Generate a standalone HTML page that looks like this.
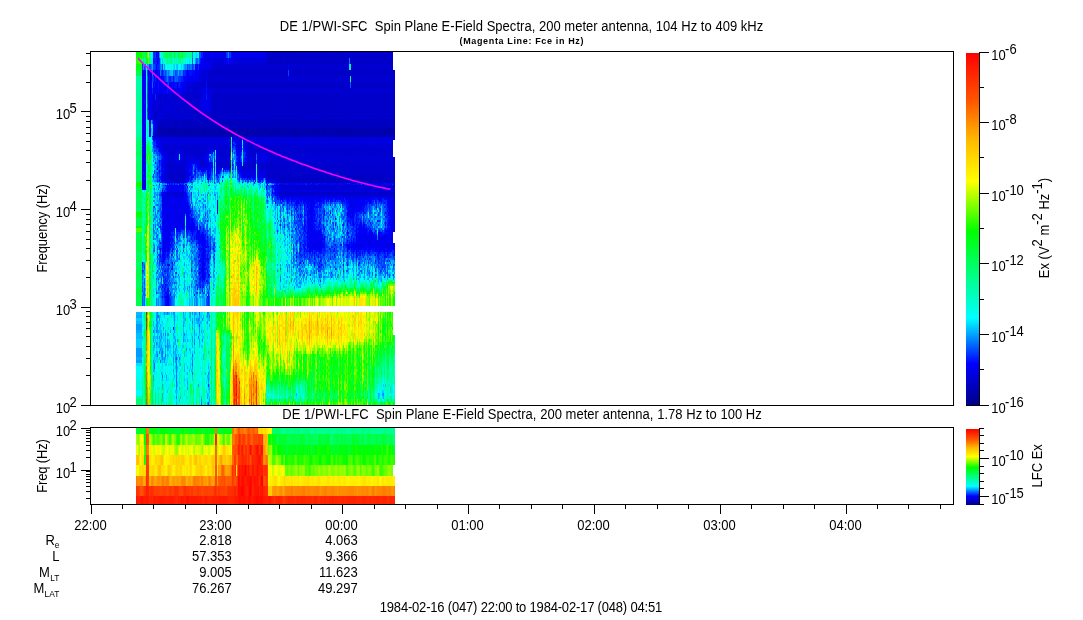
<!DOCTYPE html>
<html lang="en"><head><meta charset="utf-8"><title>DE 1/PWI Spin Plane E-Field Spectra</title>
<style>html,body{margin:0;padding:0;background:#fff;}body{width:1083px;height:620px;overflow:hidden;}</style>
</head><body>
<svg width="1083" height="620" viewBox="0 0 1083 620" style="display:block">
<rect x="0" y="0" width="1083" height="620" fill="#fff"/>
<g shape-rendering="crispEdges" fill="none" stroke-width="1" transform="translate(.5 0)">
<path stroke="#0000ad" d="M158 128v8M159 132v5M160 128v4M161 128v4M161 136v1M162 132v4M163 132v4M164 132v4M166 136v1M167 128v8M168 128v4M168 136v1M169 128v4M170 128v9M172 128v4M173 128v8M174 128v4M175 128v8M176 128v4M176 136v1M177 128v4M178 132v5M180 136v1M181 128v9M182 128v4M182 136v1M183 136v1M184 128v9M185 128v9M186 136v1M187 132v5M188 132v5M189 128v8M190 128v8M191 128v4M192 128v8M193 132v4M194 128v4M195 128v9M196 136v1M197 128v4M197 136v1M198 136v1M199 132v5M200 128v4M200 136v1M202 128v4M203 128v9M204 128v9M205 132v5M206 132v4M207 136v1M208 128v4M209 128v4M211 128v4M212 128v9M213 136v1M214 128v9M215 132v5M216 136v1M217 128v8M218 128v8M219 128v4M220 132v5M221 128v9M222 132v4M223 128v9M224 128v9M225 128v9M226 132v5M227 128v4M227 136v1M228 128v8M229 128v4M230 132v5M232 128v4M233 128v8M234 128v9M235 132v5M236 128v9M237 132v4M238 132v5M239 128v9M240 136v1M241 136v1M242 128v9M243 132v4M245 128v8M246 128v8M247 128v9M248 132v5M249 132v5M250 128v9M251 128v4M252 128v4M252 136v1M253 128v9M254 128v4M256 132v4M257 128v4M258 132v4M259 128v4M259 136v1M260 136v1M262 132v5M263 132v4M264 128v4M265 128v4M265 136v1M266 128v9M267 128v4M268 132v4M269 128v4M270 132v5M271 132v4M272 128v8M273 132v5M274 128v4M274 136v1M275 128v9M276 132v5M277 128v8M278 128v4M278 136v1M279 128v4M280 132v5M282 132v5M283 128v8M284 128v8M285 132v4M286 128v4M287 128v4M287 136v1M289 128v4M290 132v4M291 128v4M291 136v1M292 128v9M293 128v9M294 128v9M295 132v5M296 132v5M297 132v4M298 128v9M299 132v4M300 136v1M301 132v4M302 132v4M305 128v9M306 128v8M307 128v4M308 128v4M308 136v1M309 128v4M310 132v4M311 128v4M311 136v1M312 128v8M313 128v4M314 128v4M314 136v1M315 128v8M316 128v4M316 136v1M317 136v1M318 128v9M319 132v4M320 136v1M321 128v4M321 136v1M322 128v4M322 136v1M323 128v4M324 128v8M325 128v8M326 128v4M327 136v1M328 132v5M329 128v4M329 136v1M331 136v1M332 132v5M333 128v4M334 136v1M335 128v9M336 128v8M337 132v5M338 128v9M339 132v5M340 128v9M341 128v8M342 128v8M343 128v9M344 132v4M345 132v4M346 132v5M347 128v8M348 128v4M349 128v4M350 128v8M351 132v5M352 128v4M352 136v1M353 132v4M354 132v5M355 136v1M356 128v4M357 128v4M358 128v9M359 132v4M360 128v8M361 128v9M362 136v1M364 128v9M365 132v4M366 128v4M366 136v1M367 132v4M368 128v8M370 136v1M372 132v4M373 132v4M374 128v9M375 136v1M376 128v4M376 136v1M377 132v4M378 136v1M379 132v4M380 128v4M381 136v1M382 128v9M383 132v4M384 128v4M385 128v8M386 128v4M386 136v1M387 128v9M388 128v4M389 128v4M390 128v9M391 128v4M391 136v1M392 128v9M393 128v8M394 132v5"/>
<path stroke="#0000b6" d="M157 132v5M158 136v1M159 128v4M160 132v5M161 132v4M162 128v4M162 136v1M163 128v4M163 136v1M164 128v4M164 136v1M165 128v9M166 128v8M167 136v1M168 132v4M169 132v5M171 128v9M172 132v5M173 136v1M174 132v5M175 136v1M176 132v4M177 132v5M178 128v4M179 128v9M180 128v8M182 132v4M183 128v8M186 128v8M187 128v4M188 128v4M189 136v1M190 136v1M191 132v5M192 136v1M193 128v4M193 136v1M194 132v5M196 128v8M197 132v4M198 128v8M199 128v4M200 132v4M201 128v9M202 132v5M205 128v4M206 128v4M206 136v1M207 128v8M208 132v5M209 132v5M210 128v9M211 132v5M213 128v8M215 128v4M216 128v8M217 136v1M218 136v1M219 132v5M220 128v4M222 128v4M222 136v1M226 128v4M227 132v4M228 136v1M229 132v5M230 128v4M231 128v9M232 132v5M233 136v1M235 128v4M237 128v4M237 136v1M238 128v4M240 119v1M240 128v8M241 128v8M243 128v4M243 136v1M244 128v9M245 136v1M246 136v1M248 128v4M249 128v4M251 132v5M252 132v4M254 132v5M255 128v9M256 128v4M256 136v1M257 132v5M258 128v4M258 136v1M259 132v4M260 128v8M261 128v9M262 128v4M263 128v4M263 136v1M264 132v5M265 132v4M267 132v5M268 128v4M268 136v1M269 132v5M270 128v4M271 128v4M271 136v1M272 136v1M273 128v4M274 132v4M275 119v1M276 128v4M277 136v1M278 132v4M279 132v5M280 128v4M281 128v9M282 128v4M283 136v1M284 136v1M285 128v4M285 136v1M286 132v5M287 132v4M288 128v9M289 132v5M290 128v4M290 136v1M291 132v4M295 128v4M296 128v4M297 128v4M297 136v1M299 128v4M299 136v1M300 128v8M301 128v4M301 136v1M302 128v4M302 136v1M303 128v9M304 128v9M306 136v1M307 132v5M308 132v4M309 132v5M310 128v4M310 136v1M311 132v4M312 136v1M313 132v5M314 132v4M315 136v1M316 132v4M317 128v8M319 128v4M319 136v1M320 128v8M321 132v4M322 132v4M323 132v5M324 136v1M325 136v1M326 132v5M327 128v8M328 128v4M329 119v1M329 132v4M330 128v9M331 128v8M332 128v4M333 132v5M334 128v8M336 136v1M337 128v4M339 128v4M341 136v1M342 136v1M344 128v4M344 136v1M345 128v4M345 136v1M346 128v4M347 136v1M348 132v5M349 132v5M350 136v1M351 128v4M352 132v4M353 128v4M353 136v1M354 128v4M355 128v8M356 132v5M357 132v5M359 128v4M359 136v1M360 136v1M362 128v8M363 128v9M365 128v4M365 136v1M366 132v4M367 128v4M367 136v1M368 136v1M369 128v9M370 128v8M371 128v9M372 128v4M372 136v1M373 128v4M373 136v1M375 128v8M376 132v4M377 128v4M377 136v1M378 128v8M379 128v4M379 136v1M380 132v5M381 128v8M383 128v4M383 136v1M384 132v5M385 136v1M386 132v4M388 119v1M388 132v5M389 132v5M391 132v4M393 119v1M393 136v1M394 128v4"/>
<path stroke="#0000bf" d="M156 136v1M157 128v4M158 124v4M159 124v4M160 124v4M161 119v1M161 124v4M163 119v9M164 124v4M165 119v5M166 124v4M167 124v4M168 120v8M169 119v9M170 176v2M172 120v4M172 176v2M173 119v9M174 120v8M175 119v9M176 120v8M177 120v8M178 119v9M179 119v1M179 124v4M180 119v1M181 124v4M182 120v8M183 120v8M184 119v9M185 119v9M186 120v8M187 119v9M188 119v1M188 124v4M189 119v9M190 119v9M191 120v8M192 124v4M193 119v9M194 120v8M195 119v1M195 124v4M196 119v9M197 120v8M198 119v9M199 119v9M200 119v9M201 119v9M202 120v8M203 119v9M204 120v8M205 119v9M206 119v9M207 120v8M208 120v8M209 120v8M210 119v9M211 119v9M212 119v9M213 119v1M213 124v4M214 119v9M215 119v9M216 119v9M217 119v9M218 120v8M219 119v9M220 119v9M221 119v9M222 119v9M223 119v9M224 119v9M225 119v9M226 119v9M227 119v9M228 119v9M229 119v9M230 119v9M231 119v9M232 120v8M233 119v9M234 119v9M235 119v5M236 119v9M237 119v9M238 119v9M239 119v9M240 120v8M241 119v9M242 119v9M243 119v9M244 120v8M245 119v9M246 120v8M247 119v9M248 119v9M249 120v8M250 119v9M251 119v9M252 119v9M253 119v9M254 120v8M255 70v6M255 119v9M256 120v8M257 119v9M258 119v9M259 119v9M260 119v9M261 120v8M262 119v9M263 120v8M264 119v9M265 119v9M266 119v9M267 119v9M268 120v8M269 58v6M269 119v9M270 124v4M271 119v9M272 119v9M273 119v9M274 119v9M275 120v8M276 119v9M277 119v9M278 119v9M279 119v9M280 58v6M280 119v9M281 119v9M281 180v2M282 119v9M282 178v4M283 119v9M283 176v7M284 119v9M284 178v2M285 120v8M285 182v1M286 119v9M286 182v1M287 58v6M287 119v9M287 180v2M288 120v8M288 180v3M289 119v9M289 180v2M290 119v9M290 178v4M291 119v9M291 178v4M292 119v9M292 176v2M293 119v9M293 180v2M294 119v9M294 176v2M295 119v9M295 180v3M296 119v9M297 119v9M297 182v1M298 119v9M299 119v9M299 182v1M300 119v9M300 178v2M301 119v9M301 182v1M302 119v9M303 119v9M303 176v4M303 182v1M304 120v8M304 180v3M305 119v9M305 178v2M306 119v9M306 178v2M307 119v9M308 119v9M308 176v2M309 119v9M310 119v9M310 178v4M311 120v8M312 119v9M312 178v2M313 119v9M313 176v4M314 119v9M314 182v1M315 119v9M315 182v1M316 119v9M316 182v1M317 120v8M317 176v2M318 119v9M318 178v2M318 182v1M319 119v9M320 119v9M320 176v2M320 182v1M321 119v9M321 176v4M322 94v6M322 119v9M322 178v2M323 119v9M323 178v2M323 182v1M324 119v9M325 119v9M325 180v3M326 119v9M327 119v9M327 176v2M328 119v9M328 176v2M328 180v2M329 58v6M329 120v8M329 182v1M330 119v9M330 176v2M330 180v2M331 119v9M331 178v5M332 119v9M332 180v3M333 119v9M333 176v2M334 120v8M334 180v3M335 119v9M335 182v1M336 119v9M336 176v2M337 119v9M337 180v3M338 119v9M338 182v1M339 119v9M339 178v2M339 182v1M340 119v9M341 119v9M341 176v2M342 58v6M342 119v9M343 119v9M343 178v2M344 119v9M344 180v2M345 119v9M345 180v2M346 120v8M346 176v2M346 180v2M347 120v8M347 176v2M348 58v6M348 119v9M348 176v6M349 70v6M349 119v9M349 182v1M350 124v4M350 178v4M351 119v9M351 176v2M352 119v9M353 119v9M353 180v2M354 119v9M354 176v2M355 119v9M355 182v1M356 120v8M356 178v5M357 119v9M358 119v9M358 176v2M358 182v1M359 119v9M359 176v2M359 182v1M360 119v9M360 176v4M360 182v1M361 119v9M361 176v2M361 180v2M362 119v9M362 176v4M363 119v9M363 180v2M364 119v9M364 176v2M364 182v1M365 119v9M365 180v2M366 119v9M366 178v2M367 119v9M367 178v2M367 182v1M368 119v9M368 176v2M369 119v9M369 180v3M370 119v9M370 176v2M370 180v3M371 119v9M371 176v2M372 119v9M372 176v2M373 119v9M373 178v2M374 120v8M374 176v4M375 119v9M375 176v4M376 120v8M376 176v2M377 119v9M377 180v3M378 119v9M378 176v2M379 120v8M379 178v2M380 119v9M380 182v1M381 119v9M381 178v4M382 119v9M382 178v2M382 182v1M383 119v9M384 119v9M384 180v2M385 94v6M385 119v9M386 119v9M386 182v1M387 119v9M387 180v2M388 120v8M388 178v4M389 119v9M390 119v9M391 119v9M391 176v4M391 182v1M392 119v9M393 120v8M393 180v3M394 119v5"/>
<path stroke="#0000c8" d="M154 136v1M155 112v6M155 136v1M156 112v6M156 119v1M156 132v4M157 119v5M158 94v6M158 119v5M159 119v5M160 100v4M160 119v5M161 108v4M161 120v4M162 120v8M164 119v5M165 124v4M166 94v10M166 112v4M166 119v5M167 116v2M167 119v5M168 116v2M168 119v1M168 162v2M168 168v2M168 174v6M169 172v8M170 112v4M170 119v9M170 162v2M170 174v2M170 178v2M171 108v10M171 120v8M171 164v6M171 174v6M172 94v6M172 119v1M172 124v4M172 170v4M172 178v2M173 170v2M173 174v4M174 108v4M174 119v1M174 168v4M174 174v4M175 94v10M175 174v6M176 94v6M176 119v1M176 166v2M176 174v6M177 94v6M177 108v4M177 119v1M177 174v6M178 174v6M179 108v4M179 120v4M179 168v4M179 174v6M180 94v6M180 120v8M180 170v2M180 174v6M181 108v8M181 119v5M181 170v2M181 174v6M182 94v6M182 119v1M182 172v8M183 119v1M183 162v4M183 174v6M184 108v10M186 104v8M186 119v1M187 94v10M188 94v6M188 120v4M189 94v6M189 112v6M190 112v6M191 94v6M191 116v2M191 119v1M192 94v6M192 112v6M192 119v5M192 145v1M194 112v6M194 119v1M195 94v6M195 112v6M195 120v4M196 108v10M197 94v6M197 119v1M198 94v10M198 112v6M199 112v6M202 116v2M202 119v1M203 82v6M203 116v2M204 82v6M204 116v2M204 119v1M205 82v6M207 82v6M207 119v1M208 82v6M208 116v2M208 119v1M209 116v2M209 119v1M210 82v6M210 116v2M211 70v6M211 82v6M211 116v2M212 70v6M212 82v6M212 112v6M213 70v6M213 82v6M213 94v24M213 120v4M214 70v6M214 82v6M214 94v24M215 70v6M215 82v6M215 94v24M216 70v6M216 82v6M216 94v24M217 70v6M217 82v6M217 94v24M218 70v6M218 82v6M218 94v24M218 119v1M219 70v6M219 82v6M219 94v24M219 164v2M220 70v6M220 82v6M220 94v10M220 108v10M221 70v6M221 82v6M221 94v24M222 70v6M222 82v6M222 94v24M222 162v2M223 70v6M223 82v6M223 94v24M223 164v2M224 70v6M224 82v6M224 94v24M224 162v4M225 70v6M225 82v6M225 94v24M225 162v2M226 70v6M226 82v6M226 94v24M226 162v2M227 70v6M227 82v6M227 94v24M228 70v6M228 82v6M228 94v24M228 164v2M229 70v6M229 82v6M229 94v24M230 70v6M230 82v6M230 94v24M231 70v6M231 82v6M231 94v24M232 70v6M232 82v6M232 94v24M232 119v1M233 70v6M233 82v6M233 94v22M234 70v6M234 82v6M234 94v22M235 70v6M235 82v6M235 94v22M235 124v4M236 70v6M236 82v6M236 94v24M237 70v6M237 82v6M237 94v24M238 70v6M238 82v6M238 94v24M239 70v6M239 82v6M239 94v24M240 70v6M240 82v6M240 94v14M240 112v6M241 70v6M241 82v6M241 94v24M242 70v6M242 82v6M242 94v24M243 70v6M243 82v6M243 94v24M243 166v2M244 70v6M244 82v6M244 94v22M244 119v1M245 70v6M245 82v6M245 94v24M246 70v6M246 82v6M246 94v24M246 119v1M247 70v6M247 82v6M247 94v24M248 70v6M248 82v6M248 94v24M249 70v6M249 82v6M249 94v24M249 119v1M250 70v6M250 82v6M250 94v24M250 162v4M251 70v6M251 82v6M251 94v24M251 164v2M252 70v6M252 82v6M252 94v22M252 162v4M253 70v6M253 82v6M253 94v24M253 162v2M254 70v6M254 82v6M254 94v24M254 119v1M254 162v2M254 166v2M255 82v6M255 94v24M256 70v6M256 82v6M256 94v24M256 119v1M257 70v6M257 82v6M257 94v24M258 70v6M258 82v6M258 94v24M258 162v2M259 70v6M259 82v6M259 94v22M260 70v6M260 82v6M260 94v24M261 70v6M261 82v6M261 94v24M261 119v1M262 70v6M262 82v6M262 94v22M263 70v6M263 82v6M263 94v24M263 119v1M264 70v6M264 82v6M264 94v24M264 145v1M264 166v2M265 70v6M265 82v6M265 94v24M266 58v6M266 70v6M266 82v6M266 94v24M266 174v4M267 52v12M267 70v6M267 82v6M267 94v24M267 162v4M267 174v4M268 52v12M268 70v6M268 82v6M268 94v24M268 119v1M268 174v4M269 52v6M269 70v6M269 82v6M269 94v24M269 164v4M269 172v6M270 52v12M270 70v6M270 82v6M270 94v24M270 119v5M270 168v4M270 174v2M271 58v6M271 70v6M271 82v36M271 162v2M271 166v4M271 174v4M272 58v6M272 70v6M272 82v6M272 94v24M272 164v2M272 174v4M273 52v12M273 70v6M273 82v6M273 94v24M273 174v4M274 52v12M274 70v6M274 82v6M274 94v14M274 112v6M274 164v2M274 170v2M274 174v4M275 52v12M275 70v6M275 82v6M275 94v24M275 162v2M275 166v4M275 172v6M276 52v12M276 70v6M276 82v6M276 94v22M276 170v2M276 174v6M277 52v12M277 70v6M277 82v6M277 94v24M277 166v2M277 174v6M278 52v12M278 70v6M278 82v6M278 94v24M278 150v2M278 162v2M278 166v2M278 174v8M279 52v12M279 70v6M279 82v6M279 94v14M279 112v6M279 170v2M279 174v8M280 52v6M280 70v6M280 82v6M280 94v24M280 164v2M280 174v9M281 52v12M281 70v6M281 82v36M281 166v2M281 170v2M281 174v6M281 182v1M282 52v12M282 70v6M282 82v6M282 94v24M282 168v10M282 182v1M283 52v12M283 70v6M283 82v6M283 94v24M283 164v6M283 174v2M284 52v12M284 70v6M284 82v6M284 94v24M284 172v6M284 180v3M284 192v2M285 58v6M285 70v6M285 82v6M285 94v24M285 119v1M285 166v2M285 174v8M285 192v2M286 52v12M286 70v6M286 82v6M286 94v24M286 162v2M286 168v2M286 172v10M286 192v2M287 52v6M287 70v6M287 82v6M287 94v24M287 164v4M287 170v2M287 174v6M287 182v1M288 52v12M288 82v6M288 94v24M288 119v1M288 164v2M288 174v6M288 192v2M289 52v12M289 70v6M289 82v6M289 94v24M289 174v6M289 182v1M289 192v2M290 52v24M290 82v6M290 94v24M290 162v16M290 182v1M290 192v2M291 52v12M291 70v6M291 82v6M291 94v24M291 162v2M291 166v12M291 182v1M291 192v2M292 52v12M292 70v6M292 82v6M292 94v24M292 164v2M292 172v4M292 178v5M292 192v2M293 52v12M293 70v6M293 82v6M293 94v24M293 162v2M293 166v2M293 172v8M293 182v1M293 192v2M294 52v12M294 70v6M294 82v6M294 94v24M294 162v4M294 168v2M294 172v4M294 178v5M294 192v2M295 52v12M295 70v6M295 82v6M295 94v24M295 172v8M296 52v12M296 70v6M296 82v6M296 94v24M296 172v2M296 176v7M296 192v2M297 58v6M297 70v6M297 82v6M297 94v24M297 166v2M297 174v8M298 58v6M298 70v6M298 82v6M298 94v24M298 168v2M298 174v9M299 52v12M299 70v6M299 82v6M299 94v24M299 166v4M299 174v8M299 192v2M300 52v12M300 70v6M300 82v6M300 94v24M300 162v6M300 172v6M300 180v3M301 52v12M301 70v6M301 82v6M301 94v24M301 170v12M301 192v2M302 52v12M302 70v6M302 82v6M302 94v24M302 162v2M302 170v13M303 52v12M303 70v6M303 82v6M303 94v24M303 164v2M303 168v2M303 172v4M303 180v2M304 52v12M304 70v6M304 82v6M304 94v6M304 104v14M304 119v1M304 162v2M304 168v2M304 174v6M305 58v6M305 70v6M305 82v6M305 94v24M305 164v2M305 174v4M305 180v3M306 52v12M306 70v6M306 82v6M306 94v24M306 170v2M306 176v2M306 180v3M306 192v2M307 52v12M307 70v6M307 82v6M307 94v24M307 164v2M307 174v9M307 192v2M308 52v12M308 70v6M308 82v6M308 94v24M308 162v4M308 168v2M308 172v4M308 178v5M309 52v12M309 70v6M309 82v6M309 94v22M309 162v2M309 168v2M309 174v9M310 52v12M310 70v6M310 82v6M310 94v24M310 166v2M310 174v4M310 182v1M311 58v6M311 70v6M311 82v6M311 94v22M311 119v1M311 174v9M311 192v2M312 52v12M312 70v6M312 82v6M312 94v24M312 162v2M312 166v2M312 170v2M312 174v4M312 180v3M312 192v2M313 52v12M313 70v6M313 82v6M313 94v24M313 168v2M313 174v2M313 180v3M313 192v2M314 58v6M314 70v6M314 82v6M314 94v22M314 174v8M315 52v12M315 70v6M315 82v6M315 94v22M315 162v10M315 174v8M315 192v2M316 58v6M316 70v6M316 82v6M316 94v24M316 164v4M316 174v8M317 52v12M317 70v6M317 82v6M317 94v24M317 119v1M317 168v2M317 174v2M317 178v5M317 192v2M318 52v12M318 70v6M318 82v6M318 94v24M318 168v2M318 172v6M318 180v2M319 52v24M319 82v6M319 94v24M319 162v4M319 168v2M319 172v11M319 192v2M320 52v12M320 70v6M320 82v6M320 94v24M320 162v2M320 166v2M320 170v2M320 174v2M320 178v4M321 52v12M321 70v6M321 82v6M321 94v24M321 162v2M321 174v2M321 180v3M321 192v2M322 52v12M322 70v6M322 82v6M322 104v14M322 166v2M322 174v4M322 180v3M323 58v6M323 70v6M323 82v6M323 94v24M323 166v4M323 172v6M323 180v2M323 192v2M324 52v12M324 70v6M324 82v6M324 94v24M324 164v2M324 172v11M325 52v12M325 70v6M325 82v6M325 94v24M325 168v4M325 174v6M326 52v12M326 70v6M326 82v6M326 94v24M326 162v2M326 166v6M326 176v7M327 52v12M327 70v6M327 82v6M327 94v24M327 166v4M327 172v4M327 178v5M327 192v2M328 52v12M328 70v6M328 82v6M328 94v24M328 162v2M328 168v4M328 174v2M328 178v2M328 182v1M328 192v2M329 52v6M329 70v6M329 82v36M329 162v2M329 172v10M329 192v2M330 58v6M330 70v6M330 82v6M330 94v24M330 166v2M330 172v4M330 178v2M330 182v1M330 192v2M331 52v12M331 70v6M331 82v6M331 94v24M331 164v6M331 174v4M332 52v12M332 70v6M332 82v30M332 116v2M332 174v6M332 192v2M333 58v6M333 70v6M333 82v6M333 94v14M333 112v6M333 150v2M333 174v2M333 178v5M334 52v12M334 70v6M334 82v6M334 94v24M334 119v1M334 166v2M334 174v6M334 192v2M335 58v6M335 70v6M335 82v6M335 94v24M335 162v2M335 174v8M335 192v2M336 52v12M336 70v6M336 82v6M336 94v24M336 162v2M336 168v4M336 174v2M336 178v5M336 192v2M337 52v12M337 70v6M337 82v6M337 94v24M337 164v8M337 174v6M338 52v12M338 70v6M338 82v6M338 94v24M338 174v8M338 192v2M339 52v12M339 70v6M339 82v6M339 94v22M339 162v2M339 168v2M339 174v4M339 180v2M340 52v12M340 70v6M340 82v6M340 94v24M340 166v2M340 170v2M340 174v9M341 52v12M341 70v6M341 82v6M341 94v24M341 172v4M341 178v5M342 70v6M342 82v6M342 94v14M342 112v6M342 145v1M342 168v4M342 174v9M343 52v12M343 70v6M343 82v6M343 94v24M343 162v2M343 170v2M343 174v4M343 180v3M343 192v2M344 58v6M344 70v6M344 82v6M344 94v24M344 162v2M344 172v8M344 182v1M344 192v2M345 58v6M345 70v6M345 82v6M345 94v24M345 166v2M345 174v6M345 182v1M346 52v12M346 70v6M346 82v6M346 94v24M346 119v1M346 168v2M346 174v2M346 178v2M346 182v1M346 192v2M347 52v12M347 70v6M347 82v6M347 94v24M347 119v1M347 145v1M347 174v2M347 178v5M347 192v2M348 52v6M348 70v6M348 82v6M348 94v24M348 168v2M348 174v2M348 182v1M348 192v2M349 82v6M349 94v24M349 162v2M349 168v2M349 174v8M349 192v2M350 52v12M350 70v6M350 94v24M350 119v5M350 162v2M350 166v2M350 170v2M350 174v4M350 182v1M351 52v12M351 70v6M351 82v6M351 94v10M351 108v10M351 166v2M351 174v2M351 178v5M351 192v2M352 52v12M352 70v6M352 82v6M352 94v14M352 112v6M352 168v2M352 174v9M352 185v1M352 192v2M353 52v12M353 70v6M353 82v6M353 94v6M353 104v14M353 164v6M353 176v4M353 182v1M354 52v12M354 70v6M354 82v6M354 94v24M354 174v2M354 178v5M354 192v2M355 58v6M355 70v6M355 82v6M355 94v22M355 170v2M355 174v8M355 192v2M356 58v6M356 70v6M356 82v6M356 94v24M356 119v1M356 162v2M356 168v2M356 174v4M357 58v18M357 82v6M357 94v24M357 168v15M357 192v2M358 52v12M358 70v6M358 82v6M358 94v24M358 166v2M358 170v2M358 174v2M358 178v4M358 192v2M359 58v6M359 70v6M359 82v6M359 94v24M359 166v2M359 170v2M359 174v2M359 178v4M359 192v2M360 52v12M360 70v6M360 82v6M360 94v24M360 168v2M360 174v2M360 180v2M360 192v2M361 58v6M361 70v6M361 82v6M361 94v24M361 166v2M361 172v4M361 178v2M361 182v1M362 52v12M362 70v6M362 82v6M362 94v24M362 162v2M362 174v2M362 180v3M362 192v2M363 58v6M363 70v6M363 82v6M363 94v24M363 162v2M363 166v2M363 172v8M363 182v1M363 192v2M364 52v12M364 70v6M364 82v6M364 94v6M364 104v14M364 164v2M364 174v2M364 178v4M364 192v2M365 58v6M365 70v6M365 82v6M365 94v24M365 174v6M365 182v1M365 192v2M366 58v6M366 70v6M366 82v6M366 94v24M366 172v6M366 180v3M366 192v2M367 58v6M367 70v6M367 82v6M367 94v24M367 148v2M367 164v2M367 168v10M367 180v2M367 192v2M368 52v12M368 70v6M368 82v6M368 94v24M368 162v2M368 170v2M368 174v2M368 178v5M368 192v2M369 52v12M369 70v6M369 82v6M369 94v24M369 170v2M369 174v6M369 192v2M370 58v6M370 70v6M370 82v6M370 94v24M370 162v2M370 170v2M370 174v2M370 178v2M370 192v2M371 52v12M371 70v6M371 82v6M371 94v6M371 104v14M371 166v2M371 174v2M371 178v5M371 192v2M372 52v12M372 70v6M372 82v6M372 94v6M372 104v14M372 170v2M372 174v2M372 178v5M372 192v2M373 52v12M373 70v6M373 82v6M373 94v24M373 162v2M373 174v4M373 180v3M373 192v2M374 52v12M374 70v6M374 82v6M374 94v24M374 119v1M374 174v2M374 180v3M374 192v2M375 58v6M375 70v6M375 82v6M375 94v24M375 166v2M375 174v2M375 180v3M375 192v2M376 52v12M376 70v6M376 82v6M376 94v18M376 116v2M376 119v1M376 162v6M376 172v4M376 178v5M376 192v2M377 52v12M377 70v6M377 82v6M377 94v24M377 174v6M377 192v2M378 52v12M378 70v6M378 82v6M378 94v24M378 172v4M378 178v5M379 52v12M379 70v6M379 82v6M379 94v24M379 119v1M379 168v2M379 174v4M379 180v3M380 58v6M380 70v6M380 82v6M380 94v24M380 162v2M380 172v10M380 192v2M381 52v12M381 70v6M381 82v6M381 94v24M381 164v2M381 170v2M381 174v4M381 182v1M381 192v2M382 58v6M382 70v6M382 82v6M382 94v6M382 104v14M382 170v8M382 180v2M382 192v2M383 58v6M383 70v6M383 82v6M383 94v24M383 162v2M383 170v13M383 185v1M383 192v2M384 52v12M384 70v6M384 82v6M384 94v24M384 162v2M384 172v8M384 182v1M384 192v2M385 52v12M385 70v6M385 82v6M385 100v18M385 164v4M385 174v9M386 52v12M386 70v6M386 82v6M386 94v24M386 162v2M386 166v2M386 174v8M386 192v2M387 52v12M387 70v6M387 82v6M387 94v24M387 172v8M387 182v1M388 52v24M388 82v6M388 94v24M388 162v2M388 166v6M388 174v4M388 182v1M389 52v12M389 70v6M389 82v6M389 94v24M389 164v2M389 168v4M389 174v9M389 192v2M390 52v12M390 70v6M390 82v6M390 94v24M390 162v2M390 174v9M390 192v2M391 52v12M391 70v6M391 82v6M391 94v24M391 168v4M391 174v2M391 180v2M391 192v2M392 58v6M392 70v6M392 82v6M392 94v24M392 174v9M392 192v2M393 70v6M393 82v6M393 94v18M393 116v2M393 174v6M394 70v6M394 82v6M394 94v24M394 124v4M394 164v2M394 170v13M394 192v2"/>
<path stroke="#0000d1" d="M153 108v4M153 136v1M154 100v18M155 108v4M155 119v1M155 132v4M156 94v18M156 120v4M156 128v4M157 100v8M157 112v6M157 124v4M158 104v8M159 94v6M159 108v4M160 94v6M160 104v14M161 104v4M162 94v6M162 112v6M162 119v1M163 94v14M163 145v3M164 100v4M164 112v6M164 145v3M165 94v10M165 112v6M165 145v5M166 116v2M166 145v5M166 176v2M167 108v8M167 146v8M167 162v18M168 100v8M168 112v4M168 145v11M168 164v4M168 170v4M168 180v3M169 100v8M169 112v6M169 145v13M169 162v10M169 180v2M170 100v12M170 116v2M170 145v11M170 158v4M170 164v10M170 180v2M171 94v6M171 104v4M171 119v1M171 145v11M171 158v2M171 162v2M171 170v4M171 180v2M172 108v4M172 145v11M172 162v8M172 174v2M172 180v2M173 94v24M173 145v15M173 162v8M173 172v2M173 178v4M174 94v6M174 104v4M174 112v6M174 145v5M174 162v6M174 172v2M174 178v4M175 112v6M175 145v5M175 162v12M175 180v3M176 100v18M176 145v3M176 164v2M176 168v6M176 180v2M177 104v4M177 112v6M177 145v5M177 164v10M177 180v2M178 100v18M178 145v3M178 166v8M178 180v2M179 104v4M179 145v3M179 164v4M179 172v2M179 180v2M180 100v18M180 146v4M180 164v6M180 172v2M180 180v3M181 94v6M181 116v2M181 145v3M181 162v8M181 172v2M181 180v2M182 100v18M182 145v7M182 162v10M182 180v2M183 94v6M183 104v8M183 145v13M183 166v8M183 180v3M184 104v4M184 145v11M184 162v8M184 172v8M185 100v18M185 145v9M185 162v2M185 174v4M186 94v10M186 112v6M186 145v9M187 104v14M187 145v11M188 88v6M188 100v18M188 145v13M189 88v6M189 104v8M189 145v11M190 88v24M190 145v11M191 100v16M191 145v11M192 82v12M192 104v8M192 146v10M193 88v31M193 145v11M194 82v18M194 104v8M194 145v11M195 82v6M195 100v12M195 145v11M196 82v26M196 145v11M197 82v12M197 100v18M197 145v13M198 82v6M198 104v8M198 145v13M199 82v30M199 145v11M200 108v10M200 145v13M201 82v6M201 112v6M201 145v11M201 164v2M202 82v6M202 112v4M202 146v10M202 158v2M202 162v4M203 76v6M203 145v1M203 148v10M203 160v8M204 112v4M204 145v9M204 162v2M205 76v6M205 116v2M205 145v3M205 150v2M206 116v2M206 145v5M207 76v6M207 116v2M207 145v3M208 70v12M208 112v4M208 146v2M209 70v18M209 112v4M209 145v3M210 70v12M210 112v4M210 145v3M211 76v6M211 94v6M211 108v8M211 145v1M212 64v6M212 76v6M212 88v24M212 145v1M213 64v6M213 76v6M213 88v6M213 145v3M214 64v6M214 76v6M214 88v6M214 145v3M215 64v6M215 76v6M215 88v6M215 145v3M216 64v6M216 76v6M216 88v6M216 145v3M217 64v6M217 76v6M217 88v6M217 145v3M217 164v2M218 64v6M218 76v6M218 88v6M218 118v1M218 145v15M218 162v6M219 64v6M219 76v6M219 88v6M219 118v1M219 145v13M219 160v4M219 166v2M220 64v6M220 76v6M220 88v6M220 104v4M220 145v3M220 150v6M220 158v2M220 162v6M221 64v6M221 76v6M221 88v6M221 145v11M221 158v2M221 162v6M222 64v6M222 76v6M222 88v6M222 145v13M222 164v4M223 64v6M223 76v6M223 88v6M223 145v9M223 156v8M223 166v2M224 64v6M224 76v6M224 88v6M224 145v3M224 152v4M224 158v2M224 166v2M225 64v6M225 76v6M225 88v6M225 145v1M225 148v10M225 164v4M226 64v6M226 76v6M226 88v6M226 145v13M226 160v2M226 164v4M227 64v6M227 76v6M227 88v6M227 145v11M227 162v6M228 76v6M228 88v6M228 145v13M228 160v4M228 166v2M229 64v6M229 76v6M229 88v6M230 64v6M230 76v6M230 88v6M231 64v6M231 76v6M231 88v6M232 64v6M232 76v6M232 88v6M233 64v6M233 76v6M233 88v6M233 116v2M234 64v6M234 76v6M234 88v6M234 116v2M235 64v6M235 76v6M235 88v6M235 116v2M236 64v6M236 76v6M236 88v6M237 64v6M237 76v6M237 88v6M238 64v6M238 76v6M238 88v6M238 145v3M239 64v6M239 76v6M239 88v6M239 145v1M240 64v6M240 76v6M240 88v6M240 108v4M241 64v6M241 76v6M241 88v6M242 64v6M242 76v6M242 88v6M243 64v6M243 76v6M243 88v6M243 168v2M244 64v6M244 76v6M244 88v6M244 116v2M244 166v4M245 64v6M245 76v6M245 88v6M245 166v4M246 64v6M246 76v6M246 88v6M246 166v2M247 64v6M247 76v6M247 88v6M247 162v8M248 64v6M248 76v6M248 88v6M248 145v13M248 160v8M249 64v6M249 76v6M249 88v6M249 145v5M249 152v2M249 160v10M250 64v6M250 76v6M250 88v6M250 145v11M250 158v4M250 166v2M251 64v6M251 76v6M251 88v6M251 145v11M251 160v4M251 166v4M252 64v6M252 76v6M252 88v6M252 116v2M252 145v7M252 154v8M252 166v4M253 64v6M253 76v6M253 88v6M253 140v2M253 145v17M253 164v6M254 64v6M254 76v6M254 88v6M254 145v13M254 164v2M254 168v2M255 64v6M255 76v6M255 88v6M255 118v1M255 145v15M255 162v6M256 64v6M256 76v6M256 88v6M256 146v6M257 64v6M257 76v6M257 88v6M257 145v11M257 160v10M258 64v6M258 76v6M258 88v6M258 145v15M258 164v6M259 64v6M259 76v6M259 88v6M259 116v2M259 145v5M259 162v8M260 64v6M260 76v6M260 88v6M260 145v5M260 162v8M261 64v6M261 76v6M261 88v6M261 145v5M261 164v4M262 64v6M262 76v6M262 88v6M262 116v2M262 145v3M262 166v4M263 64v6M263 76v6M263 88v6M263 145v3M263 164v6M264 64v6M264 76v6M264 88v6M264 146v2M264 164v2M264 168v2M265 64v6M265 76v6M265 88v6M265 145v1M265 166v4M266 52v6M266 64v6M266 76v6M266 88v6M266 145v1M266 148v8M266 160v14M267 64v6M267 76v6M267 88v6M267 145v17M267 166v8M267 178v2M268 64v6M268 76v6M268 88v6M268 145v11M268 160v14M269 64v6M269 76v6M269 88v6M269 145v15M269 162v2M269 168v4M270 64v6M270 76v6M270 88v6M270 118v1M270 145v11M270 160v8M270 172v2M270 176v2M271 52v6M271 64v6M271 76v6M271 145v17M271 164v2M271 170v4M272 52v6M272 64v6M272 76v6M272 88v6M272 145v9M272 158v6M272 166v8M272 178v2M273 64v6M273 76v6M273 88v6M273 145v11M273 162v12M273 178v2M274 64v6M274 76v6M274 88v6M274 108v4M274 145v19M274 166v4M274 172v2M274 178v2M275 64v6M275 76v6M275 88v6M275 145v1M275 148v6M275 156v2M275 164v2M275 170v2M275 178v2M276 64v6M276 76v6M276 88v6M276 116v2M276 145v1M276 148v4M276 154v2M276 158v2M276 162v8M276 172v2M276 180v2M277 64v6M277 76v6M277 88v6M277 145v21M277 168v6M277 180v3M278 64v6M278 76v6M278 88v6M278 146v4M278 152v10M278 164v2M278 168v6M278 182v1M279 64v6M279 76v6M279 88v6M279 108v4M279 145v11M279 158v2M279 162v8M279 172v2M279 182v1M280 64v6M280 76v6M280 88v6M280 146v12M280 160v4M280 166v8M280 185v3M280 192v4M281 64v6M281 76v6M281 145v13M281 162v4M281 168v2M281 172v2M281 185v3M281 192v4M282 64v6M282 76v6M282 88v6M282 144v12M282 160v8M282 185v5M282 192v4M283 64v6M283 76v6M283 88v6M283 142v2M283 145v11M283 158v6M283 170v4M283 185v1M283 192v4M284 64v6M284 76v6M284 88v6M284 145v3M284 150v4M284 156v4M284 162v10M284 185v3M284 194v2M285 52v6M285 64v6M285 76v6M285 88v6M285 145v9M285 156v2M285 162v4M285 168v6M285 185v3M285 194v2M286 64v6M286 76v6M286 88v6M286 145v11M286 158v2M286 164v4M286 170v2M286 185v3M286 194v2M287 64v6M287 76v6M287 88v6M287 145v11M287 160v4M287 168v2M287 172v2M287 186v2M287 192v4M288 88v6M288 145v11M288 162v2M288 166v8M288 185v3M288 194v2M289 64v6M289 76v6M289 88v6M289 145v13M289 162v12M289 185v3M290 76v6M290 88v6M290 145v11M290 160v2M290 185v3M291 64v6M291 76v6M291 88v6M291 145v11M291 164v2M291 185v3M291 194v2M292 64v6M292 76v6M292 88v6M292 118v1M292 145v13M292 162v2M292 166v6M292 185v3M292 194v2M293 64v6M293 76v6M293 88v6M293 145v13M293 160v2M293 164v2M293 168v4M293 185v3M293 194v2M294 64v6M294 76v6M294 88v6M294 145v11M294 158v4M294 166v2M294 170v2M294 185v3M295 64v6M295 76v6M295 88v6M295 145v27M295 185v5M295 192v4M296 64v6M296 76v6M296 88v6M296 145v13M296 162v10M296 174v2M296 185v5M296 194v2M297 52v6M297 64v6M297 76v6M297 88v6M297 118v1M297 146v10M297 162v4M297 168v6M297 185v3M297 192v4M298 52v6M298 64v6M298 76v6M298 88v6M298 145v11M298 160v8M298 170v4M298 185v3M298 192v4M299 64v6M299 76v6M299 88v6M299 146v8M299 162v4M299 170v4M299 185v3M299 194v2M300 64v6M300 76v6M300 88v6M300 145v15M300 168v4M300 185v5M300 192v4M301 64v6M301 76v6M301 88v6M301 145v9M301 158v12M301 185v3M301 194v2M302 64v6M302 76v6M302 88v6M302 145v11M302 158v4M302 164v6M302 185v3M302 192v4M303 64v6M303 76v6M303 88v6M303 145v11M303 158v2M303 162v2M303 166v2M303 170v2M303 185v1M303 192v4M304 64v6M304 76v6M304 88v6M304 100v4M304 145v11M304 164v4M304 170v4M304 185v3M304 192v2M305 52v6M305 64v6M305 76v6M305 88v6M305 145v11M305 160v4M305 166v8M305 185v3M305 192v4M306 64v6M306 76v6M306 88v6M306 145v9M306 156v4M306 162v8M306 172v4M306 186v2M306 194v2M307 64v6M307 76v6M307 88v6M307 145v15M307 162v2M307 166v8M307 185v3M307 194v2M308 64v6M308 76v6M308 88v6M308 145v11M308 166v2M308 170v2M308 186v2M308 192v4M309 64v6M309 76v6M309 88v6M309 116v2M309 146v10M309 160v2M309 164v4M309 170v4M309 185v3M309 192v4M310 64v6M310 76v6M310 88v6M310 118v1M310 145v9M310 156v2M310 160v6M310 168v6M310 185v3M310 192v4M311 52v6M311 64v6M311 76v6M311 88v6M311 116v2M311 145v15M311 162v12M311 185v1M311 194v2M312 64v6M312 76v6M312 88v6M312 118v1M312 145v11M312 160v2M312 164v2M312 168v2M312 172v2M312 185v3M312 194v2M313 64v6M313 76v6M313 88v6M313 145v11M313 158v2M313 162v6M313 170v4M313 185v3M313 194v2M314 52v6M314 64v6M314 76v6M314 88v6M314 116v2M314 145v11M314 158v2M314 162v12M314 185v3M314 192v2M315 64v6M315 76v6M315 88v6M315 116v2M315 145v11M315 160v2M315 172v2M315 185v3M316 52v6M316 64v6M316 76v6M316 88v6M316 145v11M316 160v4M316 168v6M316 185v3M316 192v4M317 64v6M317 76v6M317 88v6M317 145v9M317 160v8M317 170v4M317 185v3M317 194v2M318 64v6M318 76v6M318 88v6M318 145v11M318 160v8M318 170v2M318 185v3M318 192v4M319 76v6M319 88v6M319 146v2M319 150v6M319 160v2M319 166v2M319 170v2M319 185v3M319 194v2M320 64v6M320 76v6M320 88v6M320 145v9M320 156v2M320 164v2M320 168v2M320 172v2M320 185v5M320 192v4M321 64v6M321 76v6M321 88v6M321 145v9M321 156v4M321 164v10M321 185v3M321 194v2M322 64v6M322 76v6M322 88v6M322 100v4M322 145v13M322 160v6M322 168v6M322 185v3M322 192v4M323 52v6M323 64v6M323 76v6M323 88v6M323 145v21M323 170v2M323 185v3M323 194v2M324 64v6M324 76v6M324 88v6M324 146v10M324 162v2M324 166v6M324 185v3M324 192v4M325 64v6M325 76v6M325 88v6M325 118v1M325 146v10M325 162v6M325 172v2M325 185v3M325 192v4M326 64v6M326 76v6M326 88v6M326 145v11M326 158v4M326 164v2M326 172v4M326 185v3M326 192v4M327 64v6M327 76v6M327 88v6M327 145v9M327 162v4M327 170v2M327 185v3M327 194v2M328 64v6M328 76v6M328 88v6M328 145v1M328 148v6M328 158v2M328 164v4M328 172v2M328 185v3M328 194v2M329 64v6M329 76v6M329 145v5M329 152v6M329 160v2M329 164v8M329 185v3M329 194v2M330 52v6M330 64v6M330 76v6M330 88v6M330 145v21M330 168v4M330 185v3M330 194v2M331 64v6M331 76v6M331 88v6M331 145v15M331 162v2M331 170v4M331 185v3M331 192v4M332 64v6M332 76v6M332 112v4M332 145v7M332 154v2M332 158v2M332 162v12M332 185v3M333 52v6M333 64v6M333 76v6M333 88v6M333 108v4M333 146v4M333 152v2M333 156v2M333 162v12M333 185v3M333 192v4M334 64v6M334 76v6M334 88v6M334 145v11M334 158v2M334 162v4M334 168v6M334 185v3M334 194v2M335 52v6M335 64v6M335 76v6M335 88v6M335 145v13M335 164v10M335 185v3M335 194v2M336 64v6M336 76v6M336 88v6M336 145v11M336 158v2M336 164v4M336 172v2M336 185v3M336 194v2M337 64v6M337 76v6M337 88v6M337 145v13M337 160v4M337 172v2M337 185v3M337 192v4M338 64v6M338 76v6M338 88v6M338 145v11M338 160v14M338 185v3M338 194v2M339 64v6M339 76v6M339 88v6M339 116v2M339 145v11M339 158v2M339 164v4M339 170v4M339 185v3M339 192v4M340 64v6M340 76v6M340 88v6M340 145v11M340 158v2M340 162v4M340 168v2M340 172v2M340 186v2M340 192v4M341 64v6M341 76v6M341 88v6M341 146v10M341 162v10M341 185v3M341 192v4M342 52v6M342 64v6M342 76v6M342 88v6M342 108v4M342 146v6M342 154v4M342 162v6M342 172v2M342 185v3M342 192v4M343 64v6M343 76v6M343 88v6M343 118v1M343 145v11M343 158v4M343 164v6M343 172v2M343 185v3M343 194v2M344 52v6M344 64v6M344 76v6M344 88v6M344 145v7M344 154v2M344 158v2M344 164v8M344 185v3M344 194v2M345 52v6M345 64v6M345 76v6M345 88v6M345 118v1M345 145v11M345 162v4M345 168v6M345 185v1M345 192v4M346 64v6M346 76v6M346 88v6M346 145v11M346 160v8M346 170v4M346 185v3M346 194v2M347 64v6M347 76v6M347 88v6M347 146v12M347 160v14M347 185v3M347 194v2M348 64v6M348 76v6M348 88v6M348 145v23M348 170v4M348 185v1M348 194v2M349 76v6M349 88v6M349 146v10M349 164v4M349 170v4M349 185v3M349 194v2M350 88v6M350 145v13M350 160v2M350 164v2M350 168v2M350 172v2M350 185v3M350 192v4M351 64v6M351 76v6M351 88v6M351 104v4M351 145v13M351 162v4M351 168v6M351 185v3M351 194v2M352 64v6M352 76v6M352 88v6M352 108v4M352 145v13M352 160v8M352 170v4M352 186v2M352 194v2M353 64v6M353 76v6M353 88v6M353 100v4M353 145v11M353 162v2M353 170v6M353 185v3M353 192v4M354 64v6M354 76v6M354 88v6M354 146v8M354 156v2M354 162v12M354 185v3M354 194v2M355 52v6M355 64v6M355 76v6M355 88v6M355 116v2M355 145v15M355 162v8M355 172v2M355 185v3M356 52v6M356 64v6M356 76v6M356 88v6M356 145v17M356 164v4M356 170v4M356 185v3M356 192v4M357 52v6M357 76v6M357 88v6M357 145v11M357 158v2M357 162v6M357 185v3M357 194v2M358 64v6M358 76v6M358 88v6M358 146v10M358 160v6M358 168v2M358 172v2M358 185v3M358 194v2M359 52v6M359 64v6M359 76v6M359 88v6M359 140v2M359 146v12M359 162v4M359 168v2M359 172v2M359 185v1M359 194v2M360 64v6M360 76v6M360 88v6M360 145v11M360 158v2M360 162v6M360 170v4M360 185v3M361 52v6M361 64v6M361 76v6M361 88v6M361 145v9M361 162v4M361 168v4M361 185v3M361 192v2M362 64v6M362 76v6M362 88v6M362 145v15M362 164v10M362 185v3M362 194v2M363 52v6M363 64v6M363 76v6M363 88v6M363 145v9M363 156v6M363 164v2M363 168v4M363 185v1M363 194v2M364 64v6M364 76v6M364 88v6M364 100v4M364 118v1M364 145v15M364 162v2M364 166v8M364 185v3M364 194v2M365 52v6M365 64v6M365 76v6M365 88v6M365 145v5M365 152v4M365 162v12M365 185v3M366 52v6M366 64v6M366 76v6M366 88v6M366 145v13M366 162v10M366 185v3M367 52v6M367 64v6M367 76v6M367 88v6M367 145v3M367 150v6M367 160v4M367 166v2M367 185v3M367 194v2M368 64v6M368 76v6M368 88v6M368 146v10M368 164v6M368 172v2M368 185v3M368 194v2M369 64v6M369 76v6M369 88v6M369 146v10M369 162v8M369 172v2M369 185v3M369 194v2M370 52v6M370 64v6M370 76v6M370 88v6M370 145v11M370 158v2M370 164v6M370 172v2M370 185v3M370 194v2M371 64v6M371 76v6M371 88v6M371 100v4M371 145v13M371 162v4M371 168v6M371 185v3M371 194v2M372 64v6M372 76v6M372 88v6M372 100v4M372 145v25M372 172v2M372 185v1M372 194v2M373 64v6M373 76v6M373 88v6M373 145v11M373 160v2M373 164v10M373 185v3M373 194v2M374 64v6M374 76v6M374 88v6M374 145v11M374 158v2M374 162v12M374 185v3M374 194v2M375 52v6M375 64v6M375 76v6M375 88v6M375 145v15M375 162v4M375 168v6M375 185v3M376 64v6M376 76v6M376 88v6M376 112v4M376 145v17M376 168v4M376 185v3M376 194v2M377 64v6M377 76v6M377 88v6M377 145v9M377 158v2M377 162v12M377 185v1M377 194v2M378 64v6M378 76v6M378 88v6M378 145v13M378 162v10M378 185v3M378 192v4M379 64v6M379 76v6M379 88v6M379 146v10M379 158v10M379 170v4M379 185v3M379 192v4M379 236v2M380 52v6M380 64v6M380 76v6M380 88v6M380 118v1M380 145v1M380 148v8M380 158v2M380 164v8M380 185v3M381 64v6M381 76v6M381 88v6M381 145v19M381 166v4M381 172v2M381 185v5M381 194v2M382 52v6M382 64v6M382 76v6M382 88v6M382 100v4M382 145v15M382 162v8M382 185v1M382 194v2M383 52v6M383 64v6M383 76v6M383 88v6M383 145v11M383 158v2M383 164v6M383 186v2M383 194v2M384 64v6M384 76v6M384 88v6M384 145v13M384 164v8M384 185v3M385 64v6M385 76v6M385 88v6M385 146v10M385 162v2M385 168v6M385 185v3M385 192v4M386 64v6M386 76v6M386 88v6M386 145v13M386 164v2M386 168v6M386 185v3M386 194v2M387 64v6M387 76v6M387 88v6M387 145v9M387 156v4M387 162v10M387 185v3M387 192v4M388 76v6M388 88v6M388 145v11M388 158v4M388 164v2M388 172v2M388 185v3M388 192v4M389 64v6M389 76v6M389 88v6M389 145v11M389 162v2M389 166v2M389 172v2M389 185v3M389 194v2M390 64v6M390 76v6M390 88v6M390 145v15M390 164v10M390 185v5M390 194v2M391 64v6M391 76v6M391 88v6M391 145v9M391 156v4M391 162v6M391 172v2M391 185v3M391 194v2M392 52v6M392 64v6M392 76v6M392 88v6M392 145v29M392 185v3M392 194v2M393 76v6M393 88v6M393 112v4M393 158v16M393 185v3M393 192v4M394 76v6M394 88v6M394 118v1M394 157v3M394 162v2M394 166v4M394 185v3M394 194v2"/>
<path stroke="#0000da" d="M145 118v1M148 108v4M149 88v6M149 116v2M150 70v6M150 112v4M150 119v1M152 108v4M152 116v2M153 94v6M153 104v4M153 112v6M153 119v1M153 132v4M154 94v6M154 119v1M154 132v4M155 104v4M155 128v4M157 118v1M158 100v4M158 112v6M159 104v4M159 112v6M161 94v10M161 116v2M161 145v1M162 100v12M162 137v3M162 142v6M162 150v2M163 108v11M163 137v3M163 142v2M163 148v2M164 104v4M164 137v3M164 148v4M164 210v2M165 104v8M165 118v1M165 140v2M165 144v1M165 150v2M165 164v4M165 174v6M165 196v2M166 104v4M166 118v1M166 140v2M166 150v6M166 162v14M166 194v2M167 94v6M167 104v4M167 137v3M167 145v1M167 154v8M167 180v2M167 192v4M168 94v6M168 108v4M168 118v1M168 137v3M168 142v3M168 156v6M168 192v4M169 94v6M169 108v4M169 118v1M169 158v4M169 182v1M169 192v4M170 94v6M170 142v3M170 156v2M170 182v1M170 192v4M171 100v4M171 144v1M171 156v2M171 160v2M171 182v1M171 192v4M172 104v4M172 112v7M172 140v2M172 156v6M172 182v1M172 192v4M173 118v1M173 137v5M173 144v1M173 160v2M173 182v1M173 192v4M174 118v1M174 140v5M174 150v12M174 182v1M174 192v6M175 104v4M175 118v1M175 137v8M175 150v6M175 192v4M176 140v2M176 148v4M176 162v2M176 182v1M176 192v4M177 100v4M177 118v1M177 137v3M177 142v2M177 150v2M177 162v2M177 182v1M177 194v2M177 226v2M178 94v6M178 118v1M178 142v3M178 148v4M178 164v2M178 182v1M178 192v4M179 94v10M179 112v7M179 137v3M179 148v2M179 162v2M179 182v1M179 192v6M180 118v1M180 137v7M180 145v1M180 150v2M180 162v2M180 192v4M181 104v4M181 137v5M181 148v8M181 160v2M181 182v1M181 192v4M182 152v10M182 182v1M182 192v4M183 100v4M183 112v7M183 137v8M183 158v4M183 192v4M184 100v4M184 118v1M184 137v7M184 156v6M184 170v2M184 180v2M185 94v6M185 140v5M185 154v8M185 164v10M185 178v2M186 88v6M186 137v5M186 154v10M186 176v2M187 88v6M187 118v1M187 140v5M187 156v4M187 164v2M188 82v6M188 137v8M189 82v6M189 100v4M189 118v1M189 140v2M189 144v1M189 156v2M190 82v6M190 118v1M190 137v3M190 156v2M191 82v12M191 140v2M191 156v4M192 100v4M192 137v3M192 142v3M192 156v2M193 82v6M193 140v5M193 156v2M194 100v4M194 118v1M194 137v5M194 144v1M194 156v2M195 88v6M195 118v1M195 140v5M195 156v4M196 118v1M196 137v5M196 156v2M197 118v1M197 140v5M197 158v2M198 88v6M198 137v3M198 142v3M198 158v2M198 162v2M199 118v1M199 144v1M199 156v4M200 82v18M200 104v4M200 144v1M200 158v2M200 162v4M201 70v12M201 88v12M201 108v4M201 118v1M201 137v5M201 156v8M201 166v2M202 70v12M202 88v6M202 108v4M202 142v4M202 156v2M202 160v2M202 166v2M203 70v6M203 112v4M203 118v1M203 137v5M203 144v1M203 146v2M203 158v2M204 70v12M204 142v3M204 154v2M204 160v2M204 164v4M205 70v6M205 88v6M205 112v4M205 118v1M205 137v5M205 144v1M205 148v2M205 152v2M205 162v4M206 70v6M206 112v4M206 137v5M206 144v1M206 150v4M207 70v6M207 112v4M207 118v1M207 137v7M207 148v2M208 88v6M208 118v1M208 140v4M208 145v1M208 148v2M209 88v6M209 118v1M209 137v3M209 148v2M210 88v12M210 104v8M210 118v1M210 137v7M210 148v2M211 64v6M211 88v6M211 100v8M211 144v1M211 146v2M212 118v1M212 137v3M212 144v1M212 146v4M213 58v6M213 118v1M213 137v8M214 58v6M214 144v1M215 58v6M215 118v1M215 137v5M215 144v1M215 148v2M216 58v6M216 118v1M216 140v4M216 148v2M216 152v2M216 166v2M217 58v6M217 118v1M217 137v3M217 142v2M217 148v8M217 162v2M217 166v2M218 58v6M218 140v2M218 144v1M218 160v2M218 168v2M219 58v6M219 144v1M219 158v2M220 58v6M220 118v1M220 137v5M220 148v2M220 156v2M220 160v2M221 58v6M221 118v1M221 142v3M221 156v2M221 160v2M222 58v6M222 118v1M222 137v8M222 158v4M223 58v6M223 118v1M223 140v4M223 154v2M224 118v1M224 144v1M224 148v4M224 156v2M224 160v2M225 137v5M225 144v1M225 146v2M225 158v4M226 118v1M226 142v2M226 158v2M227 118v1M227 156v6M228 64v6M228 118v1M228 140v2M228 144v1M228 158v2M229 118v1M229 144v2M229 162v6M230 118v1M231 118v1M232 118v1M233 118v1M233 144v1M234 58v6M234 118v1M235 58v6M236 58v6M236 118v1M237 58v6M237 118v1M237 145v3M238 58v6M238 118v1M238 142v3M238 148v2M239 58v6M239 118v1M239 140v2M239 144v1M239 146v2M240 58v6M240 118v1M240 140v2M240 145v3M241 58v6M242 58v6M242 118v1M242 166v4M243 58v6M243 118v1M243 164v2M243 170v4M243 176v2M244 58v6M244 118v1M244 170v2M245 58v6M245 118v1M245 164v2M245 170v2M246 58v6M246 118v1M246 145v1M246 162v4M246 168v4M247 58v6M247 118v1M247 142v8M247 170v4M248 58v6M248 118v1M248 142v2M248 158v2M248 168v4M249 58v6M249 118v1M249 140v5M249 150v2M249 154v6M249 170v2M250 58v6M250 118v1M250 142v3M250 156v2M250 168v6M251 58v6M251 118v1M251 156v4M251 170v4M252 58v6M252 137v3M252 144v1M252 152v2M252 170v4M253 58v6M253 118v1M253 142v2M253 170v2M254 58v6M254 118v1M254 140v4M254 158v4M255 58v6M255 140v4M255 160v2M255 168v4M256 58v6M256 118v1M256 142v2M256 145v1M257 58v6M257 118v1M257 142v2M257 156v4M257 170v2M258 58v6M258 118v1M258 137v7M258 160v2M258 170v2M259 58v6M259 118v1M259 137v3M259 144v1M259 150v12M259 170v2M260 58v6M260 118v1M260 137v3M260 144v1M260 150v6M260 160v2M260 170v2M261 58v6M261 118v1M261 137v3M261 142v2M261 150v2M261 162v2M261 168v4M262 58v6M262 118v1M262 137v3M262 148v4M262 162v4M262 170v2M263 58v6M263 118v1M263 142v3M263 148v4M263 162v2M263 170v2M264 58v6M264 118v1M264 140v5M264 148v6M264 162v2M264 170v2M265 58v6M265 118v1M265 146v6M265 162v4M265 170v2M266 118v1M266 140v2M266 146v2M266 156v4M266 178v2M267 118v1M267 144v1M268 118v1M268 137v3M268 142v3M268 156v4M268 178v2M269 137v8M269 160v2M269 178v2M270 156v4M270 178v2M271 118v1M271 137v5M271 178v2M272 118v1M272 142v3M272 154v4M272 180v2M273 118v1M273 137v5M273 156v6M274 118v1M274 140v5M274 180v2M275 118v1M275 137v8M275 146v2M275 154v2M275 158v4M275 180v3M276 118v1M276 140v5M276 146v2M276 152v2M276 156v2M276 160v2M276 182v1M277 118v1M277 140v5M278 118v1M278 140v2M278 145v1M278 188v2M278 192v2M279 118v1M279 142v2M279 156v2M279 160v2M279 185v3M279 192v2M280 118v1M280 137v5M280 144v2M280 158v2M280 188v4M281 118v1M281 137v3M281 158v4M281 188v2M282 118v1M282 137v3M282 156v4M282 190v2M283 118v1M283 140v2M283 144v1M283 156v2M283 186v4M284 118v1M284 148v2M284 154v2M284 160v2M284 188v4M285 118v1M285 137v3M285 144v1M285 154v2M285 158v4M285 188v2M286 118v1M286 137v3M286 142v3M286 156v2M286 160v2M286 188v2M287 142v3M287 156v4M287 185v1M287 188v4M288 156v6M288 188v2M289 118v1M289 137v5M289 144v1M289 158v4M289 188v4M289 194v2M290 118v1M290 140v2M290 156v4M290 188v2M290 194v2M291 118v1M291 144v1M291 156v6M291 188v4M292 137v3M292 142v3M292 158v4M292 188v2M293 137v3M293 158v2M293 188v2M294 118v1M294 137v3M294 142v3M294 156v2M294 188v4M294 194v2M295 118v1M295 137v8M296 118v1M296 137v8M296 158v4M297 137v7M297 145v1M297 156v6M297 188v4M298 118v1M298 137v7M298 156v4M298 188v4M298 196v2M299 118v1M299 137v3M299 144v2M299 154v8M299 188v2M300 118v1M300 142v2M300 160v2M300 190v2M301 118v1M301 154v4M301 188v2M302 118v1M302 140v2M302 156v2M302 188v4M303 118v1M303 137v7M303 156v2M303 160v2M303 186v4M304 118v1M304 140v4M304 156v6M304 188v2M304 194v4M305 118v1M305 140v2M305 156v4M305 188v2M306 118v1M306 142v3M306 154v2M306 160v2M306 185v1M306 188v4M307 118v1M307 137v8M307 160v2M307 188v4M308 118v1M308 156v6M308 185v1M308 188v2M309 118v1M309 145v1M309 156v4M309 188v2M310 137v5M310 154v2M310 158v2M310 188v2M310 210v2M311 137v5M311 160v2M311 186v4M312 140v4M312 156v4M312 184v1M312 188v2M313 118v1M313 144v1M313 156v2M313 160v2M313 188v2M314 118v1M314 140v2M314 156v2M314 160v2M314 188v2M314 194v2M315 118v1M315 137v3M315 142v2M315 156v4M315 188v2M315 194v2M316 118v1M316 140v2M316 144v1M316 156v4M316 188v4M317 137v7M317 154v6M317 188v2M318 137v3M318 156v4M318 188v4M319 118v1M319 137v3M319 144v2M319 148v2M319 156v4M319 188v4M320 118v1M320 140v2M320 154v2M320 158v4M321 118v1M321 140v4M321 154v2M321 160v2M321 188v2M322 118v1M322 140v2M322 144v1M322 158v2M322 188v4M323 118v1M323 140v4M323 188v4M323 196v2M324 118v1M324 137v5M324 145v1M324 156v6M324 188v2M325 137v3M325 142v2M325 145v1M325 156v6M325 188v2M326 118v1M326 142v3M326 156v2M326 188v4M327 118v1M327 154v8M327 188v2M328 118v1M328 137v8M328 146v2M328 154v4M328 160v2M328 188v2M329 118v1M329 140v4M329 150v2M329 158v2M329 188v4M330 118v1M330 142v3M330 188v4M331 118v1M331 137v3M331 142v3M331 160v2M331 188v4M332 118v1M332 152v2M332 156v2M332 160v2M332 188v4M332 194v2M333 118v1M333 140v6M333 154v2M333 158v4M333 188v2M334 118v1M334 137v5M334 144v1M334 156v2M334 160v2M334 188v2M335 118v1M335 158v4M335 188v2M336 118v1M336 137v5M336 156v2M336 160v2M336 188v4M337 140v5M337 158v2M337 183v1M337 188v4M338 118v1M338 144v1M338 156v4M338 188v2M339 118v1M339 137v5M339 156v2M339 160v2M339 188v2M340 144v1M340 156v2M340 160v2M340 183v1M340 185v1M340 188v4M341 118v1M341 142v2M341 145v1M341 156v6M341 188v2M342 137v7M342 152v2M342 158v4M342 188v2M343 140v2M343 144v1M343 156v2M343 188v4M344 118v1M344 137v5M344 144v1M344 152v2M344 156v2M344 160v2M344 188v2M345 137v3M345 142v3M345 156v6M345 186v4M346 137v7M346 156v4M346 188v4M347 137v3M347 142v3M347 158v2M347 188v2M348 118v1M348 186v6M348 196v2M349 142v2M349 145v1M349 156v6M349 188v2M350 118v1M350 140v2M350 144v1M350 158v2M350 188v4M351 118v1M351 137v7M351 158v4M351 188v4M352 118v1M352 137v7M352 158v2M352 188v4M353 118v1M353 137v3M353 142v2M353 156v6M353 188v4M354 118v1M354 137v5M354 145v1M354 154v2M354 158v4M354 188v4M355 142v2M355 160v2M355 188v2M355 194v2M356 118v1M356 140v5M356 188v4M357 118v1M357 137v5M357 156v2M357 160v2M357 188v4M358 137v9M358 156v4M358 188v2M359 118v1M359 145v1M359 158v4M359 186v4M360 118v1M360 137v3M360 142v2M360 156v2M360 160v2M360 188v2M360 194v2M361 118v1M361 137v3M361 154v8M361 188v2M361 194v2M362 118v1M362 140v4M362 160v2M362 188v4M363 118v1M363 140v5M363 154v2M363 186v4M364 137v3M364 142v3M364 160v2M364 188v4M365 118v1M365 144v1M365 150v2M365 156v6M365 188v4M365 194v2M366 137v8M366 158v4M366 188v4M366 194v2M367 118v1M367 140v2M367 144v1M367 156v4M367 188v2M368 118v1M368 142v2M368 145v1M368 156v6M368 188v4M368 196v2M369 118v1M369 142v2M369 145v1M369 156v6M369 188v4M369 242v2M370 137v3M370 142v2M370 156v2M370 160v2M370 188v2M371 118v1M371 158v4M371 188v2M372 118v1M372 137v3M372 186v4M372 196v2M372 238v2M373 118v1M373 142v3M373 156v4M373 188v2M374 118v1M374 140v2M374 144v1M374 156v2M374 160v2M374 188v2M375 118v1M375 137v7M375 160v2M375 188v2M375 194v2M376 118v1M376 137v3M376 188v4M377 118v1M377 142v3M377 154v4M377 160v2M377 186v4M378 118v1M378 137v7M378 158v4M378 188v4M379 118v1M379 145v1M379 156v2M379 188v2M380 137v3M380 142v3M380 146v2M380 156v2M380 160v2M380 188v4M380 194v2M381 118v1M381 190v2M382 118v1M382 140v5M382 160v2M382 186v4M383 118v1M383 140v5M383 156v2M383 160v2M383 188v4M384 118v1M384 158v4M384 188v4M384 194v2M385 118v1M385 144v2M385 156v6M385 188v4M386 118v1M386 142v2M386 158v4M386 188v2M387 142v2M387 154v2M387 160v2M387 188v4M388 118v1M388 137v5M388 144v1M388 156v2M388 188v2M389 118v1M389 137v3M389 156v6M389 188v2M390 118v1M390 137v3M390 160v2M390 190v2M390 196v2M391 118v1M391 154v2M391 160v2M391 188v2M391 196v2M392 118v1M392 142v2M392 188v2M392 212v2M393 157v1M393 188v4M394 137v3M394 160v2M394 188v4M394 210v2"/>
<path stroke="#0000e3" d="M143 116v2M143 162v2M144 145v1M144 152v2M144 160v2M144 168v2M144 180v3M144 185v1M144 188v2M145 156v2M145 185v3M148 76v6M148 100v8M148 112v4M148 118v2M149 70v6M149 82v6M149 112v4M150 76v6M150 104v8M150 116v3M151 70v6M151 88v12M151 112v8M152 94v6M152 104v4M152 112v4M152 119v1M153 88v6M153 118v1M154 118v1M154 120v4M155 100v4M155 120v4M156 118v1M156 124v4M157 108v4M158 118v1M158 137v3M159 137v3M159 144v2M160 118v1M160 137v5M160 145v1M161 112v4M161 118v1M161 137v7M161 146v6M162 118v1M162 140v2M162 148v2M162 164v2M162 174v4M162 190v2M162 194v2M162 216v2M163 140v2M163 144v1M163 150v2M163 176v2M163 194v4M163 222v2M163 240v2M163 252v2M164 88v12M164 108v4M164 118v1M164 140v5M164 152v2M164 160v4M164 174v6M164 194v4M164 206v2M164 246v2M165 137v3M165 142v2M165 152v4M165 162v2M165 168v6M165 192v4M165 202v2M165 230v2M165 240v2M166 108v4M166 137v3M166 142v3M166 156v6M166 178v4M166 192v2M166 198v4M167 140v5M167 182v1M167 196v2M167 214v6M167 240v4M167 296v2M168 140v2M168 188v2M168 196v2M168 204v2M168 212v2M168 228v4M168 238v4M168 244v2M169 88v6M169 137v8M169 196v2M169 202v6M169 216v2M169 224v2M170 118v1M170 137v5M170 196v2M171 137v7M171 212v2M171 218v2M171 222v2M172 88v6M172 100v4M172 137v3M172 142v3M172 196v2M172 206v2M173 142v2M173 185v1M173 214v2M174 100v4M174 137v3M174 204v2M174 208v4M174 220v2M175 88v6M175 108v4M175 156v6M175 196v2M175 204v2M176 118v1M176 137v3M176 142v3M176 152v10M176 185v1M176 196v2M176 202v2M176 214v4M177 140v2M177 144v1M177 154v2M177 192v2M177 196v2M177 200v2M177 210v2M177 216v2M177 220v2M178 88v6M178 137v5M178 152v2M178 162v2M178 196v2M178 208v2M179 140v5M179 150v4M179 160v2M179 185v1M179 198v2M179 206v4M179 212v2M180 152v4M180 160v2M180 185v1M180 216v2M181 118v1M181 142v3M181 156v4M181 185v1M181 196v2M182 118v1M182 137v5M182 144v1M182 190v2M182 206v2M183 88v6M183 185v1M183 196v2M183 220v2M184 88v12M184 144v1M184 182v1M184 192v4M184 202v2M185 88v6M185 118v1M185 137v3M185 180v3M185 194v2M185 204v2M186 82v6M186 118v1M186 142v3M186 164v12M186 224v2M187 82v6M187 137v3M187 160v4M187 170v2M187 174v6M187 202v2M187 212v2M188 118v1M188 158v6M188 170v2M188 174v2M189 137v3M189 142v2M189 158v4M190 140v5M190 158v2M191 118v1M191 137v3M191 142v3M191 228v2M192 118v1M192 140v2M193 137v3M193 222v2M194 142v2M194 158v2M195 137v3M196 142v3M196 158v2M197 137v3M197 160v6M198 118v1M198 140v2M198 160v2M199 137v7M199 160v6M199 236v2M200 70v6M200 100v4M200 118v1M200 137v7M200 160v2M200 166v2M201 100v8M201 142v3M202 94v6M202 104v4M202 118v1M202 137v5M202 238v2M202 260v2M202 270v2M203 88v6M203 108v4M203 142v2M204 88v16M204 108v4M204 118v1M204 137v5M204 156v4M205 58v6M205 94v10M205 108v4M205 142v2M205 154v8M205 166v2M206 108v4M206 118v1M206 142v2M206 162v6M207 58v6M207 88v12M207 108v4M207 144v1M207 150v6M207 162v2M207 178v2M208 52v12M208 108v4M208 137v3M208 144v1M208 150v2M208 154v2M208 176v2M209 58v6M209 94v18M209 140v4M210 100v4M210 144v1M210 150v2M211 58v6M211 118v1M211 137v7M211 148v2M212 58v6M212 140v4M213 148v2M214 118v1M214 137v7M214 148v2M214 164v4M215 142v2M216 137v3M216 144v1M216 150v2M216 158v2M216 162v4M217 140v2M217 144v1M217 156v6M217 168v2M218 137v3M218 142v2M219 137v7M219 168v2M220 142v3M221 137v5M223 137v3M223 144v1M224 58v6M224 137v7M225 58v6M225 118v1M225 142v2M226 137v5M226 144v1M227 137v8M228 137v3M228 142v2M229 137v7M229 146v6M229 158v2M230 137v3M231 58v6M232 58v6M232 137v3M232 142v2M233 58v6M233 137v3M235 118v1M237 137v5M238 137v5M238 150v4M238 168v2M239 137v3M239 142v2M239 148v4M239 162v2M240 137v3M240 142v3M240 166v2M241 118v1M241 145v1M242 52v6M242 170v6M243 137v5M243 174v2M244 137v3M244 145v1M244 164v2M244 172v2M244 176v2M245 137v3M245 144v1M245 146v2M245 162v2M245 172v6M246 137v7M246 146v6M246 172v2M247 137v5M247 150v12M247 174v4M248 137v5M248 144v1M248 172v6M249 137v3M249 172v2M250 137v5M250 176v2M251 137v8M251 174v4M252 118v1M252 140v4M252 174v2M253 137v3M253 144v1M253 172v4M254 52v6M254 137v3M254 144v1M254 170v2M254 174v4M255 137v3M255 144v1M255 172v4M256 137v5M256 144v1M257 137v5M257 144v1M257 172v4M258 144v1M258 172v4M259 140v4M259 172v4M260 140v4M260 156v4M260 172v4M261 140v2M261 144v1M261 152v4M261 158v2M261 172v4M262 140v5M262 152v2M262 172v6M263 137v5M263 152v4M263 172v2M264 137v3M264 172v6M265 137v8M265 152v2M265 172v4M266 137v3M266 142v3M266 180v2M267 137v7M268 140v2M268 180v2M269 118v1M269 180v2M270 137v7M271 142v3M271 180v2M272 137v5M272 182v1M273 142v2M273 180v2M274 137v3M274 182v1M274 185v1M276 137v3M277 137v3M278 137v3M278 142v3M279 137v5M279 188v4M279 194v2M280 142v2M281 140v5M281 190v2M282 140v4M282 183v1M282 196v2M283 137v3M283 190v2M283 196v2M284 137v8M285 140v4M285 190v2M285 196v2M286 140v2M286 190v2M286 196v2M287 118v1M287 137v5M287 196v2M288 118v1M288 137v8M288 190v2M288 196v2M289 142v2M289 196v2M290 137v3M290 142v3M290 190v2M291 137v7M291 183v1M292 140v2M292 190v2M293 118v1M293 140v5M293 190v2M294 140v2M294 196v2M295 184v1M295 190v2M295 196v2M296 190v2M296 196v2M296 256v2M297 144v1M298 144v1M298 202v2M299 140v4M299 190v2M299 252v2M300 137v5M300 144v1M300 196v2M300 214v2M301 137v8M301 190v2M301 196v2M302 137v3M302 142v3M303 144v1M303 190v2M304 137v3M304 144v1M304 190v2M305 137v3M305 142v3M305 190v2M306 137v5M307 196v2M308 137v8M308 190v2M309 137v8M309 190v2M309 228v2M310 142v3M310 190v2M310 196v6M310 204v4M310 234v2M310 250v2M311 118v1M311 142v3M311 190v2M311 196v2M311 212v2M312 137v3M312 144v1M312 190v2M312 196v2M312 238v2M312 244v2M313 137v7M313 190v2M313 198v2M314 137v3M314 142v3M314 190v2M314 196v2M314 232v2M314 240v2M314 246v2M315 140v2M315 144v1M315 190v2M315 244v2M316 137v3M316 142v2M316 196v2M316 246v2M317 118v1M317 144v1M317 190v2M317 196v2M318 118v1M318 140v5M318 196v2M318 230v2M318 238v2M318 242v2M319 140v4M319 184v1M319 196v4M319 246v2M320 137v3M320 142v3M320 190v2M320 196v2M320 244v2M321 137v3M321 144v1M321 183v1M321 190v2M321 196v2M321 234v2M321 246v2M322 137v3M322 142v2M322 196v2M323 137v3M323 144v1M324 142v3M324 184v1M324 190v2M324 196v2M325 140v2M325 144v1M325 190v2M325 196v2M326 137v5M326 196v2M327 137v8M327 190v2M327 196v2M328 190v2M329 137v3M329 144v1M329 196v2M330 137v5M330 184v1M330 196v2M331 140v2M332 137v8M333 137v3M333 190v2M334 142v2M334 184v1M334 190v2M334 196v2M335 137v8M335 190v2M335 196v2M336 142v3M336 196v2M337 118v1M337 137v3M337 196v2M338 137v7M338 190v2M339 142v3M339 190v2M339 196v2M340 118v1M340 137v7M340 184v1M340 196v2M341 137v5M341 144v1M341 190v2M342 118v1M342 144v1M342 190v2M342 196v2M343 137v3M343 142v2M344 142v2M344 190v2M344 196v2M345 140v2M345 190v2M345 196v2M346 118v1M346 144v1M346 196v2M347 118v1M347 140v2M347 190v2M347 196v2M347 232v2M348 137v8M349 52v6M349 118v1M349 137v5M349 144v1M349 190v2M350 137v3M350 142v2M350 196v2M351 144v1M351 196v2M352 144v1M352 196v2M352 206v2M353 140v2M353 144v1M353 196v4M353 206v2M354 142v3M354 196v2M355 118v1M355 137v5M355 144v1M355 190v2M355 196v2M355 204v2M356 137v3M356 240v2M356 246v2M357 142v3M357 196v2M358 118v1M358 190v2M358 196v2M358 202v2M358 244v2M359 137v3M359 142v3M359 190v2M359 196v2M360 140v2M360 144v1M360 190v2M361 140v5M361 190v2M361 196v2M361 234v2M362 137v3M362 144v1M362 196v2M362 240v2M363 137v3M363 184v1M363 190v2M363 196v2M363 224v4M363 236v2M364 140v2M364 196v2M365 137v7M365 196v2M366 118v1M366 196v2M366 234v2M367 137v3M367 142v2M367 190v2M367 196v2M368 137v5M368 144v1M368 246v2M369 137v5M369 144v1M369 236v2M370 118v1M370 140v2M370 144v1M370 190v2M370 196v2M370 244v2M371 137v7M371 190v2M371 240v2M372 140v5M372 190v2M373 137v5M373 190v2M373 196v2M374 137v3M374 142v2M374 190v2M375 144v1M375 190v2M375 196v2M376 140v5M376 183v1M377 137v5M377 190v2M377 196v2M378 144v1M378 184v1M378 196v2M378 236v2M378 244v2M379 137v8M379 190v2M379 196v2M379 234v2M379 242v2M380 140v2M380 196v2M380 238v2M381 137v8M381 196v2M381 242v2M382 137v3M382 190v2M382 196v2M382 236v2M383 137v3M383 196v2M383 238v2M383 242v2M384 137v8M384 196v2M384 236v6M384 244v2M385 137v7M385 196v2M385 242v2M385 246v2M386 137v5M386 144v1M386 190v2M386 196v2M387 118v1M387 137v5M387 144v1M387 196v2M387 236v2M387 246v2M388 142v2M388 190v2M388 196v4M389 140v5M389 190v2M389 196v2M390 140v5M390 183v1M391 137v8M391 190v2M391 206v2M391 228v2M392 137v5M392 144v1M392 190v2M392 196v2M392 202v4M392 210v2M392 220v4M393 118v1M393 137v3M393 196v2M393 200v2M393 216v2M393 244v2M394 196v6M394 212v2M394 216v2M394 228v2M394 244v4"/>
<path stroke="#0000ec" d="M142 70v6M142 82v6M142 136v1M142 162v2M142 168v6M142 182v1M142 184v4M143 94v10M143 108v8M143 118v6M143 128v8M143 137v3M143 146v2M143 156v2M143 185v1M143 188v2M144 70v6M144 124v4M144 136v1M144 140v2M144 146v2M144 156v4M144 170v2M144 174v4M144 183v1M144 186v2M145 94v6M145 108v4M145 119v1M145 128v4M145 140v2M145 144v1M145 162v8M145 178v4M145 183v2M148 82v18M148 116v2M149 94v10M149 108v4M149 118v2M149 128v9M150 100v4M150 120v12M151 76v6M151 108v4M152 100v4M153 100v4M153 120v4M153 128v4M154 76v6M154 128v4M155 118v1M155 124v4M156 70v6M156 82v12M157 70v6M157 88v12M157 137v3M157 142v2M158 52v6M158 140v2M158 144v1M159 70v12M159 118v1M159 140v2M159 146v2M160 82v12M160 146v2M160 182v1M161 88v6M161 144v1M162 82v6M162 152v2M162 166v6M162 178v2M162 198v2M162 206v2M162 222v2M162 254v2M163 82v6M163 152v2M163 164v2M163 178v2M163 200v8M163 212v4M163 220v2M163 224v2M163 230v2M163 236v4M163 246v2M163 250v2M163 254v4M164 154v2M164 164v2M164 168v6M164 192v2M164 198v6M164 208v2M164 212v4M164 218v2M164 222v2M164 228v4M164 250v2M164 288v2M165 156v6M165 180v2M165 198v4M165 208v2M165 212v8M165 222v2M165 228v2M165 234v2M165 238v2M165 242v4M166 88v6M166 185v1M166 196v2M166 202v2M166 206v2M166 210v8M166 220v2M166 224v2M166 230v2M167 100v4M167 118v1M167 183v1M167 185v1M167 198v8M167 208v2M167 212v2M167 222v6M167 230v4M167 238v2M167 244v4M167 298v8M168 185v3M168 198v2M168 206v6M168 216v8M168 226v2M168 232v4M168 242v2M168 246v4M168 296v10M169 200v2M169 208v4M169 218v4M169 234v4M169 244v2M170 88v6M170 198v4M170 212v4M170 218v2M170 222v4M171 118v1M171 185v1M171 190v2M171 196v4M171 204v4M171 210v2M171 214v4M171 224v4M172 185v1M172 200v2M172 204v2M172 208v4M172 216v4M172 226v2M172 250v2M173 88v6M173 188v4M173 196v6M173 204v4M173 212v2M173 220v2M173 226v2M174 186v2M174 198v6M174 212v8M174 222v6M175 185v3M175 206v2M175 210v2M175 214v2M175 220v6M176 186v4M176 200v2M176 204v10M176 218v10M177 82v12M177 152v2M177 156v6M177 185v1M177 188v2M177 198v2M177 202v6M177 212v4M177 218v2M177 222v4M178 154v2M178 190v2M178 200v2M178 204v4M178 218v2M179 88v6M179 183v1M179 202v4M179 210v2M179 216v14M180 88v6M180 144v1M180 196v4M180 210v6M180 218v6M181 100v4M181 200v6M181 212v6M181 220v2M181 226v2M182 88v6M182 142v2M182 196v6M182 204v2M182 208v10M182 220v2M182 226v2M183 82v6M183 188v4M183 202v2M183 210v2M183 214v6M183 222v6M184 204v2M184 210v10M184 224v2M185 82v6M185 190v4M185 202v2M185 206v8M186 178v2M186 204v2M186 208v2M186 214v4M186 222v2M187 166v4M187 172v2M187 208v2M187 214v12M188 76v6M188 164v2M188 176v2M188 208v8M188 218v4M189 162v6M189 218v2M189 224v2M190 160v2M191 168v2M191 172v2M191 224v2M191 230v2M192 76v6M192 158v2M192 226v6M193 158v2M195 160v4M196 70v6M196 160v4M197 76v6M197 230v2M198 76v6M198 164v2M198 234v2M198 238v2M199 64v18M199 166v2M199 230v2M200 76v6M200 272v2M201 64v6M201 168v4M202 64v6M202 100v4M202 168v2M202 232v2M202 240v2M202 252v6M202 262v4M202 272v6M203 52v12M203 100v4M203 168v4M203 238v8M203 250v2M203 254v2M203 260v4M203 266v8M204 58v6M204 104v4M204 168v2M204 244v2M205 52v6M205 64v6M205 104v4M206 52v18M206 76v6M206 100v4M206 154v8M207 52v6M207 64v6M207 100v8M207 160v2M207 164v6M208 64v6M208 94v14M208 152v2M208 156v10M209 52v6M209 64v6M209 144v1M209 150v4M209 162v2M210 58v12M210 152v2M210 168v2M212 150v2M214 150v2M215 52v6M216 154v2M216 160v2M216 168v2M217 52v6M217 200v4M217 206v2M217 212v2M218 170v2M219 52v6M220 168v2M221 52v6M222 52v6M223 52v6M223 168v2M227 58v6M227 168v2M229 58v6M229 152v6M229 160v2M230 140v4M232 140v2M234 52v6M234 137v5M235 52v6M235 137v3M236 52v6M236 137v5M236 145v3M237 142v3M237 152v2M237 162v2M238 52v6M238 154v2M238 162v2M239 158v4M239 164v2M240 52v6M240 148v2M240 164v2M240 170v2M241 52v6M241 137v7M241 146v2M241 164v8M243 52v6M243 162v2M244 52v6M244 146v2M244 162v2M244 174v2M245 52v6M245 140v2M245 145v1M246 52v6M246 144v1M246 152v2M246 160v2M246 174v4M247 52v6M248 52v6M249 174v4M250 52v6M250 174v2M252 176v2M253 52v6M253 176v2M254 172v2M255 52v6M255 176v2M256 52v6M257 52v6M257 176v2M258 52v6M258 176v2M259 52v6M259 176v2M260 52v6M260 176v2M261 52v6M261 156v2M261 160v2M261 176v2M262 154v2M263 52v6M263 156v4M263 174v4M264 52v6M264 156v6M265 160v2M265 176v2M267 180v2M269 182v1M270 144v1M270 180v2M272 192v2M273 144v1M275 186v4M276 183v1M276 192v2M277 185v3M277 192v2M277 196v2M278 185v3M278 194v2M279 144v1M280 196v2M281 196v2M282 184v1M283 184v1M284 183v2M284 196v2M286 183v1M287 184v1M287 202v2M288 64v6M290 196v2M291 196v4M292 196v2M293 184v1M293 196v2M294 200v2M296 184v1M296 198v2M297 183v1M297 196v2M297 200v4M299 183v1M299 196v2M300 184v1M301 198v2M302 196v2M303 196v4M304 220v2M304 226v2M305 196v6M306 196v2M307 184v1M307 212v4M307 230v2M307 234v4M307 246v2M308 196v6M308 214v2M309 196v2M309 200v2M309 224v4M309 236v2M309 242v2M309 246v4M310 202v2M310 208v2M310 214v2M310 218v4M310 226v4M310 232v2M310 238v2M310 244v2M311 206v6M311 216v2M311 226v6M311 236v6M311 248v2M312 183v1M312 198v2M312 202v2M312 206v2M312 212v2M312 216v2M312 220v2M312 224v2M312 228v10M312 240v4M312 246v2M313 184v1M313 196v2M313 200v4M313 208v2M313 214v2M313 242v4M314 198v2M314 202v4M314 238v2M314 242v4M314 248v2M315 196v2M315 236v2M315 240v4M315 248v2M316 183v1M316 232v2M316 242v4M316 248v2M317 232v2M317 238v2M318 236v2M318 244v2M318 248v2M319 200v2M319 238v4M319 244v2M319 248v2M320 198v2M320 206v2M320 240v4M320 246v2M320 260v2M321 238v2M321 242v4M322 183v2M323 183v1M324 240v2M327 183v2M328 183v1M328 196v2M330 212v2M331 196v2M332 196v4M333 196v2M336 183v1M338 196v2M341 184v1M341 196v2M342 183v1M343 196v2M345 198v2M346 184v1M347 184v1M347 212v2M348 184v1M348 198v2M348 202v2M348 214v2M348 248v2M349 184v1M349 196v2M350 184v1M350 198v8M351 184v1M351 200v2M351 204v6M352 183v1M352 198v2M352 202v2M352 208v8M353 200v4M353 212v2M353 218v2M353 244v2M354 200v8M354 244v2M356 196v2M356 200v4M356 206v4M356 238v2M356 242v4M356 250v4M357 200v2M357 244v4M358 198v4M358 210v2M358 246v2M358 250v2M359 198v2M359 206v4M359 236v2M359 246v2M360 196v8M360 222v4M360 232v2M360 236v2M360 240v2M360 244v4M361 202v2M361 230v4M361 236v12M362 200v2M362 244v2M363 183v1M363 198v2M363 202v2M363 210v2M363 230v2M363 238v4M363 244v4M364 198v2M364 226v2M364 232v2M364 240v2M364 244v2M365 198v2M365 236v4M365 244v2M366 232v2M366 238v4M366 244v2M367 244v2M368 240v4M368 248v2M369 232v2M369 238v4M369 244v2M370 200v2M370 234v10M371 144v1M371 183v1M371 196v2M371 232v2M371 242v2M371 246v2M372 240v2M373 236v2M373 240v4M374 196v2M375 184v1M375 236v12M376 184v1M376 196v2M376 234v6M376 242v2M376 246v2M377 240v2M377 244v2M377 250v2M378 198v2M378 240v4M379 184v1M379 200v2M379 232v2M379 238v2M379 248v2M380 183v1M380 236v2M380 244v2M380 250v2M381 183v1M381 238v2M381 244v2M382 238v2M383 183v1M383 236v2M383 240v2M384 250v2M385 236v6M385 244v2M386 246v2M387 184v1M387 198v4M387 240v6M387 248v2M388 183v1M388 236v12M389 220v2M389 238v6M389 246v2M390 198v4M390 204v2M390 212v2M390 216v2M390 224v2M390 230v4M390 236v6M390 246v2M391 198v2M391 202v2M391 212v2M391 216v4M391 222v6M391 234v2M391 238v2M391 244v2M392 206v4M392 214v2M392 218v2M392 224v2M392 228v4M392 236v2M393 183v1M393 202v4M393 208v4M393 214v2M393 218v6M393 226v4M393 243v1M393 246v2M394 183v1M394 202v4M394 214v2M394 218v6M394 230v2"/>
<path stroke="#0000f4" d="M142 76v6M142 88v12M142 104v8M142 116v3M142 120v4M142 137v5M142 152v10M142 164v4M142 180v2M142 183v1M142 188v2M143 70v24M143 104v4M143 136v1M143 140v6M143 154v2M143 160v2M143 164v4M143 176v2M143 180v5M143 186v2M144 88v12M144 118v2M144 128v8M144 137v3M144 142v3M144 148v4M144 154v2M144 162v2M144 166v2M144 172v2M144 184v1M145 70v24M145 100v8M145 112v4M145 124v4M145 132v4M145 137v3M145 145v5M145 152v4M145 158v2M145 170v2M145 176v2M145 182v1M145 188v2M148 70v6M149 104v4M149 120v8M150 82v18M150 132v5M151 100v8M152 136v1M153 82v6M153 137v3M154 137v3M155 82v12M156 76v6M156 137v7M157 140v2M157 145v1M158 76v6M158 88v6M158 145v3M159 82v12M159 100v4M159 142v2M159 150v2M159 170v2M160 142v3M160 148v2M160 248v4M160 256v2M161 76v12M161 152v2M161 164v2M161 178v2M162 88v6M162 154v2M162 158v6M162 172v2M162 180v3M162 196v2M162 200v6M162 208v2M162 220v2M162 228v2M162 232v4M162 240v2M162 248v2M163 88v6M163 154v4M163 160v4M163 166v2M163 172v4M163 180v2M163 192v2M163 198v2M163 208v4M163 218v2M163 228v2M163 234v2M163 242v4M163 260v2M164 82v6M164 156v4M164 166v2M164 180v2M164 204v2M164 216v2M164 220v2M164 224v4M164 232v4M164 238v8M164 248v2M164 258v2M165 82v6M165 182v1M165 204v4M165 210v2M165 224v4M165 232v2M165 236v2M165 248v4M165 296v2M166 182v1M166 204v2M166 218v2M166 222v2M166 226v4M166 234v12M166 250v2M167 186v4M167 206v2M167 210v2M167 220v2M167 228v2M167 234v4M167 248v2M167 254v2M167 290v2M168 88v6M168 190v2M168 200v4M168 214v2M168 224v2M168 236v2M168 250v2M168 254v2M168 264v2M168 292v4M169 184v8M169 198v2M169 212v4M169 222v2M169 226v8M169 238v2M169 242v2M169 264v2M170 82v6M170 185v1M170 188v4M170 202v4M170 208v4M170 216v2M170 220v2M170 226v6M171 88v6M171 184v1M171 186v4M171 200v4M171 208v2M171 220v2M171 228v2M172 186v6M172 198v2M172 202v2M172 212v4M172 220v2M172 224v2M172 228v4M172 240v2M173 82v6M173 202v2M173 208v4M173 216v4M173 222v4M174 88v6M174 183v1M174 188v2M174 206v2M174 228v4M175 188v2M175 198v2M175 202v2M175 208v2M175 212v2M175 216v4M175 226v2M176 190v2M176 198v2M176 236v2M177 186v2M177 190v2M177 208v2M177 228v2M178 156v2M178 160v2M178 185v3M178 198v2M178 210v2M178 214v4M178 220v4M178 226v2M179 186v2M179 190v2M179 200v2M179 214v2M180 156v4M180 200v10M180 226v2M181 186v2M181 190v2M181 198v2M181 206v6M181 218v2M181 222v4M182 82v6M182 185v3M182 202v2M182 218v2M182 222v4M183 186v2M183 198v2M183 204v6M183 212v2M184 76v12M184 206v4M184 222v2M184 226v2M185 184v1M185 200v2M186 76v6M186 180v2M186 184v2M186 196v2M186 202v2M186 206v2M186 210v4M186 220v2M186 226v4M187 70v6M187 196v2M187 204v4M187 210v2M187 226v2M188 168v2M188 172v2M188 180v2M188 206v2M188 216v2M188 224v2M189 76v6M189 172v4M189 212v2M189 226v2M190 76v6M190 162v2M190 172v4M190 224v6M191 76v6M191 162v2M191 166v2M191 170v2M191 178v2M191 220v2M191 226v2M192 160v4M192 220v6M192 234v2M193 76v6M193 160v2M193 226v4M194 70v6M194 160v4M194 170v2M194 224v2M194 228v2M195 64v18M195 164v2M196 76v6M196 234v6M197 70v6M197 166v2M197 228v2M197 236v2M198 70v6M198 166v2M198 236v2M199 232v4M199 238v2M199 260v2M199 272v2M200 236v4M200 286v2M201 236v2M201 240v2M201 244v2M201 248v2M201 268v2M202 58v6M202 234v2M202 242v2M202 246v4M202 258v2M202 268v2M202 278v2M203 64v6M203 94v6M203 104v4M203 236v2M203 246v4M203 252v2M203 256v4M203 264v2M203 274v6M204 64v6M204 240v4M204 254v2M204 278v2M205 168v4M205 246v2M205 250v2M206 104v4M206 168v2M207 156v2M207 236v2M207 240v2M207 244v2M208 166v2M208 170v6M208 262v2M208 274v2M208 294v2M209 166v4M210 52v6M210 166v2M211 150v2M211 162v2M212 52v6M212 152v2M212 166v2M213 52v6M214 52v6M214 170v2M214 244v2M216 52v6M216 156v2M217 170v2M217 204v2M217 208v4M218 52v6M218 172v2M220 52v6M221 168v2M223 170v2M224 52v6M225 52v6M225 168v2M226 58v6M228 168v2M229 168v2M230 58v6M230 145v5M230 162v6M232 52v6M232 144v1M233 52v6M234 145v1M235 145v1M236 142v3M236 148v4M237 52v6M237 148v4M238 160v2M238 164v4M239 52v6M239 152v6M239 166v6M240 150v2M240 154v2M240 162v2M240 168v2M241 144v1M241 148v2M242 176v2M242 182v1M243 144v4M244 140v4M245 142v2M245 148v4M245 154v2M246 154v2M246 158v2M247 178v2M249 52v6M250 178v2M251 52v6M252 52v6M259 178v2M260 178v2M262 52v6M262 156v6M262 178v2M263 160v2M264 154v2M265 52v6M265 154v6M267 182v1M267 184v1M270 182v1M273 182v1M275 185v1M275 190v4M275 202v2M276 185v1M277 183v1M277 188v2M278 190v2M279 184v1M279 196v2M280 184v1M280 198v2M284 198v2M288 76v6M288 183v1M288 198v2M293 183v1M293 198v2M295 183v1M295 202v2M296 200v2M296 252v2M298 183v2M299 198v2M300 198v4M300 244v2M301 184v1M302 183v1M302 198v2M303 183v2M303 200v2M304 183v2M304 200v6M304 208v2M304 222v2M304 228v4M304 250v2M306 183v1M307 183v1M307 198v10M307 210v2M307 216v2M307 220v4M307 232v2M307 238v2M307 244v2M308 183v1M308 202v8M308 212v2M308 218v2M308 224v2M308 228v2M308 232v2M308 244v2M309 198v2M309 212v2M309 220v4M309 230v4M309 238v2M309 244v2M309 250v2M310 184v1M310 212v2M310 216v2M310 222v4M310 230v2M310 236v2M310 240v4M310 246v2M311 184v1M311 200v6M311 214v2M311 218v8M311 232v4M311 242v6M312 200v2M312 204v2M312 210v2M312 214v2M312 218v2M312 222v2M313 226v2M313 230v12M314 183v1M314 212v2M314 218v2M314 236v2M315 198v2M315 232v4M315 238v2M315 246v2M316 198v2M316 206v2M316 234v8M317 234v4M317 240v10M318 183v2M318 240v2M318 246v2M318 256v2M319 222v2M319 230v2M319 234v4M319 242v2M319 250v2M320 184v1M320 200v2M320 222v2M320 230v10M320 248v2M321 184v1M321 236v2M321 240v2M323 238v2M323 244v4M324 210v4M324 238v2M324 244v4M325 184v1M326 183v1M327 198v2M328 184v1M329 184v1M330 183v1M330 198v2M331 183v1M332 200v2M333 183v1M335 198v2M337 184v1M338 183v2M339 198v2M340 198v2M342 184v1M343 183v1M343 198v2M344 184v1M345 184v1M346 183v1M346 198v4M348 183v1M348 208v4M348 220v2M348 236v2M348 246v2M349 198v2M349 204v2M350 206v4M350 212v6M351 198v2M351 202v2M351 212v2M351 244v6M352 184v1M352 200v2M352 204v2M352 216v2M353 204v2M353 208v4M353 224v2M353 240v2M353 246v4M354 183v1M354 198v2M354 210v2M354 246v2M355 184v1M355 198v6M355 206v2M355 246v4M356 184v1M356 198v2M356 214v2M356 224v2M356 228v6M356 236v2M356 248v2M356 254v2M357 183v1M357 198v2M357 202v2M357 206v2M358 204v6M358 228v2M358 232v2M358 236v6M359 183v1M359 200v6M359 210v2M359 226v10M359 240v6M359 248v2M360 204v4M360 226v6M360 234v2M360 238v2M360 242v2M360 248v2M361 198v2M361 204v2M361 228v2M361 248v2M362 183v1M362 202v2M362 228v2M362 234v6M362 242v2M362 246v2M363 200v2M363 204v6M363 222v2M363 228v2M363 232v4M363 242v2M364 200v2M364 204v2M364 234v4M364 242v2M364 246v2M365 228v2M365 232v4M365 240v4M365 246v2M366 183v1M366 198v2M366 202v2M366 236v2M366 242v2M367 184v1M367 198v2M367 236v8M367 246v2M368 198v2M368 234v6M368 244v2M369 183v1M369 196v4M369 202v2M369 246v2M370 184v1M370 246v4M371 184v1M371 200v2M371 234v6M371 244v2M372 183v1M372 198v2M372 232v4M372 242v2M372 246v2M373 183v2M373 244v4M374 183v2M374 238v10M375 183v1M375 248v2M375 254v2M376 240v2M376 244v2M376 248v2M377 183v1M377 242v2M377 246v2M378 183v1M378 234v2M378 238v2M378 246v4M378 252v2M379 240v2M379 244v4M380 198v2M380 232v2M380 240v4M380 246v4M381 184v1M381 236v2M381 240v2M381 246v4M382 183v1M382 240v10M383 184v1M383 244v6M384 184v1M384 234v2M384 242v2M384 246v2M385 183v1M385 198v2M385 230v2M386 236v10M386 250v2M387 183v1M387 204v2M387 210v2M387 228v2M387 234v2M387 238v2M387 250v4M388 184v1M388 200v2M388 204v2M388 212v2M388 226v2M388 232v4M388 248v4M389 198v8M389 210v2M389 214v2M389 222v2M389 234v4M389 244v2M390 202v2M390 206v6M390 214v2M390 218v2M390 228v2M390 234v2M390 242v4M390 248v2M391 183v2M391 200v2M391 204v2M391 208v4M391 214v2M391 220v2M391 230v4M391 236v2M391 240v4M392 183v1M392 198v4M392 216v2M392 226v2M392 232v2M392 238v6M392 246v2M393 184v1M393 198v2M393 206v2M393 212v2M393 230v2M394 206v4M394 224v4M394 243v1M394 248v8"/>
<path stroke="#0000fd" d="M142 100v4M142 112v4M142 119v1M142 124v12M142 144v1M142 146v6M142 174v6M143 124v4M143 150v2M143 158v2M143 168v4M143 174v2M143 178v2M144 76v12M144 104v14M144 120v4M144 164v2M145 116v2M145 120v4M145 142v2M145 150v2M145 172v4M151 82v6M152 118v1M153 70v6M153 124v4M154 88v6M154 124v4M154 145v1M155 70v6M155 137v3M156 52v6M156 64v6M156 145v1M157 58v6M157 76v12M157 144v1M157 146v2M158 142v2M159 148v2M159 160v2M160 76v6M160 150v2M161 168v2M161 174v4M161 180v2M162 192v2M162 210v6M162 224v2M162 250v2M162 256v2M162 286v2M162 296v2M163 158v2M163 170v2M163 226v2M163 232v2M163 248v2M163 258v2M164 182v1M164 236v2M164 254v2M165 88v6M165 220v2M165 246v2M165 252v2M165 256v2M165 284v2M165 292v2M166 82v6M166 188v2M166 208v2M166 232v2M166 246v2M166 296v10M167 190v2M167 250v2M167 264v2M167 274v2M167 294v2M168 288v2M169 82v6M169 183v1M169 240v2M169 248v2M170 186v2M170 206v2M170 232v4M170 238v4M170 244v2M170 294v2M171 82v6M171 183v1M171 230v2M171 236v2M171 242v2M171 254v2M172 222v2M172 234v2M172 238v2M172 248v2M172 262v2M173 186v2M173 228v2M174 184v2M174 190v2M174 232v2M175 190v2M175 200v2M176 88v6M176 228v2M177 230v2M177 234v2M178 158v2M178 188v2M178 202v2M178 212v2M178 224v2M178 228v2M179 184v1M179 188v2M179 230v2M180 186v6M180 224v2M180 228v2M181 82v12M181 188v2M182 188v2M182 228v2M183 200v2M183 228v2M184 196v6M184 220v2M184 228v2M185 196v4M186 194v2M186 218v2M187 76v6M187 186v2M187 228v2M188 70v6M188 166v2M188 178v2M188 222v2M188 226v4M189 168v2M189 206v2M189 216v2M189 220v4M189 228v2M190 164v4M190 210v2M190 218v2M190 222v2M191 160v2M191 164v2M191 176v2M191 214v2M191 218v2M192 70v6M192 166v2M192 176v2M192 218v2M192 232v2M193 162v2M193 224v2M193 230v2M194 76v6M194 226v2M194 238v2M195 168v4M196 64v6M197 64v6M197 226v2M197 232v2M197 238v2M198 168v4M198 230v4M198 240v2M198 256v2M199 168v2M199 240v4M199 248v2M199 254v2M199 268v2M200 64v6M200 168v2M200 226v2M200 240v2M200 250v2M200 258v4M200 264v2M200 278v2M201 58v6M201 234v2M201 238v2M201 242v2M201 254v2M201 262v2M201 266v2M201 270v2M202 170v2M202 236v2M202 244v2M202 266v2M202 280v2M202 290v2M203 234v2M204 52v6M204 170v2M204 236v4M204 248v6M204 256v4M204 262v4M204 268v2M204 272v6M205 234v2M205 240v2M205 244v2M205 258v4M206 246v2M207 158v2M207 170v6M207 254v2M207 258v2M207 270v2M208 168v2M208 178v2M208 246v2M208 258v2M208 276v2M209 164v2M209 170v2M209 174v2M209 274v2M210 162v4M210 172v2M211 52v6M211 164v2M212 162v4M212 168v2M213 248v2M214 162v2M214 168v2M216 170v6M217 172v2M219 172v2M224 168v2M230 150v2M231 52v6M232 145v1M232 150v2M233 140v2M235 140v2M236 162v2M237 154v2M237 158v2M237 164v6M238 156v2M238 172v2M240 172v2M241 150v2M241 162v2M241 172v4M243 142v2M243 148v4M244 144v1M245 158v2M253 178v2M254 178v2M254 182v1M255 180v2M258 178v2M258 182v1M260 180v2M266 182v1M271 182v1M272 186v2M272 190v2M273 186v2M274 188v2M275 194v2M276 184v1M276 186v6M276 194v2M277 184v1M277 190v2M277 194v2M281 183v2M281 198v2M282 198v4M285 184v1M286 198v2M287 198v4M288 184v1M289 183v2M290 183v2M291 184v1M291 200v4M292 183v2M292 198v2M294 183v2M294 198v2M295 198v2M295 228v2M296 202v4M298 198v4M299 238v2M300 204v2M300 216v2M300 250v2M300 254v2M301 183v1M301 200v2M303 202v2M303 262v2M304 198v2M304 206v2M304 214v2M304 234v2M304 246v4M304 254v2M305 224v2M305 244v2M306 198v2M306 202v2M306 250v2M307 240v4M308 184v1M308 210v2M308 220v4M308 226v2M308 230v2M308 236v4M308 242v2M308 246v2M309 183v1M309 208v4M309 218v2M309 234v2M309 240v2M310 248v2M310 252v2M311 198v2M312 208v2M312 226v2M312 248v6M313 183v1M313 204v4M313 210v2M313 220v4M313 246v4M314 184v1M314 200v2M314 210v2M314 214v2M314 220v2M314 224v2M314 228v4M314 234v2M314 252v4M314 262v2M315 220v2M315 230v2M316 200v2M316 230v2M316 250v2M316 254v2M317 198v4M318 198v4M318 232v4M319 202v4M319 220v2M319 232v2M319 262v2M319 266v2M320 183v1M320 250v2M321 200v2M321 248v2M321 252v2M322 198v2M322 236v4M322 242v6M323 198v6M324 198v2M324 228v2M324 236v2M324 242v2M326 184v1M328 198v4M329 183v1M330 200v2M331 184v1M331 198v2M333 184v1M334 183v1M334 248v2M334 254v2M335 184v1M335 200v2M335 218v2M336 184v1M336 198v2M337 198v2M339 184v1M341 200v2M341 244v2M342 198v2M343 184v1M343 200v2M343 242v2M344 183v1M344 200v2M345 183v1M346 244v2M347 198v2M347 208v2M347 214v2M347 222v4M347 230v2M347 240v2M347 244v8M347 264v2M348 200v2M348 206v2M348 212v2M348 216v2M348 232v2M348 244v2M349 200v4M349 206v6M349 214v2M349 242v8M350 183v1M350 210v2M350 222v2M350 246v2M351 183v1M351 210v2M351 216v2M351 236v2M351 240v4M352 220v4M352 244v4M353 183v1M353 214v4M353 222v2M353 238v2M353 242v2M353 250v2M354 208v2M354 242v2M354 248v2M355 208v4M355 244v2M356 204v2M356 210v2M356 218v4M356 226v2M356 234v2M356 256v2M357 204v2M357 208v4M357 228v2M357 234v4M357 240v4M357 248v2M358 242v2M358 248v2M359 238v2M359 252v2M360 208v2M361 183v1M361 200v2M361 206v4M361 222v6M362 184v1M362 198v2M362 204v2M362 230v4M362 252v2M363 248v2M364 183v1M364 202v2M364 212v2M364 224v2M364 228v4M364 238v2M364 248v6M365 202v2M365 230v2M365 248v2M366 184v1M366 200v2M366 204v2M366 228v4M366 246v4M367 234v2M367 250v2M368 183v2M368 200v2M368 228v2M368 250v4M369 200v2M369 230v2M369 234v2M369 248v2M370 183v1M370 198v2M370 202v2M370 230v4M371 198v2M371 230v2M372 184v1M372 236v2M372 244v2M373 234v2M373 238v2M373 248v2M374 198v2M374 236v2M375 198v4M375 234v2M375 250v2M377 248v2M378 232v2M379 183v1M379 198v2M379 250v2M380 184v1M381 200v2M381 232v2M382 184v1M382 234v2M383 250v2M384 198v2M384 248v2M384 252v2M385 212v2M385 224v2M385 232v4M385 250v2M386 183v2M386 230v2M386 234v2M387 202v2M387 206v2M387 230v2M388 202v2M388 206v4M388 214v2M388 222v4M388 230v2M389 183v2M389 206v4M389 212v2M389 224v2M389 228v6M389 248v4M390 184v1M390 220v4M390 226v2M390 250v2M391 246v6M392 234v2M392 244v2M392 248v2M393 224v2M393 248v2M394 184v1"/>
<path stroke="#000eff" d="M142 142v2M142 262v2M143 148v2M143 152v2M144 100v4M144 178v2M145 136v1M145 160v2M149 76v6M153 58v6M154 70v6M154 82v6M154 140v2M156 146v2M157 52v6M157 168v2M158 58v6M158 70v6M158 82v6M158 150v2M159 162v2M159 172v2M159 176v2M159 180v2M160 152v2M160 176v2M160 226v2M160 242v2M161 154v2M161 160v4M161 166v2M161 170v2M161 194v2M162 70v12M162 156v2M162 226v2M162 230v2M162 236v4M162 242v2M162 246v2M162 252v2M162 260v6M163 76v6M163 168v2M163 216v2M163 276v2M163 280v2M164 190v2M164 252v2M164 256v2M164 260v2M164 270v2M164 282v2M164 296v2M165 185v1M165 254v2M165 270v2M165 278v2M165 286v2M165 298v8M166 248v2M166 292v4M167 88v6M167 252v2M167 256v2M167 288v2M167 292v2M168 252v2M168 290v2M169 246v2M169 250v2M170 246v2M171 234v2M171 238v2M171 244v2M171 268v2M172 82v6M172 266v4M173 76v6M173 230v2M174 82v6M175 82v6M176 82v6M176 230v2M177 238v2M178 82v6M178 183v1M178 230v2M180 82v6M180 184v1M180 230v2M181 183v1M182 184v1M183 76v6M183 183v1M183 236v2M184 185v1M185 76v6M185 188v2M186 70v6M186 192v2M186 198v4M186 230v2M187 180v2M187 198v4M187 232v4M188 204v2M188 230v2M189 70v6M189 170v2M189 176v4M189 208v4M189 214v2M190 70v6M190 168v4M190 212v2M190 220v2M190 230v2M191 70v6M191 174v2M191 182v1M191 222v2M191 238v2M192 168v2M193 70v6M193 176v2M193 218v2M194 220v4M194 236v2M194 294v2M195 172v2M195 228v4M196 164v4M196 226v4M196 232v2M196 242v4M197 168v2M197 234v2M197 288v2M198 242v2M198 248v2M199 244v4M199 274v2M199 278v2M200 58v6M200 228v2M200 234v2M200 242v2M200 246v4M200 268v2M200 276v2M200 280v2M201 250v4M201 256v6M201 272v6M202 172v2M202 250v2M202 286v2M203 228v2M203 232v2M204 246v2M204 266v2M204 270v2M204 280v2M205 242v2M205 252v6M205 262v4M205 268v2M205 272v6M206 82v12M206 242v2M206 258v2M206 268v2M206 280v2M207 176v2M207 242v2M207 246v2M207 256v2M207 260v2M207 272v2M207 296v2M208 250v4M208 260v2M208 266v2M209 176v2M210 170v2M210 248v2M210 256v2M211 152v2M211 166v2M212 170v2M213 150v2M214 152v2M214 158v4M219 170v2M220 170v2M225 170v2M226 168v2M228 58v6M230 160v2M232 146v2M232 164v2M232 168v2M233 145v1M235 142v2M235 146v2M236 152v4M238 158v2M238 170v2M239 172v2M240 152v2M240 156v2M240 160v2M240 174v2M241 176v2M242 178v2M243 160v2M244 148v4M244 158v2M245 156v2M245 160v2M246 156v2M249 178v2M256 152v2M259 180v2M261 178v2M266 186v4M268 182v1M272 185v1M272 196v2M273 185v1M273 192v2M274 192v2M277 198v2M278 198v2M279 183v1M280 183v1M280 200v2M280 224v2M281 202v2M283 183v1M283 198v2M284 226v2M285 183v1M287 183v1M288 200v2M289 198v4M290 198v2M291 212v2M292 200v2M293 200v2M294 204v4M294 216v2M295 208v2M296 183v1M296 208v2M297 184v1M297 198v2M297 204v4M298 216v2M299 184v1M299 200v4M300 183v1M300 208v2M300 232v2M300 242v2M300 246v4M300 262v2M301 202v2M301 248v2M303 232v2M303 244v4M304 210v2M304 218v2M304 224v2M304 240v4M305 184v1M305 204v2M305 214v2M305 220v2M305 230v2M305 242v2M305 248v2M306 200v2M306 206v4M306 226v2M306 232v2M306 236v2M307 218v2M307 224v6M307 248v4M308 216v2M308 234v2M308 240v2M308 250v2M309 184v1M309 202v6M309 214v4M309 252v2M309 256v2M310 183v1M311 250v2M313 212v2M313 216v4M313 224v2M313 228v2M314 206v2M314 216v2M314 226v2M314 256v4M314 264v2M315 183v2M315 200v4M315 206v2M315 214v2M315 224v2M315 228v2M315 250v2M316 184v1M316 202v2M316 218v4M316 226v2M317 183v1M317 204v4M317 214v4M317 226v2M317 230v2M317 250v2M318 206v2M318 224v2M318 228v2M318 250v2M319 216v2M319 224v4M319 252v2M320 202v4M320 210v2M320 218v2M320 228v2M320 252v2M321 198v2M321 202v2M321 232v2M321 250v2M321 264v2M322 200v2M322 234v2M322 240v2M323 184v1M323 218v2M323 224v4M323 242v2M323 254v2M324 183v1M324 214v2M324 248v4M325 183v1M325 198v2M326 198v6M329 198v2M329 248v2M330 250v2M331 200v2M332 183v2M333 250v2M334 198v2M335 183v1M335 224v2M335 244v2M337 200v2M338 198v2M339 183v1M340 244v2M341 183v1M341 198v2M342 200v4M343 254v2M343 264v2M346 202v2M346 206v2M347 200v6M347 220v2M347 234v2M349 212v2M349 216v2M350 218v4M350 242v2M351 214v2M351 218v2M351 250v2M352 218v2M352 224v2M352 242v2M352 248v4M353 184v1M353 220v2M353 228v2M353 252v2M354 184v1M354 212v4M354 224v2M354 250v2M355 183v1M355 212v2M355 222v2M355 230v2M355 234v2M355 242v2M356 183v1M356 212v2M356 216v2M356 258v2M357 184v1M357 214v2M357 218v2M357 222v4M357 232v2M357 238v2M357 250v2M358 184v1M358 214v2M358 218v4M358 224v4M358 230v2M358 234v2M358 254v2M359 184v1M359 224v2M359 262v2M360 183v2M360 210v2M360 220v2M360 250v6M361 210v4M362 206v4M362 226v2M362 248v4M363 214v2M364 206v2M365 184v1M365 200v2M365 250v2M367 200v4M367 228v6M367 248v2M368 232v2M369 184v1M369 220v2M369 250v4M369 258v2M370 222v2M370 228v2M370 250v2M371 202v2M371 248v2M372 248v4M373 198v2M373 250v2M374 232v4M374 248v4M375 230v2M375 260v2M376 198v6M376 206v2M376 250v2M377 198v2M377 254v2M378 250v2M378 254v4M379 230v2M379 252v2M379 258v2M380 200v2M380 234v2M381 198v2M381 202v2M381 234v2M381 250v2M382 198v2M382 250v2M383 234v2M384 183v1M384 202v2M384 256v4M385 184v1M385 216v2M385 222v2M385 228v2M385 248v2M385 254v4M386 198v2M386 232v2M386 248v2M386 256v2M387 224v2M387 232v2M387 254v2M387 260v2M388 218v4M388 228v2M388 252v2M389 216v4M389 260v2M393 254v2"/>
<path stroke="#0020ff" d="M142 270v2M143 172v2M152 88v6M153 140v2M153 144v1M154 52v12M154 142v2M154 150v2M154 206v2M155 58v6M155 76v6M155 94v6M155 140v2M155 162v2M156 58v6M156 144v1M157 64v6M157 172v2M158 64v6M158 148v2M159 58v6M159 152v4M159 164v4M159 174v2M159 184v1M159 248v2M159 260v2M160 160v2M160 170v2M160 178v2M160 252v4M161 158v2M161 172v2M161 192v2M161 212v2M161 216v2M161 228v2M161 258v4M161 278v2M161 288v2M162 218v2M162 244v2M162 258v2M162 292v2M163 182v1M163 262v2M163 274v2M163 284v2M163 290v2M164 76v6M164 262v2M164 290v2M164 294v2M165 188v2M165 258v2M165 264v2M165 268v2M165 280v2M165 288v4M165 294v2M166 186v2M166 190v2M166 254v2M166 280v2M166 284v2M167 82v6M167 184v1M167 268v4M167 284v2M168 183v1M168 256v4M168 266v6M168 276v2M168 282v2M169 76v6M169 252v2M169 296v10M170 76v6M170 183v1M170 236v2M170 248v2M170 292v2M171 232v2M171 240v2M171 246v2M172 183v2M172 232v2M172 242v6M173 234v2M173 238v4M173 244v2M173 248v2M173 276v2M173 327v3M174 234v2M174 242v2M176 183v2M176 272v2M177 183v1M177 232v2M179 82v6M179 232v2M181 76v6M181 184v1M181 228v2M182 76v6M183 70v6M183 184v1M184 186v6M185 70v6M185 186v2M186 182v1M187 182v1M187 194v2M187 230v2M188 202v2M190 180v2M190 204v2M190 216v2M190 234v2M191 192v2M191 210v2M191 216v2M191 232v2M191 236v2M191 242v2M192 164v2M192 172v4M192 178v2M192 182v1M192 240v2M193 220v2M193 232v2M194 174v2M194 230v6M195 166v2M195 174v2M195 226v2M195 234v4M196 230v2M196 284v2M197 224v2M197 242v2M198 262v2M199 226v2M199 250v4M199 264v4M199 280v6M200 232v2M200 244v2M200 252v6M200 266v2M200 270v2M200 282v4M201 52v6M201 232v2M201 246v2M201 264v2M201 278v2M202 52v6M202 284v2M203 174v2M203 226v2M203 230v2M203 280v8M204 234v2M204 260v2M205 230v2M205 236v4M205 248v2M205 270v2M206 94v6M206 240v2M206 250v2M206 260v2M206 266v2M207 220v2M207 230v2M207 238v2M207 250v2M207 262v4M207 268v2M207 280v4M208 244v2M208 248v2M208 272v2M208 296v10M209 172v2M209 250v2M210 174v2M210 178v2M210 242v6M214 154v2M214 172v2M214 250v2M214 254v2M214 258v2M217 174v4M218 176v2M222 176v2M229 52v6M229 170v2M230 144v1M230 152v4M232 162v2M234 142v2M235 166v2M236 158v2M237 156v2M237 160v2M237 170v2M239 174v6M240 158v2M240 176v2M243 154v2M243 158v2M244 152v2M244 160v2M244 178v2M245 152v2M248 178v2M252 178v2M253 180v2M255 178v2M258 180v2M259 182v1M262 180v2M266 183v1M267 185v1M267 196v2M272 188v2M274 186v2M274 190v2M274 194v2M275 183v1M276 196v2M277 204v2M278 183v1M278 196v2M283 200v2M283 204v2M285 198v2M286 184v1M286 200v2M287 212v2M288 202v2M289 204v2M291 210v2M291 214v2M292 204v2M293 248v2M294 218v2M294 222v2M295 200v2M295 204v2M296 206v2M296 210v2M296 230v2M296 242v4M296 260v2M297 210v2M297 214v2M298 208v2M298 214v2M298 220v2M298 226v2M299 220v2M299 230v2M299 248v2M299 262v2M300 202v2M300 206v2M300 220v2M301 216v4M301 236v2M301 242v2M301 256v2M302 184v1M302 200v2M302 204v2M302 214v2M302 224v6M302 234v2M302 254v2M302 260v2M303 226v4M303 240v2M304 212v2M304 216v2M304 236v4M304 244v2M304 252v2M305 202v2M305 210v4M305 218v2M305 222v2M305 226v4M305 232v2M305 236v6M305 256v2M306 204v2M306 210v2M306 214v2M306 228v2M306 240v2M306 244v2M307 254v2M308 248v2M311 183v1M311 254v4M312 254v2M313 250v2M314 222v2M314 250v2M315 208v6M315 216v2M315 226v2M315 252v2M316 210v4M316 252v2M317 184v1M317 202v2M317 208v6M318 226v2M318 252v4M318 266v2M318 270v2M319 183v1M319 206v4M319 214v2M320 214v2M320 256v2M321 204v2M321 228v4M321 258v2M322 248v2M323 216v2M323 234v2M323 240v2M323 248v6M323 266v2M324 200v4M324 254v2M325 250v2M326 246v2M327 200v2M330 202v4M330 238v2M330 248v2M330 258v2M331 246v2M332 246v2M333 198v2M333 228v2M334 200v2M334 238v4M334 250v2M335 262v2M335 268v2M339 200v2M342 204v2M342 236v2M343 224v2M343 232v2M343 244v4M344 198v2M344 202v2M344 244v2M345 202v2M345 244v2M346 204v2M346 242v2M346 246v2M347 183v1M347 206v2M347 216v2M347 226v2M347 242v2M347 254v4M348 204v2M348 218v2M349 218v4M349 240v2M349 252v2M350 224v2M350 244v2M351 220v2M351 224v2M351 228v2M351 238v2M351 252v2M352 228v2M352 232v4M352 252v2M353 226v2M353 254v4M354 216v2M354 222v2M354 230v2M354 238v4M355 226v2M355 238v4M355 250v2M356 222v2M357 212v2M357 216v2M357 230v2M357 252v6M358 183v1M358 264v2M359 212v2M359 218v2M359 222v2M359 250v2M359 254v2M360 212v2M360 218v2M361 220v2M362 210v2M362 254v2M363 212v2M363 218v4M363 250v2M363 256v2M364 184v1M364 222v2M364 254v2M365 204v2M365 208v2M365 212v2M365 224v4M366 206v2M366 210v2M366 224v4M367 183v1M369 204v2M369 208v2M369 212v2M369 226v2M369 254v2M371 204v2M372 200v4M373 200v2M375 202v2M376 204v2M376 252v2M377 184v1M377 220v2M377 256v2M378 200v2M378 214v2M378 220v2M378 258v6M379 220v2M380 208v2M380 252v2M382 200v2M382 230v4M382 252v2M382 266v2M383 198v6M383 232v2M383 252v2M384 206v2M384 230v4M384 254v2M384 260v4M385 200v4M385 206v2M385 252v2M386 212v2M386 216v2M387 208v2M387 214v4M387 220v2M387 226v2M388 210v2M388 216v2M388 254v2M389 226v2M389 252v2M390 252v2M392 252v2M393 250v2"/>
<path stroke="#0032ff" d="M142 64v6M142 145v1M144 266v2M144 282v2M147 108v4M153 52v6M153 76v6M153 146v2M153 174v2M154 144v1M154 146v2M154 172v2M155 64v6M155 142v2M155 145v3M155 150v2M156 148v2M157 148v2M157 166v2M157 174v2M157 180v2M157 228v2M157 256v2M158 210v2M159 64v6M159 178v2M159 254v4M159 262v2M160 162v4M160 194v2M160 208v2M160 216v2M160 220v2M160 224v2M160 228v2M160 258v4M161 70v6M161 182v1M161 232v2M161 248v2M161 256v2M161 262v2M161 266v2M161 284v2M162 188v2M162 272v2M162 290v2M163 185v1M163 268v2M163 286v2M164 276v2M164 280v2M164 286v2M164 292v2M164 298v8M165 76v6M165 190v2M165 262v2M165 276v2M165 282v2M166 256v2M166 270v2M166 290v2M167 262v2M167 272v2M167 276v6M167 286v2M168 260v2M168 286v2M169 280v2M169 290v2M170 184v1M170 242v2M170 298v8M172 236v2M172 254v2M172 264v2M173 183v2M173 232v2M174 262v2M174 282v2M174 296v2M175 183v1M176 232v2M176 246v2M177 184v1M177 236v2M178 76v6M179 76v6M180 76v6M180 232v2M181 230v2M182 183v1M184 70v6M184 230v2M185 185v1M186 188v2M186 232v2M187 240v2M188 196v6M189 230v4M189 240v2M190 176v4M190 208v2M190 232v2M191 180v2M191 268v4M192 64v6M192 170v2M192 206v10M192 236v4M193 234v4M193 240v2M194 166v2M194 218v2M195 176v4M195 220v2M195 224v2M195 232v2M195 238v2M196 222v2M196 240v2M196 280v2M197 174v4M197 240v2M197 286v2M197 292v2M198 64v6M198 174v2M198 244v2M198 254v2M198 272v2M199 170v2M199 224v2M199 256v2M199 262v2M199 270v2M200 230v2M200 262v2M200 274v2M201 174v2M201 230v2M201 280v2M202 174v2M202 228v4M202 282v2M202 288v2M203 172v2M204 230v2M205 206v2M205 214v2M205 266v2M205 278v2M206 244v2M206 254v4M206 272v4M207 248v2M207 252v2M207 266v2M207 276v4M208 180v2M208 242v2M208 254v2M208 280v4M208 292v2M208 384v3M209 258v2M209 286v2M210 158v2M210 176v2M210 238v2M211 154v2M211 160v2M211 168v4M212 172v2M213 256v2M214 174v4M214 182v1M217 178v2M218 180v2M226 52v6M227 170v2M230 168v2M232 148v2M233 146v2M234 152v2M235 144v1M235 148v2M235 168v2M236 160v2M236 164v2M241 152v2M243 152v2M243 156v2M243 178v2M244 154v4M245 178v4M246 178v2M248 180v2M251 178v2M256 160v2M262 182v1M265 178v2M267 183v1M268 183v1M269 194v2M271 186v2M271 194v2M272 194v2M272 198v2M273 183v1M273 188v2M273 194v2M274 184v1M275 184v1M275 196v2M275 200v2M277 230v2M278 184v1M278 200v2M279 198v2M280 202v2M283 208v2M284 200v2M287 208v2M289 202v2M290 200v2M291 236v2M292 202v2M292 230v2M293 244v2M293 252v2M293 256v2M294 210v4M296 212v2M296 216v2M296 222v2M296 240v2M296 248v2M297 218v2M298 204v2M298 224v2M298 228v2M299 204v2M299 218v2M299 236v2M299 240v2M300 210v2M300 222v4M300 238v2M300 256v2M301 204v2M301 212v4M301 220v6M301 228v2M301 234v2M301 254v2M302 202v2M302 216v2M302 240v2M302 244v2M303 230v2M303 236v4M303 248v2M303 252v2M304 232v2M304 256v4M305 183v1M305 206v4M305 250v4M306 184v1M306 212v2M306 220v6M306 230v2M306 238v2M306 242v2M306 248v2M306 252v2M307 208v2M307 252v2M307 256v2M308 258v2M309 254v2M309 258v4M310 254v2M310 258v2M310 274v2M313 252v2M314 208v2M315 204v2M315 218v2M315 258v2M316 208v2M316 222v4M316 228v2M317 222v2M317 228v2M317 254v4M318 204v2M318 264v2M319 210v2M319 276v2M320 220v2M320 224v4M320 254v2M320 258v2M320 264v4M320 280v2M321 206v2M321 214v2M321 224v2M321 260v2M322 202v2M322 210v2M322 250v4M322 264v2M323 208v4M323 214v2M323 228v2M323 232v2M323 236v2M324 230v2M324 252v2M324 258v2M325 236v2M325 244v6M325 262v2M326 244v2M327 236v2M327 246v2M327 250v2M328 242v2M328 258v2M330 210v2M330 220v2M330 254v4M331 272v2M332 214v2M332 256v2M333 200v2M333 240v2M334 244v2M334 256v2M335 204v2M335 222v2M335 256v2M336 246v2M337 250v2M340 200v2M341 202v2M342 224v2M343 202v2M343 216v2M343 222v2M343 250v4M343 260v2M343 270v2M344 204v2M344 248v2M345 200v2M345 246v2M346 214v2M346 218v2M346 256v2M347 210v2M347 218v2M347 252v2M348 226v4M348 240v2M348 250v2M349 183v1M349 222v2M349 236v2M350 230v2M350 238v2M350 248v4M351 222v2M351 254v2M352 230v2M352 236v2M352 240v2M352 258v2M353 230v6M354 218v4M354 226v2M354 234v4M355 216v6M355 224v2M355 228v2M355 232v2M355 236v2M355 252v2M356 260v2M357 220v2M357 226v2M358 212v2M358 216v2M358 222v2M358 252v2M358 258v2M359 256v4M361 250v4M362 224v2M364 208v4M365 206v2M365 210v2M365 220v2M365 258v2M366 208v2M366 250v2M367 208v2M367 222v2M367 226v2M367 252v4M368 202v2M368 226v2M368 230v2M368 262v2M369 206v2M369 228v2M370 252v4M371 224v2M371 250v4M372 204v2M372 252v2M373 202v2M373 252v2M374 228v2M374 254v2M375 232v2M375 262v2M375 270v2M376 208v2M376 230v4M377 252v2M378 202v2M378 224v2M378 230v2M378 266v2M379 208v2M379 254v2M379 262v2M380 210v2M380 254v2M380 270v2M381 252v4M381 258v6M381 270v2M382 256v2M383 254v2M383 260v2M383 266v2M384 200v2M384 214v2M384 228v2M384 268v2M385 220v2M385 266v2M386 200v6M386 208v2M386 214v2M386 222v2M386 228v2M387 212v2M387 218v2M387 222v2M387 256v2M387 266v2M387 272v2M388 256v2M389 256v2M390 256v2M392 184v1M392 250v2M393 252v2M393 256v2M394 258v2"/>
<path stroke="#0043ff" d="M142 264v2M142 272v2M142 286v2M144 64v6M144 280v2M144 288v2M144 292v2M147 70v6M147 94v6M147 118v1M149 64v6M152 76v6M153 64v6M153 142v2M153 145v1M153 176v2M154 64v6M154 170v2M154 250v2M155 52v6M155 144v1M156 150v4M156 292v2M157 152v4M157 158v2M157 164v2M157 178v2M157 248v2M157 252v2M157 260v2M157 270v2M158 160v2M158 166v2M158 170v4M158 254v2M158 278v2M159 168v2M159 194v2M159 226v2M159 240v4M159 246v2M159 258v2M159 264v2M160 172v2M160 214v2M160 246v2M160 286v2M161 156v2M161 196v2M161 200v2M161 204v2M161 214v2M161 226v2M161 230v2M161 234v2M161 242v4M161 254v2M161 280v2M162 64v6M162 268v4M162 274v2M162 284v2M162 288v2M162 294v2M162 298v8M163 70v6M163 188v2M163 266v2M163 278v2M163 294v4M164 185v1M164 264v2M164 272v2M164 278v2M164 284v2M165 70v6M165 186v2M165 272v2M166 252v2M166 258v2M166 276v4M166 282v2M166 286v2M167 258v2M168 76v12M168 262v2M168 272v4M168 278v2M169 256v2M169 274v2M169 284v2M169 294v2M170 270v2M170 282v2M171 76v6M171 250v2M171 262v2M171 296v2M172 76v6M172 252v2M172 274v2M173 246v2M174 76v6M174 236v2M174 240v2M174 246v2M175 70v6M175 184v1M175 272v2M176 234v2M176 250v2M176 357v3M177 242v2M177 248v4M177 256v2M178 232v2M179 234v2M179 238v2M179 258v2M180 183v1M180 234v2M183 230v6M183 244v4M183 250v2M184 232v4M186 190v2M186 234v4M187 64v6M187 190v4M188 232v2M189 180v2M189 202v4M189 234v2M190 214v2M190 238v2M191 194v2M191 198v2M191 202v2M191 212v2M191 234v2M192 216v2M192 252v2M193 164v2M193 174v2M193 214v2M193 238v2M194 164v2M194 168v2M194 172v2M194 216v2M194 258v2M195 218v2M195 222v2M195 274v2M196 168v2M196 172v2M196 216v2M196 252v2M196 258v2M196 262v2M196 276v2M196 292v2M197 170v4M197 222v2M197 252v2M197 264v2M197 284v2M198 246v2M198 260v2M198 276v2M198 282v2M199 52v12M199 228v2M199 276v2M199 286v2M200 170v6M200 292v2M201 284v2M203 224v2M204 172v2M204 228v2M204 232v2M204 282v2M204 290v4M205 220v2M205 232v2M205 282v2M206 232v2M206 236v4M206 252v2M206 262v4M206 276v2M207 216v2M207 224v2M207 232v4M207 274v2M207 292v2M207 298v8M208 182v1M208 236v6M208 256v2M208 264v2M208 268v4M208 290v2M209 156v2M209 178v2M209 246v4M209 254v4M209 270v2M209 276v2M209 282v2M209 288v2M209 296v2M210 156v2M210 160v2M210 236v2M210 240v2M210 250v2M211 174v2M212 160v2M212 178v2M213 242v6M214 156v2M214 238v2M214 262v2M216 176v2M220 172v2M222 180v2M227 52v6M230 52v6M230 156v2M230 170v2M232 158v4M232 166v2M233 142v2M233 164v4M234 144v1M234 146v2M236 156v2M237 174v2M239 180v2M241 154v2M241 160v2M241 178v2M242 137v3M247 180v3M251 180v2M254 183v1M256 162v2M257 178v2M263 178v2M266 185v1M267 192v2M267 200v2M268 185v1M269 186v4M270 186v2M271 185v1M272 200v2M274 183v1M274 198v2M275 198v2M276 198v4M277 202v2M279 202v2M280 206v2M280 210v4M280 216v2M280 220v2M284 202v2M284 224v2M285 200v2M287 204v4M287 210v2M287 224v2M288 70v6M289 208v2M289 234v2M290 204v2M291 204v4M292 236v2M293 202v4M293 246v2M293 250v2M293 260v2M293 266v2M294 202v2M294 220v2M295 222v2M296 220v2M296 226v4M296 232v2M296 254v2M297 222v4M297 234v2M297 240v2M297 256v2M297 266v2M298 206v2M298 210v2M298 234v2M299 214v2M299 224v4M299 232v2M299 250v2M299 254v6M299 264v2M299 274v2M300 212v2M300 228v4M300 234v4M300 240v2M300 252v2M300 260v2M301 206v4M301 238v2M301 244v4M301 250v2M301 260v2M301 270v2M302 222v2M302 232v2M302 242v2M302 248v2M303 234v2M303 242v2M303 250v2M303 254v4M303 274v2M305 216v2M305 234v2M305 246v2M306 216v2M306 234v2M306 246v2M306 254v4M308 252v2M310 260v4M312 256v2M312 260v2M313 254v2M314 266v2M314 272v2M315 222v2M316 204v2M316 216v2M316 260v2M316 272v2M317 218v4M317 224v2M317 262v2M318 202v2M318 214v4M318 222v2M318 258v4M318 268v2M319 212v2M319 218v2M319 228v2M319 254v4M319 264v2M319 270v2M320 208v2M320 216v2M320 262v2M320 268v4M321 208v2M321 216v4M321 226v2M321 256v2M321 262v2M321 266v4M322 212v2M322 256v2M323 206v2M323 212v2M323 220v2M323 230v2M323 256v2M324 208v2M324 234v2M325 200v2M325 242v2M325 252v2M325 264v2M326 250v2M327 220v2M327 238v2M327 254v2M327 260v2M328 202v2M328 216v2M328 246v2M329 240v2M330 252v2M330 266v2M331 202v2M331 250v2M331 276v2M332 208v2M332 222v2M332 250v4M333 222v4M333 244v4M333 258v2M334 202v2M334 236v2M335 246v2M335 250v4M336 200v2M336 248v6M336 268v2M337 226v2M337 254v2M338 200v2M339 202v2M339 238v2M340 248v2M340 254v2M341 214v2M342 218v2M342 230v2M343 204v2M343 210v2M343 226v2M343 248v2M343 258v2M344 214v4M344 236v4M344 242v2M344 246v2M344 250v2M345 204v2M345 210v2M345 220v2M345 228v2M345 250v2M346 208v2M346 212v2M346 232v2M346 238v4M346 248v2M347 238v2M347 260v4M347 270v2M348 222v4M348 234v2M348 238v2M348 242v2M348 252v6M349 226v2M350 240v2M351 230v2M351 234v2M351 256v2M352 226v2M352 238v2M352 256v2M353 236v2M353 258v4M354 228v2M354 232v2M354 252v2M355 214v2M359 220v2M360 214v2M360 256v2M361 184v1M361 216v4M361 270v2M363 216v2M363 252v4M364 262v2M365 183v1M365 252v2M367 204v4M367 258v2M368 206v2M370 206v2M370 210v2M370 224v2M370 258v2M371 212v2M371 228v2M372 222v2M372 226v4M373 204v2M373 232v2M374 204v2M374 252v2M375 206v2M375 216v2M375 252v2M375 268v2M375 274v2M376 266v2M377 258v2M378 204v2M379 202v2M379 256v2M380 202v4M380 230v2M380 272v2M381 264v2M382 202v2M382 268v2M383 204v2M383 256v2M383 262v4M384 212v2M384 222v2M384 264v4M384 276v2M385 204v2M385 210v2M385 226v2M385 270v2M386 206v2M386 210v2M386 218v2M386 252v4M387 270v2M388 264v2M389 254v2M389 276v2M390 262v2M391 256v2M392 254v2M393 264v4M393 274v2M394 256v2"/>
<path stroke="#0055ff" d="M142 290v2M142 296v10M143 270v2M144 268v2M144 278v2M144 284v2M144 290v2M144 294v12M147 82v12M147 100v4M147 112v6M150 64v6M152 120v4M152 137v3M153 185v1M153 224v2M153 228v2M154 148v2M154 152v2M154 218v2M154 246v4M155 148v2M156 176v2M156 236v2M156 278v2M157 150v2M157 162v2M157 176v2M157 204v2M157 212v2M157 234v2M157 246v2M158 152v4M158 162v2M158 168v2M158 176v2M158 180v2M158 288v2M159 156v4M159 198v2M159 286v2M160 154v4M160 166v4M160 174v2M160 180v2M160 192v2M160 204v4M160 210v4M160 270v2M161 210v2M161 218v2M161 236v4M161 246v2M161 268v2M161 272v2M161 282v2M161 296v2M163 190v2M163 270v2M163 288v2M163 292v2M163 298v8M164 186v2M164 266v4M165 183v1M165 260v2M165 274v2M166 76v6M166 260v2M166 266v4M166 272v2M166 288v2M167 282v2M168 284v2M169 276v2M170 250v2M170 296v2M171 256v2M171 260v2M171 298v8M172 282v2M173 236v2M173 242v2M173 256v2M175 276v2M176 70v12M176 242v2M176 254v2M178 234v2M178 240v2M179 236v2M179 240v2M182 230v4M184 183v1M184 236v2M186 186v2M187 188v2M187 236v4M188 192v2M189 64v6M189 190v2M189 196v2M189 200v2M190 206v2M190 236v2M190 240v2M191 186v2M191 196v2M191 200v2M191 208v2M191 256v2M191 284v2M192 58v6M192 246v2M192 260v2M193 64v6M193 242v2M194 176v2M194 212v2M194 240v2M194 246v2M194 250v2M194 270v2M195 210v2M195 240v2M195 258v2M195 268v4M195 286v2M196 58v6M196 220v2M196 224v2M196 264v4M196 272v2M197 220v2M197 246v2M197 250v2M197 270v2M197 278v2M198 214v2M198 250v4M198 258v2M198 264v2M198 268v4M198 284v4M199 210v2M199 216v2M199 312v3M199 324v3M200 52v6M200 288v4M201 172v2M201 176v2M201 222v2M201 226v4M201 282v2M201 286v2M202 224v2M203 204v2M203 292v2M204 222v2M204 284v2M205 172v4M205 280v2M206 170v4M206 234v2M206 248v2M206 270v2M206 278v2M206 282v2M206 286v2M206 294v2M206 298v8M207 226v4M207 284v2M207 288v2M208 230v2M208 278v2M208 402v3M209 160v2M209 234v2M209 238v6M209 260v2M209 266v2M209 278v2M209 298v8M210 252v4M211 172v2M211 176v2M212 156v4M212 174v2M213 250v2M214 180v2M214 242v2M214 246v2M217 182v1M218 174v2M219 174v2M219 183v1M221 170v2M226 170v2M230 158v2M232 152v2M232 172v2M233 148v2M234 148v2M235 150v4M235 162v2M237 172v2M238 178v2M241 158v2M257 180v2M260 183v1M261 180v2M266 194v2M267 186v6M268 188v2M268 192v2M270 185v1M272 183v1M274 196v2M274 200v2M277 200v2M278 202v2M279 200v2M279 204v2M280 208v2M282 202v6M284 204v2M284 218v4M286 202v4M286 208v2M287 216v2M288 226v2M289 206v2M289 212v2M290 202v2M291 208v2M291 226v2M291 230v2M292 206v2M293 258v2M294 208v2M294 214v2M295 206v2M295 220v2M295 224v2M295 238v2M295 242v2M296 236v2M296 258v2M297 212v2M297 216v2M297 220v2M297 232v2M297 250v4M297 264v2M298 212v2M298 222v2M298 256v2M299 212v2M299 216v2M299 222v2M299 242v2M299 246v2M299 268v4M300 218v2M300 226v2M300 258v2M300 268v2M300 274v2M301 230v4M301 240v2M301 252v2M301 258v2M302 208v4M302 246v2M302 250v4M302 256v2M302 266v2M304 260v2M304 264v2M304 274v2M305 258v2M306 218v2M306 272v2M307 258v2M308 254v2M311 252v2M311 258v4M311 264v2M312 258v2M313 262v2M314 260v2M315 254v4M315 260v4M316 214v2M316 256v2M316 262v2M317 264v2M318 210v2M318 262v2M319 260v2M320 212v2M321 212v2M321 220v2M321 254v2M322 224v6M322 232v2M322 254v2M323 204v2M324 204v2M324 220v2M324 226v2M324 256v2M324 262v2M325 240v2M325 260v2M326 212v2M326 220v2M326 242v2M326 252v2M327 204v2M327 224v2M327 244v2M327 248v2M327 252v2M328 212v2M328 218v2M328 234v2M328 248v6M328 260v2M329 200v2M329 214v2M329 238v2M329 252v2M330 226v2M331 244v2M331 248v2M331 252v2M332 202v2M332 210v2M332 248v2M332 274v2M333 226v2M333 242v2M333 248v2M334 246v2M334 266v2M335 202v2M335 232v2M335 248v2M336 202v2M336 210v2M336 240v2M336 244v2M337 244v4M338 250v2M339 240v2M339 246v2M340 202v2M340 206v2M340 242v2M340 246v2M340 250v2M340 260v2M340 266v2M341 216v2M341 246v2M342 206v2M342 250v2M343 218v2M343 228v2M343 240v2M343 266v4M344 208v6M344 240v2M345 206v4M345 212v4M345 242v2M346 216v2M346 220v2M346 224v2M346 234v4M346 250v2M346 262v2M347 228v2M349 224v2M349 228v6M349 238v2M349 256v2M350 82v6M350 226v2M350 232v2M350 254v2M351 226v2M351 258v2M352 260v2M354 254v4M355 254v4M356 262v4M358 262v2M359 214v4M359 260v2M359 264v2M360 216v2M360 258v2M361 254v2M361 258v2M362 212v2M362 256v2M362 260v2M364 216v6M365 222v2M366 212v2M366 218v2M366 252v2M367 256v2M367 270v2M368 204v2M368 218v8M368 254v4M368 260v2M369 210v2M369 214v2M370 204v2M370 208v2M370 212v4M370 226v2M371 208v2M371 216v2M371 222v2M371 226v2M371 254v2M371 260v2M372 230v2M372 254v2M372 272v4M374 200v2M374 230v2M375 256v4M376 226v2M376 254v8M377 200v2M377 264v2M378 212v2M378 228v2M378 264v2M379 206v2M379 212v2M379 228v2M379 266v4M380 220v2M380 256v10M381 228v4M381 256v2M381 266v4M382 254v2M382 260v2M382 264v2M383 208v2M383 218v2M383 230v2M383 258v2M383 270v2M384 218v2M385 208v2M385 218v2M385 258v2M385 264v2M385 274v2M386 224v2M387 274v2M388 258v2M389 274v2M390 254v2M391 252v2M392 256v2M393 258v2M394 260v2M394 264v2"/>
<path stroke="#0066ff" d="M142 266v4M142 276v4M142 282v2M142 288v2M143 292v4M144 264v2M144 272v4M144 286v2M145 64v6M147 76v6M147 104v4M152 82v6M153 206v2M153 210v2M153 220v2M153 230v2M153 238v2M153 250v2M154 188v2M154 363v6M155 226v2M156 168v2M156 172v4M156 185v1M156 216v2M156 232v2M156 272v2M156 318v3M157 224v2M157 236v2M157 250v2M157 262v2M157 354v3M158 164v2M158 174v2M158 188v2M158 246v2M158 258v2M159 183v1M159 185v1M159 208v2M159 218v2M159 222v2M159 244v2M159 266v4M159 276v2M159 351v3M160 158v2M160 196v2M160 230v2M160 244v2M160 274v2M160 360v3M161 198v2M161 206v2M161 222v2M161 240v2M161 250v2M161 264v2M161 274v4M161 286v2M161 292v2M162 183v1M162 185v1M162 351v6M162 375v3M163 186v2M163 272v2M163 282v2M164 70v6M164 188v2M164 274v2M165 354v3M166 70v6M166 183v1M166 262v4M167 260v2M167 266v2M168 184v1M169 254v2M169 258v2M169 268v2M169 272v2M169 278v2M169 282v2M170 260v4M170 266v2M170 272v2M170 276v2M170 284v2M171 248v2M171 258v2M171 264v4M171 280v2M171 284v4M171 292v2M172 272v2M172 288v2M172 296v10M173 70v6M173 252v2M174 238v2M174 248v2M174 292v2M175 76v6M175 286v2M176 252v2M176 282v2M176 288v2M176 363v3M176 378v6M177 70v12M177 240v2M177 252v2M177 258v2M178 236v2M178 274v2M179 70v6M179 357v3M180 70v6M184 244v2M185 183v1M186 183v1M186 244v2M188 234v2M189 194v2M189 238v2M189 286v2M190 182v1M191 240v2M191 250v2M191 260v6M192 186v2M192 204v2M192 242v2M192 262v2M192 354v3M192 363v3M192 372v3M193 170v2M193 210v2M193 278v2M194 178v2M195 214v2M195 256v2M195 260v6M195 280v2M195 284v2M195 288v2M196 170v2M196 212v2M196 246v2M196 254v4M196 260v2M196 274v2M196 282v2M197 58v6M197 254v4M197 260v2M197 276v2M198 176v2M198 194v2M198 266v2M198 274v2M198 278v2M199 172v2M199 214v2M199 258v2M199 288v2M199 292v2M201 288v2M202 226v2M202 292v2M203 206v2M203 220v2M204 226v2M204 286v4M205 212v2M206 226v4M207 194v2M207 210v4M208 185v1M209 228v2M209 244v2M209 252v2M209 262v2M210 228v2M210 258v2M210 276v2M211 158v2M211 236v2M212 154v2M212 238v2M212 248v2M213 258v4M213 272v2M214 178v2M214 248v2M214 260v2M214 266v2M216 178v2M217 180v2M218 178v2M223 172v2M223 176v2M228 170v2M233 168v2M235 164v2M237 176v4M238 174v2M242 180v2M243 180v2M250 180v2M256 154v4M263 180v2M265 180v2M267 202v2M267 206v2M268 186v2M268 194v2M269 196v2M271 192v2M272 202v2M273 196v2M276 202v2M277 218v2M277 232v2M278 220v2M280 214v2M280 226v4M280 268v2M280 278v4M281 200v2M283 216v6M284 222v2M287 218v2M287 226v2M287 236v2M287 270v2M288 206v4M288 228v2M289 222v2M289 228v2M291 220v2M291 244v2M291 260v2M292 210v2M292 214v2M292 228v2M293 224v4M293 230v2M293 238v2M294 224v2M294 248v2M294 258v4M295 210v2M295 214v2M295 264v2M296 234v2M296 250v2M297 208v2M297 228v2M297 236v2M297 242v2M297 254v2M298 230v2M298 238v4M298 254v2M298 264v2M299 206v6M299 244v2M300 272v2M301 210v2M301 226v2M301 262v4M302 206v2M302 220v2M302 230v2M302 236v4M302 258v2M302 272v2M303 204v2M303 216v2M303 270v2M305 254v2M306 258v4M306 276v2M308 256v2M308 264v2M309 262v2M310 256v2M311 262v2M313 256v6M314 270v2M315 264v2M316 270v2M317 252v2M317 268v2M318 212v2M318 218v4M319 268v2M319 274v2M320 274v2M321 210v2M321 274v4M322 204v6M322 216v2M322 258v2M323 258v4M323 264v2M323 268v4M323 276v2M324 260v2M324 276v2M325 202v2M325 226v2M325 232v2M325 238v2M325 254v2M325 266v2M326 204v2M326 214v2M326 218v2M326 248v2M326 256v2M326 272v2M327 212v2M327 216v2M327 230v2M327 240v4M327 256v2M328 210v2M328 232v2M328 256v2M329 228v2M329 234v2M329 246v2M329 250v2M329 256v4M330 222v2M330 234v2M330 240v2M330 274v2M331 228v2M331 242v2M331 256v4M332 204v2M332 242v2M332 258v2M332 262v2M333 218v2M333 236v2M333 252v2M333 256v2M334 206v2M334 230v2M334 242v2M334 252v2M334 258v2M335 216v2M335 254v2M335 258v2M336 222v2M337 208v2M337 228v2M337 252v2M338 242v2M338 246v2M338 256v4M339 244v2M339 248v2M340 252v2M340 272v2M341 248v2M342 210v2M342 214v2M342 254v2M343 206v2M343 236v4M343 256v2M343 272v2M344 206v2M344 222v4M344 252v2M345 248v2M346 210v2M346 222v2M346 254v2M346 270v2M347 258v2M348 258v2M348 262v4M349 250v2M349 254v2M350 228v2M350 236v2M353 264v2M358 256v2M358 274v2M359 272v2M360 260v4M360 270v2M361 256v2M362 214v2M362 222v2M364 260v2M365 214v2M365 218v2M366 216v2M366 220v2M366 254v2M367 210v2M367 268v2M368 264v4M368 272v2M369 222v4M369 270v6M370 218v2M370 262v2M371 206v2M371 210v2M371 258v2M371 264v2M372 216v2M372 220v2M372 264v2M373 228v4M374 202v2M374 208v2M374 212v2M374 216v2M374 226v2M374 262v2M375 276v2M376 222v2M376 262v2M376 274v2M377 202v2M377 260v2M378 206v2M379 210v2M379 214v2M379 260v2M379 272v2M380 216v2M380 228v2M380 266v2M382 206v2M382 212v2M382 258v2M382 262v2M383 206v2M383 210v2M384 204v2M384 208v4M385 214v2M385 268v2M385 272v2M386 220v2M386 226v2M386 260v2M386 272v2M387 264v2M387 268v2M388 260v2M391 254v2M392 258v2M393 268v2"/>
<path stroke="#0078ff" d="M142 284v2M143 264v4M143 272v2M144 270v2M151 64v6M152 70v6M153 148v2M153 152v2M153 160v2M153 178v2M153 226v2M153 232v2M153 236v2M153 330v3M154 156v2M154 196v2M154 200v2M154 230v2M155 158v2M155 176v2M155 208v2M155 212v4M155 224v2M156 162v2M156 180v2M156 204v2M156 290v2M156 298v8M156 330v3M156 342v3M157 156v2M157 160v2M157 182v1M157 194v2M157 210v2M157 220v2M157 258v2M157 272v2M157 276v2M157 315v3M158 178v2M158 204v2M158 222v4M158 244v2M158 268v2M158 282v2M158 315v3M159 186v2M159 192v2M159 196v2M159 200v2M159 206v2M159 210v2M159 220v2M159 252v2M159 272v4M160 64v12M160 198v6M160 262v4M160 276v2M160 282v4M160 292v6M161 202v2M161 220v2M161 252v2M161 290v2M161 294v2M161 298v8M162 357v3M163 183v1M163 264v2M165 266v2M165 333v3M167 76v6M167 312v3M168 70v6M168 280v2M169 262v2M170 252v2M170 258v2M170 268v2M170 288v2M171 252v2M171 278v2M171 290v2M172 256v2M172 260v2M172 270v2M172 278v2M173 250v2M173 260v2M173 264v2M173 288v2M173 294v2M173 298v8M174 244v2M174 250v2M174 254v2M174 264v2M175 260v2M175 282v2M175 357v3M176 238v2M176 366v12M176 384v6M176 396v3M177 260v2M178 184v1M179 254v4M180 240v2M181 232v2M182 70v6M184 246v2M184 333v3M187 288v2M188 64v6M188 194v2M188 240v2M189 198v2M190 64v6M190 188v2M190 194v2M190 242v4M191 64v6M191 248v2M191 258v2M191 266v2M191 276v2M191 286v2M192 180v2M192 244v2M192 250v2M192 270v2M192 274v2M192 321v3M192 360v3M193 168v2M193 180v2M193 212v2M193 216v2M193 246v2M193 254v2M194 214v2M194 242v2M194 256v2M194 260v2M194 264v2M194 280v2M194 286v2M194 342v3M195 216v2M195 242v2M195 248v2M195 254v2M195 266v2M195 292v2M195 296v2M196 176v2M196 248v2M196 296v10M197 218v2M197 244v2M197 280v2M198 172v2M198 280v2M198 336v3M199 174v2M199 200v2M199 222v2M200 220v4M201 224v2M201 402v3M202 180v2M202 218v2M202 222v2M202 296v2M203 176v2M203 198v2M203 218v2M203 294v2M204 200v2M204 216v2M204 220v2M204 224v2M205 284v2M206 230v2M207 214v2M207 312v3M208 220v2M209 185v1M209 210v2M209 236v2M209 264v2M209 284v2M209 292v2M209 315v3M210 180v2M210 220v2M210 230v6M210 272v2M211 178v2M211 246v2M212 182v1M212 240v2M212 246v2M213 252v2M213 288v2M214 183v1M214 264v2M215 194v2M219 178v2M219 182v1M220 174v4M224 170v2M229 172v2M229 176v2M232 154v2M232 176v2M233 160v2M233 174v2M234 150v2M234 158v2M235 156v2M235 170v2M235 176v2M238 176v2M238 180v2M248 182v1M250 182v1M252 180v2M256 158v2M260 182v1M261 182v1M266 200v2M267 194v2M269 185v1M269 192v2M270 190v2M271 183v1M271 188v4M273 190v2M273 200v2M275 204v2M277 214v2M277 270v2M280 222v2M280 276v2M283 202v2M283 210v2M284 228v2M284 232v4M286 206v2M286 264v2M287 266v4M288 204v2M288 222v4M289 266v2M291 216v2M291 222v4M291 234v2M291 252v4M291 262v2M291 280v2M292 222v2M292 262v2M293 206v4M293 254v2M293 264v2M294 226v2M294 234v2M294 250v2M294 254v2M294 264v2M295 218v2M295 230v2M295 234v4M295 254v2M296 214v2M296 238v2M296 246v2M296 268v4M296 276v2M296 280v2M297 226v2M297 238v2M297 258v2M298 218v2M298 232v2M298 258v2M299 260v2M299 282v2M303 220v2M303 224v2M303 278v2M304 262v2M304 266v2M304 272v2M306 262v2M306 268v2M306 278v2M308 262v2M310 278v2M311 270v2M312 262v2M314 280v2M316 258v2M316 264v2M316 268v2M317 258v2M318 208v2M320 276v2M321 222v2M322 218v4M322 268v2M323 222v2M323 262v2M324 216v4M324 232v2M324 268v2M324 272v2M325 214v2M325 230v2M325 234v2M325 256v2M326 208v2M326 222v4M326 232v2M326 236v2M326 240v2M326 258v2M326 262v2M327 202v2M327 234v2M327 264v2M328 204v2M328 208v2M328 244v2M328 254v2M328 264v2M329 202v2M329 242v2M329 260v2M329 264v2M330 230v4M330 246v2M330 268v2M331 216v2M331 254v2M332 228v4M332 244v2M332 254v2M333 208v2M333 216v2M333 254v2M334 204v2M334 228v2M335 206v2M335 226v2M335 242v2M335 260v2M335 264v4M335 274v2M336 206v2M336 218v2M336 230v2M336 242v2M336 254v2M337 202v2M337 242v2M337 276v2M338 274v2M339 218v2M339 242v2M339 254v2M339 266v2M340 228v2M341 236v6M341 262v2M342 216v2M342 256v2M343 262v2M343 276v2M344 220v2M344 230v6M345 238v4M346 226v2M346 258v2M347 236v2M348 260v2M348 268v2M349 58v6M350 234v2M350 252v2M351 232v2M352 254v2M355 258v2M356 270v2M357 274v2M359 268v2M361 214v2M361 260v4M361 272v2M362 220v2M363 264v2M364 256v4M364 264v2M364 270v4M365 254v2M366 214v2M366 262v2M367 218v2M367 224v2M367 266v2M368 208v2M369 216v2M369 256v2M370 216v2M370 256v2M370 260v2M372 208v2M372 212v2M372 256v2M372 262v2M373 254v2M374 218v2M374 264v4M375 204v2M375 208v2M375 212v2M375 224v2M375 228v2M376 264v2M376 270v2M377 214v4M377 222v2M377 226v2M377 236v4M378 268v4M379 222v4M379 264v2M380 268v2M381 204v2M381 272v2M382 210v2M382 222v2M382 272v2M383 212v2M383 224v2M384 224v2M384 270v2M385 260v2M387 258v2M388 268v2M390 258v2M391 258v2M391 264v2"/>
<path stroke="#008aff" d="M142 274v2M142 280v2M142 294v2M143 262v2M143 290v2M143 298v8M144 262v2M145 294v2M152 142v2M153 150v2M153 156v2M153 200v2M153 208v2M153 214v2M153 244v2M153 339v3M153 360v3M154 166v2M154 180v2M154 192v4M154 232v2M154 244v2M155 152v2M155 166v2M155 170v6M155 180v2M155 216v4M155 228v2M155 232v2M155 238v2M156 154v2M156 164v4M156 170v2M156 234v2M156 282v2M156 324v3M157 192v2M157 196v2M157 200v2M157 222v2M157 238v4M157 266v2M157 292v2M157 312v3M157 321v3M157 327v3M158 156v4M158 182v1M158 202v2M158 226v2M158 262v4M158 270v2M158 286v2M158 292v2M158 298v8M159 182v1M159 214v2M159 238v2M159 284v2M159 288v2M159 318v3M159 336v3M160 190v2M160 218v2M160 339v3M160 348v3M161 185v1M161 208v2M161 224v2M161 336v3M161 351v6M162 186v2M162 266v2M162 348v3M164 183v2M164 312v3M164 357v3M165 184v1M165 345v3M167 339v9M169 260v2M169 266v2M169 286v4M170 264v2M170 274v2M170 280v2M170 286v2M171 270v2M171 274v2M171 282v2M171 288v2M171 294v2M172 280v2M172 284v2M172 290v2M173 268v2M173 280v2M173 296v2M173 312v3M173 345v3M173 357v3M174 70v6M174 270v2M174 294v2M174 315v9M175 248v2M175 288v2M175 339v3M176 240v2M176 256v2M176 260v2M176 345v3M176 360v3M177 254v2M178 258v2M178 286v2M179 244v2M180 244v2M181 70v6M183 238v2M183 248v2M183 324v3M183 339v3M184 184v1M184 264v2M184 272v2M184 276v2M184 284v2M184 290v2M185 64v6M185 214v2M186 348v3M187 242v2M188 185v1M188 238v2M189 182v1M189 186v2M189 236v2M190 196v2M190 246v2M191 244v2M191 254v2M192 52v6M192 183v1M192 202v2M192 268v2M192 276v2M192 282v2M192 312v3M193 166v2M193 178v2M193 250v4M194 64v6M194 206v2M194 210v2M194 244v2M194 248v2M194 254v2M194 272v2M194 282v2M194 290v2M194 298v8M194 330v3M194 339v3M195 202v2M195 244v4M195 250v2M195 282v2M195 290v2M196 174v2M196 210v2M196 214v2M196 218v2M196 294v2M196 318v3M197 216v2M197 258v2M197 262v2M197 282v2M197 298v8M198 192v2M198 210v2M198 216v4M198 318v3M199 178v2M199 208v2M199 212v2M199 220v2M199 315v3M199 327v6M200 176v2M200 200v2M200 224v2M200 296v2M201 178v2M201 183v1M201 290v2M201 399v3M202 202v2M202 339v3M203 194v2M203 208v2M203 214v2M203 296v2M204 218v2M204 298v8M205 182v1M205 200v2M205 204v2M205 208v2M205 216v2M206 224v2M207 222v2M207 290v2M207 315v3M208 192v2M208 218v2M208 234v2M208 284v2M208 288v2M208 312v3M208 372v3M208 378v3M209 268v2M209 280v2M210 182v1M210 210v2M211 156v2M211 238v2M211 248v2M211 252v2M212 176v2M212 234v4M213 238v4M213 254v2M213 270v2M213 274v4M213 284v2M214 194v2M214 240v2M214 256v2M214 270v2M215 246v2M219 176v2M221 172v2M222 170v2M226 172v2M228 52v6M230 172v2M232 170v2M233 170v2M234 154v4M235 154v2M235 160v2M246 180v2M253 183v3M264 178v2M264 184v1M265 182v1M266 184v1M266 190v4M267 198v2M269 190v2M271 196v4M275 206v4M275 222v2M277 222v2M279 224v2M280 204v2M280 218v2M280 232v2M280 264v2M281 220v2M282 210v2M282 222v2M282 226v2M283 206v2M283 226v2M284 240v2M285 202v4M287 214v2M287 230v2M287 276v2M288 212v2M289 230v2M289 264v2M291 218v2M291 238v4M291 258v2M291 268v4M291 278v2M292 234v2M292 240v2M293 210v2M293 220v2M293 232v2M293 236v2M293 240v2M293 262v2M293 272v2M294 236v2M294 246v2M294 278v2M294 286v2M295 232v2M295 244v2M295 272v2M296 264v2M297 230v2M297 262v2M298 236v2M298 252v2M298 260v2M298 268v4M299 228v2M299 272v2M300 266v2M300 282v2M301 278v2M302 212v2M302 218v2M302 264v2M302 270v2M302 276v2M303 208v2M303 258v4M303 264v2M303 276v2M305 268v4M307 270v4M308 260v2M311 272v2M312 272v2M312 282v2M313 264v2M313 268v6M314 276v2M316 266v2M317 260v2M318 274v2M319 258v2M319 272v2M320 272v2M321 272v2M322 214v2M322 230v2M322 262v2M322 266v2M323 278v2M325 210v2M325 258v2M326 238v2M326 254v2M327 214v2M327 258v2M328 214v2M328 274v2M329 222v2M329 254v2M329 272v2M330 214v4M330 236v2M330 244v2M331 206v2M331 238v4M331 260v4M331 274v2M332 212v2M332 224v4M332 260v2M333 202v2M333 230v2M333 264v4M334 232v4M334 260v2M335 238v4M335 272v2M336 224v2M336 232v2M336 238v2M336 258v6M337 214v2M337 240v2M337 248v2M337 258v4M338 202v2M338 238v2M338 244v2M338 262v2M339 204v2M339 208v2M339 216v2M339 220v2M339 226v4M339 252v2M340 204v2M340 256v4M340 264v2M341 212v2M341 220v2M341 242v2M342 208v2M342 246v2M343 230v2M343 274v2M344 218v2M344 258v4M345 216v4M345 230v2M345 234v2M345 252v2M346 228v2M346 252v2M346 264v2M347 266v4M348 230v2M348 272v2M349 234v2M349 258v2M352 268v2M353 262v2M353 266v2M353 270v2M353 274v2M356 268v2M356 278v2M358 260v2M358 266v4M358 278v2M360 264v4M361 266v2M362 258v2M363 258v2M364 214v2M364 268v2M364 276v2M365 256v2M365 260v2M366 256v2M366 260v2M367 212v2M367 216v2M367 220v2M367 274v2M368 210v2M368 258v2M369 218v2M369 260v4M371 220v2M372 206v2M372 214v2M372 224v2M372 258v4M372 266v2M373 218v2M373 222v4M373 256v6M374 206v2M374 220v2M374 224v2M374 256v2M375 222v2M375 226v2M376 224v2M376 228v2M377 204v4M377 210v2M377 224v2M377 262v2M377 266v2M378 216v4M378 272v2M379 216v4M379 274v2M380 206v2M380 212v2M380 218v2M380 274v2M381 278v4M382 204v2M382 208v2M382 214v4M382 226v4M383 214v2M383 226v2M383 274v2M383 393v3M384 220v2M384 272v2M386 262v4M388 262v2M388 274v2M389 258v2M389 264v6M392 270v2M393 276v2M394 268v2M394 272v2"/>
<path stroke="#009bff" d="M136 324v6M136 348v9M136 360v3M137 324v6M137 348v9M137 360v3M138 324v6M138 348v9M138 360v3M139 324v6M139 348v9M139 360v3M140 324v6M140 348v9M140 360v3M141 324v6M141 348v9M141 360v3M143 64v6M143 274v2M143 282v2M143 288v2M143 296v2M145 288v2M152 150v2M152 176v2M153 196v2M153 218v2M153 248v2M153 252v2M153 336v3M153 375v3M154 158v2M154 176v2M154 190v2M154 208v2M154 216v2M154 234v2M154 238v2M154 345v3M155 154v2M155 160v2M155 192v2M155 196v2M155 210v2M155 222v2M156 178v2M156 184v1M156 194v2M156 214v2M156 264v2M156 280v2M156 284v2M156 288v2M156 315v3M156 351v3M157 170v2M157 218v2M157 230v2M157 242v2M157 254v2M157 324v3M157 330v3M157 336v3M158 208v2M158 234v2M158 240v2M158 248v2M158 274v2M158 280v2M158 290v2M158 330v3M159 52v6M159 204v2M159 250v2M159 292v2M159 296v2M159 342v6M160 222v2M160 232v2M160 240v2M160 268v2M160 272v2M160 298v8M161 64v6M161 190v2M161 333v3M161 345v3M162 184v1M162 276v2M163 184v1M163 327v3M163 333v3M164 64v6M164 360v3M166 274v2M166 375v3M167 70v6M167 333v3M167 348v3M168 333v3M168 345v3M169 70v6M169 270v2M169 292v2M170 256v2M170 278v2M170 290v2M170 330v3M173 258v2M173 270v6M173 278v2M173 282v2M173 333v3M173 351v3M173 360v3M173 369v3M174 258v4M174 268v2M174 278v2M174 284v2M174 288v2M174 298v8M174 312v3M174 330v3M174 336v3M175 244v2M175 274v2M175 280v2M175 290v2M175 348v3M175 360v3M176 258v2M176 268v2M176 354v3M177 264v2M177 339v3M178 242v2M179 252v2M179 276v6M180 238v2M180 250v2M180 363v3M181 240v2M182 234v2M182 252v2M183 312v3M183 336v3M184 64v6M184 240v2M184 286v2M185 318v3M186 64v6M187 185v1M187 286v2M187 381v3M187 387v3M188 182v1M189 192v2M189 244v2M189 254v2M189 288v2M190 185v1M190 192v2M190 198v2M190 202v2M190 250v2M190 258v2M190 312v3M191 184v1M191 272v2M191 282v2M191 290v2M192 184v1M192 248v2M192 266v2M192 280v2M192 327v3M192 336v6M192 357v3M192 366v3M193 258v4M193 276v2M193 288v2M193 292v2M194 180v2M194 208v2M194 252v2M194 274v2M194 312v6M194 333v3M194 351v3M195 58v6M195 208v2M195 252v2M195 272v2M195 276v4M195 312v3M196 200v4M196 268v4M196 278v2M197 178v4M197 198v2M197 204v2M197 212v4M197 294v2M197 321v3M198 58v6M198 178v2M198 182v1M198 190v2M198 206v2M198 384v3M199 176v2M199 290v2M199 294v4M199 318v3M199 339v3M200 206v2M201 194v2M201 330v3M202 294v2M202 318v3M203 216v2M203 222v2M203 288v2M205 176v2M205 196v2M205 210v2M205 218v2M205 222v2M205 228v2M205 294v2M206 174v4M206 218v4M206 284v2M206 290v2M206 296v2M207 196v2M207 286v2M207 321v3M207 396v3M207 402v3M208 375v3M208 381v3M209 154v2M209 212v2M209 272v2M209 290v2M209 294v2M209 399v3M210 194v2M210 218v2M210 226v2M210 262v2M211 240v2M211 244v2M211 264v2M212 180v2M212 242v2M213 154v2M213 230v2M214 236v2M214 252v2M214 274v4M215 160v2M215 174v2M215 183v1M215 220v2M215 242v2M215 250v2M216 180v2M217 196v2M219 246v2M227 172v2M232 156v2M233 152v2M233 158v2M233 176v2M235 158v2M235 174v2M240 178v2M241 156v2M242 145v1M242 148v2M249 180v2M253 182v1M257 182v1M260 186v2M264 185v1M268 200v2M272 184v1M275 212v2M276 204v2M277 208v6M277 216v2M277 224v2M277 264v2M281 208v2M282 224v2M282 228v2M283 232v2M285 238v2M285 244v2M286 212v2M286 220v2M287 244v2M287 250v2M288 210v2M288 218v4M289 214v2M289 226v2M289 236v2M289 246v2M289 252v2M289 276v2M290 206v4M291 248v2M291 256v2M291 266v2M292 218v2M292 226v2M292 232v2M292 242v2M293 214v2M293 222v2M293 234v2M294 230v2M294 238v6M294 262v2M295 216v2M295 226v2M295 240v2M295 248v2M295 260v2M295 274v2M296 218v2M296 224v2M296 266v2M296 272v2M296 278v2M296 284v2M297 246v4M297 260v2M297 272v2M297 284v2M298 262v2M298 286v2M299 234v2M299 266v2M300 264v2M300 270v2M300 276v2M300 280v2M300 286v2M301 266v2M301 282v2M303 266v4M303 280v2M304 276v2M305 264v2M306 270v2M307 274v2M310 270v2M311 280v2M312 266v2M312 278v2M314 278v2M315 266v6M318 272v2M318 280v2M319 284v2M320 278v2M322 222v2M322 260v2M322 270v2M323 272v2M324 222v4M324 264v4M324 270v2M325 204v4M325 220v2M325 276v2M326 206v2M326 210v2M326 226v6M326 264v2M327 222v2M327 266v2M327 276v2M328 206v2M328 240v2M329 210v2M329 226v2M329 236v2M329 244v2M329 262v2M329 266v2M330 228v2M330 242v2M330 272v2M331 224v4M331 230v6M332 264v2M332 270v2M332 276v2M333 210v2M333 214v2M333 234v2M333 260v4M335 234v4M335 276v2M336 278v2M337 212v2M337 232v2M337 238v2M337 262v2M337 266v2M338 248v2M338 260v2M339 210v2M339 224v2M339 250v2M339 258v2M339 268v2M340 216v2M340 230v2M340 270v2M341 234v2M341 250v2M342 228v2M342 248v2M342 252v2M342 264v2M343 220v2M344 254v4M344 280v2M345 222v2M345 254v4M346 230v2M350 256v2M350 260v4M353 278v2M354 258v4M355 260v2M356 266v2M357 258v2M358 272v2M359 266v2M359 270v2M360 276v2M362 262v2M362 272v2M363 260v2M363 266v2M364 274v2M364 278v2M366 222v2M366 258v2M366 264v2M367 214v2M368 270v2M368 278v2M369 276v2M370 220v2M371 214v2M371 256v2M372 268v2M373 214v2M373 262v2M375 218v2M375 264v4M376 210v2M376 216v2M376 268v2M378 222v2M379 204v2M379 270v2M382 220v2M382 393v3M383 220v2M383 268v2M384 226v2M386 258v2M387 262v2M387 276v4M390 260v2M390 274v2M392 268v2M392 274v2M393 262v2M393 270v2M393 278v2M394 262v2"/>
<path stroke="#00adff" d="M136 315v3M136 330v3M136 357v3M137 315v3M137 330v3M137 357v3M138 315v3M138 330v3M138 357v3M139 315v3M139 330v3M139 357v3M140 315v3M140 330v3M140 357v3M141 315v3M141 330v3M141 357v3M142 292v2M143 268v2M143 276v4M143 284v4M147 64v6M147 119v1M148 64v6M151 120v4M152 64v6M152 144v1M152 148v2M153 154v2M153 234v2M153 242v2M153 262v2M153 348v3M153 369v3M153 378v3M154 164v2M154 185v1M154 260v2M154 327v6M154 342v3M154 369v3M155 178v2M155 194v2M155 204v2M156 160v2M156 188v2M156 220v2M156 230v2M156 238v2M156 274v2M156 312v3M156 321v3M156 327v3M156 354v3M157 198v2M157 214v4M157 264v2M157 278v2M157 298v8M157 342v3M157 351v3M158 185v3M158 194v2M158 200v2M158 206v2M158 212v2M158 216v2M158 230v4M158 266v2M158 276v2M158 296v2M159 202v2M159 212v2M159 224v2M159 290v2M159 315v3M160 58v6M160 188v2M160 324v3M160 333v3M161 188v2M161 348v3M161 372v3M162 378v3M162 384v3M162 393v6M163 357v3M165 330v3M165 339v3M165 348v6M165 357v3M166 184v1M166 312v3M167 354v3M168 312v3M168 348v3M169 342v6M171 272v2M172 258v2M172 292v2M173 348v3M173 363v3M174 252v2M174 324v6M174 342v3M174 375v3M175 242v2M175 266v4M175 294v2M175 342v3M175 351v6M176 244v2M176 276v2M176 284v2M176 348v3M176 393v3M176 402v3M177 244v2M177 276v2M177 366v3M178 70v6M178 238v2M178 244v4M178 354v3M179 284v2M179 290v2M183 242v2M183 288v2M183 315v3M183 321v3M183 330v6M184 242v2M184 252v2M184 262v2M184 274v2M184 280v4M184 288v2M184 369v3M186 242v2M186 250v2M187 183v1M187 254v2M187 339v3M188 188v2M188 236v2M188 256v2M189 183v1M189 248v2M189 256v2M189 260v2M189 290v2M189 294v2M189 298v8M189 315v3M189 348v3M190 252v2M190 315v6M191 206v2M191 246v2M191 252v2M191 292v2M191 296v2M191 369v3M192 256v2M192 264v2M192 286v2M192 298v8M192 318v3M192 324v3M192 345v3M193 172v2M193 208v2M193 244v2M193 248v2M193 262v2M193 266v2M193 270v4M193 284v4M193 290v2M194 266v2M194 276v2M194 288v2M194 318v3M195 204v4M195 294v2M195 298v8M196 208v2M196 286v6M197 183v1M197 248v2M197 266v2M197 290v2M197 318v3M198 222v4M198 228v2M198 321v3M199 204v2M199 333v3M199 342v3M200 298v8M201 180v2M201 292v2M201 296v2M202 198v2M202 206v2M202 220v2M202 298v8M203 178v2M203 200v2M203 298v8M203 315v3M204 296v2M205 178v4M205 194v2M206 212v2M206 288v2M206 292v2M207 182v1M207 198v6M207 206v2M207 375v3M207 393v3M208 183v1M208 214v2M208 286v2M208 366v3M209 158v2M209 180v2M209 208v2M209 216v2M209 230v4M209 318v3M209 324v3M209 387v3M210 268v2M211 180v2M211 276v2M212 192v2M212 244v2M213 152v2M213 156v2M213 206v2M213 262v4M213 268v2M213 282v2M214 192v2M214 212v2M214 228v2M214 232v2M214 280v2M214 284v2M215 178v2M215 186v4M215 198v2M215 216v2M215 228v4M216 182v1M216 185v1M216 272v2M217 192v4M218 182v1M219 180v2M219 196v2M223 174v2M224 172v2M225 172v2M229 174v2M233 150v2M233 156v2M233 162v2M235 172v2M239 182v2M243 182v1M244 180v2M247 183v1M247 185v1M254 180v2M258 184v1M259 184v2M259 188v2M264 188v2M265 186v2M266 202v2M270 188v2M270 192v2M271 184v1M272 204v2M273 184v1M274 216v2M277 228v2M277 238v2M278 204v2M278 230v2M279 210v2M280 230v2M280 246v2M280 266v2M280 274v2M280 288v2M281 210v2M281 214v2M282 208v2M283 224v2M283 230v2M284 274v2M285 224v2M285 234v2M286 210v2M286 224v2M286 252v2M286 280v4M287 222v2M287 234v2M287 254v2M288 216v2M288 264v2M289 210v2M289 232v2M289 238v2M289 242v2M289 268v4M289 282v2M291 228v2M291 242v2M291 246v2M291 272v4M292 212v2M292 216v2M292 274v2M293 242v2M294 280v2M294 288v2M295 212v2M295 246v2M295 250v2M295 256v2M295 278v2M295 282v2M296 262v2M296 393v3M297 276v2M298 242v2M298 278v2M299 280v2M299 286v2M300 284v2M301 272v4M301 280v2M302 262v2M303 206v2M303 212v2M303 218v2M305 278v2M309 274v2M310 264v2M310 272v2M312 268v2M312 274v2M313 266v2M314 274v2M316 276v2M319 278v2M320 286v2M323 282v2M324 278v2M325 218v2M325 228v2M326 216v2M326 234v2M326 266v4M326 276v2M327 206v4M327 232v2M328 236v2M328 262v2M328 272v2M328 276v2M329 204v2M329 220v2M330 206v2M330 218v2M330 224v2M330 262v2M330 270v2M330 276v2M331 204v2M331 210v2M331 236v2M331 266v2M331 270v2M332 206v2M332 216v4M332 240v2M332 272v2M333 206v2M333 212v2M333 238v2M333 268v2M333 274v2M334 210v2M334 214v4M334 220v2M335 228v2M336 234v2M336 256v2M336 266v2M336 270v2M337 204v2M337 230v2M337 234v2M337 264v2M337 270v2M337 274v2M338 206v2M338 240v2M338 254v2M338 276v2M339 230v2M339 262v4M340 236v2M340 274v2M341 218v2M341 258v2M342 226v2M342 232v2M342 240v2M343 212v4M343 278v2M345 224v4M347 272v2M348 270v2M350 258v2M352 262v2M353 272v2M354 262v2M355 262v2M356 276v2M359 276v2M360 274v2M362 218v2M362 270v2M363 268v2M363 276v2M365 216v2M367 260v4M367 272v2M367 278v2M368 268v2M370 264v2M370 272v2M371 276v2M372 210v2M373 206v2M374 214v2M376 212v2M376 218v2M377 218v2M378 274v2M378 280v2M378 393v6M379 278v2M380 222v6M380 276v2M381 216v2M381 274v2M382 218v2M382 270v2M382 274v2M383 216v2M383 228v2M383 396v3M384 216v2M385 276v2M388 266v2M389 262v2M389 272v2M390 268v2M391 260v2M392 260v4M393 260v2M394 266v2M394 276v2"/>
<path stroke="#00beff" d="M136 312v3M136 321v3M136 333v6M137 312v3M137 321v3M137 333v6M138 312v3M138 321v3M138 333v6M139 312v3M139 321v3M139 333v6M140 312v3M140 321v3M140 333v6M141 312v3M141 321v3M141 333v6M142 336v3M143 280v2M151 128v4M152 132v4M152 146v2M152 180v2M153 158v2M153 164v2M153 188v2M153 246v2M153 276v2M153 321v6M153 345v3M153 351v3M153 363v6M154 154v2M154 174v2M154 178v2M154 186v2M154 202v2M154 214v2M154 224v4M154 333v6M154 357v3M155 164v2M155 168v2M155 182v2M155 202v2M155 339v3M156 192v2M156 202v2M156 224v2M156 228v2M156 240v2M156 244v2M156 262v2M156 276v2M156 286v2M156 336v3M156 345v3M157 186v2M157 190v2M157 318v3M157 333v3M158 192v2M158 218v2M158 238v2M158 256v2M158 272v2M158 321v3M158 345v3M159 190v2M159 216v2M159 278v2M159 282v2M159 294v2M159 298v8M159 321v3M159 327v6M159 339v3M159 357v3M160 186v2M160 288v4M160 327v6M160 342v6M161 186v2M161 330v3M161 357v3M162 321v3M162 360v3M162 387v3M162 399v3M163 339v3M163 351v3M165 312v3M165 336v3M165 342v3M166 345v3M166 378v3M167 390v3M169 312v3M169 339v3M170 70v6M170 254v2M170 345v3M171 70v6M171 312v3M171 354v3M172 276v2M172 294v2M173 262v2M173 266v2M173 336v3M173 342v3M173 354v3M174 276v2M174 280v2M174 290v2M174 351v3M175 234v2M175 366v3M175 390v3M176 248v2M176 266v2M176 270v2M176 274v2M176 280v2M176 286v2M176 290v4M176 296v2M176 390v3M177 64v6M177 357v3M177 384v3M178 250v2M178 268v2M178 276v2M179 246v4M179 282v2M179 288v2M179 360v6M179 387v3M179 399v3M180 236v2M180 354v3M180 396v3M181 236v2M182 244v2M182 345v3M183 256v2M183 272v6M183 327v3M183 345v3M184 238v2M184 318v6M184 339v3M184 351v6M184 366v3M184 378v3M185 226v2M185 288v2M185 312v3M185 339v3M186 240v2M186 248v2M186 252v4M186 264v2M186 333v3M187 252v2M187 258v2M187 274v2M187 366v3M187 372v3M187 384v3M188 183v1M188 290v2M189 242v2M189 258v2M189 292v2M189 312v3M189 369v3M190 183v1M190 186v2M190 200v2M190 351v3M190 366v3M191 183v1M191 188v2M191 274v2M191 280v2M192 258v2M192 342v3M192 351v3M192 369v3M192 375v3M193 192v2M193 256v2M193 296v2M194 185v1M194 262v2M194 268v2M194 292v2M194 321v9M194 336v3M194 348v3M195 180v2M195 196v2M196 198v2M196 250v2M196 312v3M196 333v3M197 196v2M197 202v2M197 272v2M198 180v2M198 200v2M198 226v2M198 288v2M199 321v3M199 345v3M200 212v4M200 218v2M200 315v3M200 321v3M201 210v2M201 315v3M201 321v3M201 345v3M201 396v3M202 176v2M202 204v2M202 208v4M203 330v3M203 354v6M204 212v2M205 198v2M205 296v10M205 372v3M206 214v2M206 315v3M207 180v2M207 192v2M207 204v2M207 218v2M208 216v2M208 232v2M208 315v6M208 351v3M208 387v3M208 393v3M209 184v1M209 369v6M209 384v3M209 390v3M209 396v3M210 224v2M210 260v2M210 264v2M210 366v3M211 242v2M212 222v2M212 226v2M212 230v2M212 250v4M213 198v2M213 214v2M213 234v2M213 266v2M213 286v2M214 214v2M214 230v2M215 176v2M215 182v1M215 196v2M215 218v2M215 226v2M215 232v2M215 248v2M217 198v2M219 232v2M225 174v2M230 176v2M232 174v2M233 172v2M234 168v2M237 180v2M242 183v1M248 186v2M255 183v1M259 183v1M260 184v1M262 185v3M264 183v1M265 183v1M265 185v1M266 196v4M268 190v2M268 202v2M269 183v1M270 194v2M273 210v2M274 208v2M274 222v2M274 232v2M275 214v2M275 218v2M276 206v2M276 220v2M276 230v2M277 206v2M277 226v2M277 254v2M279 216v2M280 238v2M280 270v2M280 286v2M281 206v2M281 218v2M281 224v2M283 212v4M283 228v2M283 286v2M284 230v2M284 244v2M284 290v2M285 206v2M285 212v2M285 220v2M286 260v2M287 220v2M287 248v2M287 260v4M288 230v2M289 224v2M289 272v2M291 264v2M292 208v2M292 220v2M292 248v2M292 256v4M292 270v2M292 278v2M292 284v2M293 228v2M293 268v2M293 274v2M293 280v2M294 228v2M294 252v2M294 256v2M294 266v2M295 258v2M295 266v2M296 274v2M296 282v2M297 244v2M297 270v2M298 282v2M299 276v4M301 268v2M302 268v2M303 214v2M303 222v2M304 282v2M305 260v2M305 272v2M306 264v2M307 264v2M308 266v2M308 272v4M312 276v2M313 274v4M314 282v2M315 272v2M315 276v2M316 274v2M317 266v2M317 278v2M318 276v2M320 282v4M321 270v2M323 274v2M323 280v2M324 206v2M324 280v2M325 208v2M325 212v2M325 216v2M325 222v4M325 268v2M325 272v4M326 260v2M327 218v2M328 220v2M328 224v6M328 268v4M329 218v2M329 224v2M329 276v2M330 278v2M331 208v2M332 220v2M332 266v2M333 220v2M333 278v2M334 208v2M334 218v2M334 222v2M334 270v2M334 274v2M335 208v2M335 220v2M336 204v2M336 208v2M336 212v2M336 226v4M336 264v2M337 210v2M337 224v2M337 236v2M337 268v2M338 252v2M338 264v4M339 222v2M339 232v4M340 212v4M340 226v2M340 238v2M341 260v2M341 266v4M342 212v2M342 234v2M342 276v2M343 208v2M343 234v2M344 226v4M344 270v4M344 276v2M346 260v2M346 272v2M346 276v2M347 276v2M349 262v4M349 268v2M350 264v2M356 274v2M357 260v2M359 274v2M361 268v2M362 216v2M362 264v2M362 268v2M365 262v2M365 266v2M366 272v2M368 274v2M369 268v2M369 280v2M370 266v2M370 276v2M371 218v2M371 262v2M372 218v2M372 270v2M372 276v4M373 220v2M373 226v2M373 264v2M374 222v2M374 258v4M375 272v2M375 280v2M376 220v2M376 272v2M377 212v2M377 228v2M377 234v2M378 208v2M378 276v4M379 226v2M379 276v2M379 393v3M380 214v2M380 278v4M381 224v2M381 276v2M382 224v2M383 222v2M384 274v2M385 384v3M386 266v6M388 276v2M390 272v2M390 387v3M394 270v2"/>
<path stroke="#00d0ff" d="M136 318v3M136 339v9M137 318v3M137 339v9M138 318v3M138 339v9M139 318v3M139 339v9M140 318v3M140 339v9M141 318v3M141 339v9M142 354v3M145 290v2M152 140v2M153 180v2M153 212v2M153 216v2M153 254v2M153 270v2M153 274v2M153 290v2M153 294v2M153 381v6M154 162v2M154 168v2M154 210v2M154 220v2M154 242v2M154 254v2M154 258v2M154 354v3M154 360v3M155 156v2M155 198v2M155 220v2M155 288v2M155 336v3M155 354v3M155 360v3M156 156v4M156 182v1M156 198v4M156 254v2M156 258v2M156 266v2M156 294v2M156 348v3M156 357v3M157 206v4M157 244v2M157 280v2M157 290v2M157 339v3M157 345v3M157 357v6M158 198v2M158 214v2M158 236v2M158 242v2M158 260v2M158 312v3M158 324v3M158 333v3M159 232v2M159 348v3M160 184v1M160 238v2M160 266v2M160 278v4M160 312v6M160 336v3M160 351v3M161 184v1M161 270v2M161 339v6M161 360v3M162 58v6M162 336v3M162 342v3M162 363v3M162 372v3M163 312v3M163 360v3M164 315v3M165 363v3M165 372v3M166 363v3M167 318v3M167 336v3M167 351v3M167 357v3M168 327v3M168 339v6M168 354v3M169 351v3M170 327v3M170 348v6M171 276v2M171 315v3M171 363v3M172 70v6M172 286v2M173 286v2M173 292v2M173 315v3M173 372v3M173 378v3M174 64v6M174 256v2M174 266v2M174 286v2M174 333v3M174 354v3M174 384v3M175 262v2M175 327v3M175 336v3M176 64v6M176 399v3M177 246v2M177 282v2M177 315v6M177 351v3M177 369v3M177 381v3M177 390v3M178 254v2M178 262v2M178 278v2M178 284v2M178 288v2M178 360v3M179 242v2M179 266v2M179 270v4M179 372v3M179 381v3M180 242v2M180 246v2M180 260v2M180 357v3M181 64v6M182 236v2M183 64v6M183 268v2M183 318v3M184 256v4M184 278v2M184 292v2M184 315v3M184 336v3M184 363v3M184 393v3M185 270v2M185 280v2M185 286v2M186 238v2M186 246v2M186 266v2M186 272v2M186 330v3M186 354v3M187 244v2M187 268v2M187 282v2M187 378v3M188 190v2M188 264v2M189 284v2M189 296v2M189 324v6M190 256v2M190 274v2M190 298v8M190 339v3M190 348v3M190 363v3M191 288v2M191 294v2M191 298v8M191 333v3M191 357v3M192 185v1M192 188v2M192 272v2M192 284v2M192 378v3M193 182v1M193 196v2M193 206v2M193 268v2M193 294v2M194 192v2M194 196v2M194 278v2M194 284v2M194 345v3M195 188v2M195 192v4M195 198v4M195 212v2M196 52v6M196 178v2M196 206v2M196 321v3M197 192v2M197 208v2M197 274v2M197 296v2M197 315v3M198 185v1M198 188v2M198 208v2M198 324v3M199 202v2M200 178v2M200 208v4M201 198v2M201 202v2M201 206v2M201 294v2M201 312v3M201 318v3M201 327v3M202 178v2M202 333v6M202 345v3M203 210v4M203 290v2M203 318v3M203 336v3M204 204v4M204 294v2M205 192v2M205 402v3M206 208v2M206 222v2M206 321v3M206 381v3M206 390v3M207 318v3M207 327v3M207 336v3M207 378v3M208 190v2M208 200v4M208 208v4M208 222v2M208 363v3M209 312v3M209 378v3M209 402v3M210 154v2M210 188v2M210 212v2M210 222v2M211 250v2M211 280v2M211 294v2M212 256v2M213 166v2M213 204v2M213 228v2M213 280v2M213 292v2M214 185v3M214 190v2M214 216v2M214 268v2M214 278v2M214 286v2M214 292v2M215 154v2M215 192v2M215 238v2M215 278v2M216 192v2M219 260v2M221 174v2M222 174v2M222 178v2M228 172v4M230 174v2M234 176v2M238 182v1M241 180v2M242 185v3M245 182v1M246 182v1M246 185v1M247 186v2M252 184v1M255 182v1M259 186v2M260 185v1M262 184v1M264 182v1M264 186v2M269 184v1M270 183v2M270 198v2M271 200v4M271 206v2M272 210v2M272 214v2M273 202v2M273 206v2M274 204v4M275 210v2M275 216v2M276 226v4M276 240v2M277 234v2M277 268v2M279 240v2M280 260v2M282 230v2M282 242v2M282 264v2M283 278v2M283 284v2M284 206v2M284 216v2M284 236v2M284 246v2M284 272v2M284 282v2M284 286v2M285 218v2M285 242v2M285 250v2M285 266v2M286 216v2M286 222v2M286 274v4M286 286v2M287 228v2M287 232v2M287 240v4M287 264v2M287 272v2M288 232v2M289 216v2M289 256v2M290 210v6M290 240v2M290 260v2M291 232v2M291 276v2M291 396v3M292 224v2M292 266v2M293 212v2M294 244v2M295 252v2M295 268v2M295 276v2M296 286v2M297 278v6M297 286v2M298 276v2M304 270v2M304 284v2M305 262v2M305 280v2M306 274v2M306 280v4M307 268v2M308 280v2M311 268v2M311 274v2M312 270v2M313 280v2M314 268v2M317 276v2M318 278v2M318 282v2M319 280v2M325 278v2M327 210v2M327 228v2M327 262v2M327 268v2M328 222v2M328 230v2M328 238v2M328 266v2M329 206v2M329 212v2M329 216v2M329 230v2M330 208v2M330 260v2M330 264v2M331 212v2M331 218v2M332 236v2M332 268v2M333 232v2M333 270v2M333 276v2M334 212v2M334 224v2M334 264v2M335 214v2M335 270v2M336 272v2M337 206v2M338 210v2M338 230v4M338 278v2M339 236v2M339 260v2M340 224v2M340 240v2M340 268v2M340 280v2M341 222v2M341 254v4M341 270v2M342 220v2M342 242v2M342 258v2M342 268v2M344 278v2M345 232v2M345 236v2M345 260v2M345 264v2M347 274v2M350 268v2M352 270v2M353 268v2M353 276v2M355 264v2M356 272v2M358 270v2M359 278v6M361 264v2M362 266v2M364 266v2M365 264v2M365 268v4M366 274v2M368 276v2M370 268v2M371 270v4M373 216v2M374 210v2M375 210v2M375 220v2M376 276v2M377 268v2M378 282v2M379 396v3M381 208v2M382 390v3M383 384v3M383 390v3M385 278v2M388 272v2M389 270v2M390 264v2M390 276v2M390 390v3M391 262v2M392 264v2M394 274v2"/>
<path stroke="#00e2ff" d="M136 363v3M137 363v3M138 363v3M139 363v3M140 363v3M141 363v3M142 324v3M142 339v3M142 351v3M143 315v3M144 190v2M145 284v2M148 136v1M151 132v4M151 145v1M152 58v6M152 124v8M152 164v2M152 170v2M153 182v1M153 192v2M153 222v2M153 264v2M153 278v2M153 288v2M153 296v2M153 357v3M153 387v6M153 399v6M154 160v2M154 182v1M154 198v2M154 212v2M154 222v2M154 236v2M154 252v2M154 348v3M154 372v3M154 378v3M155 185v1M155 200v2M155 206v2M155 230v2M155 234v2M155 258v4M155 324v9M155 357v3M156 248v6M156 256v2M156 268v4M156 296v2M156 360v3M156 372v3M157 184v1M157 202v2M157 268v2M157 387v3M158 190v2M158 228v2M158 252v2M158 284v2M158 294v2M158 336v3M158 342v3M159 188v2M159 387v3M160 357v3M160 369v3M161 312v3M161 318v3M161 324v3M161 366v3M161 378v3M162 312v3M162 324v3M162 366v6M162 381v3M163 64v6M163 330v3M163 336v3M163 345v6M164 336v9M164 375v3M165 327v3M165 360v3M165 381v3M166 360v3M166 384v3M167 321v3M167 330v3M167 360v3M167 378v3M168 363v3M168 378v3M168 387v3M172 312v3M173 64v6M173 254v2M173 318v3M173 330v3M173 339v3M173 366v3M174 339v3M174 345v3M174 396v3M175 264v2M175 278v2M175 284v2M175 315v6M175 330v3M175 363v3M175 369v3M176 262v2M176 278v2M176 294v2M176 351v3M177 266v4M177 272v2M177 292v2M177 333v3M177 348v3M177 375v3M178 256v2M178 260v2M178 266v2M178 280v2M179 250v2M179 260v2M179 274v2M179 294v2M179 375v6M180 248v2M180 252v2M180 284v2M180 360v3M180 369v3M181 234v2M181 242v2M181 333v3M181 348v3M182 238v4M182 248v2M182 254v2M183 240v2M183 252v2M183 258v2M183 264v2M183 282v2M183 292v2M183 342v3M184 248v2M184 324v3M184 375v3M184 381v6M184 390v3M185 256v2M185 272v2M185 315v3M185 324v3M185 333v6M186 256v2M186 336v3M186 342v6M186 351v3M186 363v3M186 372v3M186 378v3M187 184v1M187 250v2M187 272v2M187 276v2M187 280v2M187 284v2M187 290v2M187 298v8M187 396v3M188 184v1M188 186v2M188 270v2M188 286v2M188 339v3M189 58v6M189 264v2M189 270v2M190 190v2M190 248v2M190 254v2M190 357v6M191 190v2M191 204v2M191 336v3M191 342v3M191 363v3M192 190v2M192 200v2M192 278v2M192 288v2M192 296v2M192 315v3M192 330v6M192 384v3M193 194v2M193 204v2M193 264v2M193 274v2M193 280v4M193 354v3M194 188v2M194 194v2M194 296v2M194 357v3M195 184v1M195 186v2M195 318v6M195 333v3M196 194v4M196 315v3M197 182v1M197 206v2M197 312v3M197 324v3M198 202v2M198 298v8M198 312v6M199 192v2M199 196v2M199 336v3M199 351v3M200 202v2M200 312v3M200 324v3M200 333v3M200 342v3M200 366v3M201 185v1M201 200v2M201 298v8M201 324v3M201 339v3M201 357v3M201 372v3M202 192v4M202 312v3M202 327v6M203 180v2M203 202v2M204 196v2M204 202v2M204 208v4M204 214v2M205 184v1M205 286v4M206 178v2M206 206v2M206 210v2M206 216v2M207 208v2M207 324v3M207 342v3M207 384v3M208 186v2M208 204v2M208 212v2M208 226v4M208 390v3M208 396v6M209 214v2M209 218v2M209 336v3M209 375v3M210 192v2M210 198v2M210 206v2M210 216v2M210 270v2M211 278v2M212 204v2M212 218v2M213 158v2M213 174v2M213 178v2M213 188v2M213 278v2M214 206v2M214 218v2M214 224v2M215 158v2M215 166v4M215 184v1M215 200v6M215 234v4M215 244v2M215 256v2M216 188v2M216 242v10M216 260v2M217 214v2M217 240v2M219 262v2M219 266v2M221 178v2M222 172v2M222 182v1M226 174v2M233 185v1M237 182v1M240 180v3M242 140v2M250 183v1M258 183v1M258 185v3M263 183v1M264 180v2M267 396v3M268 196v2M269 198v2M269 210v2M270 200v2M271 204v2M273 198v2M274 210v2M274 214v2M274 224v6M275 224v2M277 240v2M277 276v2M278 222v2M278 226v4M279 208v2M279 214v2M279 220v2M279 236v2M280 240v2M280 258v2M280 282v4M281 212v2M282 232v2M282 262v2M283 222v2M283 238v4M284 210v2M284 242v2M284 264v2M284 278v4M285 214v2M285 226v4M285 236v2M285 240v2M285 272v2M286 218v2M286 226v2M286 230v2M287 246v2M287 252v2M287 280v2M288 242v2M288 254v6M288 266v2M288 270v2M289 240v2M289 248v2M289 284v2M290 226v2M290 230v2M290 234v2M291 282v2M292 238v2M292 254v2M292 272v2M293 216v2M293 270v2M293 282v2M295 284v2M296 396v3M297 268v2M297 274v2M298 266v2M298 274v2M299 284v2M301 284v2M302 274v2M303 210v2M303 272v2M305 266v2M305 282v2M307 262v2M308 270v2M308 276v2M310 266v2M312 264v2M314 286v2M316 280v2M317 270v2M319 282v2M324 274v2M325 282v2M326 278v2M327 226v2M329 268v2M331 264v2M333 204v2M333 272v2M333 280v2M334 262v2M334 268v2M336 216v2M336 220v2M337 256v2M337 272v2M338 208v2M338 228v2M338 236v2M338 272v2M339 206v2M340 208v2M340 234v2M340 276v4M341 252v2M341 264v2M342 222v2M342 238v2M342 244v2M342 266v2M343 280v2M344 274v2M345 258v2M346 268v2M347 278v2M349 64v6M349 260v2M351 260v2M352 264v2M352 276v2M354 264v2M354 268v2M360 272v2M363 262v2M363 272v2M367 264v2M367 276v2M369 264v4M370 274v2M371 274v2M373 208v2M376 278v2M378 226v2M381 206v2M381 218v2M382 396v3M384 278v2M389 384v3M390 266v2M390 396v3M391 268v2M391 272v2M392 272v2M392 390v3"/>
<path stroke="#00f3ff" d="M142 312v3M142 321v3M142 330v3M142 360v3M144 276v2M145 276v2M145 280v2M145 292v2M145 296v10M152 145v1M152 174v2M153 194v2M153 240v2M153 266v2M153 280v2M153 284v2M153 292v2M153 318v3M153 327v3M153 333v3M153 342v3M153 354v3M153 372v3M153 393v3M154 183v1M154 204v2M154 228v2M154 262v2M154 294v4M154 324v3M154 339v3M154 384v3M154 396v3M155 186v2M155 190v2M155 244v2M155 272v2M155 282v2M155 345v3M155 366v3M156 186v2M156 196v2M156 206v4M156 242v2M156 246v2M156 339v3M156 375v3M157 185v1M157 188v2M157 294v4M157 348v3M157 375v3M157 381v3M158 196v2M158 339v3M159 270v2M159 324v3M159 333v3M159 354v3M159 378v3M160 318v6M160 354v3M161 183v1M161 327v3M162 315v3M162 345v3M162 402v3M163 324v3M164 384v3M165 64v6M165 321v6M165 369v3M165 387v3M166 339v3M166 354v6M167 369v3M167 381v3M167 387v3M168 351v3M168 357v3M168 375v3M168 384v3M169 348v3M169 354v3M169 372v3M170 312v3M170 324v3M170 342v3M171 345v3M171 369v3M172 357v3M173 284v2M173 324v3M173 375v3M174 372v3M174 378v6M174 399v3M175 228v2M175 246v2M175 250v2M175 270v2M175 333v3M175 375v6M177 274v2M177 336v3M177 342v6M177 387v3M178 252v2M178 270v4M178 282v2M178 290v2M178 351v3M179 339v3M179 354v3M179 366v3M179 384v3M179 390v3M179 402v3M180 264v4M180 288v2M180 348v6M180 372v3M180 381v3M181 345v3M181 351v3M182 64v6M182 342v3M183 254v2M183 280v2M183 284v2M183 351v3M183 366v3M183 393v3M184 250v2M184 266v6M184 312v3M184 330v3M184 372v3M184 402v3M185 244v2M185 266v2M185 321v3M185 327v3M185 360v3M186 260v2M186 268v2M186 321v3M186 339v3M187 58v6M187 246v2M187 292v2M187 336v3M187 345v3M187 351v3M187 375v3M188 272v2M188 284v2M188 292v2M188 324v3M188 330v6M188 345v3M188 351v3M189 246v2M189 262v2M189 321v3M189 333v3M189 339v3M189 360v3M190 276v2M190 282v2M191 278v2M191 345v3M192 192v2M192 254v2M193 202v2M193 312v3M194 58v6M195 52v6M195 182v1M195 315v3M195 402v3M196 180v2M196 186v2M196 336v3M197 52v6M197 210v2M197 268v2M198 212v2M198 327v3M198 333v3M198 375v3M199 180v3M199 194v2M199 206v2M199 218v2M199 298v8M199 375v3M200 216v2M200 318v3M200 369v3M201 351v3M201 381v6M201 393v3M202 196v2M202 342v3M203 321v3M203 351v3M203 402v3M204 198v2M205 188v2M205 226v2M205 378v3M205 387v3M206 204v2M206 396v3M207 330v3M207 387v6M208 224v2M208 327v3M208 333v3M208 360v3M208 369v3M209 206v2M209 226v2M209 321v3M209 333v3M209 363v6M209 381v3M209 393v3M210 196v2M210 202v2M210 214v2M210 266v2M210 274v2M210 292v4M210 348v3M211 232v2M211 268v2M211 290v2M212 190v2M212 212v2M212 216v2M212 390v3M213 170v4M213 180v2M213 220v2M213 232v2M213 236v2M214 196v2M214 220v2M215 252v4M215 260v4M215 280v2M216 183v1M216 200v6M216 208v2M216 216v2M216 232v2M217 183v1M219 192v2M219 220v2M219 238v2M219 242v2M219 252v2M219 268v2M220 180v2M222 168v2M224 174v2M228 176v4M234 164v2M234 172v4M236 184v2M237 185v1M242 142v3M242 184v1M247 190v2M251 182v1M263 182v1M264 190v2M265 192v2M267 208v2M267 393v3M268 206v2M268 210v2M268 214v2M270 196v2M271 208v2M272 206v4M273 396v3M274 218v4M274 236v2M276 222v2M276 232v2M276 238v2M276 246v2M276 264v2M277 252v2M277 272v2M277 288v2M278 218v2M278 224v2M279 212v2M279 218v2M279 234v2M279 246v2M280 242v2M280 272v2M281 222v2M281 280v2M281 284v2M282 252v2M282 276v2M284 208v2M284 238v2M284 266v2M284 284v2M285 246v2M286 214v2M286 266v2M287 282v2M288 240v2M288 262v2M288 268v2M289 258v2M289 280v2M289 288v2M290 238v2M291 286v2M292 268v2M293 218v2M293 284v2M294 232v2M294 268v2M295 262v2M295 270v2M297 288v2M298 272v2M298 280v2M298 284v2M302 280v2M303 282v2M304 268v2M305 276v2M306 284v2M307 260v2M307 276v2M308 268v2M309 278v2M310 276v2M310 280v4M311 276v4M311 282v2M312 280v2M312 284v2M322 272v2M322 276v2M322 280v2M324 282v2M325 270v2M329 208v2M329 232v2M331 214v2M331 268v2M332 232v2M334 272v2M335 278v2M336 236v2M336 276v2M337 222v2M338 204v2M338 280v2M339 256v2M341 204v2M341 224v2M342 274v2M343 284v2M345 262v2M346 274v2M348 274v4M349 272v2M351 270v2M352 266v2M355 266v6M358 280v2M361 276v2M362 274v2M363 278v2M364 280v2M365 276v2M366 268v4M366 278v2M374 268v4M375 214v2M375 278v2M375 282v2M377 232v2M377 270v2M378 210v2M379 282v2M379 387v6M380 384v3M380 393v3M381 210v2M381 390v3M383 272v2M383 276v4M383 387v3M384 280v2M385 262v2M385 381v3M388 270v2M390 270v2M392 266v2M392 393v3M394 278v2"/>
<path stroke="#00fffc" d="M136 369v9M136 390v3M137 369v9M137 390v3M138 369v9M138 390v3M139 369v9M139 390v3M140 369v9M140 390v3M141 369v9M141 390v3M142 315v3M142 327v3M142 357v3M143 190v2M143 312v3M143 402v3M146 64v6M149 137v3M151 140v2M151 144v1M152 152v2M152 182v2M153 190v2M153 198v2M153 204v2M153 268v2M153 282v2M153 396v3M154 240v2M154 315v3M154 351v3M154 387v3M155 184v1M155 246v2M155 254v2M155 274v2M155 321v3M155 369v3M156 226v2M156 260v2M156 363v6M156 387v3M157 232v2M157 282v2M157 369v3M158 250v2M159 280v2M159 390v3M160 234v2M160 378v3M160 390v3M161 363v3M162 339v3M163 318v6M163 342v3M163 375v3M164 321v3M164 330v6M164 354v3M164 372v3M165 315v3M165 390v3M165 396v6M166 64v6M166 327v3M166 336v3M166 342v3M166 369v6M167 363v3M167 393v3M167 399v3M168 336v3M168 360v3M168 366v3M169 321v3M169 366v3M170 333v3M170 354v6M171 324v6M171 342v3M171 348v6M171 360v3M171 375v3M173 290v2M173 381v3M174 272v4M174 390v6M174 402v3M175 232v2M175 238v2M175 256v2M175 292v2M175 298v8M175 321v3M175 372v3M175 381v3M176 312v3M176 342v3M177 286v2M177 312v3M177 354v3M177 360v6M177 372v3M178 64v6M178 248v2M178 264v2M178 357v3M179 64v6M179 330v6M179 342v3M179 369v3M179 393v3M180 278v2M180 286v2M180 366v3M180 399v3M181 238v2M181 339v3M182 258v2M182 264v2M182 280v2M183 260v2M183 290v2M183 354v3M184 254v2M184 260v2M184 327v3M184 399v3M185 220v2M185 262v2M185 276v2M185 298v8M186 258v2M186 312v3M186 327v3M186 369v3M186 375v3M186 402v3M187 248v2M187 264v2M187 342v3M187 363v3M187 393v3M188 258v2M188 276v2M188 327v3M188 342v3M188 354v3M188 363v3M189 188v2M190 184v1M190 286v2M190 294v2M190 345v3M190 369v3M191 324v9M191 351v3M191 360v3M191 375v3M192 292v2M192 381v3M193 186v2M194 198v2M194 354v3M194 360v3M195 190v2M195 327v3M195 387v6M196 192v2M196 204v2M196 324v3M196 339v3M196 351v3M197 190v2M197 194v2M197 200v2M198 184v1M198 196v2M198 342v3M199 198v2M199 348v3M200 294v2M200 348v3M200 354v3M200 378v3M200 390v3M200 402v3M201 208v2M201 212v2M201 220v2M201 342v3M201 360v6M201 378v3M202 315v3M203 192v2M203 324v6M203 342v3M203 360v3M204 176v2M205 190v2M205 292v2M205 321v3M205 375v3M205 381v3M205 396v3M206 318v3M206 369v3M206 399v3M207 294v2M207 363v9M208 188v2M208 194v2M208 321v3M209 182v1M209 204v2M209 220v2M209 345v3M210 185v3M210 190v2M210 208v2M210 298v8M210 339v3M210 357v6M212 232v2M212 254v2M212 258v4M213 160v2M213 164v2M213 168v2M213 184v1M213 186v2M213 194v2M213 200v4M213 208v6M213 216v4M214 188v2M214 204v2M214 226v2M214 234v2M214 282v2M214 288v2M214 324v3M215 150v2M215 170v4M215 190v2M215 224v2M215 284v2M216 190v2M216 194v4M217 188v2M219 185v1M219 190v2M219 254v2M219 258v2M221 176v2M223 178v2M226 176v2M232 178v2M234 178v2M234 184v1M235 178v2M242 146v2M242 150v2M252 182v1M258 188v2M259 190v2M260 188v4M266 212v2M267 204v2M267 212v2M267 218v2M268 184v1M268 204v2M268 208v2M274 212v2M274 234v2M275 220v2M276 208v2M277 236v2M277 260v2M278 210v2M278 396v3M279 226v2M279 230v2M280 262v2M281 216v2M281 226v2M281 282v2M282 236v2M282 246v2M282 266v2M283 234v2M283 242v2M283 264v2M283 276v2M284 252v2M284 270v2M284 288v2M285 254v2M285 276v2M286 234v2M286 250v2M286 254v2M287 238v2M287 274v2M288 214v2M288 238v2M288 274v2M289 220v2M289 260v4M289 286v2M290 216v2M290 222v2M291 284v2M292 280v2M293 276v2M294 282v4M294 290v2M301 276v2M302 278v2M302 286v2M303 393v3M304 278v2M305 274v2M306 266v2M307 280v2M309 276v2M309 284v2M310 284v2M311 266v2M313 278v2M316 278v2M317 280v2M323 286v2M326 270v2M326 280v2M327 272v4M329 270v2M329 278v2M331 278v2M332 278v4M333 282v2M334 276v2M336 214v2M340 210v2M340 222v2M341 226v2M341 272v2M345 272v2M346 266v2M346 280v2M348 266v2M349 270v2M350 266v2M350 270v2M351 264v4M352 274v2M361 274v2M362 278v2M363 270v2M363 274v2M365 274v2M366 276v2M368 212v4M369 278v2M372 280v2M373 266v2M374 272v2M376 214v2M378 390v3M379 280v2M380 284v2M380 387v6M380 396v3M381 212v2M381 222v2M381 226v2M382 276v2M383 381v3M383 399v3M385 378v3M386 274v4M390 393v3M391 270v2M391 274v2M392 276v2M393 272v2"/>
<path stroke="#00fff3" d="M136 366v3M136 393v3M137 366v3M137 393v3M138 366v3M138 393v3M139 366v3M139 393v3M140 366v3M140 393v3M141 366v3M141 393v3M142 260v2M143 318v3M143 327v3M144 260v2M145 282v2M146 116v2M146 132v8M150 137v5M151 124v4M151 136v4M152 162v2M152 168v2M153 162v2M153 172v2M153 202v2M153 256v2M153 272v2M153 286v2M153 312v3M154 256v2M154 274v2M154 318v3M155 236v2M155 242v2M155 248v4M155 348v6M156 333v3M156 369v3M156 381v3M157 226v2M157 363v3M157 384v3M158 183v2M158 220v2M158 318v3M158 327v3M158 351v3M159 228v2M159 234v2M160 52v6M160 236v2M160 372v3M160 381v9M160 396v3M161 375v3M162 318v3M162 390v3M163 354v3M164 366v6M164 387v3M165 318v3M165 402v3M166 348v6M166 366v3M166 381v3M167 315v3M167 384v3M168 315v3M168 369v6M169 64v6M169 381v3M170 321v3M171 318v3M171 330v3M171 366v3M172 64v6M172 348v3M172 363v6M173 321v3M173 390v3M174 348v3M174 369v3M174 387v3M175 64v6M175 230v2M175 236v2M175 258v2M175 296v2M175 312v3M175 387v3M175 393v3M176 298v8M176 339v3M177 262v2M177 294v2M177 393v3M178 294v2M178 363v3M178 375v3M179 262v2M179 292v2M179 315v3M179 321v6M179 336v3M179 348v3M180 254v2M180 290v2M181 354v3M182 246v2M182 276v2M182 336v6M182 378v6M183 278v2M183 348v3M183 372v3M183 384v3M184 298v8M184 342v3M184 357v3M184 396v3M185 218v2M185 234v2M185 254v2M185 268v2M185 278v2M185 366v6M185 375v3M186 262v2M186 324v3M186 357v3M186 366v3M186 381v3M187 256v2M187 270v2M187 278v2M187 369v3M187 390v3M188 260v2M188 282v2M188 336v3M188 348v3M188 357v3M188 372v3M189 185v1M189 250v4M189 268v2M189 318v3M189 330v3M189 336v3M190 272v2M190 284v2M190 288v6M190 296v2M190 372v3M191 315v3M191 321v3M191 348v3M191 354v3M191 366v3M191 378v6M192 290v2M192 387v3M193 58v6M193 315v3M193 348v6M193 357v3M194 200v6M194 387v3M195 183v1M195 185v1M195 324v3M195 336v3M195 342v3M195 348v3M196 330v3M196 360v3M197 184v2M197 333v3M198 220v2M198 330v3M198 339v3M198 378v3M199 185v1M199 357v3M200 180v2M200 345v3M200 363v3M201 190v2M201 204v2M201 333v3M201 369v3M201 390v3M202 200v2M202 351v3M203 312v3M203 339v3M203 363v3M203 375v3M205 224v2M205 290v2M205 312v3M205 336v3M205 384v3M206 312v3M206 327v3M206 366v3M206 378v3M206 384v3M206 402v3M207 190v2M207 351v3M207 372v3M207 381v3M207 399v3M208 206v2M208 324v3M208 330v3M208 336v3M209 224v2M209 330v3M209 342v3M209 360v3M210 204v2M210 278v2M210 296v2M210 363v3M210 369v3M211 184v1M211 192v2M211 196v2M211 228v2M211 234v2M212 185v3M212 198v2M212 202v2M212 208v4M212 224v2M213 190v2M213 224v2M213 327v3M214 198v2M214 210v2M214 272v2M215 152v2M215 164v2M215 274v2M216 212v2M216 270v2M217 185v1M218 184v1M218 186v2M219 234v4M219 248v2M219 264v2M219 272v2M220 178v2M223 180v2M224 176v2M225 176v2M233 154v2M233 178v2M234 162v2M234 170v2M236 166v2M236 188v2M239 185v1M241 182v1M242 160v2M245 183v1M247 184v1M247 188v2M248 185v1M256 170v2M256 174v2M261 186v2M262 192v2M266 204v2M267 210v2M267 220v2M268 198v2M269 200v6M273 204v2M273 220v2M273 393v3M274 202v2M275 226v2M277 220v2M277 262v2M278 206v2M278 232v2M279 206v2M279 238v2M279 248v2M279 266v2M280 254v2M280 396v3M281 228v2M281 278v2M281 286v2M282 244v2M282 248v2M282 272v2M283 248v2M283 258v2M283 282v2M284 260v2M284 268v2M285 262v2M286 228v2M286 232v2M286 246v2M286 262v2M286 268v4M286 278v2M286 284v2M287 278v2M287 284v2M288 234v2M289 218v2M289 244v2M289 250v2M289 254v2M289 274v2M289 278v2M292 244v4M292 250v2M292 276v2M293 278v2M295 280v2M298 246v2M298 250v2M299 288v2M302 282v2M303 286v2M303 396v3M304 280v2M304 286v2M307 266v2M310 268v2M310 286v2M315 278v2M324 284v2M327 270v2M330 280v2M332 282v2M332 286v2M335 230v2M340 218v2M340 232v2M340 262v2M341 274v2M341 278v2M342 262v2M343 282v2M344 262v2M346 278v2M350 272v2M353 280v2M354 270v2M357 262v2M357 268v2M359 284v2M360 268v2M361 278v2M362 276v2M366 266v2M368 216v2M369 284v2M371 266v2M373 270v2M375 396v3M376 396v3M377 208v2M380 282v2M380 286v2M381 214v2M381 220v2M385 375v3M385 393v3M386 393v3M391 266v2M391 276v2M393 384v3M393 390v6"/>
<path stroke="#00ffea" d="M136 378v3M137 378v3M138 378v3M139 378v3M140 378v3M141 378v3M142 254v2M142 258v2M142 333v3M142 342v3M142 348v3M143 321v3M143 390v3M145 286v2M146 70v6M150 52v6M151 52v6M152 156v2M154 184v1M154 290v4M154 312v3M154 375v3M154 390v6M155 188v2M155 256v2M155 296v2M155 318v3M155 333v3M155 363v3M156 190v2M157 288v2M159 230v2M159 360v3M159 384v3M160 185v1M160 363v6M160 375v3M161 58v6M161 315v3M163 363v6M164 348v6M164 363v3M164 378v3M164 393v3M164 399v3M165 378v3M165 384v3M165 393v3M166 318v3M167 366v3M167 402v3M168 64v6M168 330v3M168 390v3M169 324v3M169 369v3M169 375v3M171 321v3M171 357v3M171 372v3M171 378v6M172 315v6M172 336v3M172 342v3M172 369v3M172 375v3M173 387v3M174 363v3M175 396v9M176 264v2M177 58v6M177 270v2M177 278v2M177 396v3M178 324v3M178 372v3M178 387v3M179 156v2M179 268v2M179 286v2M179 318v3M179 345v3M179 351v3M180 64v6M180 256v2M180 282v2M180 378v3M181 256v2M181 286v4M181 321v3M181 342v3M182 242v2M182 260v2M182 284v2M182 288v2M182 324v3M182 360v3M183 262v2M183 286v2M183 294v2M183 396v3M183 402v3M184 360v3M185 246v2M185 260v2M185 264v2M185 284v2M185 294v4M185 330v3M185 357v3M186 274v2M186 288v2M186 384v6M187 260v4M187 333v3M187 354v3M188 58v6M188 252v2M188 294v4M188 318v3M189 184v1M189 345v3M189 351v6M189 363v3M190 278v2M190 321v3M190 336v3M190 354v3M191 185v1M192 348v3M193 190v2M193 200v2M194 184v1M194 363v3M194 384v3M194 393v3M194 402v3M195 345v3M195 369v3M195 384v3M196 184v1M197 336v3M198 52v6M198 198v2M198 290v2M198 348v3M198 354v3M198 372v3M198 381v3M199 369v6M200 204v2M200 327v3M200 339v3M200 351v3M200 357v6M201 192v2M201 348v3M201 366v3M201 387v3M202 212v2M202 324v3M203 196v2M203 366v3M203 384v3M204 194v2M204 315v3M205 202v2M205 393v3M206 180v2M206 202v2M207 339v3M207 345v3M207 357v3M208 184v1M208 342v3M209 202v2M209 339v3M210 183v1M210 200v2M210 354v3M210 372v3M210 378v3M210 393v3M211 182v1M211 226v2M211 230v2M211 256v2M211 270v2M211 288v2M212 270v2M212 315v3M213 192v2M213 226v2M213 290v2M213 294v2M213 298v8M213 324v3M213 345v3M213 360v3M214 208v2M214 294v2M214 298v8M215 210v2M215 222v2M215 240v2M215 258v2M215 264v2M215 276v2M216 186v2M216 210v2M216 258v2M216 262v2M216 274v2M217 186v2M217 228v2M217 244v2M218 183v1M219 186v4M219 194v2M219 222v2M219 276v2M221 180v2M221 276v2M227 174v2M235 180v2M236 170v2M236 186v2M247 192v2M253 186v2M256 164v2M256 176v4M256 185v3M260 194v2M261 183v1M264 194v2M265 184v1M265 190v2M265 194v2M266 206v2M267 214v2M267 236v2M268 393v3M269 206v2M270 393v3M272 216v2M273 208v2M273 216v4M276 234v4M276 244v2M276 248v6M276 256v2M277 284v2M279 232v2M279 242v2M280 248v2M281 262v2M282 220v2M282 234v2M282 238v2M282 250v2M282 256v2M283 250v2M283 254v2M283 268v2M283 288v2M284 258v2M285 208v2M285 274v2M286 240v2M286 244v2M286 248v2M286 272v2M287 256v4M287 286v2M288 236v2M288 246v2M288 250v4M288 260v2M288 272v2M290 224v2M290 236v2M290 262v2M292 252v2M292 260v2M292 282v2M295 286v2M296 390v3M299 290v2M300 288v2M301 286v4M301 393v3M302 284v2M303 284v2M307 278v2M309 264v2M309 280v2M313 282v2M314 284v2M315 274v2M315 282v2M317 272v2M317 282v2M321 282v2M322 274v2M322 278v2M323 284v2M325 280v2M326 274v2M327 278v2M329 274v2M331 280v2M332 238v2M334 226v2M335 280v2M336 274v2M338 282v2M339 214v2M340 282v2M347 280v2M348 278v2M349 266v2M349 274v4M352 272v2M354 272v2M355 278v2M358 276v2M358 282v2M363 280v2M367 280v2M371 278v2M373 274v4M375 284v2M376 393v3M377 230v2M378 399v3M382 384v6M386 278v2M389 278v2M389 387v3M393 387v3M394 387v3"/>
<path stroke="#00ffe0" d="M136 384v3M137 384v3M138 384v3M139 384v3M140 384v3M141 384v3M142 246v2M142 345v3M142 369v3M143 234v2M143 369v3M143 381v3M143 399v3M144 399v3M146 119v1M146 128v4M148 132v4M149 140v2M152 158v2M152 166v2M153 168v2M153 186v2M154 276v2M154 298v8M154 321v3M154 381v3M155 240v2M155 262v2M155 284v4M155 290v6M156 218v2M156 222v2M156 378v3M156 390v6M156 402v3M157 372v3M157 378v3M157 399v3M158 348v3M158 369v3M158 378v3M159 236v2M159 366v3M160 183v1M160 393v3M164 318v3M164 327v3M164 396v3M165 366v3M165 375v3M166 315v3M166 333v3M167 64v6M167 375v3M167 396v3M168 381v3M169 330v3M169 378v3M169 390v3M170 336v3M170 375v6M171 64v6M171 339v3M171 384v3M172 321v9M172 333v3M172 345v3M172 351v6M172 390v3M172 399v3M173 58v6M173 384v3M173 393v3M173 399v3M175 240v2M175 384v3M176 321v3M177 280v2M177 288v2M177 298v8M177 378v3M178 312v3M178 318v6M178 330v3M178 369v3M180 270v2M180 274v2M180 280v2M180 318v3M180 384v3M181 250v2M181 272v2M181 276v2M181 282v2M181 336v3M182 256v2M182 262v2M182 282v2M182 333v3M182 375v3M183 266v2M183 387v6M183 399v3M184 296v2M184 348v3M184 387v3M185 290v4M185 372v3M185 387v3M185 393v3M186 58v6M186 270v2M186 280v2M186 284v2M186 318v3M186 360v3M187 312v3M187 357v6M188 274v2M188 278v4M188 298v8M188 321v3M188 369v3M188 399v3M189 272v2M189 282v2M189 381v6M190 324v3M191 58v6M191 339v3M193 363v3M194 381v3M194 390v3M194 396v3M195 339v3M195 354v3M195 372v6M195 381v3M196 190v2M196 327v3M196 342v3M196 363v3M196 375v3M197 186v2M197 366v3M197 375v3M197 381v3M197 402v3M198 183v1M198 186v2M198 204v2M198 345v3M198 351v3M199 190v2M199 363v3M200 183v1M200 336v3M200 381v6M201 182v1M201 375v3M202 182v1M202 190v2M203 333v3M203 345v3M203 372v3M204 174v2M205 327v3M205 366v3M205 399v3M206 324v3M206 330v3M206 342v3M206 375v3M206 387v3M206 393v3M207 185v1M207 348v3M207 354v3M208 339v3M208 354v6M209 222v2M209 327v3M210 321v3M210 330v3M211 194v2M211 222v4M211 262v2M211 266v2M212 214v2M212 220v2M212 264v2M212 272v2M212 284v2M212 294v2M212 378v6M212 387v3M212 399v3M213 162v2M213 176v2M213 182v1M213 312v3M213 354v6M213 366v6M214 200v4M214 290v2M214 312v3M215 156v2M215 180v2M215 208v2M215 272v2M215 282v2M216 198v2M216 218v2M216 228v2M216 236v2M216 240v2M216 256v2M216 264v2M217 184v1M217 230v2M217 238v2M217 246v4M217 258v2M217 272v2M219 198v2M219 212v4M219 240v2M219 244v2M219 270v2M223 185v1M223 268v2M230 178v2M232 180v2M239 186v2M241 185v1M245 185v1M248 184v1M249 182v1M252 185v1M256 166v2M257 185v1M262 183v1M262 190v2M267 216v2M269 208v2M269 393v3M271 210v2M271 216v2M272 212v2M272 218v2M273 390v3M275 228v2M276 224v2M276 254v2M277 250v2M277 256v4M277 266v2M277 280v2M277 286v2M278 212v2M278 216v2M278 234v2M278 266v2M278 286v2M279 228v2M279 244v2M279 250v2M279 258v2M279 268v2M279 272v2M279 278v2M280 244v2M280 290v2M281 230v2M281 274v4M282 212v2M282 218v2M282 254v2M282 258v2M283 266v2M283 274v2M284 256v2M284 276v2M285 210v2M285 222v2M285 248v2M285 260v2M285 268v4M286 238v2M286 242v2M288 276v2M290 218v2M290 228v2M290 254v2M290 264v2M290 268v2M290 284v2M291 250v2M291 390v3M292 264v2M292 286v2M294 270v2M294 276v2M297 290v2M297 393v3M298 244v2M298 393v3M299 396v3M301 390v3M301 396v3M306 286v2M308 278v2M316 282v2M325 284v2M327 280v2M328 278v4M334 278v2M335 212v2M336 280v2M337 218v2M338 222v2M338 268v2M339 282v2M341 208v4M342 260v2M345 268v2M351 262v2M354 266v2M354 274v2M355 272v4M357 270v2M357 282v2M361 280v4M367 282v2M369 282v2M370 278v2M375 390v3M377 276v2M378 284v2M378 387v3M379 284v2M381 393v6M383 280v2M385 280v2M385 390v3M386 390v3M386 396v3M390 278v2M390 369v3M390 384v3M392 396v3M394 363v3M394 390v3"/>
<path stroke="#00ffd7" d="M136 381v3M136 387v3M137 381v3M137 387v3M138 381v3M138 387v3M139 381v3M139 387v3M140 381v3M140 387v3M141 381v3M141 387v3M142 190v2M142 318v3M143 342v3M143 393v6M145 190v2M145 270v2M145 274v2M146 76v6M146 118v1M146 124v4M151 170v2M152 52v6M152 160v2M152 178v2M152 185v1M152 192v2M152 196v2M152 360v3M153 183v2M153 298v8M154 286v2M154 399v3M155 276v2M155 280v2M155 298v8M155 315v3M155 342v3M155 375v3M155 381v3M156 210v4M156 396v3M157 393v3M158 372v6M159 312v3M159 369v3M159 381v3M159 396v3M161 369v3M162 52v6M163 315v3M163 369v3M164 324v3M164 381v3M164 402v3M166 387v3M166 393v3M168 396v6M169 318v3M169 327v3M169 333v6M169 387v3M170 64v6M170 339v3M170 363v3M170 369v3M172 360v3M172 372v3M172 402v3M175 324v3M175 345v3M176 336v3M177 284v2M177 290v2M177 296v2M178 296v2M178 315v3M178 366v3M179 312v3M180 258v2M180 262v2M180 272v2M180 276v2M180 339v6M181 244v2M181 280v2M181 315v6M181 330v3M181 402v3M182 286v2M182 294v4M182 318v3M182 330v3M182 354v6M182 384v3M183 270v2M183 369v3M183 375v3M184 58v6M185 224v2M185 228v2M185 236v2M185 240v2M185 378v3M186 278v2M187 266v2M188 254v2M188 262v2M188 266v2M188 288v2M188 312v6M188 360v3M188 366v3M189 266v2M189 357v3M189 366v3M189 387v3M189 396v3M190 333v3M190 342v3M190 378v3M191 318v3M191 372v3M192 194v2M192 198v2M192 294v2M193 198v2M193 298v8M194 190v2M194 366v3M195 363v6M195 378v3M195 393v6M196 185v1M196 345v3M196 354v6M196 369v3M196 381v3M197 327v6M197 345v6M197 384v3M197 399v3M198 294v2M198 396v9M199 354v3M199 360v3M199 378v3M200 330v3M200 372v3M200 387v3M200 393v6M201 188v2M201 336v3M202 321v3M203 188v2M203 369v3M203 399v3M204 178v2M204 185v1M204 192v2M204 375v3M205 185v1M205 315v3M205 360v3M205 369v3M205 390v3M206 182v1M206 198v4M207 183v1M208 196v2M208 345v3M210 280v2M210 312v3M210 333v6M210 342v6M210 375v3M210 384v3M210 390v3M211 183v1M211 186v2M211 200v2M211 218v2M211 258v4M212 194v2M212 200v2M212 206v2M212 262v2M212 363v6M212 393v3M212 402v3M213 196v2M213 222v2M213 333v3M213 339v6M213 348v3M213 363v3M214 184v1M214 318v3M215 162v2M215 185v1M216 220v2M216 224v2M216 234v2M216 238v2M216 252v2M216 266v2M216 276v2M217 222v4M217 234v2M217 252v2M218 190v2M219 204v2M219 226v6M219 256v2M221 272v4M221 278v2M223 266v2M225 178v2M225 393v3M226 178v2M230 182v1M233 180v2M234 160v2M236 174v2M236 178v4M237 186v2M249 183v1M251 184v1M254 188v2M255 184v2M256 168v2M258 190v2M259 192v2M261 185v1M268 216v2M268 396v3M273 224v4M276 216v2M276 242v2M276 266v2M276 274v2M277 274v2M278 278v2M278 282v2M278 288v2M278 393v3M279 222v2M279 260v2M281 264v4M282 268v2M282 278v4M282 284v2M283 236v2M283 244v2M283 252v2M283 270v2M284 254v2M285 256v2M285 264v2M287 396v3M290 258v2M291 288v2M292 288v2M293 286v2M296 387v3M296 399v3M297 387v6M298 248v2M300 290v2M307 282v4M308 282v2M309 268v4M316 284v2M317 274v2M318 284v2M319 286v2M325 286v2M332 234v2M332 284v2M334 280v2M340 220v2M342 278v2M344 266v2M345 266v2M347 282v2M351 268v2M351 272v2M351 276v2M355 276v2M359 286v2M360 278v4M368 280v2M370 270v2M371 268v2M373 212v2M373 268v2M375 393v3M377 274v2M378 286v2M379 384v3M381 282v2M385 369v3M385 396v6M386 387v3M388 387v3M390 381v3M393 378v3M394 375v3M394 384v3M394 393v3"/>
<path stroke="#00ffce" d="M142 234v2M142 252v2M142 363v3M143 372v3M143 378v3M143 384v3M145 278v2M146 82v12M146 104v8M146 120v4M146 140v2M146 164v2M147 120v4M148 137v3M149 192v2M151 142v2M151 202v2M152 154v2M152 172v2M152 186v6M152 351v3M154 264v2M154 268v2M154 272v2M154 402v3M155 264v2M155 312v3M155 372v3M155 384v3M156 183v1M156 399v3M157 366v3M159 363v3M159 393v3M159 402v3M160 399v6M161 52v6M162 278v2M162 282v2M163 58v6M163 372v3M163 381v3M164 390v3M166 330v3M166 390v3M166 396v3M168 324v3M168 393v3M170 366v3M171 336v3M174 357v6M176 318v3M177 321v3M177 330v3M177 402v3M178 292v2M178 333v3M178 390v3M179 158v2M179 327v3M180 315v3M180 324v3M180 333v3M180 402v3M181 58v6M181 246v2M181 264v2M181 268v4M181 324v6M181 357v3M181 390v3M182 266v2M182 290v4M182 312v3M182 372v3M182 387v3M182 396v3M183 296v2M183 381v3M184 345v3M185 216v2M185 232v2M185 274v2M185 282v2M185 381v6M185 396v3M185 402v3M186 298v8M186 315v3M187 315v3M187 330v3M187 348v3M187 399v3M188 375v6M189 52v6M189 378v3M190 58v6M190 268v4M190 375v3M192 196v2M193 188v2M193 336v6M193 360v3M194 182v1M194 399v3M195 357v3M195 399v3M196 366v3M196 390v3M197 342v3M197 360v3M197 369v3M197 378v3M197 393v3M198 292v2M198 366v6M198 393v3M199 184v1M199 188v2M199 366v3M200 186v2M200 198v2M200 375v3M200 399v3M201 186v2M201 196v2M201 354v3M202 183v1M202 185v1M202 214v4M202 396v3M203 182v1M203 378v6M204 324v3M205 186v2M205 330v6M206 192v2M206 339v3M206 360v6M206 372v3M211 198v2M211 296v2M212 188v2M212 228v2M212 268v2M212 280v2M212 327v3M212 384v3M213 185v1M213 330v3M213 336v3M213 372v6M213 381v3M214 315v3M215 212v2M215 270v2M215 286v2M216 214v2M217 268v2M218 185v1M218 192v2M219 202v2M219 286v2M220 185v1M221 266v2M221 270v2M222 196v2M222 276v2M222 288v2M222 336v3M222 354v3M223 272v2M224 378v3M234 166v2M236 168v2M236 172v2M236 176v2M241 183v1M243 183v1M244 185v1M246 186v2M248 188v2M250 184v1M252 183v1M252 186v2M253 194v2M255 186v2M256 172v2M256 182v2M257 186v2M260 192v2M261 188v2M263 184v1M264 192v2M266 208v2M267 268v2M267 387v6M268 218v2M270 202v2M270 396v3M271 214v2M272 396v3M273 228v2M274 252v2M275 286v2M275 396v3M276 210v2M276 214v2M276 262v2M276 270v2M277 246v2M277 282v2M278 242v4M278 390v3M279 252v2M279 256v2M279 276v2M280 236v2M280 252v2M281 204v2M281 232v2M281 240v2M281 260v2M282 216v2M282 240v2M282 260v2M282 270v2M282 274v2M283 256v2M283 260v2M283 280v2M284 248v4M284 262v2M284 294v2M285 216v2M285 230v4M285 258v2M285 278v2M286 236v2M286 288v4M287 290v2M290 220v2M290 232v2M290 256v2M295 288v2M296 288v4M300 278v2M301 387v3M303 288v2M304 393v6M305 286v2M324 286v2M328 282v4M331 222v2M333 284v2M335 210v2M335 282v2M336 282v4M338 218v2M341 276v2M341 282v2M344 264v2M345 278v2M348 280v2M348 284v2M350 274v4M352 280v2M358 284v2M365 278v4M373 210v2M377 390v6M382 381v3M382 399v3M383 378v3M384 390v3M384 396v3M385 360v3M385 372v3M385 387v3M389 378v6M389 390v3M390 366v3M390 375v3M392 378v3M394 369v3"/>
<path stroke="#00ffc5" d="M142 250v2M143 330v6M143 375v3M143 387v3M144 204v2M144 402v3M146 112v4M147 170v2M150 142v2M151 212v2M151 250v2M152 194v2M152 226v2M153 166v2M153 170v2M154 270v2M155 252v2M155 270v2M155 278v2M155 378v3M156 384v3M157 390v3M158 381v6M159 372v6M159 399v3M161 384v3M162 333v3M165 58v6M166 399v3M167 324v3M168 321v3M170 318v3M170 372v3M170 381v3M172 330v3M172 378v3M173 396v3M173 402v3M176 315v3M178 298v8M178 327v3M178 336v3M179 396v3M180 292v2M180 321v3M180 336v3M181 278v2M181 292v2M181 360v3M181 399v3M182 321v3M182 363v3M182 390v6M182 402v3M184 294v2M185 230v2M185 248v2M186 286v2M186 393v3M186 399v3M188 242v2M188 268v2M188 381v6M189 342v3M189 393v3M190 264v4M191 312v3M191 399v3M193 185v1M193 324v3M193 330v3M193 366v3M194 183v1M194 378v3M195 351v3M196 384v3M197 339v3M197 363v3M197 372v3M197 396v3M198 296v2M198 357v3M198 363v3M198 390v3M199 183v1M199 186v2M200 185v1M201 184v1M201 218v2M202 184v1M202 186v2M202 354v3M203 183v1M204 366v6M205 318v3M205 324v3M205 363v3M206 194v4M206 333v3M207 188v2M209 188v4M209 357v3M210 396v3M211 202v4M211 220v2M211 254v2M211 272v4M211 292v2M212 274v2M212 278v2M212 286v2M212 290v2M212 312v3M212 336v3M213 183v1M213 296v2M213 318v6M213 351v3M213 402v3M215 206v2M215 268v2M215 294v2M216 206v2M216 254v2M217 226v2M217 236v2M217 256v2M217 260v4M217 280v2M218 188v2M218 234v2M218 254v2M218 268v4M219 184v1M219 274v2M221 268v2M222 184v4M222 198v2M223 184v1M223 354v3M224 180v2M224 354v3M225 351v3M225 402v3M234 188v4M236 183v1M243 184v1M244 182v1M250 186v2M251 183v1M253 192v2M254 186v2M256 180v2M257 183v2M261 184v1M263 185v1M266 214v2M267 232v4M267 266v2M267 399v3M269 390v3M269 396v3M270 206v2M271 212v2M272 222v2M272 242v2M272 264v2M274 230v2M274 238v2M274 244v2M274 250v2M276 272v2M277 278v2M278 208v2M278 214v2M278 280v2M278 284v2M279 264v2M280 256v2M282 214v2M282 282v2M283 246v2M283 262v2M283 272v2M283 290v2M284 212v2M284 292v2M285 284v2M286 396v3M290 272v2M291 393v3M294 274v2M294 396v3M295 396v3M298 288v2M300 393v3M301 384v3M303 390v3M304 290v2M307 286v2M309 266v2M309 282v2M317 284v2M321 280v2M321 286v2M326 286v2M329 280v2M330 282v4M331 220v2M334 282v2M338 216v2M338 224v2M338 234v2M338 284v2M339 280v2M339 284v2M341 206v2M342 270v2M345 270v2M345 274v2M347 286v2M348 282v2M352 278v2M354 276v2M357 276v2M362 280v2M364 284v2M370 280v2M375 286v2M375 387v3M376 280v2M376 387v3M377 387v3M379 286v2M382 378v3M384 393v3M385 282v2M385 363v6M388 393v3M389 363v3M389 393v6M392 278v2M392 366v3M392 381v3M392 387v3M393 396v3M394 372v3"/>
<path stroke="#00ffbb" d="M142 204v2M142 214v2M142 224v2M142 366v3M142 378v3M143 218v2M143 256v2M143 324v3M143 366v3M144 194v2M144 256v2M144 339v3M145 266v2M145 312v3M147 124v4M147 168v2M148 128v4M149 52v6M149 144v1M150 144v1M150 214v2M150 230v2M151 146v2M151 174v2M151 204v2M151 210v2M151 232v2M151 242v2M151 268v2M152 212v2M152 327v3M152 333v6M152 357v3M152 363v3M154 278v2M154 282v2M154 288v2M155 266v2M157 183v1M157 284v4M157 396v3M158 363v3M161 321v3M161 381v3M162 327v6M166 58v6M166 321v3M169 315v3M170 315v3M170 360v3M171 387v3M172 387v3M172 393v3M174 366v3M175 58v6M177 399v3M178 348v3M178 381v3M179 154v2M180 294v2M180 312v3M180 330v3M181 363v6M181 393v3M182 250v2M182 278v2M182 298v8M183 58v6M185 58v6M185 222v2M185 250v2M185 258v2M185 363v3M185 390v3M186 276v2M186 282v2M186 296v2M187 294v2M188 248v2M188 390v9M188 402v3M189 278v2M189 402v3M190 260v2M190 381v3M191 396v3M193 321v3M193 333v3M193 342v3M193 369v3M194 369v3M194 375v3M195 330v3M196 182v2M196 348v3M196 378v3M197 351v3M198 360v3M199 384v3M200 182v1M202 188v2M202 357v3M202 393v3M203 186v2M203 348v3M204 183v1M204 363v3M205 339v3M206 345v3M207 184v1M207 186v2M207 360v3M210 184v1M210 284v2M210 324v3M210 387v3M210 402v3M211 188v2M211 206v2M211 212v6M211 286v2M212 183v1M212 196v2M212 266v2M212 288v2M212 318v3M212 354v9M213 315v3M214 296v2M214 336v3M215 296v2M216 282v2M217 216v2M217 242v2M217 250v2M217 254v2M217 264v4M218 194v2M218 242v2M218 250v2M218 256v2M219 200v2M219 206v2M219 218v2M219 250v2M219 282v2M220 262v2M220 266v2M220 272v2M221 262v2M222 192v2M222 278v2M222 284v4M223 190v2M223 276v2M224 268v2M224 336v3M224 366v3M224 372v3M224 381v3M225 345v3M225 357v3M225 366v3M229 178v4M229 184v1M229 188v2M232 182v1M235 185v1M236 182v1M238 186v2M243 185v1M246 183v1M250 185v1M253 188v2M254 185v1M254 190v2M255 190v2M256 184v1M256 192v2M258 192v2M262 188v2M265 188v2M265 198v2M265 210v2M266 216v2M266 393v3M267 262v4M267 384v3M268 212v2M269 214v2M270 204v2M271 218v2M272 284v2M273 214v2M273 222v2M273 399v3M275 274v2M276 212v2M276 218v2M276 258v4M276 268v2M276 278v2M277 242v2M278 238v4M278 254v2M279 282v2M279 288v2M280 234v2M280 387v3M281 242v2M281 246v2M281 288v2M284 214v2M285 252v2M285 280v2M286 256v4M286 393v3M289 290v2M290 286v2M296 384v3M298 396v3M300 387v3M302 396v3M304 288v2M304 387v3M305 284v2M308 284v2M311 286v2M312 286v2M313 284v2M315 280v2M318 286v2M321 284v2M322 282v2M323 288v2M327 282v4M337 216v2M337 220v2M338 220v2M338 270v2M341 232v2M341 280v2M342 272v2M342 280v2M343 286v2M344 268v2M344 282v2M345 276v2M346 282v2M348 286v2M349 280v4M351 274v2M352 282v2M353 282v2M357 272v2M357 280v2M359 288v2M364 282v2M372 282v2M372 393v6M375 378v6M378 372v3M378 384v3M379 399v3M380 378v6M381 284v2M381 387v3M383 375v3M384 384v3M388 390v3M390 357v3M390 399v3M392 384v3M394 381v3"/>
<path stroke="#00ffb2" d="M142 58v6M142 232v2M142 238v2M142 372v3M143 200v2M143 212v2M143 226v2M143 336v3M143 345v6M143 357v6M144 192v2M144 387v3M145 327v3M146 94v6M146 180v2M146 185v1M147 128v4M147 137v3M150 145v1M150 160v2M151 148v2M151 166v4M151 172v2M151 178v2M151 198v2M151 218v2M151 226v2M151 248v2M152 222v2M152 232v2M152 244v2M152 288v2M152 296v2M152 321v3M152 330v3M152 354v3M154 266v2M154 280v2M154 284v2M155 268v2M157 402v3M158 366v3M158 387v3M162 280v2M164 58v6M164 345v3M167 327v3M167 372v3M170 393v3M170 399v3M171 333v3M172 339v3M172 396v3M176 333v3M177 324v3M178 378v3M178 399v3M180 268v2M180 327v3M180 345v3M180 390v3M181 248v2M181 252v4M181 262v2M181 384v3M181 396v3M182 327v3M182 369v3M183 363v3M185 242v2M185 252v2M185 342v3M187 52v6M187 296v2M188 246v2M189 372v3M189 390v3M190 280v2M191 52v6M191 402v3M192 390v6M192 399v3M193 52v6M193 183v1M193 318v3M193 375v3M194 52v6M195 360v3M196 372v3M197 354v3M199 381v3M199 390v3M200 184v1M200 188v2M201 214v2M202 348v3M202 363v3M202 375v6M202 387v3M204 321v3M204 330v3M204 378v6M205 183v1M205 345v3M205 357v3M206 336v3M207 333v3M208 198v2M208 348v3M209 186v2M210 351v3M210 399v3M211 284v2M212 276v2M212 292v2M212 324v3M212 351v3M212 372v3M213 378v3M214 222v2M214 321v3M214 330v3M215 288v2M215 292v2M216 184v1M216 226v2M216 230v2M216 278v2M217 218v2M217 274v2M218 236v2M218 246v4M218 252v2M218 264v4M219 288v2M220 182v1M221 264v2M222 183v1M222 274v2M222 357v6M223 194v2M223 278v2M223 360v3M224 345v3M224 369v3M225 183v1M225 339v3M225 354v3M225 378v3M228 180v2M229 186v2M231 137v3M234 180v2M234 185v1M235 182v1M237 183v1M238 184v1M240 186v2M241 184v1M242 158v2M242 162v2M245 188v2M246 184v1M249 186v2M250 188v2M252 188v2M252 192v2M258 194v2M262 194v2M264 200v2M266 396v3M268 220v2M269 262v2M269 387v3M272 240v2M272 266v2M273 232v2M273 286v2M274 246v4M274 266v2M274 393v6M275 266v2M275 276v2M276 280v2M276 288v2M276 396v3M278 236v2M279 254v2M279 262v2M279 274v2M281 244v2M281 250v4M281 258v2M282 286v4M283 393v3M288 248v2M288 278v2M290 266v2M290 282v2M294 292v2M297 396v3M300 390v3M301 290v2M302 387v3M303 290v2M303 399v3M304 390v3M305 288v2M308 286v2M317 286v2M326 282v2M337 278v2M338 212v2M346 284v2M351 284v2M353 284v2M357 264v4M361 393v3M366 280v2M368 282v2M368 393v3M373 272v2M374 274v4M375 369v3M376 384v3M377 272v2M377 284v2M377 378v3M379 381v3M385 354v3M386 381v3M387 280v2M387 390v3M389 372v3M391 366v3M393 375v3M394 354v3"/>
<path stroke="#00ffa9" d="M136 82v6M136 116v2M136 124v4M136 396v3M137 82v6M137 116v2M137 124v4M137 396v3M138 82v6M138 116v2M138 124v4M138 396v3M139 82v6M139 116v2M139 124v4M139 396v3M140 82v6M140 116v2M140 124v4M140 396v3M141 82v6M141 116v2M141 124v4M141 396v3M142 192v2M142 202v2M142 208v2M142 375v3M142 384v3M143 206v4M143 230v4M143 260v2M143 339v3M143 363v3M144 58v6M144 200v2M144 218v2M144 258v2M144 324v3M144 393v6M145 192v2M146 100v4M146 172v2M147 132v4M147 166v2M147 178v2M149 185v1M149 188v4M149 196v2M150 58v6M150 166v2M150 232v2M151 150v2M151 158v2M151 184v1M151 190v2M151 262v2M151 336v3M151 351v3M152 200v2M152 206v2M152 224v2M152 242v2M152 250v2M152 284v2M152 339v9M152 366v6M157 274v2M158 354v3M158 390v3M163 378v3M169 357v3M169 384v3M170 387v3M171 390v9M175 252v2M177 327v3M178 384v3M179 58v6M179 298v8M181 258v4M181 266v2M181 290v2M181 372v3M182 315v3M182 399v3M185 238v2M185 345v3M185 399v3M187 324v3M188 250v2M189 274v2M193 184v1M193 327v3M193 345v3M193 372v3M196 188v2M197 357v3M197 390v3M199 387v3M202 369v3M202 402v3M203 184v1M203 190v2M204 318v3M204 360v3M204 384v3M206 348v3M206 357v3M210 315v6M210 327v3M211 208v2M212 282v2M212 296v2M212 321v3M212 333v3M212 342v6M212 369v3M213 384v6M214 327v3M214 333v3M215 266v2M215 312v6M215 324v3M215 333v3M215 351v3M216 222v2M216 268v2M217 190v2M217 220v2M217 232v2M217 270v2M217 276v2M218 244v2M219 216v2M219 280v2M219 284v2M220 278v2M221 182v1M221 250v2M222 194v2M222 272v2M222 280v2M222 351v3M223 262v2M223 345v6M223 357v3M224 178v2M224 384v6M225 342v3M225 360v3M225 369v3M225 399v3M233 183v1M234 182v2M237 184v1M239 188v2M240 183v1M242 154v2M242 188v2M245 186v2M249 185v1M254 184v1M255 188v2M257 188v2M264 196v2M266 220v4M267 258v4M270 390v3M271 230v2M272 220v2M272 228v2M272 268v2M273 212v2M273 242v2M273 268v2M274 268v2M275 268v2M275 393v3M276 284v4M277 248v2M278 262v4M278 387v3M279 270v2M279 280v2M281 254v2M282 393v3M283 396v3M286 390v3M287 393v3M290 270v2M290 288v2M291 290v2M291 387v3M291 399v3M292 290v2M299 384v3M303 387v3M306 290v2M309 286v2M311 288v2M312 288v2M312 393v3M319 288v2M321 278v2M322 284v2M326 284v2M333 288v2M338 226v2M339 272v2M340 284v4M345 280v2M349 278v2M350 278v6M355 280v2M358 286v2M363 282v2M364 396v3M366 393v3M372 284v2M376 390v3M377 384v3M378 381v3M381 286v2M382 284v2M383 369v3M385 357v3M386 384v3M387 381v3M388 396v3M390 360v3M390 372v3M390 378v3M391 278v2M391 369v3M393 280v2M394 357v3M394 396v3M347 428v6M348 428v6"/>
<path stroke="#00ffa0" d="M136 76v6M136 88v6M136 104v4M136 112v4M136 118v2M136 128v9M137 76v6M137 88v6M137 104v4M137 112v4M137 118v2M137 128v9M138 76v6M138 88v6M138 104v4M138 112v4M138 118v2M138 128v9M139 76v6M139 88v6M139 104v4M139 112v4M139 118v2M139 128v9M140 76v6M140 88v6M140 104v4M140 112v4M140 118v2M140 128v9M141 76v6M141 88v6M141 104v4M141 112v4M141 118v2M141 128v9M142 198v2M142 210v2M142 242v4M142 256v2M142 390v3M143 192v2M143 204v2M143 224v2M143 258v2M143 354v3M144 196v2M144 208v2M144 214v4M144 228v2M144 244v2M144 254v2M144 321v3M144 345v3M145 200v2M145 210v2M145 272v2M145 324v3M145 342v3M146 166v2M146 174v2M146 178v2M147 140v4M148 124v4M149 142v2M149 186v2M150 148v2M151 152v2M151 180v3M151 214v2M151 224v2M151 238v2M151 256v2M151 280v2M151 288v2M152 202v2M152 220v2M152 228v4M152 236v2M152 240v2M152 248v2M152 286v2M152 290v2M152 298v8M152 312v3M152 324v3M152 348v3M152 372v3M153 258v4M158 360v3M161 387v3M161 393v3M166 324v3M168 58v6M168 318v3M169 58v6M169 360v3M169 396v3M170 384v3M174 58v6M175 254v2M180 298v8M180 387v3M181 296v2M181 369v3M181 381v3M181 387v3M182 58v6M183 298v8M183 360v3M183 378v3M189 276v2M189 375v3M189 399v3M191 393v3M192 396v3M192 402v3M196 396v3M199 399v3M200 194v2M201 216v2M202 360v3M202 384v3M202 390v3M203 185v1M204 180v2M204 339v3M204 387v3M205 342v3M205 348v9M206 351v3M209 183v1M209 200v2M211 190v2M211 210v2M211 282v2M212 184v1M212 298v8M212 339v3M212 348v3M212 375v3M212 396v3M214 372v3M214 384v3M214 393v3M214 402v3M215 298v8M215 321v3M215 339v6M216 280v2M217 282v2M218 216v2M218 232v2M218 238v2M219 224v2M219 278v2M220 186v2M220 264v2M220 268v4M221 196v2M222 190v2M222 200v2M222 268v2M222 282v2M222 290v2M222 363v3M223 192v2M223 264v2M223 270v2M223 280v2M223 363v3M224 185v1M224 264v2M224 348v6M224 357v3M224 375v3M224 402v3M225 333v6M225 348v3M227 176v2M228 182v1M229 182v1M229 185v1M229 194v2M229 202v2M234 186v2M239 184v1M239 190v2M240 185v1M242 152v2M242 156v2M242 194v2M247 194v2M248 192v2M251 185v1M252 190v2M253 190v2M259 194v2M260 196v2M261 190v2M262 196v2M263 194v2M264 202v2M265 196v2M267 230v2M267 252v2M268 387v3M269 212v2M269 216v2M269 264v2M269 272v2M270 216v2M270 270v2M271 393v6M272 224v4M272 246v2M272 258v2M272 278v2M272 393v3M273 234v2M273 264v2M273 282v2M273 387v3M274 240v2M275 232v4M275 260v2M275 272v2M275 284v2M277 244v2M277 396v3M278 246v2M278 268v2M278 399v3M279 286v2M281 238v2M284 393v3M285 286v2M287 390v3M288 244v2M288 282v2M290 242v2M290 274v4M294 393v3M297 292v2M297 384v3M299 393v3M300 292v2M300 384v3M302 288v2M302 393v3M306 288v2M309 272v2M310 288v2M311 284v2M331 282v4M337 284v2M338 214v2M339 270v2M344 284v2M351 286v2M356 286v2M357 278v2M357 284v4M362 282v2M365 272v2M365 282v2M368 284v2M368 396v3M371 280v2M374 284v2M374 393v3M375 288v2M375 366v3M375 375v3M376 282v4M377 282v2M377 396v3M378 378v3M379 375v3M380 288v2M380 372v3M381 381v3M382 278v4M382 369v3M382 375v3M383 372v3M385 284v2M386 369v3M386 378v3M387 384v6M388 278v2M388 381v6M389 280v2M389 369v3M390 354v3M392 399v3M394 366v3M283 428v6M301 428v6M311 428v6M312 428v6M334 428v6M349 428v6M357 428v6M377 428v6M380 428v6M381 428v6"/>
<path stroke="#00ff97" d="M136 94v10M136 108v4M136 120v4M137 94v10M137 108v4M137 120v4M138 94v10M138 108v4M138 120v4M139 94v10M139 108v4M139 120v4M140 94v10M140 108v4M140 120v4M141 94v10M141 108v4M141 120v4M142 200v2M142 206v2M142 228v2M142 236v2M143 254v2M144 202v2M144 222v2M144 226v2M144 348v3M144 354v3M144 390v3M145 194v4M145 214v2M145 354v3M146 142v2M146 170v2M146 184v1M146 186v2M147 176v2M148 145v1M149 172v2M149 178v2M149 268v2M150 212v2M150 238v2M150 246v2M151 58v6M151 160v4M151 192v4M151 200v2M151 206v4M151 236v2M151 254v2M151 260v2M151 266v2M151 327v3M152 216v2M152 238v2M152 262v2M168 402v3M169 393v3M170 390v3M170 396v3M173 52v6M176 324v9M178 393v3M179 264v2M180 296v2M180 375v3M181 274v2M181 284v2M181 312v3M181 375v6M182 274v2M182 348v3M182 366v3M185 354v3M186 52v6M187 327v3M188 387v3M189 280v2M193 384v3M202 372v3M202 381v3M203 390v3M203 396v3M204 182v1M204 333v3M204 372v3M204 393v3M206 188v2M209 348v6M214 345v3M214 354v3M214 375v3M215 214v2M215 318v3M216 284v2M217 278v2M218 230v2M218 260v2M218 272v2M219 208v2M219 292v2M220 200v2M220 276v2M220 280v2M221 186v2M221 198v2M221 258v2M221 280v2M221 284v2M222 188v2M222 206v2M222 270v2M222 339v3M222 378v3M223 182v1M223 186v4M223 208v2M223 282v2M223 351v3M223 366v3M224 182v1M224 360v3M225 375v3M225 381v3M225 390v3M225 396v3M229 204v2M233 182v1M235 184v1M237 188v2M238 183v1M242 164v2M242 190v2M243 186v2M244 183v1M245 184v1M247 196v2M248 190v2M250 190v4M253 200v2M259 196v2M264 210v2M264 214v2M265 200v2M266 210v2M266 387v6M267 222v6M267 250v2M267 256v2M267 270v4M269 266v2M272 230v2M272 250v2M272 272v2M272 292v2M273 238v4M273 266v2M273 288v2M275 262v2M275 278v2M275 282v2M275 390v3M276 276v2M276 282v2M277 393v3M278 256v2M278 290v2M279 284v2M280 399v3M281 234v4M281 248v2M281 396v3M282 396v3M283 390v3M285 282v2M285 288v2M287 288v2M288 280v2M288 284v2M290 252v2M294 387v3M295 290v2M298 390v3M299 292v2M301 399v3M302 390v3M302 399v3M303 381v6M306 387v3M306 393v3M310 290v2M312 290v2M313 286v2M320 288v2M322 288v2M332 288v2M334 284v2M338 286v2M341 228v2M343 288v2M345 282v2M347 284v2M349 284v4M350 64v6M353 286v2M356 288v2M360 282v2M363 284v2M364 393v3M366 282v2M366 390v3M367 284v2M369 286v2M372 390v3M374 396v3M375 399v3M376 399v3M379 378v3M381 288v2M383 366v3M384 284v2M384 381v3M384 387v3M385 351v3M386 375v3M389 360v3M389 366v3M389 375v3M391 381v3M391 387v3M391 393v3M392 375v3M394 280v2M394 378v3M282 428v6M284 428v6M292 428v6M302 428v6M310 428v6M317 428v6M318 428v6M319 428v6M320 428v6M324 428v6M325 428v6M326 428v6M332 428v6M333 428v6M346 428v6M350 428v6M358 428v6M359 428v6M360 428v6M371 428v6M372 428v6M373 428v6M376 428v6M382 428v6M390 428v6M391 428v6M392 428v6"/>
<path stroke="#00ff8d" d="M142 194v2M142 216v2M142 220v2M142 226v2M142 240v2M142 248v2M142 381v3M143 198v2M143 202v2M143 210v2M143 214v2M143 222v2M143 228v2M143 246v2M143 351v3M144 206v2M144 210v2M144 351v3M144 384v3M145 198v2M145 218v4M145 262v2M145 318v3M145 336v3M145 363v3M146 144v1M147 136v1M147 186v4M148 120v4M148 140v2M149 145v3M149 194v2M149 222v2M149 260v2M150 198v2M150 226v2M150 276v2M151 176v2M151 220v2M151 230v2M151 252v2M151 258v2M151 286v2M151 333v3M151 348v3M151 357v3M152 184v1M152 198v2M152 204v2M152 208v4M152 234v2M152 246v2M152 258v2M152 274v2M152 292v2M152 315v6M155 387v3M158 357v3M158 396v3M163 402v3M169 363v3M169 399v3M170 58v6M170 402v3M171 58v6M171 399v6M172 52v12M176 58v6M177 52v6M178 402v3M182 268v2M182 351v3M183 357v3M185 52v6M186 390v3M186 396v3M187 318v6M187 402v3M188 244v2M190 327v3M190 399v6M194 372v3M196 387v3M202 366v3M202 399v3M203 387v3M204 390v3M206 184v1M206 354v3M210 286v2M211 185v1M211 318v3M212 330v3M214 342v3M214 399v3M215 290v2M218 214v2M218 240v2M218 258v2M218 262v2M219 290v2M219 294v2M220 198v2M220 258v2M221 185v1M221 206v2M221 282v2M222 366v3M223 183v1M223 196v2M223 274v2M223 284v2M223 375v6M224 363v3M225 384v3M226 180v3M227 378v3M229 206v2M229 336v9M232 184v1M235 183v1M238 185v1M239 192v2M240 184v1M242 192v2M248 183v1M253 204v4M261 192v2M263 192v2M264 204v2M266 218v2M266 224v2M266 228v2M267 242v2M267 402v3M268 230v2M268 234v2M269 270v2M269 384v3M269 399v3M270 274v2M270 284v2M271 220v2M271 224v2M271 232v2M272 232v4M272 238v2M272 244v2M272 248v2M272 262v2M273 230v2M273 236v2M274 242v2M274 258v2M275 258v2M275 270v2M276 393v3M278 250v2M278 260v2M278 384v3M280 381v3M281 290v2M281 390v6M283 292v2M284 390v3M284 396v3M286 292v2M286 387v3M287 387v3M289 393v3M290 246v2M291 292v2M292 396v3M293 288v2M295 390v6M301 381v3M304 384v3M305 290v2M306 396v3M316 286v4M318 288v2M322 286v2M324 288v2M330 286v2M330 396v3M332 396v3M335 284v2M337 280v2M339 274v2M341 230v2M350 76v6M353 288v2M367 286v2M368 286v2M368 387v3M368 399v3M369 396v3M370 282v2M372 399v3M375 384v3M377 278v2M378 357v3M380 290v2M380 375v3M380 399v3M386 363v3M386 399v3M387 282v2M387 372v3M387 393v6M390 348v3M391 375v3M392 363v3M393 381v3M291 428v6M300 428v6M313 428v6M316 428v6M321 428v6M323 428v6M327 428v6M329 428v6M331 428v6M335 428v6M337 428v6M338 428v6M341 428v6M343 428v6M344 428v6M345 428v6M351 428v6M355 428v6M356 428v6M365 428v6M366 428v6M367 428v6M370 428v6M374 428v6M375 428v6M378 428v6M379 428v6M383 428v6M387 428v6M388 428v6M389 428v6M393 428v6M394 428v6"/>
<path stroke="#00ff84" d="M142 212v2M142 218v2M142 230v2M143 194v2M143 216v2M143 220v2M143 236v6M143 250v2M144 240v2M144 248v2M144 342v3M145 204v2M145 321v3M145 333v3M145 339v3M145 348v3M145 360v3M146 190v2M147 162v4M147 174v2M147 180v2M147 184v1M147 190v2M149 58v6M149 183v1M149 202v2M149 240v2M149 264v2M150 146v2M150 164v2M150 216v2M150 224v2M150 234v2M150 248v2M150 292v2M150 298v8M151 156v2M151 222v2M151 264v2M151 270v2M151 294v2M151 318v3M151 330v3M151 339v3M151 372v3M152 218v2M152 260v2M152 272v2M152 278v4M152 294v2M153 315v3M155 390v3M161 390v3M163 52v6M163 396v6M169 402v3M176 52v6M178 396v3M181 294v2M181 298v8M185 351v3M190 262v2M193 378v3M193 396v3M197 387v3M198 387v3M199 396v3M200 196v2M204 184v1M204 312v3M204 336v3M204 357v3M204 396v6M206 185v1M210 282v2M213 399v3M214 339v3M214 396v3M215 327v3M217 288v2M220 183v2M220 194v4M220 260v2M220 284v4M221 188v2M221 192v2M221 256v2M221 260v2M222 202v2M222 292v2M222 296v2M222 333v3M223 198v2M223 260v2M223 286v2M223 372v3M224 266v2M224 333v3M224 342v3M225 363v3M226 339v3M227 178v2M227 384v3M229 198v2M229 208v2M230 184v2M231 145v1M241 186v2M242 196v2M243 190v2M245 190v2M251 186v2M253 202v2M256 188v2M262 206v2M263 186v2M264 198v2M265 204v2M265 212v6M267 228v2M267 238v4M267 244v2M267 248v2M268 238v2M268 266v2M269 218v4M269 258v4M269 268v2M270 212v2M270 262v2M270 387v3M271 222v2M271 226v2M271 234v2M271 266v2M272 260v2M272 270v2M272 280v2M272 288v2M272 390v3M273 262v2M274 256v2M275 230v2M275 238v6M275 280v2M275 288v4M277 292v4M277 387v3M278 248v2M278 258v2M278 272v2M278 294v2M279 393v3M280 250v2M280 384v3M280 393v3M281 256v2M281 270v2M282 387v3M283 399v3M287 292v2M288 393v3M289 292v2M290 244v2M294 294v2M296 292v2M298 290v2M299 387v3M303 402v3M304 381v3M306 384v3M313 393v3M319 290v2M323 290v2M324 393v3M325 288v2M327 288v2M329 282v2M333 286v2M337 286v2M339 212v2M354 280v2M355 284v2M356 280v2M356 284v2M361 284v2M364 390v3M364 399v3M365 286v2M366 284v2M368 390v3M369 393v3M369 399v3M374 278v2M376 286v2M376 381v3M377 286v2M378 366v6M378 375v3M381 384v3M382 363v6M382 372v3M387 378v3M388 399v3M390 363v3M391 363v3M391 372v3M392 369v6M393 357v3M393 399v3M394 360v3M273 428v6M289 428v6M290 428v6M293 428v6M296 428v6M303 428v6M309 428v6M315 428v6M322 428v6M328 428v6M330 428v6M336 428v6M340 428v6M342 428v6M352 428v6M353 428v6M354 428v6M364 428v6M368 428v6M384 428v6"/>
<path stroke="#00ff7b" d="M136 137v3M136 158v2M137 137v3M137 158v2M138 137v3M138 158v2M139 137v3M139 158v2M140 137v3M140 158v2M141 137v3M141 158v2M142 196v2M142 222v2M142 387v3M142 399v3M143 242v2M144 230v2M144 242v2M144 327v3M144 336v3M144 378v3M145 58v6M145 212v2M145 330v3M146 146v2M146 152v2M146 168v2M146 182v1M147 144v1M149 150v2M149 164v2M149 174v2M149 184v1M149 206v2M149 210v4M149 216v2M149 226v2M150 200v2M150 240v2M151 154v2M151 164v2M151 188v2M151 196v2M151 240v2M151 272v2M151 282v2M151 342v3M151 366v6M151 387v3M164 52v6M178 345v3M179 52v6M183 52v6M184 52v6M188 52v6M190 330v3M190 393v3M193 399v3M194 186v2M196 393v3M196 399v3M199 402v3M204 327v3M209 354v3M210 290v2M210 381v3M211 298v8M211 315v3M211 321v3M211 330v3M214 348v3M214 357v3M214 366v3M214 387v3M215 330v3M215 345v3M215 402v3M218 212v2M219 296v2M220 274v2M221 254v2M222 264v2M222 348v3M223 254v2M223 384v3M223 393v3M224 194v2M224 339v3M225 387v3M228 185v1M228 192v2M228 339v3M229 196v2M230 180v2M233 186v2M235 186v2M240 190v2M243 188v2M247 198v2M249 184v1M251 190v2M253 210v2M254 192v2M260 222v2M262 202v2M262 220v2M267 246v2M267 254v2M267 381v3M268 228v2M268 268v2M268 384v3M269 250v2M269 284v2M270 264v2M270 276v2M270 280v2M270 286v2M271 236v2M272 236v2M272 276v2M272 282v2M273 272v2M273 294v2M273 384v3M274 254v2M274 260v2M275 292v2M277 290v2M277 390v3M278 252v2M278 274v4M278 292v2M281 387v3M288 290v2M291 402v3M294 272v2M296 381v3M297 378v3M299 390v3M299 399v3M300 294v2M302 290v2M304 399v3M306 390v3M310 384v3M310 393v3M313 396v3M314 288v2M318 290v2M318 396v3M323 396v3M326 288v2M329 284v2M331 390v3M339 278v2M339 286v2M341 284v2M348 288v2M351 278v4M352 286v2M360 284v2M368 366v3M369 288v2M371 393v3M373 278v2M378 354v3M379 288v2M379 402v3M380 369v3M381 378v3M382 360v3M383 363v3M384 378v3M385 402v3M391 378v3M392 280v2M392 402v3M393 360v3M393 372v3M280 428v6M281 428v6M285 428v6M287 428v6M288 428v6M295 428v6M297 428v6M298 428v6M299 428v6M304 428v6M305 428v6M306 428v6M307 428v6M308 428v6M314 428v6M339 428v6M361 428v6M369 428v6M385 428v6M386 428v6M331 434v11M394 434v11"/>
<path stroke="#00ff72" d="M136 140v4M136 156v2M136 160v2M136 402v3M137 140v4M137 156v2M137 160v2M137 402v3M138 140v4M138 156v2M138 160v2M138 402v3M139 140v4M139 156v2M139 160v2M139 402v3M140 140v4M140 156v2M140 160v2M140 402v3M141 140v4M141 156v2M141 160v2M141 402v3M144 198v2M144 220v2M144 246v2M144 318v3M144 369v3M145 206v2M145 260v2M145 315v3M145 351v3M145 357v3M146 160v2M146 176v2M147 160v2M147 182v2M149 148v2M149 198v4M149 228v4M149 246v2M149 254v2M150 162v2M150 170v2M150 210v2M150 290v2M151 216v2M151 244v2M151 284v2M151 290v2M151 298v8M151 345v3M151 360v6M151 402v3M152 252v4M158 399v3M161 396v3M175 52v6M178 58v6M179 296v2M186 290v2M190 387v3M190 396v3M199 393v3M203 393v3M204 186v2M204 354v3M206 190v2M209 198v2M211 312v3M211 336v3M211 399v3M213 390v3M214 369v3M214 378v6M215 336v3M215 348v3M216 288v2M217 284v2M217 294v2M218 196v2M218 284v2M220 190v4M220 206v2M220 282v2M220 288v2M221 184v1M221 194v2M221 286v2M221 375v3M222 204v2M222 210v2M222 345v3M222 375v3M223 369v3M224 183v1M224 212v2M224 270v2M224 274v2M224 399v3M225 180v3M225 272v2M225 372v3M227 208v2M227 342v6M228 190v2M228 336v3M229 190v2M229 333v3M229 357v3M232 186v2M238 188v2M240 188v2M244 186v2M246 188v2M247 200v2M249 188v2M252 194v2M252 206v2M252 216v2M253 196v2M253 208v2M256 194v2M259 208v2M263 188v2M267 278v2M268 262v2M268 290v2M268 294v2M269 254v2M269 274v2M269 381v3M270 272v2M270 278v2M271 228v2M271 264v2M271 270v2M271 280v2M271 390v3M272 286v2M273 280v2M273 284v2M273 292v2M274 390v3M275 248v2M275 252v6M276 290v2M279 290v2M279 396v3M280 292v4M280 390v3M281 272v2M283 387v3M284 296v2M286 294v2M286 399v3M287 399v3M288 286v2M288 396v3M290 278v2M292 294v2M292 393v3M294 399v3M295 292v2M296 402v3M298 399v3M302 384v3M306 292v2M307 288v2M307 396v3M311 290v2M312 396v6M314 290v2M314 393v3M317 396v3M318 387v3M320 290v2M323 393v3M323 399v3M324 396v3M327 286v2M331 286v2M336 288v2M336 396v3M337 282v2M339 363v3M350 284v2M351 282v2M354 278v2M356 396v3M361 286v2M364 378v3M365 284v2M368 402v3M369 390v3M370 284v4M371 378v3M371 387v3M371 396v3M374 390v3M375 363v3M375 372v3M376 369v3M376 375v3M378 288v2M379 369v6M381 366v3M381 399v3M383 282v2M386 366v3M386 372v3M388 375v6M389 354v6M389 399v3M390 351v3M393 363v3M393 369v3M274 428v6M286 428v6M294 428v6M362 428v6M363 428v6M330 434v11M332 434v11"/>
<path stroke="#00ff69" d="M136 144v8M136 162v2M136 168v2M136 210v2M136 262v2M136 399v3M137 144v8M137 162v2M137 168v2M137 210v2M137 262v2M137 399v3M138 144v8M138 162v2M138 168v2M138 210v2M138 262v2M138 399v3M139 144v8M139 162v2M139 168v2M139 210v2M139 262v2M139 399v3M140 144v8M140 162v2M140 168v2M140 210v2M140 262v2M140 399v3M141 144v8M141 162v2M141 168v2M141 210v2M141 262v2M141 399v3M142 393v3M143 196v2M143 244v2M144 52v6M144 212v2M144 234v2M144 250v2M145 264v2M145 268v2M145 345v3M146 145v1M146 148v4M146 156v2M146 183v1M147 150v2M149 154v2M149 160v2M149 176v2M149 204v2M149 218v2M149 236v4M149 252v2M149 274v2M150 150v6M150 158v2M150 174v2M150 194v2M150 208v2M150 236v2M150 244v2M150 252v2M150 294v2M151 185v3M151 234v2M151 278v2M151 354v3M152 214v2M152 276v2M152 282v2M158 393v3M163 384v3M163 390v6M167 58v6M168 52v6M180 58v6M180 393v3M181 52v6M190 52v6M191 384v3M191 390v3M193 393v3M197 188v2M200 190v4M204 190v2M204 342v6M204 402v3M211 324v3M213 393v3M214 360v6M214 390v3M215 393v3M215 399v3M216 290v2M217 286v2M218 200v4M218 282v2M219 210v2M219 298v8M220 202v2M220 252v2M220 292v2M221 208v2M221 218v2M221 252v2M222 266v2M222 294v2M222 298v8M222 330v3M222 369v3M222 381v3M223 202v2M224 190v2M224 204v4M224 260v2M224 272v2M225 268v2M225 274v2M227 182v1M227 192v2M227 336v3M227 360v3M227 366v3M227 387v3M228 363v6M229 183v1M229 345v6M229 354v3M232 183v1M233 184v1M236 192v2M237 190v4M245 192v2M247 202v2M248 196v2M249 192v2M251 192v2M253 198v2M253 212v2M253 216v4M256 190v2M257 194v2M258 226v2M261 194v2M262 208v4M263 220v2M263 236v2M264 208v2M264 212v2M264 220v2M265 218v2M266 266v2M266 399v3M267 280v2M267 378v3M268 222v2M268 232v2M268 236v2M268 240v2M268 258v2M268 264v2M268 270v2M268 274v2M269 248v2M269 252v2M270 208v2M270 214v2M270 266v2M270 282v2M271 240v2M271 262v2M272 274v2M273 248v2M273 258v2M273 276v2M273 290v2M274 262v4M275 236v2M275 244v2M275 250v2M276 387v6M277 399v3M278 270v2M278 296v2M279 390v3M282 390v3M284 384v3M285 396v3M287 384v3M289 294v2M289 390v3M290 280v2M290 396v3M291 384v3M292 292v2M293 290v2M293 393v3M294 384v3M297 381v3M297 399v3M298 387v3M301 292v2M303 292v2M305 292v2M306 381v3M308 288v2M309 393v3M310 396v3M312 387v6M314 292v2M314 390v3M315 284v2M321 288v2M328 286v2M329 286v2M330 290v2M331 393v3M331 399v3M334 286v2M334 396v3M335 393v3M337 393v3M349 288v2M350 286v2M352 284v2M355 282v2M356 282v2M356 290v2M356 399v3M359 290v2M361 384v6M364 375v3M364 381v3M366 396v3M367 288v2M368 384v3M371 282v2M372 286v2M375 290v2M375 360v3M376 372v3M376 378v3M377 280v2M377 381v3M378 351v3M378 360v3M378 402v3M383 360v3M384 282v2M384 399v3M385 345v3M386 280v2M390 345v3M391 360v3M391 384v3M392 360v3M394 339v6M275 428v6M276 428v6M365 434v11M393 434v11"/>
<path stroke="#00ff5f" d="M136 154v2M136 164v4M136 170v10M136 198v4M136 204v2M136 208v2M136 252v4M136 264v4M136 280v8M137 154v2M137 164v4M137 170v10M137 198v4M137 204v2M137 208v2M137 252v4M137 264v4M137 280v8M138 154v2M138 164v4M138 170v10M138 198v4M138 204v2M138 208v2M138 252v4M138 264v4M138 280v8M139 154v2M139 164v4M139 170v10M139 198v4M139 204v2M139 208v2M139 252v4M139 264v4M139 280v8M140 154v2M140 164v4M140 170v10M140 198v4M140 204v2M140 208v2M140 252v4M140 264v4M140 280v8M141 154v2M141 164v4M141 170v10M141 198v4M141 204v2M141 208v2M141 252v4M141 264v4M141 280v8M142 52v6M142 396v3M144 232v2M144 238v2M144 357v3M144 363v3M144 372v3M145 202v2M145 216v2M145 366v3M146 158v2M146 192v2M147 154v2M147 172v2M149 162v2M149 208v2M149 220v2M149 224v2M149 242v2M149 256v2M149 262v2M150 168v2M150 190v2M150 206v2M150 222v2M150 228v2M150 250v2M150 268v4M150 296v2M151 183v1M151 228v2M151 246v2M151 274v4M151 292v2M151 393v9M152 256v2M152 375v3M166 52v6M186 294v2M191 387v3M193 381v3M204 351v3M206 183v1M209 192v2M209 196v2M210 288v2M211 327v3M211 333v3M211 390v3M211 396v3M213 396v3M214 351v3M215 354v3M216 324v3M217 290v4M218 198v2M218 210v2M218 218v2M218 228v2M218 274v2M220 250v2M221 183v1M221 202v2M221 210v2M222 212v2M222 312v3M223 200v2M223 204v2M223 290v2M224 276v2M224 390v3M226 336v3M226 342v3M227 190v2M227 351v6M227 369v6M227 381v3M227 390v3M227 402v3M228 194v2M228 351v3M228 360v3M228 369v3M229 192v2M229 351v3M229 360v3M232 185v1M233 188v2M241 188v2M241 192v2M242 224v2M242 228v2M244 184v1M248 194v2M251 188v2M252 196v2M252 204v2M253 214v2M253 228v2M254 208v2M259 198v4M259 204v2M262 214v2M263 196v2M263 200v2M264 206v2M264 236v2M268 248v2M268 284v2M268 381v3M268 390v3M268 399v3M269 234v2M269 378v3M270 210v2M270 218v6M270 260v2M271 250v2M271 284v2M272 252v2M272 387v3M273 244v2M273 250v4M273 402v3M274 387v3M275 246v2M275 264v2M276 292v2M276 384v3M276 399v3M277 296v2M280 378v3M282 399v3M283 294v2M284 387v3M286 296v2M288 292v2M288 390v3M294 390v3M295 399v3M298 384v3M299 294v2M299 381v3M300 381v3M302 381v3M303 378v3M305 381v3M305 393v6M309 288v2M311 396v3M313 288v2M314 375v3M314 396v3M315 286v2M317 393v3M318 292v2M318 366v3M319 292v2M320 292v2M321 393v6M324 290v4M325 290v2M330 288v2M330 393v3M331 288v2M336 393v3M344 286v4M355 286v2M360 286v2M361 381v3M361 390v3M362 286v2M366 286v4M368 288v4M368 378v3M369 387v3M373 280v2M374 384v6M377 369v3M378 292v2M380 402v3M381 290v2M381 363v3M381 375v3M383 286v2M383 402v3M384 363v3M384 375v3M385 342v3M387 369v3M388 369v3M391 390v3M391 396v3M393 348v3M393 366v3M394 335v1M394 345v3M394 399v3M272 428v6M279 428v6M306 434v11M313 434v11M314 434v11M316 434v11M317 434v11M339 434v11M364 434v11M374 434v11M387 434v11M392 434v11"/>
<path stroke="#00ff56" d="M136 152v2M136 180v2M136 188v2M136 194v4M136 202v2M136 206v2M136 220v2M136 224v2M136 256v2M136 260v2M136 268v2M137 152v2M137 180v2M137 188v2M137 194v4M137 202v2M137 206v2M137 220v2M137 224v2M137 256v2M137 260v2M137 268v2M138 152v2M138 180v2M138 188v2M138 194v4M138 202v2M138 206v2M138 220v2M138 224v2M138 256v2M138 260v2M138 268v2M139 152v2M139 180v2M139 188v2M139 194v4M139 202v2M139 206v2M139 220v2M139 224v2M139 256v2M139 260v2M139 268v2M140 152v2M140 180v2M140 188v2M140 194v4M140 202v2M140 206v2M140 220v2M140 224v2M140 256v2M140 260v2M140 268v2M141 152v2M141 180v2M141 188v2M141 194v4M141 202v2M141 206v2M141 220v2M141 224v2M141 256v2M141 260v2M141 268v2M143 252v2M144 224v2M144 236v2M144 315v3M146 154v2M146 162v2M147 145v1M148 142v2M149 158v2M149 166v4M149 180v2M149 214v2M149 234v2M149 248v4M149 266v2M149 270v4M149 280v2M150 156v2M150 176v2M150 218v2M150 264v2M151 315v3M151 321v3M151 381v6M155 396v3M155 402v3M158 402v3M161 402v3M163 387v3M165 52v6M166 402v3M170 52v6M171 52v6M182 270v2M185 348v3M186 292v2M209 194v2M211 378v3M211 393v3M211 402v3M216 286v2M216 321v3M217 296v2M218 204v2M218 208v2M218 290v2M220 188v2M220 294v2M220 298v8M221 190v2M221 204v2M221 212v4M221 288v2M221 366v3M222 208v2M222 214v2M222 262v2M222 342v3M222 372v3M223 238v2M223 258v2M223 381v3M223 399v6M224 186v4M224 196v2M224 202v2M224 262v2M224 296v2M225 184v1M225 186v4M226 185v1M226 384v3M227 186v2M227 204v2M227 333v3M227 339v3M227 348v3M227 363v3M227 375v3M228 186v2M228 375v3M229 200v2M229 210v2M229 218v2M229 226v2M229 252v2M229 363v3M232 188v2M234 192v4M235 190v2M240 192v4M242 218v2M248 198v2M250 194v2M252 202v2M253 244v2M255 192v2M258 198v2M259 202v2M259 206v2M260 200v2M260 214v2M261 234v2M262 204v2M262 230v2M263 214v2M263 222v2M263 238v2M263 242v2M264 216v4M264 228v2M264 234v2M265 226v2M266 226v2M266 230v2M267 274v2M268 250v2M268 276v2M268 286v4M269 280v2M270 268v2M270 292v2M270 399v3M271 272v4M271 278v2M272 254v4M272 294v2M273 254v4M273 296v2M273 378v3M274 270v2M274 384v3M278 381v3M279 294v2M280 296v2M280 375v3M281 268v2M283 296v2M283 384v3M284 375v3M285 393v3M286 384v3M290 248v2M290 292v2M292 390v3M293 387v3M294 381v3M295 387v3M297 372v3M301 378v3M304 378v3M305 390v3M308 290v2M309 381v3M310 294v2M310 378v3M313 290v2M313 369v3M313 378v6M317 288v2M317 357v3M318 390v6M324 399v3M325 393v3M327 396v3M328 288v2M330 390v3M331 378v3M331 384v6M335 286v2M335 396v3M336 286v2M337 396v3M342 282v4M342 378v3M353 381v3M353 396v3M364 286v2M364 384v3M367 290v2M371 366v3M371 372v6M371 390v3M379 290v2M379 363v3M380 292v2M380 366v3M382 357v3M382 402v3M384 366v3M385 339v3M386 360v3M387 366v3M388 372v3M389 282v2M390 280v2M390 402v3M393 351v3M394 348v6M277 428v6M278 428v6M278 434v11M288 434v11M305 434v11M307 434v11M315 434v11M333 434v11M340 434v11M343 434v11M346 434v11M347 434v11M350 434v11M360 434v11M361 434v11M366 434v11M367 434v11M371 434v11M373 434v11M378 434v11M379 434v11M388 434v11M389 434v11M390 434v11"/>
<path stroke="#00ff4d" d="M136 70v6M136 190v4M136 218v2M136 222v2M136 232v8M136 242v4M136 250v2M136 258v2M136 270v10M136 288v2M136 296v10M137 70v6M137 190v4M137 218v2M137 222v2M137 232v8M137 242v4M137 250v2M137 258v2M137 270v10M137 288v2M137 296v10M138 70v6M138 190v4M138 218v2M138 222v2M138 232v8M138 242v4M138 250v2M138 258v2M138 270v10M138 288v2M138 296v10M139 70v6M139 190v4M139 218v2M139 222v2M139 232v8M139 242v4M139 250v2M139 258v2M139 270v10M139 288v2M139 296v10M140 70v6M140 190v4M140 218v2M140 222v2M140 232v8M140 242v4M140 250v2M140 258v2M140 270v10M140 288v2M140 296v10M141 70v6M141 190v4M141 218v2M141 222v2M141 232v8M141 242v4M141 250v2M141 258v2M141 270v10M141 288v2M141 296v10M144 252v2M144 366v3M144 375v3M144 381v3M145 208v2M145 222v2M146 196v2M146 260v2M148 188v2M149 152v2M149 244v2M149 258v2M150 172v2M150 192v2M150 242v2M150 272v2M150 280v4M151 296v2M151 375v3M151 390v3M152 378v3M152 390v3M155 393v3M169 52v6M193 402v3M206 186v2M211 384v6M215 360v6M215 387v3M216 292v2M216 312v3M218 220v2M218 292v4M220 210v2M220 214v2M220 238v2M220 242v2M220 296v2M221 200v2M221 292v2M221 298v8M221 336v3M221 378v3M222 384v3M223 288v2M223 292v2M223 336v3M224 198v2M225 185v1M225 190v2M225 204v2M225 264v4M225 270v2M225 282v2M226 188v2M227 399v3M228 348v3M228 372v3M229 212v2M230 183v1M230 186v2M231 144v1M231 146v2M233 190v2M236 190v2M242 204v2M242 214v2M243 192v4M246 190v2M248 202v2M248 348v3M249 190v2M250 200v4M252 212v4M253 220v2M253 230v2M254 194v2M255 196v2M256 196v2M256 208v2M256 220v2M257 190v4M258 206v2M258 222v2M259 226v2M260 202v2M260 206v2M261 196v2M262 200v2M262 212v2M262 216v2M263 208v2M263 224v2M263 232v4M263 250v2M264 222v2M264 230v4M265 206v2M266 232v4M266 264v2M266 384v3M267 276v2M267 282v2M268 226v2M268 252v2M268 256v2M268 260v2M268 272v2M268 282v2M269 232v2M269 294v2M270 228v2M270 252v4M270 290v2M270 384v3M271 248v2M271 258v2M272 290v2M272 399v3M273 274v2M274 272v4M275 296v2M277 384v3M278 402v3M279 292v2M279 387v3M281 292v2M281 399v3M284 381v3M285 390v3M288 294v2M289 381v3M290 250v2M291 381v3M293 396v3M294 296v2M295 381v3M300 396v3M301 294v2M301 402v3M303 294v2M304 292v2M305 357v3M305 387v3M307 390v3M310 292v2M310 381v3M310 387v3M312 292v4M312 372v3M312 378v3M313 292v2M313 390v3M314 381v3M315 288v2M318 363v3M323 292v2M324 387v6M328 396v3M330 378v3M331 375v3M332 393v3M334 288v2M337 399v3M338 288v2M339 276v2M339 288v2M339 360v3M339 372v3M343 357v3M353 372v3M356 393v3M357 288v2M361 372v3M362 284v2M363 286v2M364 387v3M368 372v6M368 381v3M369 384v3M371 286v2M372 387v3M372 402v3M374 378v3M374 399v3M376 363v6M377 366v3M377 372v6M377 399v3M379 366v3M380 357v9M381 369v6M382 282v2M382 351v3M383 288v2M383 357v3M385 315v3M385 324v3M385 330v3M386 351v9M387 363v3M387 375v3M388 366v3M389 348v3M391 357v3M392 351v3M392 357v3M219 428v6M277 434v11M287 434v11M289 434v11M292 434v11M296 434v11M297 434v11M309 434v11M310 434v11M311 434v11M322 434v11M329 434v11M334 434v11M335 434v11M338 434v11M348 434v11M349 434v11M351 434v11M359 434v11M370 434v11M372 434v11M375 434v11M380 434v11M381 434v11M385 434v11M386 434v11M391 434v11"/>
<path stroke="#00ff44" d="M136 240v2M136 246v4M136 294v2M137 240v2M137 246v4M137 294v2M138 240v2M138 246v4M138 294v2M139 240v2M139 246v4M139 294v2M140 240v2M140 246v4M140 294v2M141 240v2M141 246v4M141 294v2M142 402v3M143 58v6M143 248v2M144 312v3M145 52v6M145 226v4M145 369v3M146 194v2M146 198v2M146 204v2M147 152v2M147 158v2M147 185v1M147 298v8M148 144v1M148 146v2M149 170v2M149 182v1M149 232v2M149 282v2M150 204v2M150 312v3M150 327v6M152 384v3M167 52v6M172 381v3M182 272v2M190 390v3M204 188v2M211 342v3M211 351v3M215 396v3M216 294v4M216 318v3M218 206v2M218 286v2M220 204v2M220 232v2M220 240v2M221 234v2M221 242v2M221 246v4M221 290v2M221 357v3M221 396v3M222 315v3M222 321v3M223 234v2M223 252v2M223 256v2M223 390v3M224 184v1M224 192v2M224 200v2M224 280v2M225 192v4M225 262v2M225 284v2M225 327v3M226 183v1M226 333v3M226 345v3M226 351v3M226 360v3M227 180v2M227 196v2M227 357v3M227 393v3M228 188v2M228 333v3M228 345v3M228 357v3M229 222v2M229 228v2M229 240v2M229 366v3M230 192v2M231 140v2M231 148v2M232 194v2M236 194v4M237 194v2M238 190v4M242 200v2M242 216v2M242 234v2M245 194v2M245 200v2M246 315v3M247 206v2M248 342v3M251 236v2M252 198v2M252 208v2M253 222v2M253 234v2M255 216v2M258 196v2M258 212v2M258 218v2M258 224v2M259 228v2M260 198v2M260 210v4M260 226v2M261 248v2M262 198v2M262 222v2M263 198v2M263 244v2M264 226v2M264 238v2M265 202v2M265 220v2M266 238v2M266 268v2M266 290v2M267 292v2M268 242v4M268 278v2M269 222v2M269 238v2M269 276v2M269 286v6M269 375v3M269 402v3M270 224v2M270 234v2M271 256v2M271 260v2M271 268v2M271 292v2M271 387v3M273 260v2M273 278v2M275 399v3M276 294v2M277 381v3M280 402v3M282 292v2M286 298v8M287 294v2M288 399v3M290 399v3M291 294v2M293 384v3M295 384v3M296 378v3M297 294v2M298 294v2M299 378v3M304 294v2M304 363v3M306 375v3M306 399v3M308 396v6M309 390v3M309 396v3M310 369v9M311 292v2M311 390v6M312 381v3M313 387v3M313 399v3M314 378v3M314 387v3M314 399v3M317 390v3M318 375v3M321 369v3M321 399v3M322 290v4M324 378v3M324 402v3M326 393v3M327 399v3M329 288v2M330 369v3M331 290v2M331 381v3M332 292v2M332 390v3M335 354v3M337 390v3M343 360v3M343 390v3M349 290v2M351 396v3M354 284v2M356 390v3M359 292v2M360 393v3M361 378v3M363 393v3M364 288v2M364 351v3M364 357v3M364 369v3M365 288v2M365 396v3M366 378v3M366 384v3M368 354v3M370 288v2M371 369v3M371 399v3M372 381v6M373 390v9M374 280v2M374 381v3M375 348v3M375 357v3M378 345v6M382 286v2M382 354v3M383 354v3M384 288v2M384 360v3M384 372v3M385 288v2M385 318v3M385 348v3M386 282v2M387 284v2M387 354v6M388 280v2M388 357v3M389 351v3M393 342v3M393 354v3M394 282v2M137 428v6M158 428v6M281 434v11M290 434v11M291 434v11M293 434v11M294 434v11M295 434v11M298 434v11M299 434v11M300 434v11M303 434v11M304 434v11M308 434v11M312 434v11M318 434v11M321 434v11M323 434v11M325 434v11M336 434v11M337 434v11M342 434v11M344 434v11M345 434v11M362 434v11M363 434v11M368 434v11M377 434v11"/>
<path stroke="#00ff3a" d="M136 290v4M137 290v4M138 290v4M139 290v4M140 290v4M141 290v4M145 256v2M146 208v4M147 156v2M148 168v2M148 190v2M149 278v2M149 286v2M150 220v2M150 266v2M150 278v2M150 333v3M150 339v6M151 312v3M152 264v2M152 381v3M152 387v3M155 399v3M172 384v3M190 384v3M196 402v3M211 339v3M211 345v6M215 357v3M215 390v3M216 298v8M216 315v3M217 298v8M218 280v2M219 312v3M220 212v2M220 224v2M220 244v2M220 248v2M221 230v4M221 339v3M221 363v3M221 390v3M222 218v2M222 260v2M222 327v3M223 246v2M223 339v3M223 387v3M223 396v3M224 210v2M224 216v4M224 292v2M224 330v3M225 258v2M225 280v2M225 286v4M225 330v3M226 354v3M227 194v2M227 206v2M228 198v2M228 342v3M228 384v3M229 214v2M229 258v2M229 266v2M229 369v9M229 384v3M230 188v2M232 192v2M233 192v2M240 212v2M241 190v2M242 198v2M242 206v6M242 220v2M246 192v2M248 204v2M248 294v2M249 194v4M250 196v4M251 224v2M252 210v2M252 218v2M252 222v2M253 224v2M253 248v4M254 200v2M254 220v2M254 224v2M256 200v2M256 204v2M257 198v2M258 214v4M258 220v2M258 230v2M259 212v2M259 220v2M260 230v2M260 250v2M261 198v4M261 212v2M261 222v2M261 230v2M262 240v2M263 218v2M263 228v4M263 240v2M263 246v2M265 208v2M265 242v2M266 236v2M266 242v2M266 270v2M266 286v2M267 372v6M268 254v2M268 280v2M268 296v2M268 378v3M269 256v2M269 282v2M270 226v2M270 230v2M270 236v2M270 240v2M270 258v2M270 288v2M271 244v2M271 276v2M271 399v3M273 270v2M274 278v2M275 294v2M275 387v3M276 296v2M278 378v3M279 384v3M281 294v2M282 290v2M282 381v3M287 381v3M290 290v2M290 387v3M290 393v3M293 390v3M294 372v3M296 294v2M297 402v3M298 292v2M298 402v3M300 378v3M301 372v3M302 292v2M304 375v3M305 384v3M307 292v2M307 384v3M309 378v3M309 384v3M310 390v3M311 399v3M312 384v3M312 402v3M313 375v3M317 290v2M318 354v3M318 369v3M318 384v3M318 399v3M321 360v3M321 378v3M321 390v3M323 390v3M323 402v3M325 396v3M327 390v6M328 290v2M330 292v2M330 357v3M330 375v3M330 399v3M332 290v2M332 399v3M334 357v3M334 399v3M336 290v2M336 390v3M337 369v3M337 381v3M339 357v3M339 366v3M340 396v3M341 286v4M342 390v3M342 396v3M343 290v2M343 393v3M347 288v2M349 396v3M353 357v3M353 390v6M356 384v3M357 366v3M358 396v3M359 357v3M360 288v2M361 288v2M366 381v3M369 366v3M371 381v6M372 378v3M374 282v2M374 286v2M376 360v3M376 402v3M377 288v2M377 360v6M381 292v2M382 348v3M383 284v2M383 351v3M384 369v3M385 286v2M385 290v2M385 294v2M385 312v3M387 360v3M392 354v3M393 282v2M220 428v6M286 434v11M324 434v11M326 434v11M341 434v11M354 434v11M355 434v11M356 434v11M357 434v11M358 434v11M369 434v11M382 434v11M287 445v10"/>
<path stroke="#00ff31" d="M136 186v2M137 186v2M138 186v2M139 186v2M140 186v2M141 186v2M145 224v2M145 254v2M145 258v2M145 378v6M146 188v2M146 202v2M146 212v2M146 222v2M146 254v2M147 146v4M149 156v2M149 276v2M149 290v4M150 196v2M150 256v2M150 288v2M150 315v6M151 378v3M182 52v6M193 387v3M204 348v3M215 369v3M217 324v3M218 298v8M220 246v2M220 256v2M220 290v2M220 312v6M220 327v3M221 216v2M221 220v2M221 240v2M221 244v2M221 333v3M221 372v3M222 220v2M222 236v2M222 254v2M222 318v3M222 387v3M223 236v2M223 248v2M224 208v2M224 220v4M224 236v2M224 246v2M224 256v2M224 286v2M224 298v8M224 312v3M224 393v3M225 206v2M225 210v2M225 240v2M225 256v2M225 260v2M225 294v2M225 324v3M226 357v3M226 378v3M227 188v2M227 198v2M228 184v1M228 210v2M228 387v3M229 220v2M229 260v2M230 194v2M231 142v2M231 196v2M232 190v2M233 194v2M233 218v2M235 188v2M240 196v2M242 226v2M244 188v2M245 196v2M247 204v2M247 208v2M247 232v2M247 351v3M248 206v2M248 288v2M248 298v8M248 333v3M250 206v2M251 194v2M251 202v2M251 214v2M253 321v3M254 218v2M255 220v2M256 224v2M257 222v4M258 246v2M259 216v2M259 222v4M260 204v2M260 208v2M260 216v2M260 342v3M261 202v2M261 208v2M261 224v2M261 246v2M262 224v4M262 236v2M262 242v4M263 190v2M263 202v2M263 216v2M264 294v2M265 222v2M266 240v2M266 284v2M267 284v4M268 224v2M268 402v3M269 278v2M269 292v2M270 246v2M270 256v2M271 238v2M271 242v2M271 288v2M271 296v2M273 246v2M273 298v8M273 381v3M274 381v3M275 384v3M276 381v3M282 384v3M283 381v3M284 372v3M285 387v3M286 402v3M287 378v3M288 288v2M288 387v3M289 387v3M289 396v3M292 381v9M296 296v2M297 296v2M297 369v3M297 375v3M298 381v3M299 296v2M300 296v2M303 375v3M304 357v3M304 372v3M306 378v3M309 290v2M309 387v3M309 399v3M310 399v3M311 387v3M313 366v3M313 372v3M313 384v3M314 357v3M314 366v3M314 372v3M315 292v2M316 393v3M317 366v3M317 372v3M318 357v3M318 372v3M318 378v3M319 393v3M320 393v3M321 363v3M321 372v3M321 387v3M324 381v3M327 290v2M329 290v2M330 366v3M330 372v3M330 387v3M331 372v3M331 396v3M332 294v2M335 288v2M335 378v3M335 387v3M337 366v3M337 375v3M339 354v3M339 369v3M339 396v3M342 372v3M342 381v3M342 393v3M343 366v3M343 381v3M343 396v3M346 286v2M346 366v3M347 290v2M348 290v2M348 399v3M350 360v3M350 378v3M351 288v2M351 393v3M352 390v6M353 369v3M353 399v3M354 282v2M356 387v3M357 290v2M358 393v3M359 354v3M361 357v3M361 363v3M361 396v6M363 390v3M364 366v3M364 372v3M366 375v3M366 387v3M366 399v3M368 357v3M368 369v3M369 402v3M370 399v3M371 360v3M372 369v3M374 288v2M374 375v3M375 351v3M375 402v3M376 288v2M376 357v3M379 360v3M380 351v3M381 360v3M384 357v3M385 327v3M386 348v3M388 282v2M388 345v3M390 282v2M392 348v3M394 336v3M136 428v6M138 428v6M143 428v6M157 428v6M159 428v6M168 428v6M177 428v6M178 428v6M179 428v6M187 428v6M188 428v6M192 428v6M193 428v6M203 428v6M208 428v6M275 434v11M282 434v11M283 434v11M285 434v11M320 434v11M352 434v11M376 434v11M384 434v11M286 445v10M311 445v10M333 445v10M349 445v10"/>
<path stroke="#00ff28" d="M144 333v3M144 360v3M145 230v2M145 244v2M145 372v3M146 58v6M146 218v2M149 284v2M149 288v2M149 296v10M150 284v2M150 321v3M150 354v3M174 52v6M178 52v6M211 360v6M215 372v6M216 327v3M218 224v4M220 218v2M220 222v2M220 230v2M220 321v3M221 294v2M221 312v3M221 318v3M221 327v3M221 354v3M221 360v3M221 381v3M222 216v2M222 228v4M223 210v2M223 240v2M223 250v2M223 296v2M223 342v3M224 284v2M224 288v2M224 396v3M225 254v2M225 276v4M226 363v3M226 381v3M227 396v3M228 183v1M228 196v2M228 200v2M228 354v3M229 216v2M229 268v2M229 378v3M229 387v3M231 160v2M232 224v2M237 200v2M239 194v2M242 212v2M242 230v4M246 196v2M247 294v2M247 345v3M248 200v2M248 208v4M248 222v2M248 286v2M250 204v2M250 226v2M252 200v2M254 198v2M254 206v2M255 194v2M255 200v2M255 208v2M255 236v4M255 244v2M256 198v2M256 212v6M256 226v2M257 226v2M258 204v2M259 232v2M259 238v4M260 224v2M260 228v2M260 234v2M260 238v4M261 214v2M261 240v4M262 218v2M262 238v2M262 248v2M263 210v2M263 248v2M263 296v2M263 345v6M263 357v3M264 224v2M264 298v8M265 224v2M265 236v2M266 250v2M266 272v2M267 354v3M268 246v2M268 292v2M270 232v2M270 296v2M271 252v2M271 282v2M274 280v2M274 399v3M275 381v3M277 375v3M280 298v8M280 369v6M284 378v3M285 290v4M290 384v3M290 390v3M292 296v2M292 399v3M293 378v3M294 298v8M297 360v3M299 402v3M300 360v3M301 375v3M302 294v4M302 402v3M306 294v4M307 381v3M307 387v3M307 393v3M308 393v3M312 296v2M312 357v3M314 294v4M314 363v3M314 384v3M315 290v2M317 360v3M317 378v3M317 399v3M318 294v2M318 381v3M319 396v3M320 399v3M321 366v3M322 360v3M324 363v3M324 384v3M326 290v2M330 363v3M331 366v3M331 402v3M332 366v3M333 290v6M333 393v6M335 357v3M335 366v3M335 390v3M337 378v3M339 378v3M340 288v4M341 290v2M343 369v6M348 390v6M350 393v3M351 381v3M352 369v3M352 381v3M352 396v3M353 351v3M353 378v3M354 286v2M356 402v3M357 360v3M358 288v2M358 387v6M359 348v3M360 396v3M363 402v3M364 348v3M364 363v3M364 402v3M366 290v2M366 402v3M367 292v2M368 348v6M368 360v3M369 363v3M369 369v3M371 363v3M373 384v3M374 372v3M375 292v2M375 354v3M378 290v2M378 363v3M381 348v3M381 354v3M382 330v3M382 345v3M383 348v3M384 286v2M385 296v10M385 321v3M387 321v3M387 330v3M387 336v3M388 354v3M388 360v3M389 345v3M390 339v6M391 280v2M391 348v3M393 339v3M393 345v3M394 402v3M142 428v6M144 428v6M150 428v6M151 428v6M172 428v6M173 428v6M174 428v6M175 428v6M176 428v6M194 428v6M201 428v6M202 428v6M204 428v6M218 428v6M276 434v11M280 434v11M284 434v11M301 434v11M302 434v11M319 434v11M327 434v11M353 434v11M383 434v11M296 445v10M306 445v10M310 445v10M330 445v10M334 445v10M338 445v10M350 445v10M393 445v10M394 445v10"/>
<path stroke="#00ff1f" d="M136 216v2M137 216v2M138 216v2M139 216v2M140 216v2M141 216v2M144 330v3M145 252v2M145 375v3M145 384v6M146 220v2M146 224v2M149 294v2M150 184v1M150 202v2M150 286v2M150 324v3M150 345v6M152 393v3M152 402v3M161 399v3M193 390v3M211 354v3M211 372v3M215 381v3M217 312v3M217 321v3M218 318v3M219 315v3M220 333v3M221 236v2M221 369v3M221 384v3M221 393v3M222 232v2M222 324v3M222 390v9M223 218v2M223 294v2M223 298v8M223 333v3M224 224v2M224 228v6M224 254v2M224 282v2M224 290v2M224 315v3M224 327v3M225 200v2M225 296v2M226 186v2M226 192v4M226 200v2M226 210v2M226 348v3M227 202v2M227 218v2M228 206v2M228 378v3M229 234v2M229 246v2M229 330v3M230 190v2M231 184v1M231 190v4M231 214v2M232 210v2M233 196v2M233 200v2M233 216v2M234 196v2M234 216v2M240 210v2M242 202v2M242 222v2M244 321v3M245 198v2M247 212v2M247 218v2M247 315v3M248 212v2M248 262v2M248 284v2M248 292v2M250 214v2M251 196v2M251 246v2M251 252v2M251 256v2M252 220v2M252 226v2M252 236v2M253 236v2M253 242v2M254 196v2M254 204v2M254 212v2M255 206v2M255 218v2M256 202v2M256 206v2M256 210v2M256 222v2M257 204v2M257 214v2M258 228v2M259 236v2M260 218v4M260 232v2M260 246v2M261 204v4M261 216v2M261 232v2M261 238v2M261 256v2M262 228v2M262 250v2M263 256v2M263 298v8M263 354v3M264 242v2M264 339v3M265 232v2M265 296v2M266 244v2M266 248v2M266 288v2M266 378v3M267 369v3M268 375v3M269 230v2M271 254v2M271 290v2M272 381v3M274 276v2M276 375v6M277 298v8M277 378v3M278 375v3M281 384v3M283 402v3M287 402v3M289 375v3M293 381v3M295 294v2M295 378v3M297 357v3M299 369v6M300 369v3M302 378v3M303 354v3M304 296v2M304 369v3M305 354v3M305 360v3M305 372v3M307 399v3M308 384v3M308 390v3M309 292v2M309 372v6M312 369v3M313 360v3M313 402v3M314 369v3M316 396v3M317 375v3M319 294v2M319 357v3M320 357v3M321 290v2M321 357v3M324 372v3M325 294v2M325 399v3M330 360v3M330 381v3M332 387v3M333 366v3M333 384v3M334 354v3M334 369v3M334 387v3M334 393v3M335 290v2M335 369v9M336 292v4M336 378v3M337 288v2M337 384v6M338 290v2M339 384v3M339 393v3M340 390v6M342 286v2M342 360v6M342 375v3M342 399v3M343 387v3M348 387v3M349 360v3M349 393v3M350 288v2M350 354v3M351 384v3M351 390v3M352 288v2M352 363v3M352 372v3M352 378v3M352 384v6M353 354v3M353 360v9M356 292v4M357 292v2M357 354v3M357 372v3M357 393v6M358 381v6M359 375v3M359 387v6M360 290v2M360 363v3M360 387v3M361 360v3M361 369v3M362 288v2M362 396v3M364 290v2M364 345v3M364 354v3M364 360v3M365 393v3M366 354v3M366 363v3M370 387v3M372 288v4M373 378v3M373 399v3M374 369v3M376 290v2M376 354v3M378 327v3M379 354v6M381 357v3M383 342v3M384 402v3M385 336v3M387 290v2M387 345v3M387 351v3M388 363v3M389 342v3M391 351v6M391 399v3M392 282v2M141 428v6M149 428v6M167 428v6M180 428v6M181 428v6M189 428v6M209 428v6M214 428v6M221 428v6M222 428v6M223 428v6M227 428v6M228 428v6M230 428v6M279 434v11M328 434v11M288 445v10M297 445v10M305 445v10M312 445v10M331 445v10M336 445v10M337 445v10M348 445v10M384 445v10"/>
<path stroke="#00ff16" d="M136 64v6M137 64v6M138 64v6M139 64v6M140 64v6M141 64v6M145 248v2M146 52v6M146 216v2M146 230v2M146 256v4M148 150v2M148 180v2M148 183v1M148 185v3M150 188v2M150 262v2M150 274v2M150 351v3M150 360v3M152 270v2M152 396v3M178 339v3M211 375v3M211 381v3M215 366v3M218 296v2M220 208v2M220 228v2M220 236v2M221 228v2M221 296v2M221 324v3M221 345v3M221 351v3M221 387v3M222 222v6M222 240v2M223 206v2M223 214v2M223 222v4M223 230v4M224 214v2M224 226v2M224 258v2M224 278v2M225 198v2M225 208v2M225 244v2M225 292v2M225 298v8M225 318v6M226 184v1M226 196v2M226 387v3M226 402v3M228 202v4M228 208v2M228 381v3M228 390v3M229 224v2M229 238v2M229 248v2M229 278v2M229 381v3M229 390v3M231 194v2M231 202v2M231 206v2M231 212v2M232 196v4M233 222v2M235 192v2M235 216v2M237 198v2M239 214v2M242 244v2M244 192v2M244 327v3M246 194v2M246 318v3M247 210v2M247 216v2M247 224v2M247 228v2M247 234v2M247 262v2M247 336v9M247 357v3M248 218v2M248 232v2M248 236v2M248 282v2M248 296v2M248 339v3M248 345v3M250 224v2M251 198v2M251 232v2M251 244v2M252 224v2M252 232v2M253 238v2M253 246v2M254 202v2M254 210v2M254 230v2M255 204v2M255 212v2M255 222v2M255 228v2M255 248v2M256 218v2M257 196v2M257 208v2M257 212v2M257 228v2M257 232v2M259 230v2M259 244v2M261 220v2M262 232v4M262 254v2M263 206v2M263 212v2M263 292v2M263 342v3M263 351v3M264 240v2M264 246v4M264 296v2M264 345v3M265 228v4M265 238v4M265 252v2M265 258v2M266 280v2M266 296v2M266 381v3M267 290v2M267 357v3M269 236v2M269 372v3M270 381v3M270 402v3M271 286v2M271 384v3M272 296v2M272 384v3M272 402v3M273 375v3M274 378v3M275 378v3M276 402v3M279 296v2M279 381v3M279 399v3M281 375v3M284 399v3M285 384v3M287 296v2M289 296v2M291 296v2M294 375v6M296 372v6M299 375v3M303 372v3M306 372v3M307 294v2M310 366v3M311 375v3M311 381v6M312 360v3M313 363v3M314 354v3M314 360v3M314 402v3M315 393v3M317 363v3M317 369v3M318 360v3M318 402v3M319 387v3M320 294v2M320 396v3M321 384v3M322 363v3M323 387v3M325 292v2M326 292v2M326 387v6M330 354v3M330 384v3M331 369v3M332 372v3M333 390v3M334 363v3M335 363v3M336 363v3M336 369v3M337 360v3M339 290v2M339 390v3M342 366v3M343 363v3M343 384v3M344 290v2M346 294v2M347 393v3M348 292v2M348 378v3M348 396v3M349 354v3M349 363v3M349 381v3M349 390v3M349 399v3M350 357v3M350 390v3M350 396v3M351 387v3M353 375v3M353 402v3M355 399v3M357 351v3M357 357v3M357 390v3M358 372v3M359 294v2M359 360v3M359 369v3M359 381v3M363 396v3M365 390v3M365 399v3M366 357v3M366 366v3M368 363v3M369 290v2M369 348v3M369 354v3M369 372v3M369 378v6M370 290v2M370 390v6M371 354v6M373 354v3M373 387v3M374 366v3M374 402v3M378 321v3M378 342v3M379 292v2M379 351v3M380 354v3M382 327v3M383 290v4M384 324v3M384 348v3M385 292v2M387 312v9M387 324v3M388 348v3M389 312v3M392 345v3M394 298v8M139 428v6M140 428v6M165 428v6M166 428v6M169 428v6M182 428v6M186 428v6M191 428v6M195 428v6M196 428v6M200 428v6M205 428v6M217 428v6M224 428v6M229 428v6M231 428v6M272 434v11M274 434v11M282 445v10M283 445v10M285 445v10M289 445v10M290 445v10M291 445v10M292 445v10M295 445v10M301 445v10M304 445v10M313 445v10M316 445v10M320 445v10M332 445v10M335 445v10M341 445v10M342 445v10M343 445v10M344 445v10M347 445v10M378 445v10"/>
<path stroke="#00ff0c" d="M136 52v6M136 184v2M136 226v2M137 52v6M137 184v2M137 226v2M138 52v6M138 184v2M138 226v2M139 52v6M139 184v2M139 226v2M140 52v6M140 184v2M140 226v2M141 52v6M141 184v2M141 226v2M145 399v6M146 206v2M146 240v2M146 250v2M146 298v8M147 198v2M147 402v3M148 166v2M148 170v2M150 178v2M150 258v2M150 336v3M151 324v3M152 268v2M152 399v3M211 369v3M215 384v3M217 315v3M218 276v2M218 288v2M218 312v3M220 220v2M220 226v2M220 234v2M220 324v3M220 339v3M221 224v2M221 238v2M221 315v3M221 348v3M222 234v2M222 256v2M222 399v6M223 228v2M223 242v4M223 312v3M223 330v3M224 240v4M224 250v4M224 294v2M224 318v6M225 202v2M225 234v2M225 250v4M225 290v2M225 312v3M226 190v2M226 212v2M226 366v3M226 396v3M227 200v2M228 212v2M228 393v3M229 242v2M229 254v2M229 272v4M229 288v2M231 188v2M231 226v4M232 204v2M233 212v2M235 214v2M235 226v2M236 208v2M237 196v2M238 194v2M239 206v4M241 194v2M242 236v2M242 242v2M243 226v2M243 242v2M243 270v2M244 194v2M246 198v2M246 312v3M247 214v2M247 264v4M247 296v10M247 312v3M247 321v3M247 348v3M248 228v2M248 234v2M248 260v2M248 268v2M248 278v4M248 312v6M249 208v2M249 220v2M250 208v2M250 216v4M251 200v2M251 204v2M251 208v2M251 220v2M251 228v4M251 234v2M251 240v2M252 228v2M253 226v2M253 240v2M254 214v4M254 222v2M254 228v2M254 238v2M255 198v2M255 202v2M255 226v2M255 234v2M256 228v4M257 202v2M258 200v4M258 208v2M258 238v2M258 250v2M259 210v2M259 214v2M259 246v2M259 333v3M260 296v2M261 210v2M261 226v4M261 236v2M261 244v2M262 252v2M263 260v2M263 290v2M264 254v4M264 260v2M266 274v2M267 288v2M269 369v3M270 294v2M271 246v2M271 294v2M275 375v3M276 369v6M277 369v3M281 296v2M282 378v3M283 375v3M286 381v3M289 378v3M291 375v3M293 375v3M293 399v3M294 402v3M297 363v6M300 298v8M301 354v3M301 363v3M303 296v2M303 357v3M303 366v6M304 360v3M304 366v3M305 366v3M305 375v6M306 402v3M310 360v3M310 402v3M311 294v2M311 372v3M312 363v6M312 375v3M313 354v3M316 290v2M317 354v3M317 381v3M317 387v3M319 399v3M320 363v6M320 381v3M320 390v3M321 375v3M322 366v6M322 393v3M323 294v2M324 357v3M324 369v3M324 375v3M325 372v6M325 387v6M327 292v2M327 366v3M327 372v3M327 381v9M329 375v3M329 393v3M331 357v6M333 354v3M333 360v6M334 360v3M334 366v3M334 375v3M335 381v6M336 387v3M336 399v3M337 292v2M339 381v3M342 357v3M342 369v3M342 384v6M343 354v3M344 292v2M344 360v3M345 360v3M346 372v3M348 366v3M349 351v3M349 357v3M350 363v3M350 369v3M350 384v3M352 290v2M352 357v3M352 366v3M353 348v3M353 384v3M355 288v2M355 396v3M357 384v3M358 290v2M359 372v3M359 393v6M360 399v3M361 366v3M361 375v3M363 387v3M365 381v3M366 369v3M367 393v6M368 292v2M368 345v3M369 351v3M369 357v3M369 375v3M370 396v3M370 402v3M371 284v2M371 348v3M372 292v2M372 366v3M372 372v3M376 345v3M377 290v2M377 354v3M381 294v2M382 336v6M387 286v2M387 327v3M387 348v3M387 399v3M388 342v3M389 402v3M390 312v3M393 402v3M152 428v6M153 428v6M160 428v6M164 428v6M171 428v6M190 428v6M207 428v6M210 428v6M213 428v6M225 428v6M145 434v11M280 445v10M281 445v10M284 445v10M293 445v10M298 445v10M299 445v10M300 445v10M302 445v10M303 445v10M314 445v10M321 445v10M325 445v10M329 445v10M339 445v10M346 445v10M351 445v10M354 445v10M358 445v10M359 445v10M361 445v10M362 445v10M363 445v10M368 445v10M369 445v10M370 445v10M371 445v10M372 445v10M377 445v10M379 445v10M383 445v10M392 445v10M327 455v10"/>
<path stroke="#00ff03" d="M136 183v1M136 212v2M137 183v1M137 212v2M138 183v1M138 212v2M139 183v1M139 212v2M140 183v1M140 212v2M141 183v1M141 212v2M145 232v2M145 250v2M145 390v3M146 214v2M146 226v2M146 246v2M147 318v3M147 396v3M148 174v2M150 182v1M150 254v2M150 366v3M152 266v2M211 357v3M220 216v2M220 336v3M220 345v3M220 357v3M221 330v3M221 342v3M222 248v2M222 258v2M223 216v2M224 244v2M224 248v2M225 196v2M225 232v2M225 248v2M225 315v3M226 202v4M226 218v2M226 399v3M227 210v6M227 224v2M228 330v3M229 230v2M229 236v2M229 276v2M229 396v6M230 336v3M230 345v3M231 200v2M231 204v2M231 216v2M231 222v4M232 202v2M232 222v2M233 204v2M233 210v2M233 220v2M234 208v2M235 194v2M236 198v6M236 212v6M237 208v2M239 200v2M239 218v2M240 218v4M240 224v2M242 238v2M242 324v3M243 196v4M244 196v2M244 315v6M245 202v4M245 210v2M246 321v3M246 333v3M247 286v4M247 318v3M247 354v3M248 216v2M248 224v2M248 252v2M248 256v2M248 290v2M248 318v3M248 336v3M249 202v2M249 210v2M250 210v4M250 220v2M250 242v2M251 212v2M251 218v2M251 238v2M251 250v2M253 312v3M253 324v3M255 210v2M256 236v2M257 216v2M257 230v2M257 238v4M258 232v2M258 236v2M258 336v3M258 351v3M259 242v2M259 336v6M259 345v6M260 242v4M260 248v2M260 254v2M261 339v3M263 226v2M263 254v2M263 258v2M263 274v2M264 252v2M264 312v3M264 342v3M265 244v2M266 252v2M266 282v2M267 294v2M267 366v3M268 298v8M268 354v3M268 360v3M268 372v3M273 372v3M274 282v2M276 298v8M277 372v3M278 372v3M281 381v3M282 375v3M283 298v8M284 369v3M285 399v3M286 375v3M287 375v3M292 402v3M293 372v3M295 296v2M295 402v3M296 354v3M296 366v3M297 354v3M300 372v6M301 296v2M301 357v3M303 360v6M304 354v3M305 363v3M305 369v3M307 290v2M307 402v3M308 387v3M311 378v3M316 292v2M316 399v3M317 292v2M317 384v3M318 351v3M319 390v3M320 360v3M320 369v3M320 375v3M321 292v2M321 402v3M322 372v3M323 366v3M325 369v3M325 381v6M326 396v3M327 375v3M327 402v3M328 292v2M329 292v2M330 294v2M331 292v2M331 363v3M332 357v3M332 378v3M332 384v3M333 357v3M333 372v3M333 402v3M335 360v3M336 375v3M337 357v3M337 363v3M339 375v3M339 387v3M340 363v3M340 384v3M343 351v3M343 378v3M343 399v3M344 375v3M345 286v2M346 357v3M348 351v3M348 357v3M349 292v2M349 345v3M350 290v2M350 351v3M350 366v3M350 372v3M350 381v3M350 402v3M351 366v3M351 375v3M353 290v2M353 387v3M357 348v3M358 369v3M359 363v6M360 378v3M363 288v2M365 387v3M366 351v3M369 292v2M371 288v2M371 351v3M372 375v3M373 348v3M373 357v3M373 369v9M375 345v3M377 348v6M377 357v3M378 324v3M380 330v3M380 348v3M381 402v3M382 342v3M383 324v3M383 330v3M383 345v3M384 327v3M384 354v3M385 333v3M387 342v3M388 351v3M388 402v3M389 296v2M390 321v3M390 336v3M392 327v3M393 335v4M145 428v6M156 428v6M161 428v6M162 428v6M163 428v6M183 428v6M197 428v6M206 428v6M211 428v6M212 428v6M144 434v11M277 445v10M278 445v10M279 445v10M294 445v10M307 445v10M309 445v10M315 445v10M317 445v10M322 445v10M323 445v10M324 445v10M326 445v10M340 445v10M345 445v10M353 445v10M357 445v10M360 445v10M364 445v10M366 445v10M367 445v10M373 445v10M380 445v10M385 445v10M389 445v10M390 445v10M310 455v10M311 455v10M319 455v10M320 455v10M328 455v10M329 455v10M346 455v10M363 455v10M364 455v10M377 455v10"/>
<path stroke="#0bff00" d="M136 182v1M136 214v2M137 182v1M137 214v2M138 182v1M138 214v2M139 182v1M139 214v2M140 182v1M140 214v2M141 182v1M141 214v2M145 246v2M145 393v3M146 200v2M146 228v2M146 234v2M146 252v2M147 58v6M147 212v2M147 312v3M215 378v3M218 321v6M220 254v2M220 318v3M220 366v3M221 399v6M222 238v2M222 244v2M223 212v2M224 234v2M225 212v4M225 220v2M225 224v6M226 222v2M226 390v3M227 222v2M227 242v2M228 396v3M229 244v2M229 250v2M229 262v2M229 284v2M229 290v2M229 318v3M229 402v3M231 178v2M231 183v1M231 208v2M231 220v2M232 208v2M233 198v2M233 202v2M233 214v2M235 202v2M235 210v4M236 204v4M236 220v2M237 212v2M239 202v2M240 202v2M240 208v2M240 272v2M242 321v3M243 236v2M243 244v2M244 268v2M244 312v3M245 206v2M245 212v2M246 298v8M246 327v3M246 339v3M247 230v2M247 236v2M247 244v2M247 268v2M247 292v2M247 324v9M248 214v2M248 238v2M248 264v2M248 276v2M251 216v2M251 222v2M251 242v2M251 254v2M253 232v2M253 252v4M253 315v3M255 224v2M255 230v2M255 242v2M255 256v2M256 232v2M256 238v2M256 244v2M257 236v2M258 234v2M258 244v2M259 256v2M260 252v2M261 218v2M261 258v2M261 262v4M261 272v2M261 345v3M262 246v2M262 256v2M262 264v2M262 296v2M263 252v2M263 262v4M263 268v2M263 294v2M263 312v3M264 250v2M264 348v3M265 254v2M266 246v2M266 276v4M266 292v4M266 402v3M267 296v2M268 366v3M269 226v4M270 238v2M270 242v2M271 381v3M274 375v3M274 402v3M275 298v8M278 298v8M280 366v3M282 372v3M283 378v3M284 298v8M285 381v3M286 378v3M288 296v2M290 381v3M292 378v3M293 369v3M295 375v3M296 363v3M299 298v8M299 360v3M300 363v6M301 360v3M301 369v3M304 402v3M305 296v2M306 354v3M306 363v3M306 369v3M308 296v2M308 381v3M309 363v6M310 357v3M310 363v3M312 354v3M313 357v3M316 294v2M316 369v3M316 390v3M317 351v3M317 402v3M319 381v3M321 381v3M322 357v3M322 384v3M323 381v3M324 360v3M325 354v3M325 363v6M326 402v3M327 360v3M328 369v3M328 390v3M328 399v3M332 296v2M332 369v3M332 375v3M332 381v3M333 369v3M333 387v3M333 399v3M334 351v3M334 390v3M335 351v3M335 399v3M336 360v3M336 366v3M337 290v2M339 292v2M339 399v3M340 292v2M340 357v6M340 366v3M340 372v6M340 399v3M341 366v9M343 375v3M343 402v3M344 366v3M345 284v2M345 288v2M346 354v3M346 363v3M346 378v3M348 360v6M348 369v6M348 381v6M348 402v3M350 387v3M352 354v3M352 375v3M355 390v3M356 381v3M357 378v3M357 387v3M358 357v3M358 366v3M358 399v3M359 384v3M360 348v3M360 369v3M360 390v3M363 290v2M363 360v3M363 384v3M365 363v3M365 372v3M369 360v3M371 345v3M373 282v2M373 286v2M373 360v9M373 381v3M373 402v3M378 294v2M378 330v6M378 339v3M380 342v6M381 345v3M382 324v3M382 333v3M383 321v3M383 327v3M384 351v3M387 292v2M387 298v8M387 333v3M389 298v8M389 315v3M391 324v3M391 342v3M392 339v3M393 296v10M394 292v2M394 296v2M154 428v6M155 428v6M170 428v6M199 428v6M226 428v6M268 434v11M269 434v11M270 434v11M273 434v11M273 445v10M274 445v10M319 445v10M352 445v10M355 445v10M365 445v10M374 445v10M375 445v10M376 445v10M144 455v10M282 455v10M285 455v10M286 455v10M298 455v10M321 455v10M326 455v10M334 455v10M343 455v10M344 455v10M345 455v10M347 455v10M353 455v10M365 455v10"/>
<path stroke="#1bff00" d="M143 52v6M145 238v2M145 242v2M145 396v3M146 232v2M146 236v2M147 204v2M147 220v2M147 324v3M147 387v9M147 399v3M148 152v2M148 164v2M149 324v3M150 183v1M150 260v2M211 366v3M218 278v2M218 315v3M219 318v6M219 327v3M220 330v3M220 354v3M220 369v3M223 220v2M223 226v2M224 238v2M225 216v2M225 222v2M225 238v2M226 208v2M226 220v2M226 330v3M226 393v3M227 220v2M227 228v2M227 330v3M229 264v2M229 270v2M229 282v2M229 393v3M231 164v2M231 218v2M231 342v3M232 200v2M232 218v2M233 208v2M233 224v2M234 198v2M236 210v2M237 204v2M238 198v2M239 196v4M239 204v2M239 224v2M240 200v2M240 204v2M240 228v2M241 198v2M242 292v2M243 200v2M243 234v2M243 348v3M244 190v2M244 216v2M244 276v2M244 324v3M244 339v3M245 208v2M245 342v3M246 210v2M246 244v2M246 292v2M246 296v2M246 330v3M247 226v2M247 240v2M247 256v2M247 270v2M247 333v3M248 220v2M248 226v2M248 244v2M248 258v2M248 266v2M248 351v3M249 212v2M249 230v2M249 296v2M250 222v2M250 234v2M251 206v2M252 230v2M253 258v4M253 327v3M254 234v2M255 252v2M256 234v2M256 246v2M257 210v2M258 242v2M258 342v3M259 218v2M259 254v2M259 258v2M260 236v2M260 256v2M260 330v3M261 252v2M261 348v3M262 258v2M263 204v2M263 266v2M263 288v2M264 244v2M264 290v2M265 234v2M265 248v2M265 290v2M265 399v3M266 254v2M269 296v2M270 248v4M271 298v8M272 378v3M273 369v3M274 372v3M275 402v3M277 363v6M279 298v8M280 357v3M281 378v3M282 294v2M284 363v6M285 402v3M288 402v3M289 298v8M290 294v2M290 402v3M291 378v3M294 369v3M296 360v3M297 298v8M297 351v3M298 378v3M299 357v3M300 399v3M301 366v3M306 357v6M307 296v2M308 292v2M308 375v6M308 402v3M310 296v2M310 354v3M311 366v3M312 351v3M313 351v3M316 375v3M319 296v2M319 384v3M319 402v3M320 372v3M320 378v3M322 294v2M322 351v3M322 378v6M322 390v3M322 396v3M323 296v2M323 357v3M323 372v3M323 384v3M324 366v3M325 402v3M326 354v6M328 294v2M328 363v3M328 393v3M329 363v3M329 369v3M330 348v6M332 360v3M334 402v3M336 354v3M336 381v6M337 372v3M337 402v3M339 351v3M340 354v3M340 369v3M340 378v3M341 360v3M341 390v3M342 288v2M343 292v4M345 354v3M346 288v2M346 375v3M346 381v3M346 396v3M348 375v3M349 366v15M349 387v3M350 399v3M351 290v2M351 369v3M352 292v2M352 360v3M352 402v3M355 384v3M355 393v3M356 354v3M356 363v3M357 363v3M357 375v3M357 381v3M358 292v2M358 360v6M358 375v6M359 345v3M359 351v3M360 357v3M361 290v2M362 390v3M363 381v3M364 342v3M365 375v3M366 342v6M366 372v3M367 294v2M367 363v3M367 390v3M369 339v3M370 369v6M370 384v3M373 284v2M374 351v3M374 357v6M375 296v2M376 292v2M376 351v3M377 345v3M378 336v3M379 294v2M380 294v2M381 351v3M383 318v3M383 333v3M384 290v2M384 318v3M384 333v3M384 342v3M386 324v3M387 288v2M388 321v3M389 318v3M389 339v3M390 298v8M390 324v3M390 333v3M392 336v3M184 428v6M185 428v6M198 428v6M177 434v11M178 434v11M205 434v11M207 434v11M208 434v11M145 445v10M308 445v10M318 445v10M327 445v10M328 445v10M356 445v10M381 445v10M382 445v10M388 445v10M391 445v10M145 455v10M287 455v10M291 455v10M292 455v10M293 455v10M297 455v10M301 455v10M302 455v10M309 455v10M312 455v10M316 455v10M318 455v10M324 455v10M325 455v10M330 455v10M333 455v10M337 455v10M338 455v10M342 455v10M354 455v10M360 455v10M362 455v10M369 455v10M370 455v10M371 455v10M372 455v10M373 455v10M376 455v10M378 455v10M382 455v10M383 455v10M388 455v10M389 455v10M394 455v10"/>
<path stroke="#2bff00" d="M136 58v6M137 58v6M138 58v6M139 58v6M140 58v6M141 58v6M145 240v2M147 194v2M147 222v2M147 321v3M148 154v2M148 176v2M148 182v1M148 184v1M148 194v2M149 321v3M150 180v2M150 186v2M150 357v3M150 363v3M150 369v6M150 393v6M180 52v6M218 222v2M219 324v3M220 351v3M220 378v3M221 226v2M221 321v3M222 252v2M224 324v3M225 230v2M225 236v2M225 246v2M226 198v2M226 214v2M227 230v2M228 218v2M228 224v4M229 256v2M229 280v2M230 196v2M230 202v4M230 342v3M230 354v3M231 172v2M231 186v2M231 210v2M231 230v2M231 276v2M231 336v3M232 212v2M232 230v2M233 206v2M233 226v2M234 202v4M234 210v2M234 220v2M235 198v2M235 204v2M235 218v2M235 224v2M237 210v2M238 202v2M240 198v2M240 230v2M240 274v2M241 276v2M242 282v2M242 296v2M242 315v6M242 327v3M243 222v2M243 228v2M243 266v2M243 351v3M244 234v2M244 330v6M244 342v6M245 348v3M246 342v3M247 238v2M247 250v4M248 230v2M248 242v2M248 246v2M248 272v2M248 321v3M248 327v6M248 354v6M249 198v2M249 204v2M249 214v2M249 244v2M250 236v4M250 244v2M250 318v3M251 226v2M251 248v2M251 258v2M252 240v4M253 256v2M253 333v3M254 236v2M255 214v2M255 240v2M255 330v3M256 242v2M256 248v2M257 200v2M257 244v2M258 210v2M258 254v2M258 345v3M259 327v6M260 260v2M260 333v6M261 250v2M261 260v2M261 270v2M262 262v2M262 345v3M263 276v2M263 286v2M263 363v3M264 258v2M264 262v2M264 266v2M264 286v2M264 292v2M264 336v3M264 351v3M265 246v2M265 345v3M265 402v3M266 262v2M267 351v3M267 360v3M268 363v3M268 369v3M269 224v2M269 298v8M270 298v8M270 378v3M272 298v8M273 312v3M277 402v3M278 369v3M282 296v2M283 372v3M284 402v3M289 384v3M289 399v3M292 375v3M296 298v8M296 357v3M298 375v3M302 372v3M304 298v8M305 294v2M306 366v3M308 294v2M308 357v3M309 402v3M311 296v2M311 402v3M315 396v3M316 384v3M316 402v3M319 354v3M319 363v3M319 369v6M320 384v6M322 354v3M322 375v3M324 294v4M324 354v3M325 357v6M326 294v2M326 372v3M326 378v3M326 399v3M327 369v3M328 360v3M328 375v3M328 384v3M329 354v3M329 360v3M329 366v3M329 378v3M329 390v3M329 396v3M330 402v3M331 294v2M332 351v3M333 375v6M334 372v3M334 378v3M335 292v2M335 402v3M336 357v3M338 292v2M338 372v3M338 396v3M344 294v2M344 348v3M344 354v6M344 363v3M344 369v6M344 378v3M344 390v9M345 357v3M345 369v3M345 378v3M345 396v3M346 351v3M346 360v3M346 387v3M347 396v6M348 354v3M349 348v3M349 384v3M350 348v3M351 363v3M351 378v3M353 294v2M353 345v3M354 393v3M355 375v3M356 372v3M356 378v3M357 345v3M358 354v3M359 378v3M359 399v3M360 351v3M360 375v3M360 384v3M361 354v3M362 393v3M363 292v2M363 372v3M365 290v2M365 354v3M365 360v3M365 366v3M365 378v3M366 292v2M368 342v3M369 345v3M370 345v3M370 357v3M370 375v3M370 381v3M371 290v2M373 342v3M375 294v2M376 348v3M378 296v2M380 315v3M382 296v2M382 318v6M383 315v3M383 336v3M384 321v3M384 330v3M386 342v3M387 294v2M387 339v3M388 327v3M388 336v3M389 294v2M389 324v3M390 294v2M390 315v6M390 330v3M392 312v6M153 434v11M163 434v11M170 434v11M179 434v11M206 434v11M271 434v11M272 445v10M275 445v10M386 445v10M281 455v10M288 455v10M289 455v10M290 455v10M299 455v10M300 455v10M303 455v10M306 455v10M308 455v10M315 455v10M317 455v10M322 455v10M323 455v10M335 455v10M339 455v10M340 455v10M341 455v10M355 455v10M359 455v10M366 455v10M367 455v10M368 455v10M379 455v10M381 455v10M387 455v10M390 455v10M393 455v10M309 465v11M380 465v11"/>
<path stroke="#3bff00" d="M147 192v2M147 196v2M147 214v4M147 224v2M147 381v3M148 148v2M148 162v2M148 172v2M148 178v2M148 196v2M148 210v2M148 298v8M217 318v3M217 327v3M220 375v3M221 222v2M223 318v3M223 327v3M225 242v2M226 224v4M226 375v3M227 184v1M227 312v3M228 214v2M228 222v2M228 258v2M228 399v3M229 232v2M229 286v2M229 294v2M229 327v3M230 333v3M230 363v3M231 166v2M231 174v2M231 333v3M232 216v2M232 226v2M233 228v2M234 200v2M234 206v2M235 196v2M235 200v2M235 206v2M235 222v2M236 218v2M237 206v2M237 224v2M239 210v2M239 216v2M240 206v2M240 216v2M241 274v2M242 246v4M242 264v2M243 202v2M243 230v4M243 238v4M243 252v2M244 222v2M244 244v2M244 266v2M244 282v2M244 348v3M245 224v2M245 324v3M245 333v3M246 204v2M246 232v4M246 324v3M246 345v3M247 248v2M247 254v2M247 260v2M247 278v2M247 360v3M248 240v2M248 248v4M248 324v3M249 216v2M249 232v2M249 264v2M249 294v2M249 298v8M250 228v4M250 240v2M250 254v2M250 315v3M250 321v3M251 210v2M251 260v2M251 318v3M252 234v2M253 318v3M254 242v2M254 248v2M255 246v2M255 250v2M255 324v3M256 240v2M257 206v2M257 234v2M257 242v2M257 333v3M258 240v2M258 339v3M259 234v2M259 252v2M259 342v3M259 351v3M259 357v3M261 254v2M261 294v2M261 342v3M261 354v3M263 272v2M263 284v2M263 399v3M264 264v2M264 284v2M265 250v2M265 264v4M265 298v8M266 366v3M266 372v6M267 363v3M269 240v4M269 357v3M272 372v6M273 315v3M273 351v3M274 286v2M274 296v2M276 366v3M279 375v3M280 360v6M281 402v3M282 402v3M285 378v3M287 298v8M288 375v3M288 381v6M289 369v6M290 296v2M291 366v3M292 372v3M293 292v4M293 357v3M294 351v3M294 366v3M296 351v3M298 354v3M299 351v3M299 366v3M300 351v3M300 357v3M302 375v3M304 351v3M305 351v3M305 402v3M307 378v3M309 360v3M309 369v3M311 354v3M311 369v3M312 298v8M313 296v2M315 354v3M315 384v3M315 399v3M318 296v2M319 348v3M319 366v3M321 354v3M323 363v3M323 369v3M323 378v3M325 378v3M326 360v3M327 378v3M328 296v2M329 384v3M332 363v3M333 381v3M334 290v4M334 381v3M336 372v3M338 366v6M338 375v3M339 294v2M340 387v3M341 357v3M341 363v3M341 378v3M342 290v2M342 354v3M343 348v3M345 363v3M346 369v3M346 393v3M347 372v3M347 384v3M347 390v3M349 402v3M350 375v3M351 372v3M351 399v3M352 348v6M353 292v2M353 342v3M354 351v3M354 366v3M354 384v3M354 390v3M355 366v3M355 402v3M356 345v3M356 351v3M356 357v3M356 366v3M357 342v3M357 369v3M358 348v3M358 402v3M359 296v2M360 372v3M360 402v3M361 292v2M361 348v3M362 290v2M362 387v3M363 348v3M363 399v3M365 348v3M365 357v3M365 402v3M366 360v3M370 292v2M370 363v3M370 378v3M372 363v3M374 290v2M374 363v3M376 339v3M377 402v3M379 345v6M380 296v10M380 318v3M380 336v3M383 339v3M384 292v4M386 284v4M386 336v3M386 345v3M387 296v2M388 312v3M388 324v3M388 330v3M389 292v2M389 321v3M389 327v3M390 327v3M391 330v3M391 345v3M392 318v3M392 333v3M392 342v3M394 294v2M164 434v11M169 434v11M176 434v11M211 434v11M223 434v11M276 445v10M387 445v10M294 455v10M305 455v10M307 455v10M313 455v10M314 455v10M350 455v10M352 455v10M358 455v10M361 455v10M380 455v10M384 455v10M385 455v10M386 455v10M391 455v10M392 455v10M372 465v11M373 465v11M381 465v11M382 465v11"/>
<path stroke="#4bff00" d="M136 228v4M137 228v4M138 228v4M139 228v4M140 228v4M141 228v4M145 236v2M146 238v2M147 200v2M147 218v2M148 160v2M148 198v2M148 202v2M149 312v3M150 399v6M218 327v3M219 348v3M220 342v3M220 363v3M220 372v3M222 242v2M222 246v2M222 250v2M225 218v2M226 268v2M226 372v3M227 183v1M227 238v2M227 250v2M227 327v3M228 216v2M228 234v2M228 254v2M229 298v8M229 312v3M229 324v3M230 206v2M230 360v3M231 162v2M231 168v2M231 348v3M234 218v2M234 222v2M235 220v2M235 228v2M236 222v2M237 216v2M237 226v2M238 206v2M239 228v2M240 214v2M240 222v2M240 226v2M240 268v2M240 282v2M241 196v2M241 268v2M241 272v2M241 292v2M242 240v2M243 272v2M244 206v2M244 210v4M244 220v2M244 230v2M244 248v2M244 264v2M244 336v3M245 336v6M245 345v3M246 206v4M246 212v2M246 224v2M246 248v2M246 286v2M246 336v3M246 351v3M247 258v2M247 282v2M247 290v2M248 254v2M248 270v2M249 206v2M249 218v2M249 222v2M249 226v2M249 236v2M249 252v2M249 288v2M249 345v3M249 351v3M250 250v2M251 324v3M251 330v3M251 336v6M252 238v2M252 318v3M252 330v3M253 296v2M253 330v3M254 226v2M254 232v2M254 246v2M255 232v2M255 254v2M255 258v2M257 218v4M257 246v4M257 330v3M258 330v3M258 348v3M259 248v2M260 258v2M260 264v2M260 294v2M260 318v9M261 351v3M262 274v2M262 298v8M262 342v3M262 354v3M263 278v2M263 318v3M263 336v3M264 270v2M264 278v4M264 321v3M264 330v6M265 256v2M265 260v2M265 270v2M265 274v2M265 292v4M265 336v6M265 351v3M265 393v3M266 256v2M268 345v3M268 357v3M269 244v2M270 244v2M271 375v3M272 363v3M273 321v3M273 348v3M273 354v3M273 360v3M276 360v3M277 312v3M277 339v3M277 360v3M279 378v3M280 354v3M281 366v3M281 372v3M283 360v3M283 369v3M285 294v2M285 375v3M286 312v3M287 372v3M288 378v3M289 357v3M290 375v6M291 369v6M294 357v3M295 369v6M296 369v3M297 348v3M298 296v2M298 372v3M299 363v3M300 354v3M303 298v8M305 348v3M308 372v3M309 294v2M309 357v3M311 357v6M314 298v8M315 294v2M315 381v3M316 387v3M318 348v3M319 298v8M319 375v3M320 296v2M322 348v3M322 387v3M322 399v3M323 360v3M325 351v3M326 366v3M326 381v3M327 294v2M327 363v3M328 372v3M328 378v3M329 372v3M330 296v2M331 354v3M334 384v3M336 402v3M337 351v6M338 357v9M339 348v3M340 296v2M340 381v3M341 393v3M342 351v3M342 402v3M343 345v3M344 351v3M345 290v2M345 390v6M347 294v2M347 366v6M347 402v3M348 345v6M350 345v3M351 357v3M352 399v3M354 288v2M354 360v3M354 378v6M354 399v3M355 290v2M355 357v3M355 378v6M356 348v3M356 360v3M360 360v3M360 366v3M361 351v3M361 402v3M362 384v3M362 402v3M363 345v3M363 351v3M363 366v3M364 292v2M365 369v3M365 384v3M366 348v3M367 357v3M367 366v3M371 339v3M372 294v2M373 339v3M373 351v3M374 292v2M378 298v8M378 318v3M380 312v3M380 321v6M383 294v2M383 298v8M384 339v3M386 333v3M386 339v3M387 402v3M388 315v6M389 333v3M390 296v2M391 282v2M391 315v3M391 321v3M391 402v3M392 321v6M154 434v11M157 434v11M158 434v11M183 434v11M204 434v11M209 434v11M212 434v11M224 434v11M144 445v10M272 455v10M273 455v10M274 455v10M283 455v10M296 455v10M304 455v10M331 455v10M332 455v10M336 455v10M348 455v10M349 455v10M356 455v10M357 455v10M374 455v10M375 455v10M305 465v11M306 465v11M308 465v11M310 465v11M347 465v11M354 465v11M360 465v11"/>
<path stroke="#5bff00" d="M146 242v4M147 206v4M147 292v2M147 372v3M148 158v2M148 204v2M148 208v2M149 327v3M149 399v3M150 390v3M178 342v3M219 330v9M220 360v3M220 381v3M223 321v3M226 206v2M226 274v2M226 278v2M226 284v2M227 232v2M227 236v2M227 321v6M228 402v3M230 200v2M230 208v2M230 330v3M230 339v3M230 366v3M231 150v2M231 170v2M231 176v2M231 182v1M231 198v2M232 206v2M232 220v2M232 228v2M232 234v2M234 212v4M236 336v3M237 202v2M238 196v2M238 214v4M239 212v2M239 220v4M239 236v2M240 266v2M240 288v2M240 318v3M241 266v2M241 280v2M241 288v2M241 294v2M242 312v3M242 333v3M243 224v2M243 246v2M243 274v2M243 278v2M244 232v2M244 246v2M244 250v2M244 296v2M245 214v2M245 218v2M245 270v2M245 318v3M245 354v3M246 238v2M246 246v2M246 290v2M246 294v2M247 220v2M247 242v2M247 246v2M247 276v2M247 280v2M247 284v2M247 363v3M248 274v2M249 200v2M249 234v2M249 248v2M249 254v4M249 266v2M249 292v2M249 312v3M250 312v3M251 333v3M252 246v2M252 312v3M252 321v3M253 270v2M254 254v2M257 327v3M257 339v6M259 298v8M260 284v2M260 290v4M260 298v8M260 315v3M260 345v6M261 268v2M261 324v3M261 357v3M262 348v6M263 270v2M263 315v3M263 321v3M263 333v3M263 360v3M264 282v2M264 288v2M264 315v3M264 324v3M264 354v3M265 268v2M265 272v2M265 278v2M265 288v2M265 342v3M266 258v4M266 298v8M266 348v3M269 363v3M270 375v3M272 354v3M272 366v3M273 357v3M275 372v3M276 354v3M278 366v3M281 298v8M285 296v2M288 298v8M289 351v6M292 298v8M294 348v3M294 363v3M295 298v8M296 348v3M299 354v3M301 298v8M303 351v3M305 399v3M307 298v8M308 360v3M309 354v3M310 298v8M311 363v3M315 360v3M315 366v3M315 372v3M315 390v3M316 357v3M316 381v3M317 294v2M317 348v3M319 378v3M320 351v6M321 294v2M321 351v3M326 369v3M326 384v3M328 354v3M328 366v3M328 387v3M329 357v3M329 381v3M329 387v3M332 298v8M332 402v3M333 351v3M338 354v3M338 387v3M340 402v3M345 292v2M345 366v3M345 372v6M345 384v3M346 348v3M347 354v3M347 360v3M347 375v3M347 381v3M347 387v3M349 342v3M350 292v2M350 342v3M351 354v3M351 360v3M351 402v3M354 354v6M354 369v3M354 375v3M354 396v3M356 375v3M359 342v3M359 402v3M360 345v3M360 354v3M360 381v3M361 345v3M362 399v3M367 348v3M367 360v3M367 375v3M367 384v3M368 294v2M369 294v2M369 298v8M369 342v3M370 366v3M371 402v3M373 321v3M373 333v3M373 345v3M374 354v3M375 336v3M376 324v3M376 333v3M377 292v2M377 327v3M377 339v6M378 312v3M380 327v3M380 339v3M381 342v3M382 288v4M382 298v8M383 296v2M383 312v3M384 345v3M386 288v2M386 402v3M388 284v2M388 294v2M388 339v3M389 284v2M389 288v2M390 284v2M390 290v2M391 312v3M391 333v3M391 339v3M392 284v2M392 294v2M393 284v2M393 294v2M159 434v11M162 434v11M182 434v11M196 434v11M227 434v11M228 434v11M268 445v10M295 455v10M351 455v10M287 465v11M291 465v11M298 465v11M313 465v11M346 465v11M355 465v11M366 465v11M371 465v11M374 465v11M379 465v11M383 465v11"/>
<path stroke="#6bff00" d="M146 248v2M147 52v6M147 202v2M147 210v2M147 280v2M147 327v6M148 58v6M149 387v3M150 381v3M218 330v3M220 348v3M220 384v3M226 264v2M226 272v2M226 276v2M226 327v3M227 240v2M227 256v2M227 318v3M228 220v2M228 262v2M229 296v2M230 198v2M230 348v6M230 369v3M231 339v3M231 345v3M231 354v3M232 214v2M232 336v3M235 208v2M235 260v2M236 224v4M236 230v2M237 214v2M237 278v2M238 204v2M238 208v2M240 270v2M241 216v2M241 236v2M241 282v2M242 260v2M242 276v2M242 294v2M242 298v8M243 206v2M243 218v2M243 250v2M243 258v2M243 262v2M243 296v2M243 354v3M244 204v2M244 238v4M244 256v2M244 274v2M244 292v2M245 216v2M245 312v3M245 351v3M245 357v3M246 200v2M246 222v2M246 228v2M246 236v2M246 240v2M246 288v2M246 348v3M247 222v2M247 274v2M249 238v2M249 242v2M249 246v2M249 250v2M249 286v2M250 232v2M250 296v2M251 262v2M252 244v2M252 248v2M252 315v3M253 298v8M254 324v3M255 315v3M255 327v3M258 258v2M258 321v3M258 333v3M258 354v3M259 250v2M259 312v3M259 324v3M259 354v3M260 272v2M260 327v3M260 339v3M260 351v3M261 298v8M261 327v3M262 260v2M262 272v2M262 282v2M262 288v2M262 360v3M263 339v3M264 272v2M264 318v3M265 262v2M265 354v3M265 396v3M266 345v3M266 360v3M267 345v3M269 246v2M269 366v3M270 360v6M270 369v6M271 402v3M272 369v3M273 366v3M274 284v2M274 294v2M277 321v3M278 363v3M282 369v3M283 363v6M286 318v3M289 360v3M291 298v8M293 354v3M293 360v6M294 354v3M295 351v3M296 339v3M297 345v3M298 369v3M300 315v3M305 298v8M307 354v3M308 354v3M308 363v3M309 296v2M313 294v2M314 348v3M315 357v3M315 363v3M315 369v3M315 375v3M315 387v3M315 402v3M319 360v3M321 348v3M322 296v2M322 345v3M323 354v3M323 375v3M324 351v3M325 296v2M326 363v3M327 296v2M327 357v3M328 348v6M328 381v3M328 402v3M329 399v3M334 348v3M335 348v3M337 294v4M338 384v3M340 351v3M341 354v3M341 381v3M341 387v3M344 381v3M344 399v6M345 381v3M346 290v2M346 384v3M346 390v3M346 399v3M347 378v3M348 294v2M351 351v3M352 294v2M355 351v6M355 369v3M355 387v3M356 369v3M358 351v3M362 292v2M362 366v3M363 354v6M363 363v3M363 378v3M364 339v3M365 351v3M366 312v3M366 336v6M367 372v3M367 378v3M367 399v3M368 296v2M368 339v3M369 318v3M369 333v3M370 339v3M370 354v3M370 360v3M372 360v3M375 321v3M375 327v3M375 342v3M378 315v3M379 342v3M381 296v2M381 339v3M382 292v2M382 315v3M384 296v10M384 312v6M384 336v3M386 292v2M386 318v6M386 327v3M388 333v3M389 286v2M389 290v2M389 330v3M389 336v3M391 318v3M391 327v3M392 298v8M393 292v2M394 284v2M394 290v2M152 434v11M156 434v11M160 434v11M168 434v11M171 434v11M184 434v11M188 434v11M195 434v11M197 434v11M198 434v11M199 434v11M210 434v11M213 434v11M222 434v11M229 434v11M275 455v10M279 455v10M280 455v10M284 455v10M285 465v11M286 465v11M288 465v11M290 465v11M292 465v11M307 465v11M311 465v11M312 465v11M314 465v11M317 465v11M348 465v11M353 465v11M361 465v11M367 465v11M384 465v11M385 465v11M386 465v11"/>
<path stroke="#7cff00" d="M147 284v2M147 288v4M147 336v6M147 345v6M147 375v3M147 384v3M148 156v2M148 192v2M148 200v2M150 185v1M150 378v3M150 387v3M223 315v3M226 216v2M226 258v4M226 266v2M226 270v2M226 292v2M226 369v3M227 185v1M227 234v2M227 252v2M227 278v2M227 292v2M227 298v8M228 228v2M228 268v2M229 292v2M229 315v3M229 321v3M230 218v2M230 357v3M231 180v2M231 185v1M231 232v4M231 351v3M231 357v3M232 232v2M232 238v2M238 210v2M238 220v2M238 234v2M239 226v2M239 232v2M239 244v2M240 232v4M240 254v6M240 264v2M240 276v2M240 284v2M240 292v2M240 296v2M241 214v2M241 244v2M241 262v2M241 278v2M241 298v8M242 252v2M242 330v3M242 336v3M243 212v2M243 280v2M243 315v3M243 342v6M244 198v2M244 202v2M244 242v2M244 262v2M244 270v2M244 278v2M244 286v2M244 290v2M244 294v2M244 298v8M245 222v2M245 296v2M246 202v2M246 218v2M246 226v2M246 230v2M246 260v2M246 266v2M246 274v2M246 284v2M248 360v3M249 224v2M249 228v2M249 240v2M249 284v2M249 315v3M249 339v6M249 348v3M250 246v4M251 264v2M251 312v6M251 327v3M251 342v6M252 252v2M252 327v3M253 264v2M253 345v3M253 351v3M255 321v3M255 339v3M257 252v2M257 336v3M258 248v2M258 252v2M258 256v2M258 360v3M259 290v2M259 366v3M259 402v3M260 274v2M261 330v6M261 360v3M262 276v2M262 284v2M262 292v2M262 339v3M263 330v3M263 366v3M263 393v3M264 268v2M264 369v3M265 276v2M265 280v2M265 330v3M265 348v3M266 369v3M267 298v8M267 348v3M269 354v3M269 360v3M272 357v3M273 342v3M274 360v3M275 366v3M276 312v3M276 357v3M277 324v3M277 345v3M277 354v3M278 354v3M279 369v3M282 298v8M285 372v3M286 333v3M286 369v6M288 369v3M294 360v3M297 342v3M298 357v3M300 312v3M300 402v3M301 351v3M302 369v3M303 348v3M308 366v3M310 351v3M314 345v3M314 351v3M315 378v3M316 360v3M316 378v3M320 298v8M320 402v3M323 348v6M324 345v3M329 294v2M332 348v3M332 354v3M334 294v2M335 345v3M336 298v8M336 351v3M338 378v3M341 292v2M341 375v3M341 384v3M341 396v3M347 363v3M348 342v3M351 292v2M351 348v3M354 363v3M354 402v3M355 345v3M355 360v6M355 372v3M357 399v3M363 369v3M365 342v6M366 315v3M367 351v3M367 369v3M367 381v3M367 387v3M369 296v2M370 348v3M371 342v3M372 351v3M375 333v3M375 339v3M376 294v2M376 336v3M376 342v3M377 324v3M377 330v9M379 327v3M379 339v3M380 333v3M381 298v8M381 321v3M382 312v3M386 330v3M391 284v2M392 330v3M393 288v2M138 434v11M155 434v11M167 434v11M174 434v11M175 434v11M180 434v11M189 434v11M190 434v11M191 434v11M200 434v11M203 434v11M278 455v10M293 465v11M294 465v11M297 465v11M299 465v11M301 465v11M315 465v11M316 465v11M320 465v11M321 465v11M322 465v11M326 465v11M327 465v11M331 465v11M332 465v11M333 465v11M338 465v11M349 465v11M350 465v11M352 465v11M356 465v11M364 465v11M365 465v11M368 465v11M369 465v11M370 465v11M375 465v11M376 465v11M387 465v11M391 465v11M392 465v11"/>
<path stroke="#8cff00" d="M147 294v4M147 315v3M147 342v3M147 354v3M147 378v3M148 206v2M148 214v2M149 315v3M149 402v3M150 384v3M216 330v3M217 330v3M219 339v3M219 345v3M220 396v3M223 324v3M226 230v2M226 250v2M226 280v2M226 286v2M227 216v2M227 246v2M227 272v2M227 315v3M228 252v2M228 264v2M228 272v2M230 210v2M231 156v2M231 282v2M232 242v2M234 224v2M235 244v2M236 232v2M236 339v3M237 220v4M237 256v4M237 274v2M238 222v2M240 238v2M240 260v2M240 298v8M240 312v3M240 324v3M240 348v3M241 228v2M241 238v2M241 290v2M241 318v3M242 254v2M242 266v2M242 272v2M242 290v2M242 342v3M243 248v2M243 256v2M243 268v2M243 321v3M243 357v6M244 200v2M244 208v2M244 214v2M244 260v2M244 272v2M244 280v2M245 262v2M245 298v8M245 315v3M245 321v3M245 327v6M246 214v2M246 357v3M247 366v3M250 252v2M250 258v2M250 333v3M251 321v3M252 250v2M252 294v2M252 333v3M253 262v2M253 276v2M253 286v2M254 240v2M254 250v2M255 336v3M256 250v4M257 250v2M258 327v3M259 282v2M259 294v2M259 360v3M260 262v2M260 312v3M261 266v2M261 274v2M261 278v4M261 284v2M261 336v3M262 266v4M262 278v2M262 294v2M262 312v3M262 357v3M263 280v2M263 324v6M263 372v3M263 396v3M264 274v2M264 327v3M264 357v3M265 282v2M265 286v2M265 315v3M265 333v3M267 339v3M268 318v3M268 351v3M269 315v3M271 378v3M273 324v3M273 333v3M273 345v3M273 363v3M274 366v6M275 369v3M277 330v9M277 342v3M277 357v3M279 402v3M280 351v3M281 369v3M282 366v3M285 369v3M286 315v3M286 330v3M286 339v3M288 366v3M292 369v3M294 312v3M294 318v3M295 357v6M298 298v8M298 351v3M302 298v8M302 357v3M302 363v3M303 345v3M305 345v3M307 357v3M307 366v6M307 375v3M308 369v3M311 298v8M313 348v3M316 354v3M316 372v3M317 296v2M317 345v3M319 312v3M319 351v3M320 348v3M322 402v3M323 298v8M326 296v2M328 357v3M330 342v3M331 296v2M333 348v3M337 312v3M337 348v3M339 296v2M339 345v3M339 402v3M340 294v2M341 402v3M342 348v3M343 296v2M344 296v2M344 384v6M345 351v3M345 387v3M347 357v3M349 294v2M350 294v2M353 315v3M354 348v3M355 292v2M357 402v3M360 292v2M360 342v3M362 378v3M363 375v3M364 333v3M365 292v2M365 339v3M366 298v8M367 345v3M367 354v3M368 318v3M369 312v6M369 327v3M370 342v3M370 351v3M372 357v3M373 324v3M374 348v3M375 324v3M375 330v3M376 330v3M381 312v3M381 330v3M381 336v3M386 312v3M388 298v8M391 336v3M392 296v2M393 286v2M393 290v2M394 286v2M161 434v11M185 434v11M192 434v11M226 434v11M176 445v10M177 445v10M202 445v10M269 445v10M270 445v10M289 465v11M295 465v11M302 465v11M304 465v11M318 465v11M323 465v11M325 465v11M334 465v11M337 465v11M339 465v11M341 465v11M342 465v11M345 465v11M351 465v11M357 465v11M359 465v11M362 465v11M363 465v11M378 465v11M388 465v11M390 465v11"/>
<path stroke="#9cff00" d="M147 230v4M147 246v2M147 262v2M147 272v2M147 333v3M147 357v6M148 220v2M149 318v3M149 393v6M217 402v3M226 244v2M226 256v2M226 282v2M226 294v2M227 226v2M227 258v2M227 288v2M227 296v2M228 232v2M228 236v2M228 240v2M228 256v2M228 276v2M228 327v3M230 212v2M230 270v2M230 375v3M231 152v2M231 236v4M232 240v2M232 246v2M233 230v4M233 240v2M235 230v2M235 242v2M236 228v2M237 218v2M237 254v2M238 200v2M238 218v2M239 230v2M239 234v2M240 248v4M240 262v2M240 278v2M240 286v2M240 290v2M240 315v3M240 327v3M240 354v3M241 200v4M241 208v2M241 218v2M241 264v2M241 270v2M241 284v4M241 296v2M242 250v2M242 268v2M242 274v2M242 278v2M242 284v4M242 345v3M243 204v2M243 276v2M244 226v2M244 252v4M245 220v2M245 236v2M245 282v2M245 294v2M246 216v2M246 220v2M246 256v2M247 384v3M248 363v3M249 260v2M249 282v2M249 290v2M250 298v8M251 348v3M252 254v2M252 324v3M253 272v2M253 336v9M254 244v2M254 315v6M254 333v6M255 292v2M255 333v3M256 336v3M259 270v2M259 284v2M259 292v2M259 296v2M259 315v3M259 321v3M259 396v3M260 266v2M260 278v2M260 288v2M261 276v2M261 282v2M261 290v2M261 296v2M261 321v3M262 336v3M264 276v2M264 360v3M265 312v3M265 321v6M266 354v3M268 348v3M270 357v3M272 312v3M272 345v3M272 351v3M273 318v3M274 298v8M274 357v3M277 327v3M279 372v3M280 345v3M281 360v3M286 321v9M288 360v3M289 366v3M291 339v3M291 354v3M291 363v3M293 366v3M293 402v3M294 345v3M295 354v3M295 363v3M297 312v3M298 366v3M299 342v3M300 345v6M301 348v3M304 342v3M304 348v3M306 298v8M306 351v3M307 360v3M308 298v8M310 348v3M312 348v3M315 296v2M316 366v3M318 345v3M319 315v3M321 296v2M322 298v8M324 348v3M326 351v3M326 375v3M329 348v3M331 351v3M333 345v3M336 296v2M338 351v3M338 381v3M338 390v6M338 399v3M341 399v3M346 345v3M346 402v3M347 292v2M347 351v3M348 296v2M349 324v3M350 339v3M351 342v3M353 336v6M354 372v3M355 348v3M356 296v10M357 296v2M357 339v3M358 294v2M359 339v3M362 345v3M362 369v6M363 342v3M366 296v2M366 318v3M366 324v3M367 296v10M368 298v8M368 336v3M369 321v6M370 294v2M371 292v2M372 345v3M373 288v2M373 327v3M374 294v2M375 298v8M379 296v2M379 315v3M379 330v3M381 318v3M386 294v2M386 315v3M388 288v2M391 298v8M392 290v2M394 288v2M137 434v11M149 434v11M151 434v11M181 434v11M187 434v11M193 434v11M194 434v11M201 434v11M220 434v11M139 445v10M175 445v10M276 455v10M277 455v10M296 465v11M300 465v11M303 465v11M319 465v11M324 465v11M328 465v11M330 465v11M335 465v11M336 465v11M340 465v11M343 465v11M358 465v11M377 465v11M389 465v11"/>
<path stroke="#acff00" d="M147 250v2M147 276v2M147 282v2M147 351v3M147 363v3M148 212v2M148 222v2M148 312v3M149 330v3M150 375v3M218 333v3M219 342v3M219 357v3M219 363v3M220 390v3M220 399v3M226 254v2M226 298v8M227 254v2M227 274v2M227 294v2M228 230v2M228 250v2M228 260v2M228 270v2M228 282v2M228 324v3M230 214v2M230 246v2M230 252v2M231 288v2M232 250v2M233 236v2M234 339v3M236 333v3M237 270v2M237 276v2M237 280v2M239 250v2M240 294v2M240 342v3M240 351v3M241 224v2M241 230v2M241 248v4M241 258v2M242 270v2M242 288v2M242 339v3M242 348v3M243 210v2M243 216v2M243 264v2M243 282v2M243 294v2M243 298v8M243 324v3M243 363v3M244 218v2M244 228v2M244 284v2M244 351v3M245 264v2M245 276v6M245 284v2M246 252v2M246 264v2M246 280v4M249 258v2M249 324v3M249 333v3M249 354v3M250 256v2M250 262v2M250 324v3M251 266v2M251 298v8M252 298v8M253 294v2M254 321v3M254 330v3M255 260v2M255 294v2M255 298v8M258 262v2M258 298v8M258 324v3M258 357v3M258 366v3M259 262v2M259 280v2M259 318v3M259 363v3M259 390v3M259 399v3M260 280v2M261 292v2M261 318v3M261 363v3M262 290v2M262 363v3M263 282v2M263 402v3M264 363v3M265 327v3M265 390v3M266 357v3M266 363v3M267 342v3M268 342v3M269 351v3M270 315v3M270 366v3M271 360v3M271 369v3M272 360v3M273 327v3M273 339v3M274 288v2M274 292v2M274 363v3M276 363v3M277 351v3M278 360v3M280 312v3M284 360v3M288 354v3M289 363v3M292 366v3M294 333v3M294 342v3M295 366v3M296 315v3M303 342v3M304 312v3M304 345v3M317 342v3M318 298v8M319 345v3M325 298v8M325 348v3M327 351v6M330 312v3M334 345v3M335 294v2M340 298v8M340 348v3M341 351v3M342 292v2M345 294v2M345 402v3M346 296v2M348 324v3M351 294v2M351 333v3M353 296v2M353 321v3M353 333v3M354 345v3M354 387v3M357 294v2M358 345v3M361 342v3M362 294v2M362 348v6M362 360v3M362 381v3M364 294v2M364 324v3M366 294v2M368 330v3M370 296v2M370 315v3M371 336v3M372 296v2M372 354v3M373 336v3M374 345v3M375 312v3M377 296v2M377 312v3M379 333v3M381 324v3M381 333v3M386 290v2M386 298v8M388 290v2M390 288v2M390 292v2M136 434v11M139 434v11M150 434v11M172 434v11M173 434v11M214 434v11M221 434v11M194 445v10M201 445v10M217 445v10M270 455v10M271 455v10M329 465v11M344 465v11"/>
<path stroke="#bcff00" d="M147 228v2M147 238v2M147 270v2M147 366v3M148 363v3M149 384v3M149 390v3M217 399v3M219 354v3M219 384v3M220 387v3M220 402v3M226 228v2M226 232v2M226 246v2M226 296v2M226 324v3M227 244v2M227 248v2M227 266v6M227 284v2M228 244v2M230 372v3M230 384v3M231 268v2M231 294v2M231 330v3M231 360v3M232 244v2M232 252v2M232 339v6M232 348v3M233 234v2M234 228v2M235 232v2M235 246v2M235 252v2M236 244v2M236 342v6M237 260v6M240 240v2M240 321v3M240 345v3M240 357v3M241 204v2M241 222v2M241 232v2M241 240v2M241 246v2M241 315v3M241 321v3M242 258v2M242 280v2M242 351v3M243 214v2M243 254v2M243 327v3M243 339v3M244 224v2M244 236v2M244 258v2M245 226v2M245 266v4M245 272v2M245 288v2M246 242v2M246 250v2M246 254v2M246 258v2M246 262v2M246 268v4M247 372v3M247 393v3M249 270v2M249 274v2M249 318v3M249 336v3M250 292v2M250 330v3M250 339v3M251 274v2M252 256v2M252 296v2M252 339v3M252 351v3M253 290v2M254 252v2M254 312v3M254 327v3M255 312v3M255 318v3M256 254v2M257 256v2M257 296v2M257 315v3M257 321v3M257 345v3M257 354v3M259 260v2M259 278v2M259 393v3M260 286v2M261 288v2M261 366v3M262 270v2M262 286v2M263 378v3M263 390v3M264 372v3M265 284v2M266 351v3M267 330v3M268 312v3M268 339v3M269 312v3M270 318v3M271 351v6M275 363v3M277 315v6M280 348v3M281 363v3M283 357v3M284 351v3M286 360v3M288 372v3M289 342v3M289 402v3M291 342v3M291 351v3M291 360v3M292 357v6M293 298v8M293 351v3M294 315v3M294 336v3M299 312v3M299 345v3M302 354v3M302 366v3M307 312v3M307 363v3M312 312v3M313 345v3M315 348v6M316 296v2M316 351v3M316 363v3M319 339v3M321 298v8M324 298v8M324 312v3M324 336v3M329 351v3M330 298v8M332 345v3M333 296v2M335 342v3M336 315v3M336 348v3M338 294v2M338 402v3M342 345v3M343 298v8M343 342v3M346 298v8M347 296v2M348 298v8M349 296v2M349 318v3M351 345v3M352 345v3M355 296v2M356 312v3M357 312v3M359 298v8M362 342v3M362 363v3M364 315v3M365 336v3M366 330v6M367 342v3M369 330v3M369 336v3M370 312v3M370 336v3M371 324v6M372 298v8M372 315v3M372 348v3M373 318v3M373 330v3M376 296v2M376 327v3M377 321v3M379 324v3M381 327v3M388 292v2M391 296v2M165 434v11M186 434v11M202 434v11M219 434v11M225 434v11M230 434v11M231 434v11M163 445v10M164 445v10M174 445v10M193 445v10M271 445v10M268 455v10M269 455v10M272 465v11"/>
<path stroke="#ccff00" d="M147 226v2M147 242v2M147 260v2M147 264v2M147 278v2M147 286v2M147 369v3M148 52v6M148 327v3M149 369v3M149 381v3M218 336v3M218 342v3M219 366v3M220 393v3M226 234v2M226 240v4M226 262v2M226 288v2M226 315v3M227 262v2M227 282v2M228 242v2M228 318v6M230 216v2M230 244v2M230 256v2M230 262v2M230 378v3M231 158v2M231 246v2M231 256v2M231 264v2M231 272v4M231 284v2M231 292v2M234 226v2M234 230v4M235 236v6M235 336v6M237 244v2M238 212v2M238 224v2M239 238v2M239 260v2M240 236v2M240 246v2M240 280v2M240 330v9M240 360v3M241 210v2M241 242v2M241 252v2M241 256v2M241 260v2M241 312v3M241 333v3M241 354v3M242 256v2M242 262v2M243 260v2M243 288v2M243 312v3M243 366v3M245 232v2M245 274v2M245 290v2M246 278v2M246 354v3M246 360v3M247 272v2M247 375v3M247 390v3M249 268v2M249 272v2M250 290v2M250 294v2M250 327v3M250 336v3M250 348v3M251 296v2M251 357v3M252 336v3M253 354v6M254 296v2M254 339v3M255 262v2M255 345v3M257 324v3M258 260v2M258 294v2M258 363v3M259 276v2M259 288v2M259 387v3M260 268v4M260 276v2M261 315v3M261 369v3M262 280v2M262 333v3M264 366v3M265 357v3M265 387v3M266 312v9M267 312v3M268 315v3M268 324v3M270 312v3M270 351v3M271 312v3M271 357v3M271 372v3M272 333v3M272 348v3M273 336v3M274 290v2M275 354v3M275 360v3M278 351v3M278 357v3M279 366v3M281 357v3M283 354v3M284 312v3M284 348v3M284 354v6M285 354v3M285 366v3M286 336v3M286 342v3M286 357v3M286 363v3M289 339v3M290 298v8M290 369v3M291 345v3M292 363v3M293 296v2M294 321v3M296 312v3M296 336v3M296 342v6M297 315v3M297 330v3M298 360v3M299 318v3M299 348v3M301 345v3M308 351v3M309 298v8M313 298v8M315 298v8M319 327v3M323 342v3M324 318v3M326 348v3M330 315v3M330 345v3M331 298v8M336 318v3M339 336v3M340 315v3M344 298v8M344 312v6M345 318v3M345 345v6M345 399v3M346 312v3M348 312v6M348 321v3M348 330v3M348 336v3M349 336v6M350 336v3M351 330v3M352 342v3M353 298v8M353 324v3M354 292v2M355 342v3M356 315v3M356 339v3M357 298v8M358 342v3M360 294v2M366 321v3M366 327v3M368 333v3M370 327v3M371 294v4M371 333v3M372 342v3M373 290v2M375 315v3M376 312v3M379 298v8M379 321v3M379 336v3M388 286v2M388 296v2M143 434v11M166 434v11M217 434v11M138 445v10M154 445v10M162 445v10M169 445v10M178 445v10M182 445v10M188 445v10M198 445v10M200 445v10M203 445v10M208 445v10M209 445v10M214 445v10M273 465v11"/>
<path stroke="#dcff00" d="M145 234v2M146 272v2M146 280v2M147 248v2M147 268v2M148 216v4M148 238v2M148 321v3M148 369v3M149 333v3M149 351v3M149 363v3M217 393v6M218 351v3M219 351v3M219 360v3M226 236v2M226 290v2M226 318v3M227 260v2M227 276v2M228 238v2M228 246v2M228 266v2M228 274v2M228 294v12M230 226v2M230 250v2M230 264v2M230 315v3M230 327v3M231 154v2M231 252v2M231 266v2M231 270v2M231 286v2M231 290v2M232 236v2M232 258v2M232 345v3M232 354v3M233 238v2M235 250v2M235 256v2M235 330v6M236 234v2M236 268v2M236 348v3M237 228v2M237 252v2M237 266v2M237 282v2M238 226v2M239 242v2M239 246v2M239 270v2M239 274v2M240 242v2M240 339v3M241 234v2M241 324v6M241 345v9M241 357v3M242 354v6M243 208v2M243 292v2M243 318v3M243 372v3M243 387v3M244 288v2M245 228v2M245 238v2M245 260v2M245 286v2M246 272v2M247 369v3M247 399v3M249 276v2M249 280v2M249 330v3M250 260v2M250 268v2M251 268v2M251 351v6M252 260v2M253 266v4M253 274v2M253 278v2M253 292v2M254 256v2M255 296v2M256 330v3M256 348v3M257 254v2M257 348v3M258 266v2M258 296v2M259 266v2M259 378v3M260 282v2M260 354v6M261 286v2M261 312v3M262 315v6M262 324v9M262 369v3M263 369v3M263 375v3M263 387v3M264 375v3M265 375v9M266 339v3M267 321v3M268 321v3M268 330v3M270 354v3M271 363v3M274 318v3M274 351v6M276 315v3M276 351v3M282 363v3M288 357v3M289 348v3M291 336v3M291 348v3M292 354v3M293 345v3M294 324v3M294 330v3M294 339v3M295 315v3M295 342v3M296 321v3M296 333v3M297 333v3M298 363v3M299 330v3M300 324v3M302 312v3M304 339v3M306 345v6M307 315v3M309 351v3M313 342v3M314 312v6M314 339v6M316 298v8M319 333v6M319 342v3M320 342v3M321 312v3M325 342v6M326 298v8M326 345v3M328 345v3M329 296v10M329 402v3M331 348v3M332 312v3M334 342v3M335 315v3M337 315v3M338 348v3M339 339v6M347 298v8M349 312v6M349 330v3M350 333v3M351 321v3M352 296v2M353 318v3M353 330v3M354 290v2M356 321v3M356 336v3M356 342v3M357 336v3M361 294v2M362 357v3M363 294v2M363 339v3M364 330v3M364 336v3M365 327v3M368 324v3M370 298v8M370 321v3M373 312v6M374 342v3M376 315v6M377 315v3M379 318v3M381 315v3M386 296v2M391 292v2M218 434v11M153 445v10M161 445v10M181 445v10M185 445v10M186 445v10M195 445v10M196 445v10M199 445v10M205 445v10M230 445v10M278 465v11M279 465v11M284 465v11"/>
<path stroke="#ecff00" d="M146 264v2M147 236v2M147 240v2M147 252v4M148 232v2M148 294v4M148 324v3M148 357v3M148 372v6M149 339v3M149 345v3M218 348v3M218 357v3M218 363v3M218 369v3M219 390v3M226 252v2M226 312v3M227 264v2M227 286v2M227 290v2M228 284v2M230 254v2M230 268v2M231 262v2M231 280v2M231 321v3M231 369v3M232 272v2M232 333v3M232 357v3M233 244v2M234 342v9M235 234v2M235 248v2M235 262v4M235 268v2M235 280v2M236 240v2M236 246v2M236 250v2M236 266v2M236 318v9M237 232v2M237 236v2M237 268v2M239 252v2M239 256v2M239 264v2M240 244v2M241 212v2M241 226v2M241 254v2M241 342v3M243 220v2M243 290v2M243 369v3M244 354v3M245 230v2M247 378v3M247 387v3M249 262v2M249 357v6M250 266v2M250 274v2M251 272v2M251 276v2M251 292v4M252 274v2M252 286v2M252 290v4M252 342v9M252 357v3M253 284v2M253 348v3M253 369v3M254 258v2M254 298v8M254 345v3M255 270v2M255 278v2M255 284v2M255 288v2M255 342v3M255 354v3M256 256v2M256 324v3M256 333v3M256 339v3M257 298v8M257 318v3M257 351v3M258 272v2M258 282v2M259 286v2M259 369v3M259 381v3M262 366v3M262 402v3M263 381v3M264 399v3M265 366v3M265 372v3M265 384v3M266 333v6M267 315v3M267 336v3M268 336v3M269 342v3M269 348v3M271 315v3M271 345v3M271 366v3M272 318v3M273 330v3M275 312v3M275 357v3M276 321v3M276 348v3M278 312v3M279 312v3M282 360v3M285 363v3M286 345v3M286 351v6M288 351v3M288 363v3M289 312v3M289 345v3M292 348v6M293 339v3M293 348v3M294 327v3M295 312v3M295 345v3M297 318v6M297 339v3M299 315v3M300 321v3M304 315v3M307 351v3M307 372v3M312 339v6M316 348v3M319 318v6M321 345v3M324 315v3M324 321v3M326 312v3M329 345v3M333 298v8M333 342v3M334 296v2M336 312v3M337 321v3M337 345v3M338 298v8M339 298v8M339 312v3M340 312v3M340 342v3M341 294v2M342 342v3M343 315v3M343 339v3M344 318v3M345 298v8M345 324v3M345 342v3M346 339v6M347 342v9M348 327v3M349 298v8M349 333v3M351 298v8M351 312v3M351 318v3M353 327v3M356 324v3M356 330v6M359 312v3M359 336v3M362 318v3M362 354v3M362 375v3M364 321v3M365 315v3M365 333v3M368 312v6M368 327v3M370 318v3M370 324v3M370 330v6M371 315v3M371 330v3M372 312v3M372 318v3M374 296v2M375 318v3M376 321v3M377 318v3M382 294v2M268 428v6M136 445v10M152 445v10M155 445v10M168 445v10M170 445v10M173 445v10M183 445v10M187 445v10M189 445v10M190 445v10M197 445v10M207 445v10M210 445v10M213 445v10M136 465v11M277 465v11M280 465v11M281 465v11"/>
<path stroke="#fdff00" d="M147 234v2M147 258v2M147 266v2M147 274v2M148 224v2M148 290v2M148 315v3M148 330v3M149 336v3M149 342v3M149 348v3M149 360v3M217 384v3M218 345v3M218 366v3M218 372v3M219 372v3M219 399v3M226 248v2M227 280v2M228 248v2M228 290v2M228 315v3M230 242v2M230 258v2M230 318v3M230 390v3M231 248v2M231 260v2M231 278v2M231 296v2M231 315v3M231 327v3M232 248v2M232 260v2M232 264v2M232 363v3M233 242v2M234 240v2M234 351v6M235 258v2M235 266v2M235 274v2M236 274v2M236 327v3M236 351v3M237 246v4M238 228v2M238 238v2M238 333v3M239 240v2M239 333v3M241 206v2M241 336v3M242 387v3M243 284v2M243 333v3M243 381v6M244 360v3M245 254v4M245 360v3M247 402v3M248 366v3M248 402v3M249 321v3M250 264v2M250 282v2M250 288v2M250 342v6M251 360v3M252 258v2M252 282v2M252 288v2M252 354v3M252 363v3M253 280v4M253 288v2M253 360v6M254 292v4M254 342v3M255 266v4M255 280v2M255 286v2M255 348v6M256 327v3M256 342v6M257 260v2M257 280v2M257 284v2M257 288v2M257 357v3M258 276v2M258 292v2M258 315v3M259 375v3M259 384v3M260 402v3M265 360v3M266 327v3M267 318v3M268 333v3M271 333v3M271 348v3M275 315v6M275 351v3M276 318v3M276 342v3M278 321v3M279 360v6M280 321v3M281 327v3M281 354v3M283 312v3M283 330v3M283 348v3M285 298v8M285 360v3M286 348v3M286 366v3M290 372v3M291 357v3M292 339v3M295 348v3M298 318v3M299 324v3M299 339v3M300 342v3M301 315v3M303 312v3M303 336v3M305 339v3M306 315v3M307 321v3M308 348v3M311 348v6M312 315v6M312 345v3M314 336v3M315 339v3M319 330v3M321 342v3M323 345v3M324 333v3M324 342v3M326 342v3M327 298v8M327 348v3M328 298v8M328 330v3M329 318v3M330 324v3M335 298v8M335 339v3M336 321v3M337 298v8M338 296v2M339 315v3M341 312v3M341 348v3M342 312v3M342 321v3M344 345v3M345 312v3M345 321v3M345 327v3M345 339v3M346 292v2M346 315v3M346 321v3M348 339v3M350 327v3M351 296v2M351 327v3M352 339v3M353 312v3M356 318v3M357 327v3M360 330v3M363 296v2M364 318v3M364 327v3M365 294v2M365 312v3M365 330v3M367 312v3M367 402v3M368 321v3M371 318v6M374 339v3M377 294v2M390 286v2M391 294v2M269 428v6M140 434v11M142 434v11M137 445v10M149 445v10M160 445v10M167 445v10M180 445v10M184 445v10M191 445v10M192 445v10M204 445v10M206 445v10M211 445v10M212 445v10M137 465v11M138 465v11M268 465v11M271 465v11M276 465v11"/>
<path stroke="#fffa00" d="M146 266v2M146 274v2M147 244v2M147 256v2M148 256v2M148 286v4M149 354v6M149 366v3M149 375v3M217 390v3M218 360v3M218 393v3M219 369v3M226 238v2M226 321v3M228 278v2M228 286v2M228 292v2M230 224v2M230 230v2M230 248v2M230 321v3M231 242v4M231 250v2M231 254v2M231 298v8M231 324v3M231 363v3M231 372v3M232 256v2M232 266v2M232 270v2M232 351v3M233 248v2M233 252v2M233 264v2M233 272v2M234 244v2M234 250v2M234 256v4M234 333v3M234 357v3M235 270v2M235 276v2M235 348v3M236 238v2M236 252v2M236 330v3M237 230v2M237 272v2M237 286v2M237 292v2M237 339v3M237 348v3M238 232v2M238 236v2M238 324v3M239 248v2M239 258v2M239 268v2M239 284v2M239 321v3M240 363v6M241 330v3M241 363v3M244 357v3M245 240v2M250 280v2M251 280v2M251 290v2M251 363v3M252 360v3M253 366v3M254 348v3M255 272v2M255 276v2M255 282v2M256 258v2M256 315v3M256 321v3M256 354v3M258 318v3M258 369v3M260 396v6M264 381v3M265 318v3M266 321v3M266 342v3M267 327v3M267 333v3M269 318v3M269 324v3M269 345v3M270 321v6M270 345v3M272 315v3M274 342v6M276 324v3M276 339v3M276 345v3M277 348v3M280 327v6M281 336v3M281 348v3M282 357v3M284 315v3M284 324v3M284 342v3M285 357v3M287 312v3M288 342v6M291 330v3M293 336v3M293 342v3M296 318v3M297 327v3M298 342v3M298 348v3M299 321v3M299 336v3M300 318v3M300 327v3M301 312v3M301 342v3M302 351v3M302 360v3M303 315v3M303 321v3M308 315v3M308 339v3M308 345v3M310 339v6M312 330v3M313 339v3M314 321v3M315 342v3M316 312v3M317 298v8M320 312v6M320 339v3M320 345v3M324 339v3M328 321v3M328 339v3M330 330v3M332 339v6M333 339v3M335 296v2M336 330v3M336 345v3M337 318v3M341 298v8M342 315v3M342 339v3M343 312v3M343 318v3M343 333v6M344 330v3M345 336v3M347 312v3M348 333v3M350 298v8M350 324v3M350 330v3M351 339v3M355 294v2M357 324v3M357 333v3M358 339v3M359 318v3M359 327v3M362 312v3M362 324v3M363 312v3M364 296v2M364 312v3M365 324v3M371 312v3M372 324v3M373 292v2M376 298v8M377 298v8M270 428v6M271 428v6M141 434v11M156 445v10M179 445v10M219 445v10M231 445v10M164 455v10M193 465v11M269 465v11M270 465v11M275 465v11M282 465v11M283 465v11M268 476v10M278 476v10M279 476v10M380 476v10"/>
<path stroke="#fff500" d="M146 262v2M146 296v2M148 228v2M148 244v2M148 274v2M148 284v2M148 292v2M148 351v3M148 381v3M149 378v3M217 351v3M217 357v3M217 381v3M217 387v3M218 339v3M218 354v3M218 378v3M219 396v3M219 402v3M228 288v2M230 238v2M230 266v2M230 312v3M230 381v3M230 387v3M231 240v2M231 258v2M231 312v3M231 318v3M231 366v3M232 254v2M232 268v2M232 286v2M232 321v3M232 327v3M233 246v2M233 250v2M233 280v2M234 246v2M234 252v2M234 268v2M235 272v2M235 321v3M236 248v2M236 256v2M236 262v2M237 250v2M238 230v2M238 330v3M238 345v3M239 262v2M239 276v2M239 280v2M239 288v2M239 318v3M239 345v3M239 351v3M240 252v2M241 220v2M241 375v3M242 360v3M242 384v3M242 393v3M243 330v3M243 375v6M243 393v3M245 252v2M245 363v3M246 276v2M247 381v3M248 369v3M248 396v3M249 278v2M249 327v3M250 278v2M250 357v3M251 270v2M251 286v2M252 262v2M254 262v2M254 286v2M255 274v2M255 290v2M257 274v4M257 312v3M258 290v2M258 312v3M259 264v2M259 272v2M259 372v3M260 366v3M260 381v3M260 390v3M261 372v3M262 375v3M262 396v6M263 384v3M264 378v3M264 387v6M264 396v3M265 363v3M266 330v3M267 324v3M269 321v3M269 330v3M270 330v3M270 348v3M271 318v3M271 336v3M271 342v3M272 321v3M272 339v6M274 312v3M274 330v3M276 327v3M276 336v3M278 345v3M280 318v3M280 336v3M281 345v3M281 351v3M283 315v3M283 324v3M283 345v3M284 318v3M284 336v3M284 345v3M285 351v3M288 339v3M288 348v3M289 315v3M289 321v3M289 333v6M290 360v3M291 318v3M291 333v3M292 336v3M292 345v3M295 339v3M296 330v3M297 324v3M297 336v3M298 345v3M300 333v3M300 339v3M301 318v3M303 339v3M304 321v3M305 312v3M305 342v3M308 312v3M310 345v3M314 318v3M314 324v3M315 345v3M318 312v3M318 336v9M320 330v3M320 336v3M322 339v6M323 312v3M323 336v3M324 330v3M329 312v6M330 318v6M330 336v6M331 345v3M332 318v6M335 312v3M335 327v3M335 333v3M336 339v3M338 345v3M340 318v6M340 345v3M341 296v2M342 294v2M342 327v6M342 336v3M343 321v3M344 339v6M346 324v6M347 318v3M348 318v3M349 321v3M351 336v3M352 298v8M354 339v6M355 298v8M357 318v6M359 330v6M360 296v2M361 296v2M362 315v3M362 321v3M362 327v3M363 336v3M364 298v8M365 296v2M365 321v3M367 315v3M379 312v3M391 288v2M392 286v2M392 292v2M140 445v10M159 445v10M165 445v10M166 445v10M171 445v10M220 445v10M229 445v10M140 455v10M152 455v10M165 455v10M167 455v10M166 465v11M173 465v11M206 465v11M274 465v11M269 476v10M347 476v10M348 476v10M359 476v10M371 476v10M372 476v10M379 476v10"/>
<path stroke="#fff000" d="M148 236v2M148 262v2M148 276v2M148 333v3M148 366v3M218 387v3M218 396v3M219 375v3M219 381v3M219 393v3M228 280v2M228 312v3M230 220v2M230 232v2M230 240v2M230 260v2M230 280v2M230 284v2M230 402v3M231 381v3M232 315v3M232 324v3M232 366v3M232 402v3M233 284v2M234 242v2M235 278v2M235 318v3M235 324v3M236 236v2M236 254v2M236 272v2M236 280v2M237 234v2M237 284v2M237 342v3M238 315v3M238 348v3M239 272v2M239 312v3M239 327v6M240 369v3M240 375v3M242 375v3M242 399v3M243 336v3M243 390v3M244 363v3M245 246v2M245 250v2M245 258v2M246 366v6M246 381v3M247 396v3M248 372v3M248 393v3M250 270v4M250 276v2M250 284v4M250 354v3M251 288v2M252 272v2M252 276v2M254 260v2M254 282v2M254 357v3M256 312v3M256 318v3M257 258v2M257 262v4M257 282v2M257 292v2M258 264v2M258 286v2M259 268v2M262 321v3M262 372v3M264 393v3M264 402v3M265 369v3M266 324v3M268 327v3M271 321v9M272 324v3M272 336v3M274 315v3M274 348v3M275 321v3M275 345v3M278 348v3M280 315v3M280 333v3M281 321v3M281 330v3M281 339v3M283 318v3M283 333v3M283 342v3M283 351v3M284 321v3M285 348v3M289 330v3M290 336v3M290 357v3M291 312v3M292 315v3M295 318v3M295 336v3M296 324v3M298 339v3M299 327v3M299 333v3M300 336v3M302 315v6M304 318v3M305 315v3M305 333v3M307 318v3M307 324v6M307 345v6M308 318v3M310 315v3M310 336v3M312 336v3M314 330v6M315 318v3M316 345v3M318 318v3M319 324v3M323 321v3M323 339v3M328 312v3M328 333v3M328 342v3M332 315v3M332 327v6M334 336v3M335 318v3M336 324v3M337 327v3M337 342v3M338 312v3M339 324v3M340 324v3M340 336v3M341 345v3M342 298v8M342 333v3M344 321v3M344 336v3M345 315v3M346 330v3M347 321v3M347 330v3M347 339v3M350 318v6M351 324v3M355 330v3M357 315v3M357 330v3M358 298v8M359 324v3M360 339v3M363 318v3M363 324v3M363 330v6M367 327v3M367 336v3M371 298v8M372 321v3M373 294v2M392 288v2M143 445v10M150 445v10M151 445v10M157 445v10M158 445v10M172 445v10M218 445v10M166 455v10M168 455v10M187 455v10M192 455v10M165 465v11M172 465v11M174 465v11M183 465v11M185 465v11M192 465v11M271 476v10M277 476v10M300 476v10M314 476v10M321 476v10M322 476v10M323 476v10M324 476v10M325 476v10M330 476v10M331 476v10M335 476v10M336 476v10M341 476v10M342 476v10M345 476v10M346 476v10M349 476v10M350 476v10M351 476v10M353 476v10M354 476v10M356 476v10M357 476v10M358 476v10M360 476v10M366 476v10M367 476v10M370 476v10M373 476v10M375 476v10M376 476v10M381 476v10M384 476v10M385 476v10M392 476v10M393 476v10M394 476v10"/>
<path stroke="#ffeb00" d="M146 268v2M146 278v2M146 286v6M148 234v2M148 240v4M148 260v2M148 280v2M148 354v3M148 360v3M148 384v3M149 372v3M217 345v6M217 363v3M218 375v3M218 402v3M230 228v2M230 236v2M230 274v2M230 286v2M230 324v3M230 399v3M231 375v3M231 384v6M231 399v3M232 290v2M232 312v3M232 330v3M232 360v3M233 256v2M234 234v2M234 248v2M234 280v2M234 324v6M234 336v3M235 315v3M236 284v2M237 238v2M237 345v3M237 351v3M238 240v2M238 248v2M238 252v2M238 321v3M238 342v3M239 254v2M239 315v3M239 357v3M241 366v3M242 366v3M242 378v3M242 396v3M242 402v3M243 396v3M245 234v2M245 242v4M245 292v2M245 399v3M246 390v3M248 375v6M248 384v6M250 351v3M251 278v2M251 282v4M252 268v2M252 280v2M252 284v2M254 351v6M255 264v2M257 266v2M257 286v2M257 294v2M258 268v4M258 274v2M258 280v2M258 288v2M258 372v6M259 274v2M260 363v3M260 378v3M260 393v3M261 378v3M261 390v3M264 384v3M269 336v6M270 342v3M271 339v3M274 336v6M276 330v3M278 315v3M278 324v3M278 330v3M278 339v3M279 351v9M280 342v3M282 354v3M284 330v6M284 339v3M287 318v3M288 336v3M290 363v3M291 315v3M292 342v3M295 324v3M296 327v3M302 348v3M303 330v3M304 336v3M305 336v3M306 312v3M308 330v3M309 348v3M310 312v3M313 318v3M315 315v3M315 336v3M316 315v3M320 318v3M321 339v3M322 318v3M325 312v3M325 339v3M326 315v3M326 333v3M326 339v3M328 318v3M328 336v3M329 342v3M330 327v3M331 342v3M333 321v3M334 298v8M334 312v3M335 324v3M335 336v3M337 336v6M340 330v3M342 296v2M343 324v6M345 296v2M345 333v3M346 318v3M346 333v3M347 327v3M349 327v3M350 296v2M350 312v3M351 315v3M354 330v3M356 327v3M358 330v3M360 336v3M361 339v3M362 296v2M362 330v3M362 339v3M363 298v8M363 315v3M363 321v3M365 318v3M367 321v3M374 327v3M391 286v2M263 428v6M266 428v6M267 428v6M142 445v10M221 445v10M228 445v10M141 455v10M151 455v10M153 455v10M154 455v10M169 455v10M185 455v10M186 455v10M188 455v10M155 465v11M182 465v11M188 465v11M189 465v11M194 465v11M205 465v11M270 476v10M272 476v10M280 476v10M281 476v10M290 476v10M293 476v10M295 476v10M296 476v10M299 476v10M301 476v10M302 476v10M310 476v10M311 476v10M315 476v10M316 476v10M320 476v10M326 476v10M332 476v10M334 476v10M337 476v10M338 476v10M340 476v10M343 476v10M352 476v10M355 476v10M361 476v10M368 476v10M369 476v10M374 476v10M382 476v10M386 476v10M387 476v10M389 476v10M390 476v10M391 476v10"/>
<path stroke="#ffe500" d="M146 292v2M148 270v4M148 339v9M148 378v3M148 387v3M217 333v3M217 339v3M217 354v3M218 399v3M219 378v3M219 387v3M230 222v2M230 272v2M230 393v3M231 393v3M232 284v2M232 318v3M233 254v2M233 278v2M233 282v2M234 254v2M234 266v2M234 276v2M234 318v3M234 360v3M235 254v2M235 284v2M235 288v2M235 294v2M235 327v3M235 342v6M236 242v2M236 258v4M236 264v2M236 276v2M237 242v2M237 357v3M238 244v2M238 254v2M238 262v2M238 327v3M239 266v2M239 278v2M239 294v2M239 339v3M239 348v3M239 363v3M240 372v3M240 378v3M240 384v3M241 339v3M241 381v3M241 393v3M242 372v3M242 381v3M242 390v3M243 286v2M245 248v2M245 369v3M245 381v3M246 363v3M246 375v3M248 390v3M248 399v3M249 366v3M252 266v2M252 270v2M252 366v3M254 274v6M254 360v3M256 260v6M256 298v8M256 351v3M256 360v3M257 290v2M257 366v6M257 378v3M258 278v2M258 284v2M260 360v3M260 369v9M261 375v3M262 381v3M269 327v3M269 333v3M270 333v3M270 339v3M274 333v3M275 324v3M275 342v3M275 348v3M278 318v3M278 333v6M280 339v3M281 312v3M281 318v3M282 315v3M282 330v6M282 342v3M283 336v3M287 342v6M290 351v3M292 318v3M295 321v3M298 327v3M300 330v3M301 333v3M301 339v3M303 318v3M303 324v3M303 333v3M304 330v6M305 321v3M305 330v3M306 342v3M307 330v3M308 336v3M310 321v3M311 312v3M311 345v3M312 327v3M313 315v3M313 330v3M313 336v3M315 312v3M316 318v3M316 336v3M317 339v3M318 315v3M320 324v3M320 333v3M321 315v3M322 312v3M322 336v3M323 315v3M323 324v3M325 315v3M326 318v6M327 312v3M327 345v3M329 324v3M329 339v3M330 333v3M331 312v3M332 324v3M332 333v6M333 312v6M334 318v3M334 339v3M335 321v3M335 330v3M336 327v3M337 324v3M337 330v6M339 318v3M339 327v3M339 333v3M340 339v3M341 315v3M346 336v3M347 315v3M352 321v3M352 327v3M354 294v2M354 312v3M358 296v2M358 336v3M359 315v3M360 312v3M361 298v8M361 333v6M362 298v8M362 336v3M363 327v3M367 339v3M372 330v3M372 339v3M373 298v8M374 318v3M374 330v6M391 290v2M141 445v10M226 445v10M227 445v10M149 455v10M198 455v10M201 455v10M202 455v10M208 455v10M209 455v10M217 455v10M141 465v11M150 465v11M156 465v11M164 465v11M184 465v11M186 465v11M217 465v11M273 476v10M282 476v10M286 476v10M287 476v10M288 476v10M289 476v10M294 476v10M297 476v10M298 476v10M303 476v10M305 476v10M306 476v10M309 476v10M312 476v10M313 476v10M317 476v10M327 476v10M328 476v10M329 476v10M333 476v10M339 476v10M344 476v10M362 476v10M363 476v10M378 476v10M383 476v10M388 476v10"/>
<path stroke="#ffe000" d="M146 270v2M146 276v2M146 282v2M146 294v2M148 248v2M148 252v4M148 268v2M148 282v2M148 318v3M148 348v3M148 390v3M216 333v3M217 342v3M217 375v6M218 381v3M230 278v2M230 396v3M231 378v3M231 390v3M232 262v2M232 274v2M232 278v2M232 282v2M232 378v3M232 384v3M232 399v3M233 258v2M233 286v2M234 264v2M234 272v2M234 284v2M234 312v3M235 286v2M235 351v3M236 270v2M236 354v3M237 288v2M237 294v2M238 242v2M238 256v2M238 280v2M238 318v3M238 339v3M238 351v3M239 282v2M239 292v2M239 298v8M239 324v3M239 354v3M241 360v3M241 384v3M242 363v3M243 402v3M245 384v15M245 402v3M246 402v3M248 381v3M249 363v3M252 278v2M254 270v4M255 357v3M256 296v2M257 270v2M257 360v3M260 384v3M261 381v3M261 393v3M261 402v3M262 378v3M262 384v3M262 390v6M270 327v3M271 330v3M274 324v3M275 330v3M276 333v3M279 318v6M279 348v3M281 333v3M282 312v3M282 321v3M283 339v3M287 315v3M287 333v3M287 348v3M288 312v3M288 327v3M288 333v3M289 318v3M289 324v6M290 333v3M291 324v3M298 315v3M301 330v3M302 324v3M306 318v3M306 333v9M308 324v6M308 333v3M310 333v3M311 342v3M312 321v6M312 333v3M313 321v3M314 327v3M315 330v6M316 339v3M317 336v3M320 321v3M320 327v3M321 321v3M321 333v3M322 315v3M323 318v3M323 330v6M324 324v3M325 321v3M326 327v6M328 315v3M333 336v3M334 315v3M334 327v3M334 333v3M336 333v6M338 315v3M339 330v3M341 339v3M342 318v3M342 324v3M344 333v3M347 324v3M347 333v6M350 315v3M352 312v3M352 330v3M354 315v3M354 336v3M355 321v6M355 333v3M358 327v3M360 298v8M360 324v6M360 333v3M361 312v3M361 318v3M361 324v3M362 333v3M365 298v8M367 318v3M367 330v3M372 327v3M374 298v8M374 312v3M374 324v3M259 428v6M264 428v6M222 445v10M139 455v10M142 455v10M150 455v10M170 455v10M171 455v10M172 455v10M193 455v10M203 455v10M207 455v10M210 455v10M139 465v11M144 465v11M162 465v11M163 465v11M187 465v11M195 465v11M204 465v11M209 465v11M210 465v11M211 465v11M236 465v11M276 476v10M283 476v10M285 476v10M291 476v10M292 476v10M304 476v10M318 476v10M319 476v10M364 476v10M365 476v10M377 476v10"/>
<path stroke="#ffdb00" d="M146 284v2M148 230v2M148 246v2M148 250v2M148 258v2M148 278v2M148 336v3M216 339v6M217 366v3M218 390v3M230 276v2M230 294v2M231 396v3M232 280v2M232 292v2M232 296v2M232 369v3M232 375v3M232 387v6M233 290v2M234 236v4M234 274v2M234 315v3M234 330v3M235 282v2M235 296v2M235 312v3M235 354v3M236 286v2M236 292v2M237 360v3M238 272v2M238 354v3M239 336v3M239 342v3M240 381v3M243 399v3M244 375v3M246 372v3M246 378v3M246 393v3M249 369v3M252 264v2M252 375v3M254 266v4M254 290v2M255 372v3M257 278v2M257 363v3M260 387v3M261 399v3M270 336v3M274 327v3M275 327v3M278 342v3M279 345v3M280 324v3M281 315v3M281 324v3M282 318v3M282 327v3M282 336v3M282 348v6M283 321v3M284 327v3M285 312v6M285 345v3M287 324v3M287 339v3M288 315v3M288 321v3M290 339v3M290 354v3M291 327v3M292 321v3M292 330v6M293 312v3M293 333v3M295 330v6M298 312v3M298 324v3M301 321v3M301 327v3M302 321v3M306 321v3M307 342v3M308 321v3M308 342v3M309 345v3M310 318v3M310 327v3M313 312v3M313 333v3M316 321v6M316 330v3M321 336v3M322 333v3M324 327v3M325 336v3M328 324v3M333 327v3M334 324v3M334 330v3M338 330v3M338 342v3M341 342v3M343 330v3M345 330v3M352 318v3M352 336v3M354 327v3M355 327v3M355 339v3M358 315v9M358 333v3M360 315v3M360 321v3M361 315v3M361 327v6M367 324v3M372 333v3M374 336v3M260 428v6M225 445v10M143 455v10M157 455v10M158 455v10M163 455v10M174 455v10M175 455v10M177 455v10M180 455v10M184 455v10M189 455v10M191 455v10M204 455v10M205 455v10M140 465v11M142 465v11M143 465v11M145 465v11M149 465v11M151 465v11M153 465v11M154 465v11M161 465v11M167 465v11M171 465v11M175 465v11M178 465v11M179 465v11M191 465v11M203 465v11M207 465v11M214 465v11M274 476v10M275 476v10M307 476v10M308 476v10"/>
<path stroke="#ffd500" d="M148 264v4M216 336v3M216 372v3M217 360v3M217 372v3M230 234v2M230 290v4M232 288v2M232 298v8M232 372v3M233 260v2M234 278v2M234 282v2M235 357v3M236 282v2M236 288v2M236 312v6M236 360v3M237 240v2M237 290v2M237 296v2M237 324v9M237 336v3M237 354v3M237 363v3M238 270v2M238 288v2M238 296v2M238 360v3M239 290v2M239 360v3M239 369v6M240 387v6M240 399v3M241 372v3M241 378v3M244 378v3M245 366v3M246 387v3M250 375v3M251 366v3M252 369v6M254 264v2M254 280v2M254 288v2M254 363v3M255 360v3M256 278v2M256 357v3M256 366v3M257 272v2M272 327v3M274 321v3M275 333v6M279 327v3M281 342v3M282 324v3M282 339v3M282 345v3M288 318v3M290 342v3M290 348v3M290 366v3M291 321v3M292 312v3M292 327v3M293 330v3M298 321v3M301 336v3M302 345v3M303 327v3M304 327v3M305 318v3M307 339v3M311 333v3M311 339v3M315 321v3M315 327v3M318 333v3M322 330v3M326 336v3M329 321v3M329 330v6M333 318v3M333 324v3M336 342v3M338 318v3M338 339v3M339 321v3M340 333v3M344 324v3M352 324v3M352 333v3M355 315v3M355 336v3M358 312v3M359 321v3M373 296v2M374 321v3M261 428v6M262 428v6M265 428v6M155 455v10M156 455v10M159 455v10M179 455v10M197 455v10M200 455v10M206 455v10M211 455v10M214 455v10M226 455v10M227 455v10M152 465v11M157 465v11M176 465v11M177 465v11M181 465v11M190 465v11M196 465v11M197 465v11M198 465v11M199 465v11M202 465v11M208 465v11M284 476v10"/>
<path stroke="#ffd000" d="M148 393v6M216 354v3M217 336v3M218 384v3M230 282v2M232 276v2M232 294v2M232 396v3M233 266v6M233 276v2M233 292v2M233 296v10M234 270v2M234 286v2M234 296v2M234 321v3M236 278v2M236 294v4M237 298v8M237 312v12M237 369v3M238 250v2M238 268v2M238 290v2M238 312v3M238 336v3M239 286v2M239 296v2M239 366v3M240 402v3M241 396v3M244 366v3M244 381v3M245 375v3M246 399v3M250 360v6M251 369v3M254 284v2M256 294v2M257 372v3M258 378v6M258 396v3M261 384v3M261 396v3M278 327v3M279 324v3M285 318v3M285 342v3M287 321v3M287 330v3M290 330v3M292 324v3M302 327v3M302 339v6M305 327v3M306 327v3M307 336v3M309 312v3M311 315v6M313 327v3M315 324v3M316 342v3M317 333v3M321 318v3M322 324v3M325 327v3M325 333v3M326 324v3M327 324v3M328 327v3M331 339v3M333 330v3M334 321v3M338 324v3M338 333v3M341 318v3M341 336v3M344 327v3M352 315v3M354 321v3M354 333v3M355 312v3M360 318v3M367 333v3M372 336v3M258 428v6M173 455v10M176 455v10M178 455v10M181 455v10M182 455v10M194 455v10M199 455v10M218 455v10M223 455v10M170 465v11M180 465v11M271 486v10"/>
<path stroke="#ffcb00" d="M148 399v3M216 345v3M216 360v3M216 366v3M217 369v3M230 288v2M230 298v8M231 402v3M233 294v2M233 312v3M234 262v2M234 290v4M235 292v2M236 298v8M236 357v3M238 258v2M238 264v2M238 276v4M238 284v4M238 292v2M238 357v3M239 375v3M241 369v3M241 387v6M241 399v3M244 369v6M244 384v3M245 378v3M246 384v3M246 396v3M249 375v3M255 363v3M256 290v4M257 375v3M257 384v3M261 387v3M262 387v3M272 330v3M283 327v3M287 327v3M287 336v3M287 363v3M288 324v3M288 330v3M290 345v3M293 315v3M295 327v3M298 330v3M304 324v3M306 324v3M307 333v3M310 324v3M311 324v3M313 324v3M317 312v3M317 327v3M318 321v3M322 321v3M327 315v6M327 342v3M341 321v9M341 333v3M354 324v3M361 321v3M374 315v3M223 445v10M224 445v10M136 455v10M160 455v10M183 455v10M190 455v10M212 455v10M224 455v10M228 455v10M169 465v11M200 465v11M201 465v11M268 486v10M269 486v10M270 486v10"/>
<path stroke="#ffc500" d="M216 357v3M216 378v3M216 393v3M232 381v3M233 262v2M233 288v2M234 298v8M235 298v8M236 290v2M237 333v3M237 366v3M238 246v2M238 266v2M238 274v2M238 298v8M238 363v6M240 396v3M242 369v3M245 372v3M249 372v3M252 399v3M254 366v9M255 366v3M256 270v2M256 274v2M256 363v3M256 369v3M257 381v3M257 399v3M258 402v3M279 315v3M279 336v3M285 324v3M285 336v3M287 354v3M290 312v6M293 318v3M301 324v3M302 336v3M305 324v3M309 318v3M309 342v3M311 327v6M311 336v3M316 327v3M318 324v9M321 327v3M322 327v3M325 318v3M325 324v3M327 339v3M329 327v3M331 321v3M338 321v3M340 327v3M354 298v8M354 318v3M355 318v3M358 324v3M267 434v11M266 445v10M138 455v10M196 455v10M213 455v10M225 455v10M158 465v11M168 465v11M212 465v11"/>
<path stroke="#ffc000" d="M148 226v2M216 348v3M216 363v3M216 375v3M216 384v3M216 396v3M230 296v2M232 393v3M233 318v3M233 330v3M234 288v2M234 294v2M234 363v3M235 290v2M244 387v3M250 366v3M252 390v3M254 375v3M256 372v3M257 268v2M257 387v3M257 393v3M258 399v3M275 339v3M279 333v3M285 321v3M285 327v3M285 339v3M290 327v3M293 327v3M302 330v3M309 315v3M310 330v3M311 321v3M316 333v3M317 330v3M321 324v3M321 330v3M323 327v3M329 336v3M331 315v3M331 324v3M333 333v3M338 327v3M338 336v3M341 330v3M267 445v10M161 455v10M162 455v10M195 455v10M219 455v10M229 455v10M231 455v10M160 465v11M213 465v11"/>
<path stroke="#ffbb00" d="M146 351v3M216 381v3M216 387v6M216 399v6M233 315v3M233 333v3M234 260v2M237 372v3M238 260v2M238 282v2M238 294v2M240 393v3M241 402v3M250 396v3M252 378v3M252 402v3M254 396v6M255 369v3M255 378v3M256 280v2M258 390v3M279 339v3M287 366v3M290 318v3M298 333v6M302 333v3M317 315v3M325 330v3M327 336v3M354 296v2M264 434v11M137 455v10M222 455v10M230 455v10M159 465v11"/>
<path stroke="#ffb400" d="M148 402v3M216 369v3M233 274v2M233 321v9M233 339v3M237 399v3M238 375v3M250 369v6M250 378v3M250 402v3M251 372v3M252 387v3M252 396v3M254 378v3M255 393v3M255 402v3M256 266v4M256 272v2M256 276v2M256 286v2M257 390v3M257 396v3M258 384v3M285 330v6M287 351v3M287 357v3M290 321v3M327 321v3M331 336v3M265 434v11M266 434v11M170 476v10"/>
<path stroke="#ffac00" d="M146 363v3M216 351v3M233 342v3M233 360v3M234 366v6M238 369v6M244 390v3M250 381v3M250 399v3M254 402v3M255 381v3M256 282v2M257 402v3M258 387v3M279 330v3M279 342v3M287 360v3M287 369v3M293 324v3M306 330v3M309 324v6M309 333v3M309 339v3M317 318v3M327 327v3M331 318v3M265 445v10M144 476v10M149 476v10M150 476v10M171 476v10M186 476v10M187 476v10M191 476v10"/>
<path stroke="#ffa400" d="M233 357v3M235 363v3M237 378v3M244 399v3M249 387v3M250 393v3M252 384v3M256 284v2M256 288v2M256 375v3M290 324v3M293 321v3M309 321v3M309 330v3M317 321v6M331 327v3M235 428v6M263 434v11M220 455v10M221 455v10M219 465v11M220 465v11M226 465v11M227 465v11M143 476v10M154 476v10M155 476v10M169 476v10M172 476v10M175 476v10M179 476v10M180 476v10M207 476v10M212 476v10M213 476v10M277 486v10M283 486v10"/>
<path stroke="#ff9c00" d="M233 348v3M234 372v3M238 381v3M249 381v3M249 390v6M252 381v3M252 393v3M254 384v3M254 390v3M255 375v3M255 384v3M258 393v3M327 333v3M234 428v6M264 445v10M218 465v11M225 465v11M228 465v11M229 465v11M156 476v10M160 476v10M174 476v10M176 476v10M177 476v10M178 476v10M188 476v10M189 476v10M190 476v10M192 476v10M204 476v10M206 476v10M211 476v10M272 486v10M273 486v10M276 486v10M278 486v10M282 486v10M284 486v10"/>
<path stroke="#ff9400" d="M233 354v3M235 360v3M237 375v3M239 378v3M249 378v3M249 402v3M250 384v3M250 390v3M251 381v3M254 387v3M254 393v3M255 399v3M331 330v6M263 445v10M264 455v10M145 476v10M153 476v10M157 476v10M159 476v10M164 476v10M173 476v10M185 476v10M200 476v10M203 476v10M205 476v10M214 476v10M217 476v10M274 486v10M275 486v10M279 486v10M320 486v10M337 486v10M357 486v10M369 486v10M370 486v10M375 486v10M392 486v10"/>
<path stroke="#ff8c00" d="M146 357v3M233 336v3M233 351v3M233 363v3M235 366v3M236 363v3M236 369v3M237 393v3M244 393v3M249 384v3M249 396v3M250 387v3M253 381v3M254 381v3M255 396v3M309 336v3M327 330v3M263 455v10M230 465v11M137 476v10M138 476v10M139 476v10M140 476v10M142 476v10M151 476v10M158 476v10M161 476v10M165 476v10M181 476v10M199 476v10M208 476v10M210 476v10M280 486v10M281 486v10M293 486v10M294 486v10M306 486v10M311 486v10M312 486v10M319 486v10M321 486v10M322 486v10M327 486v10M328 486v10M329 486v10M330 486v10M334 486v10M335 486v10M336 486v10M338 486v10M339 486v10M340 486v10M341 486v10M342 486v10M343 486v10M344 486v10M345 486v10M346 486v10M354 486v10M355 486v10M356 486v10M358 486v10M359 486v10M360 486v10M361 486v10M363 486v10M364 486v10M365 486v10M368 486v10M371 486v10M376 486v10M391 486v10M393 486v10"/>
<path stroke="#ff8400" d="M146 345v3M233 345v3M235 369v3M237 381v6M244 396v3M244 402v3M253 399v3M255 387v3M148 428v6M236 428v6M244 428v6M245 428v6M265 455v10M224 465v11M152 476v10M166 476v10M168 476v10M182 476v10M183 476v10M184 476v10M193 476v10M196 476v10M198 476v10M201 476v10M285 486v10M286 486v10M287 486v10M288 486v10M289 486v10M290 486v10M295 486v10M296 486v10M297 486v10M298 486v10M299 486v10M300 486v10M301 486v10M305 486v10M307 486v10M308 486v10M309 486v10M310 486v10M313 486v10M314 486v10M315 486v10M316 486v10M318 486v10M323 486v10M324 486v10M326 486v10M331 486v10M332 486v10M333 486v10M347 486v10M348 486v10M349 486v10M350 486v10M351 486v10M352 486v10M353 486v10M362 486v10M366 486v10M367 486v10M374 486v10M377 486v10M378 486v10M379 486v10M380 486v10M381 486v10M386 486v10M387 486v10M388 486v10M390 486v10"/>
<path stroke="#ff7c00" d="M146 360v3M233 396v3M236 366v3M237 387v3M238 384v3M251 375v6M251 384v6M253 378v3M253 387v3M253 396v3M147 428v6M215 428v6M216 428v6M233 434v11M147 445v10M148 445v10M267 455v10M136 476v10M141 476v10M162 476v10M163 476v10M167 476v10M195 476v10M197 476v10M202 476v10M209 476v10M291 486v10M292 486v10M302 486v10M303 486v10M304 486v10M317 486v10M325 486v10M372 486v10M373 486v10M382 486v10M383 486v10M384 486v10M385 486v10M389 486v10M394 486v10"/>
<path stroke="#ff7400" d="M146 348v3M146 369v3M237 390v3M237 396v3M237 402v3M238 378v3M238 390v3M253 372v3M253 390v3M255 390v3M256 378v3M232 428v6M237 428v6M241 428v6M243 428v6M255 428v6M232 434v11M234 434v11M266 455v10M221 465v11M194 476v10"/>
<path stroke="#ff6c00" d="M146 354v3M146 381v3M146 390v3M233 366v3M235 402v3M238 387v3M251 390v3M146 428v6M233 428v6M240 428v6M242 428v6M246 428v6M250 428v6M251 428v6M256 428v6M146 445v10M216 445v10M232 455v10M233 455v10M237 455v10M231 465v11"/>
<path stroke="#ff6400" d="M146 336v3M146 342v3M146 372v6M146 396v3M233 393v3M249 399v3M247 428v6M254 428v6M215 445v10M215 455v10M216 455v10M236 455v10M223 465v11M226 476v10"/>
<path stroke="#ff5c00" d="M146 339v3M146 393v3M234 375v3M236 372v3M238 393v3M238 399v3M239 384v3M251 393v3M253 375v3M253 384v3M253 393v3M253 402v3M252 428v6M253 428v6M257 428v6M148 434v11M237 434v11M246 434v11M251 434v11M252 434v11M232 445v10M222 465v11M237 465v11M218 476v10M219 476v10M225 476v10M227 476v10M228 476v10M229 476v10M230 476v10M231 476v10"/>
<path stroke="#ff5500" d="M146 366v3M146 384v6M233 399v3M235 372v3M235 390v3M239 399v6M251 399v3M239 428v6M248 428v6M249 428v6M235 434v11M245 434v11M250 434v11M233 445v10M215 465v11M220 476v10M222 476v10M223 476v10M235 476v10M264 476v10M141 486v10"/>
<path stroke="#ff4f00" d="M146 330v3M146 378v3M146 402v3M233 402v3M234 381v3M235 378v3M235 396v3M238 396v3M238 402v3M239 393v3M251 396v3M238 428v6M147 434v11M236 434v11M241 434v11M234 445v10M235 445v10M236 445v10M250 455v10M216 465v11M221 476v10M234 476v10M140 486v10M142 486v10"/>
<path stroke="#ff4900" d="M146 333v3M146 399v3M234 378v3M235 375v3M239 387v3M239 396v3M146 434v11M247 434v11M257 434v11M148 455v10M234 465v11M215 476v10M216 476v10M224 476v10M263 476v10M265 476v10M167 486v10M181 486v10M201 486v10M202 486v10"/>
<path stroke="#ff4300" d="M233 390v3M235 381v6M251 402v3M253 434v11M255 434v11M261 434v11M237 445v10M244 445v10M247 445v10M147 455v10M267 465v11M236 476v10M139 486v10M143 486v10M160 486v10M161 486v10M166 486v10M168 486v10M172 486v10M179 486v10M180 486v10M182 486v10M193 486v10M194 486v10M195 486v10M196 486v10M203 486v10M204 486v10M208 486v10M209 486v10M210 486v10M211 486v10M212 486v10M217 486v10M225 486v10M226 486v10"/>
<path stroke="#ff3e00" d="M233 369v9M233 381v3M233 387v3M234 384v3M235 387v3M235 399v3M239 390v3M238 434v11M242 434v11M249 434v11M254 434v11M256 434v11M260 434v11M252 445v10M146 455v10M235 455v10M247 455v10M148 465v11M233 465v11M148 476v10M233 476v10M266 476v10M267 476v10M155 486v10M156 486v10M157 486v10M158 486v10M159 486v10M162 486v10M163 486v10M164 486v10M165 486v10M173 486v10M189 486v10M190 486v10M199 486v10M200 486v10M205 486v10M206 486v10M207 486v10M213 486v10M220 486v10M221 486v10M222 486v10M223 486v10M224 486v10"/>
<path stroke="#ff3800" d="M233 384v3M235 393v3M256 384v3M256 393v6M240 434v11M243 434v11M244 434v11M248 434v11M258 434v11M259 434v11M240 445v10M248 445v10M253 445v10M234 455v10M249 455v10M251 455v10M146 465v11M147 465v11M263 465v11M147 476v10M232 476v10M237 476v10M138 486v10M149 486v10M153 486v10M154 486v10M169 486v10M170 486v10M171 486v10M178 486v10M183 486v10M186 486v10M187 486v10M188 486v10M191 486v10M192 486v10M197 486v10M198 486v10M216 486v10M218 486v10M219 486v10M227 486v10M283 496v8M284 496v8"/>
<path stroke="#ff3300" d="M233 378v3M234 396v3M243 445v10M238 455v10M239 455v10M240 455v10M246 455v10M136 486v10M137 486v10M144 486v10M145 486v10M174 486v10M176 486v10M214 486v10M229 486v10M231 486v10M274 496v8"/>
<path stroke="#ff2d00" d="M234 387v6M256 390v3M256 399v6M262 434v11M245 445v10M246 445v10M254 445v10M259 445v10M241 455v10M244 455v10M248 455v10M262 455v10M232 465v11M250 465v11M254 465v11M264 465v11M265 465v11M266 465v11M146 476v10M259 476v10M150 486v10M151 486v10M152 486v10M175 486v10M177 486v10M184 486v10M185 486v10M228 486v10M230 486v10M232 486v10M233 486v10M236 486v10M265 486v10M266 486v10M267 486v10M282 496v8M285 496v8M286 496v8M295 496v8M312 496v8M318 496v8M319 496v8M387 496v8M388 496v8"/>
<path stroke="#ff2700" d="M256 381v3M256 387v3M216 434v11M239 434v11M249 445v10M245 455v10M253 455v10M254 455v10M255 455v10M261 455v10M235 465v11M251 465v11M215 486v10M237 486v10M149 496v8M152 496v8M176 496v8M177 496v8M203 496v8M210 496v8M273 496v8M275 496v8M281 496v8M287 496v8M290 496v8M292 496v8M293 496v8M294 496v8M296 496v8M299 496v8M306 496v8M307 496v8M308 496v8M310 496v8M311 496v8M313 496v8M317 496v8M320 496v8M322 496v8M323 496v8M326 496v8M327 496v8M328 496v8M334 496v8M337 496v8M338 496v8M339 496v8M340 496v8M341 496v8M344 496v8M345 496v8M356 496v8M357 496v8M358 496v8M359 496v8M360 496v8M361 496v8M366 496v8M367 496v8M368 496v8M369 496v8M371 496v8M372 496v8M373 496v8M375 496v8M379 496v8M380 496v8M381 496v8M386 496v8M389 496v8M392 496v8M393 496v8"/>
<path stroke="#ff2200" d="M234 393v3M236 381v3M239 381v3M215 434v11M239 445v10M241 445v10M251 445v10M255 445v10M260 445v10M242 455v10M243 455v10M252 455v10M256 455v10M247 465v11M249 465v11M255 465v11M147 486v10M148 486v10M234 486v10M235 486v10M247 486v10M252 486v10M263 486v10M264 486v10M138 496v8M150 496v8M151 496v8M156 496v8M175 496v8M202 496v8M208 496v8M209 496v8M211 496v8M228 496v8M229 496v8M230 496v8M231 496v8M232 496v8M272 496v8M276 496v8M277 496v8M280 496v8M288 496v8M289 496v8M291 496v8M297 496v8M298 496v8M300 496v8M301 496v8M302 496v8M303 496v8M304 496v8M305 496v8M309 496v8M314 496v8M315 496v8M316 496v8M321 496v8M324 496v8M325 496v8M329 496v8M330 496v8M331 496v8M333 496v8M335 496v8M336 496v8M342 496v8M343 496v8M346 496v8M347 496v8M348 496v8M349 496v8M350 496v8M351 496v8M352 496v8M353 496v8M354 496v8M355 496v8M362 496v8M363 496v8M364 496v8M365 496v8M370 496v8M374 496v8M376 496v8M377 496v8M378 496v8M382 496v8M383 496v8M384 496v8M385 496v8M390 496v8M391 496v8M394 496v8"/>
<path stroke="#ff1c00" d="M146 315v3M234 399v6M236 387v3M236 396v3M238 445v10M258 445v10M257 455v10M238 465v11M240 465v11M256 465v11M259 465v11M260 465v11M261 465v11M262 465v11M240 476v10M245 476v10M252 476v10M258 476v10M146 486v10M246 486v10M253 486v10M259 486v10M139 496v8M140 496v8M144 496v8M145 496v8M148 496v8M153 496v8M157 496v8M165 496v8M166 496v8M167 496v8M168 496v8M173 496v8M174 496v8M178 496v8M179 496v8M180 496v8M184 496v8M185 496v8M198 496v8M199 496v8M201 496v8M204 496v8M207 496v8M212 496v8M213 496v8M214 496v8M215 496v8M216 496v8M217 496v8M218 496v8M221 496v8M227 496v8M233 496v8M234 496v8M237 496v8M266 496v8M267 496v8M271 496v8M278 496v8M279 496v8M332 496v8"/>
<path stroke="#ff1700" d="M146 321v3M236 378v3M242 445v10M256 445v10M260 455v10M241 465v11M243 465v11M252 465v11M258 465v11M244 476v10M246 476v10M253 476v10M256 476v10M260 476v10M245 486v10M248 486v10M254 486v10M260 486v10M261 486v10M136 496v8M137 496v8M143 496v8M146 496v8M147 496v8M154 496v8M155 496v8M158 496v8M159 496v8M160 496v8M162 496v8M163 496v8M164 496v8M169 496v8M170 496v8M171 496v8M172 496v8M182 496v8M183 496v8M189 496v8M190 496v8M191 496v8M192 496v8M193 496v8M194 496v8M195 496v8M196 496v8M197 496v8M200 496v8M205 496v8M206 496v8M219 496v8M220 496v8M222 496v8M223 496v8M224 496v8M225 496v8M226 496v8M235 496v8M236 496v8M246 496v8M247 496v8M251 496v8M252 496v8M263 496v8M264 496v8M265 496v8M268 496v8M270 496v8"/>
<path stroke="#ff1100" d="M146 324v3M236 402v3M261 445v10M262 445v10M258 455v10M259 455v10M239 465v11M242 465v11M246 465v11M248 465v11M253 465v11M239 476v10M241 476v10M247 476v10M248 476v10M254 476v10M255 476v10M257 476v10M239 486v10M244 486v10M255 486v10M256 486v10M257 486v10M258 486v10M262 486v10M141 496v8M142 496v8M161 496v8M181 496v8M186 496v8M188 496v8M238 496v8M241 496v8M242 496v8M244 496v8M245 496v8M253 496v8M254 496v8M269 496v8"/>
<path stroke="#ff0b00" d="M236 390v3M244 465v11M257 465v11M242 476v10M249 476v10M251 476v10M238 486v10M240 486v10M251 486v10M187 496v8M239 496v8M240 496v8M243 496v8M248 496v8M249 496v8M250 496v8M255 496v8M258 496v8M259 496v8M260 496v8M261 496v8M262 496v8"/>
<path stroke="#ff0600" d="M146 327v3M236 399v3M250 445v10M257 445v10M238 476v10M243 476v10M250 476v10M241 486v10M243 486v10M249 486v10M256 496v8M257 496v8"/>
<path stroke="#ff0000" d="M146 312v3M146 318v3M236 375v3M236 384v3M236 393v3M245 465v11M261 476v10M262 476v10M242 486v10M250 486v10"/>
</g>
<polyline fill="none" stroke="#ff00ff" stroke-width="1.6" stroke-linejoin="round" stroke-linecap="round" points="138.4,58.7 141.4,61.7 144.4,64.7 147.4,67.6 150.4,70.5 153.4,73.4 156.4,76.2 159.4,78.9 162.4,81.7 165.4,84.3 168.4,86.9 171.4,89.5 174.4,92.1 177.4,94.5 180.4,97.0 183.4,99.4 186.4,101.7 189.4,104.0 192.4,106.3 195.4,108.5 198.4,110.7 201.4,112.8 204.4,114.9 207.4,116.9 210.4,118.9 213.4,120.9 216.4,122.8 219.4,124.6 222.4,126.5 225.4,128.3 228.4,130.0 231.4,131.8 234.4,133.5 237.4,135.1 240.4,136.7 243.4,138.3 246.4,139.9 249.4,141.4 252.4,142.9 255.4,144.4 258.4,145.8 261.4,147.2 264.4,148.6 267.4,149.9 270.4,151.3 273.4,152.6 276.4,153.9 279.4,155.1 282.4,156.4 285.4,157.6 288.4,158.8 291.4,159.9 294.4,161.1 297.4,162.2 300.4,163.4 303.4,164.5 306.4,165.6 309.4,166.6 312.4,167.7 315.4,168.7 318.4,169.8 321.4,170.8 324.4,171.8 327.4,172.8 330.4,173.7 333.4,174.7 336.4,175.6 339.4,176.5 342.4,177.5 345.4,178.3 348.4,179.2 351.4,180.1 354.4,180.9 357.4,181.7 360.4,182.5 363.4,183.3 366.4,184.1 369.4,184.8 372.4,185.5 375.4,186.2 378.4,186.9 381.4,187.5 384.4,188.1 387.4,188.7 389.7,189.1"/>
<g shape-rendering="crispEdges" fill="#000">
<rect x="90" y="51" width="864" height="1" fill="#000"/>
<rect x="90" y="405" width="864" height="1" fill="#000"/>
<rect x="90" y="51" width="1" height="355" fill="#000"/>
<rect x="953" y="51" width="1" height="355" fill="#000"/>
<rect x="90" y="427" width="864" height="1" fill="#000"/>
<rect x="90" y="504" width="864" height="1" fill="#000"/>
<rect x="90" y="427" width="1" height="78" fill="#000"/>
<rect x="953" y="427" width="1" height="78" fill="#000"/>
<rect x="81" y="405" width="9" height="1" fill="#000"/>
<rect x="86" y="375" width="4" height="1" fill="#000"/>
<rect x="86" y="358" width="4" height="1" fill="#000"/>
<rect x="86" y="346" width="4" height="1" fill="#000"/>
<rect x="86" y="336" width="4" height="1" fill="#000"/>
<rect x="86" y="328" width="4" height="1" fill="#000"/>
<rect x="86" y="322" width="4" height="1" fill="#000"/>
<rect x="86" y="316" width="4" height="1" fill="#000"/>
<rect x="86" y="311" width="4" height="1" fill="#000"/>
<rect x="81" y="307" width="9" height="1" fill="#000"/>
<rect x="86" y="277" width="4" height="1" fill="#000"/>
<rect x="86" y="260" width="4" height="1" fill="#000"/>
<rect x="86" y="248" width="4" height="1" fill="#000"/>
<rect x="86" y="239" width="4" height="1" fill="#000"/>
<rect x="86" y="231" width="4" height="1" fill="#000"/>
<rect x="86" y="224" width="4" height="1" fill="#000"/>
<rect x="86" y="219" width="4" height="1" fill="#000"/>
<rect x="86" y="214" width="4" height="1" fill="#000"/>
<rect x="81" y="209" width="9" height="1" fill="#000"/>
<rect x="86" y="180" width="4" height="1" fill="#000"/>
<rect x="86" y="162" width="4" height="1" fill="#000"/>
<rect x="86" y="150" width="4" height="1" fill="#000"/>
<rect x="86" y="141" width="4" height="1" fill="#000"/>
<rect x="86" y="133" width="4" height="1" fill="#000"/>
<rect x="86" y="127" width="4" height="1" fill="#000"/>
<rect x="86" y="121" width="4" height="1" fill="#000"/>
<rect x="86" y="116" width="4" height="1" fill="#000"/>
<rect x="81" y="111" width="9" height="1" fill="#000"/>
<rect x="86" y="82" width="4" height="1" fill="#000"/>
<rect x="86" y="65" width="4" height="1" fill="#000"/>
<rect x="86" y="53" width="4" height="1" fill="#000"/>
<rect x="86" y="498" width="4" height="1" fill="#000"/>
<rect x="86" y="491" width="4" height="1" fill="#000"/>
<rect x="86" y="486" width="4" height="1" fill="#000"/>
<rect x="86" y="482" width="4" height="1" fill="#000"/>
<rect x="86" y="479" width="4" height="1" fill="#000"/>
<rect x="86" y="476" width="4" height="1" fill="#000"/>
<rect x="86" y="474" width="4" height="1" fill="#000"/>
<rect x="86" y="471" width="4" height="1" fill="#000"/>
<rect x="81" y="470" width="9" height="1" fill="#000"/>
<rect x="86" y="457" width="4" height="1" fill="#000"/>
<rect x="86" y="450" width="4" height="1" fill="#000"/>
<rect x="86" y="445" width="4" height="1" fill="#000"/>
<rect x="86" y="441" width="4" height="1" fill="#000"/>
<rect x="86" y="438" width="4" height="1" fill="#000"/>
<rect x="86" y="435" width="4" height="1" fill="#000"/>
<rect x="86" y="432" width="4" height="1" fill="#000"/>
<rect x="86" y="430" width="4" height="1" fill="#000"/>
<rect x="81" y="428" width="9" height="1" fill="#000"/>
<rect x="91" y="505" width="1" height="9" fill="#000"/>
<rect x="122" y="505" width="1" height="4" fill="#000"/>
<rect x="153" y="505" width="1" height="4" fill="#000"/>
<rect x="185" y="505" width="1" height="4" fill="#000"/>
<rect x="216" y="505" width="1" height="9" fill="#000"/>
<rect x="248" y="505" width="1" height="4" fill="#000"/>
<rect x="279" y="505" width="1" height="4" fill="#000"/>
<rect x="311" y="505" width="1" height="4" fill="#000"/>
<rect x="342" y="505" width="1" height="9" fill="#000"/>
<rect x="374" y="505" width="1" height="4" fill="#000"/>
<rect x="405" y="505" width="1" height="4" fill="#000"/>
<rect x="437" y="505" width="1" height="4" fill="#000"/>
<rect x="468" y="505" width="1" height="9" fill="#000"/>
<rect x="499" y="505" width="1" height="4" fill="#000"/>
<rect x="531" y="505" width="1" height="4" fill="#000"/>
<rect x="562" y="505" width="1" height="4" fill="#000"/>
<rect x="594" y="505" width="1" height="9" fill="#000"/>
<rect x="625" y="505" width="1" height="4" fill="#000"/>
<rect x="657" y="505" width="1" height="4" fill="#000"/>
<rect x="688" y="505" width="1" height="4" fill="#000"/>
<rect x="720" y="505" width="1" height="9" fill="#000"/>
<rect x="751" y="505" width="1" height="4" fill="#000"/>
<rect x="783" y="505" width="1" height="4" fill="#000"/>
<rect x="814" y="505" width="1" height="4" fill="#000"/>
<rect x="846" y="505" width="1" height="9" fill="#000"/>
<rect x="877" y="505" width="1" height="4" fill="#000"/>
<rect x="908" y="505" width="1" height="4" fill="#000"/>
<rect x="940" y="505" width="1" height="4" fill="#000"/>
</g>
<defs>
<linearGradient id="cb" x1="0" y1="1" x2="0" y2="0">
<stop offset="0.0000" stop-color="#000089"/>
<stop offset="0.1176" stop-color="#0000ff"/>
<stop offset="0.2471" stop-color="#00ffff"/>
<stop offset="0.4941" stop-color="#00ff00"/>
<stop offset="0.6353" stop-color="#ffff00"/>
<stop offset="0.7529" stop-color="#ffb900"/>
<stop offset="0.8667" stop-color="#ff5400"/>
<stop offset="1.0000" stop-color="#ff0000"/>
</linearGradient>
</defs>
<g shape-rendering="crispEdges">
<rect x="966" y="53" width="14" height="352" fill="url(#cb)"/>
<rect x="966" y="429" width="14" height="76" fill="url(#cb)"/>
<rect x="979" y="52" width="1" height="354" fill="#000"/>
<rect x="979" y="428" width="1" height="77" fill="#000"/>
<rect x="979" y="52" width="10" height="1" fill="#000"/>
<rect x="979" y="87" width="5" height="1" fill="#000"/>
<rect x="979" y="122" width="10" height="1" fill="#000"/>
<rect x="979" y="157" width="5" height="1" fill="#000"/>
<rect x="979" y="193" width="10" height="1" fill="#000"/>
<rect x="979" y="228" width="5" height="1" fill="#000"/>
<rect x="979" y="263" width="10" height="1" fill="#000"/>
<rect x="979" y="299" width="5" height="1" fill="#000"/>
<rect x="979" y="334" width="10" height="1" fill="#000"/>
<rect x="979" y="369" width="5" height="1" fill="#000"/>
<rect x="966" y="405" width="23" height="1" fill="#000"/>
<rect x="979" y="428" width="5" height="1" fill="#000"/>
<rect x="979" y="435" width="5" height="1" fill="#000"/>
<rect x="979" y="443" width="5" height="1" fill="#000"/>
<rect x="979" y="450" width="5" height="1" fill="#000"/>
<rect x="979" y="458" width="10" height="1" fill="#000"/>
<rect x="979" y="466" width="5" height="1" fill="#000"/>
<rect x="979" y="473" width="5" height="1" fill="#000"/>
<rect x="979" y="481" width="5" height="1" fill="#000"/>
<rect x="979" y="488" width="5" height="1" fill="#000"/>
<rect x="979" y="496" width="10" height="1" fill="#000"/>
<rect x="979" y="504" width="5" height="1" fill="#000"/>
</g>
<g font-family="Liberation Sans, Arial, sans-serif" font-size="13" fill="#000">
<text transform="translate(521.5 30.7) scale(1 1.07)" text-anchor="middle" textLength="483.5" lengthAdjust="spacing">DE 1/PWI-SFC&#160; Spin Plane E-Field Spectra, 200 meter antenna, 104 Hz to 409 kHz</text>
<text transform="translate(521.5 44.3) scale(1 1.07)" text-anchor="middle" font-size="9" font-weight="bold" textLength="124" lengthAdjust="spacing">(Magenta Line: Fce in Hz)</text>
<text transform="translate(522 419.2) scale(1 1.07)" text-anchor="middle" textLength="479.5" lengthAdjust="spacing">DE 1/PWI-LFC&#160; Spin Plane E-Field Spectra, 200 meter antenna, 1.78 Hz to 100 Hz</text>
<text transform="translate(521 611.5) scale(1 1.07)" text-anchor="middle" textLength="282.5" lengthAdjust="spacing">1984-02-16 (047) 22:00 to 1984-02-17 (048) 04:51</text>
<text transform="translate(76.8 119.2) scale(1 1.12)" text-anchor="end">10<tspan dy="-5.3" dx="-0.7">5</tspan></text>
<text transform="translate(76.8 217.2) scale(1 1.12)" text-anchor="end">10<tspan dy="-5.3" dx="-0.7">4</tspan></text>
<text transform="translate(76.8 315.2) scale(1 1.12)" text-anchor="end">10<tspan dy="-5.3" dx="-0.7">3</tspan></text>
<text transform="translate(76.8 413.2) scale(1 1.12)" text-anchor="end">10<tspan dy="-5.3" dx="-0.7">2</tspan></text>
<text transform="translate(76.8 436.0) scale(1 1.12)" text-anchor="end">10<tspan dy="-5.3" dx="-0.7">2</tspan></text>
<text transform="translate(76.8 478.2) scale(1 1.12)" text-anchor="end">10<tspan dy="-5.3" dx="-0.7">1</tspan></text>
<text transform="translate(991.3 59.8) scale(1 1.12)" text-anchor="start">10<tspan dy="-5.3" dx="-0.7">-6</tspan></text>
<text transform="translate(991.3 129.79999999999998) scale(1 1.12)" text-anchor="start">10<tspan dy="-5.3" dx="-0.7">-8</tspan></text>
<text transform="translate(991.3 200.79999999999998) scale(1 1.12)" text-anchor="start">10<tspan dy="-5.3" dx="-0.7">-10</tspan></text>
<text transform="translate(991.3 270.8) scale(1 1.12)" text-anchor="start">10<tspan dy="-5.3" dx="-0.7">-12</tspan></text>
<text transform="translate(991.3 341.8) scale(1 1.12)" text-anchor="start">10<tspan dy="-5.3" dx="-0.7">-14</tspan></text>
<text transform="translate(991.3 412.8) scale(1 1.12)" text-anchor="start">10<tspan dy="-5.3" dx="-0.7">-16</tspan></text>
<text transform="translate(991.3 465.8) scale(1 1.12)" text-anchor="start">10<tspan dy="-5.3" dx="-0.7">-10</tspan></text>
<text transform="translate(991.3 503.7) scale(1 1.12)" text-anchor="start">10<tspan dy="-5.3" dx="-0.7">-15</tspan></text>
<text transform="translate(46.7 228.3) rotate(-90) scale(1 1.07)" text-anchor="middle" textLength="88.5" lengthAdjust="spacing">Frequency (Hz)</text>
<text transform="translate(46.8 465.9) rotate(-90) scale(1 1.07)" text-anchor="middle" textLength="53.5" lengthAdjust="spacing">Freq (Hz)</text>
<text transform="translate(1048.9 228) rotate(-90) scale(1 1.07)" text-anchor="middle">Ex (V<tspan dy="-6.7">2</tspan><tspan dy="6.7"> m</tspan><tspan dy="-6.7">-2</tspan><tspan dy="6.7"> Hz</tspan><tspan dy="-6.7">-1</tspan><tspan dy="6.7">)</tspan></text>
<text transform="translate(1042.1 465.8) rotate(-90) scale(1 1.07)" text-anchor="middle">LFC Ex</text>
<text transform="translate(106.7 529.8) scale(1 1.07)" text-anchor="end" >22:00</text>
<text transform="translate(231.7 529.8) scale(1 1.07)" text-anchor="end" >23:00</text>
<text transform="translate(357.7 529.8) scale(1 1.07)" text-anchor="end" >00:00</text>
<text transform="translate(483.7 529.8) scale(1 1.07)" text-anchor="end" >01:00</text>
<text transform="translate(609.7 529.8) scale(1 1.07)" text-anchor="end" >02:00</text>
<text transform="translate(735.7 529.8) scale(1 1.07)" text-anchor="end" >03:00</text>
<text transform="translate(861.7 529.8) scale(1 1.07)" text-anchor="end" >04:00</text>
<text transform="translate(231.7 544.7) scale(1 1.07)" text-anchor="end" >2.818</text>
<text transform="translate(231.7 560.7) scale(1 1.07)" text-anchor="end" >57.353</text>
<text transform="translate(231.7 576.7) scale(1 1.07)" text-anchor="end" >9.005</text>
<text transform="translate(231.7 592.7) scale(1 1.07)" text-anchor="end" >76.267</text>
<text transform="translate(357.7 544.7) scale(1 1.07)" text-anchor="end" >4.063</text>
<text transform="translate(357.7 560.7) scale(1 1.07)" text-anchor="end" >9.366</text>
<text transform="translate(357.7 576.7) scale(1 1.07)" text-anchor="end" >11.623</text>
<text transform="translate(357.7 592.7) scale(1 1.07)" text-anchor="end" >49.297</text>
<text transform="translate(59.5 544.7) scale(1 1.07)" text-anchor="end" >R<tspan font-size="8.5" dy="3.5">e</tspan></text>
<text transform="translate(59.5 560.7) scale(1 1.07)" text-anchor="end" >L</text>
<text transform="translate(59.3 576.7) scale(1 1.07)" text-anchor="end" >M<tspan font-size="8.4" dy="3.8" dx="0.3">LT</tspan></text>
<text transform="translate(59.3 592.7) scale(1 1.07)" text-anchor="end" >M<tspan font-size="8.4" dy="3.8" dx="0.3">LAT</tspan></text>
</g>
</svg>
</body></html>
